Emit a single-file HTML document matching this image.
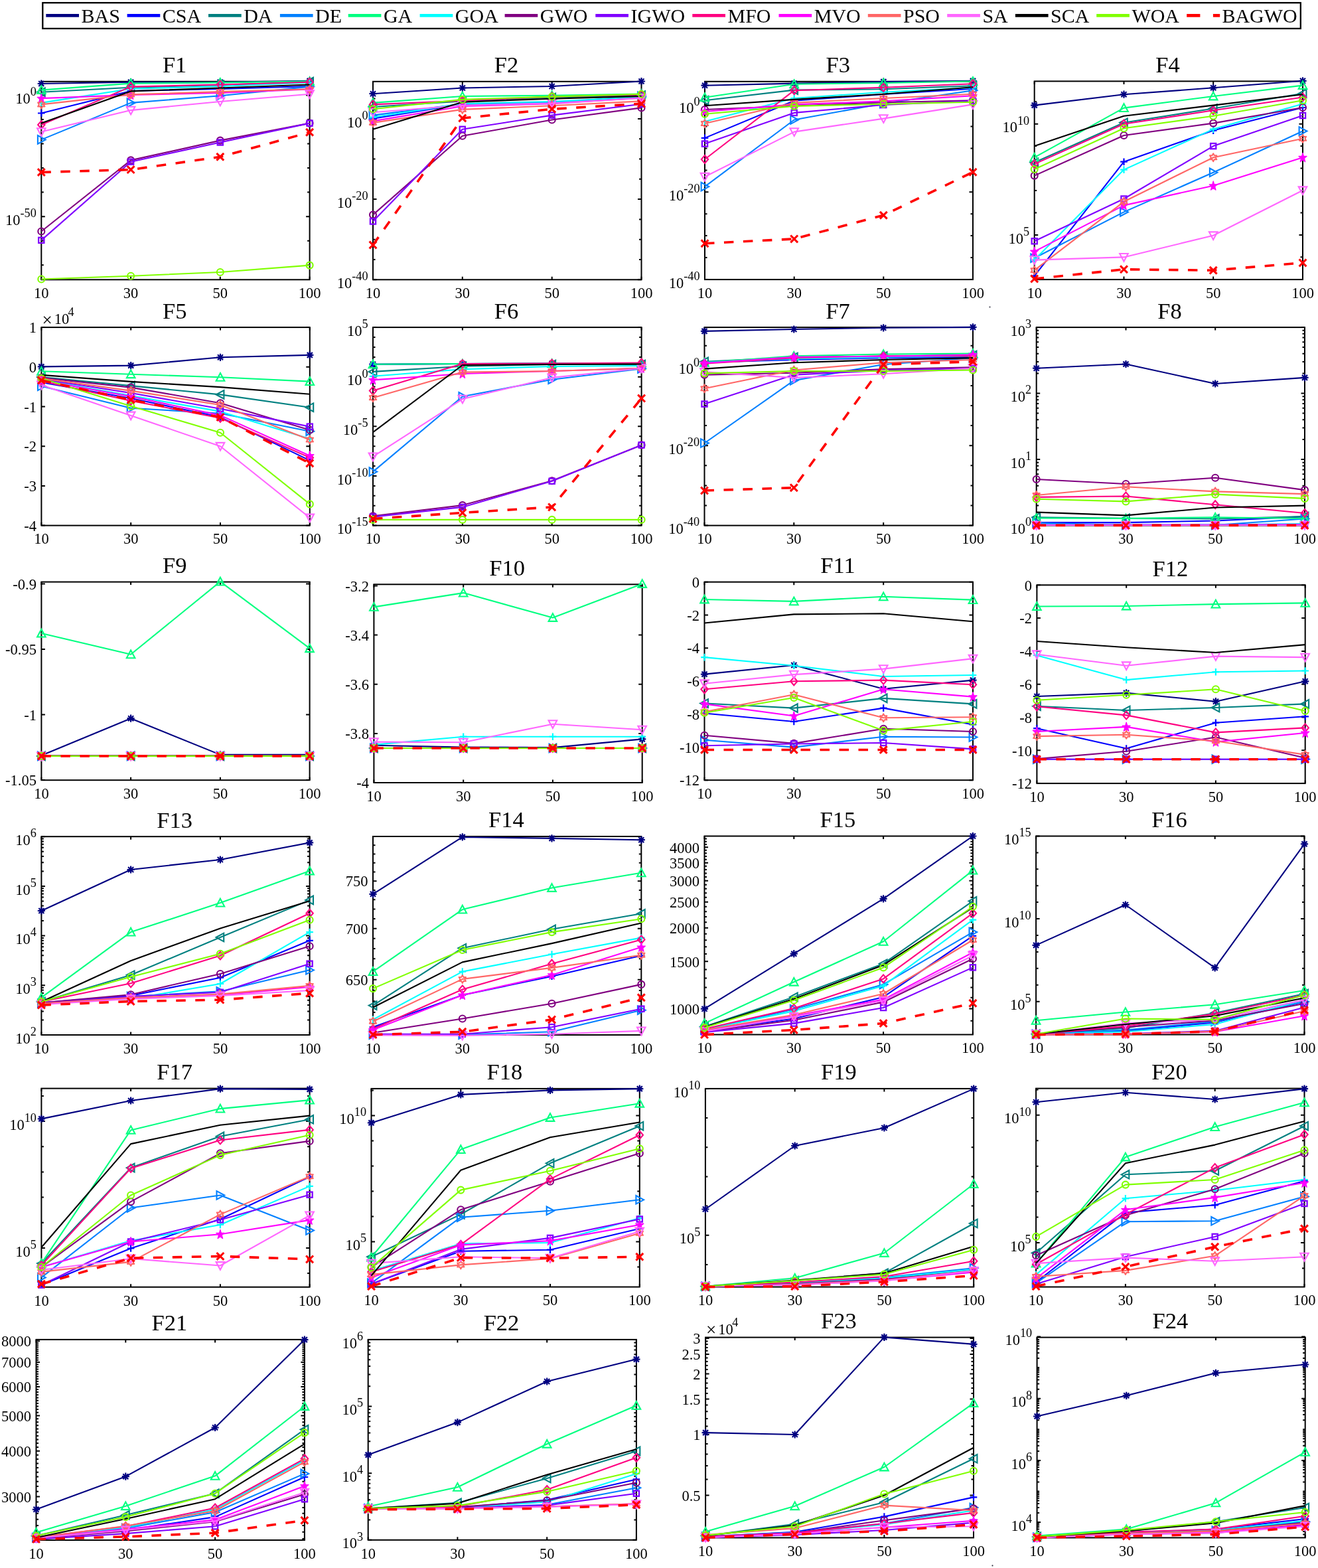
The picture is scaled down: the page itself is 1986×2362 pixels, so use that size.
<!DOCTYPE html>
<html><head><meta charset="utf-8"><style>
html,body{margin:0;padding:0;background:#fff;}
svg{display:block;}
.t{font-family:"Liberation Serif","Times New Roman",serif;font-size:22.5px;fill:#000;}
.ti{font-family:"Liberation Serif","Times New Roman",serif;font-size:34.5px;fill:#000;}
.tl{font-family:"Liberation Serif","Times New Roman",serif;font-size:30px;fill:#000;}
</style></head><body>
<svg width="1986" height="2362" viewBox="0 0 1986 2362">
<rect width="1986" height="2362" fill="#fff"/>
<rect x="64.3" y="4.2" width="1895.5" height="38.8" fill="#fff" stroke="#000" stroke-width="2.3"/>
<path d="M69.3 23.4H119.0" stroke="#000080" stroke-width="4.6"/>
<text x="122.5" y="34.2" class="tl">BAS</text>
<path d="M191.6 23.4H241.3" stroke="#0000FF" stroke-width="4.6"/>
<text x="244.8" y="34.2" class="tl">CSA</text>
<path d="M314.0 23.4H363.7" stroke="#008080" stroke-width="4.6"/>
<text x="367.2" y="34.2" class="tl">DA</text>
<path d="M421.9 23.4H471.6" stroke="#0080FF" stroke-width="4.6"/>
<text x="475.1" y="34.2" class="tl">DE</text>
<path d="M524.7 23.4H574.4" stroke="#00FF80" stroke-width="4.6"/>
<text x="577.9" y="34.2" class="tl">GA</text>
<path d="M632.6 23.4H682.3" stroke="#00FFFF" stroke-width="4.6"/>
<text x="685.8" y="34.2" class="tl">GOA</text>
<path d="M760.6 23.4H810.3" stroke="#800080" stroke-width="4.6"/>
<text x="813.8" y="34.2" class="tl">GWO</text>
<path d="M897.3 23.4H947.0" stroke="#8000FF" stroke-width="4.6"/>
<text x="950.5" y="34.2" class="tl">IGWO</text>
<path d="M1043.3 23.4H1093.0" stroke="#FF0080" stroke-width="4.6"/>
<text x="1096.5" y="34.2" class="tl">MFO</text>
<path d="M1173.5 23.4H1223.2" stroke="#FF00FF" stroke-width="4.6"/>
<text x="1226.7" y="34.2" class="tl">MVO</text>
<path d="M1307.8 23.4H1357.5" stroke="#FF6666" stroke-width="4.6"/>
<text x="1361.0" y="34.2" class="tl">PSO</text>
<path d="M1427.2 23.4H1476.9" stroke="#FF66FF" stroke-width="4.6"/>
<text x="1480.4" y="34.2" class="tl">SA</text>
<path d="M1529.9 23.4H1579.6" stroke="#000000" stroke-width="4.6"/>
<text x="1583.1" y="34.2" class="tl">SCA</text>
<path d="M1652.2 23.4H1701.9" stroke="#80FF00" stroke-width="4.6"/>
<text x="1705.4" y="34.2" class="tl">WOA</text>
<path d="M1788.2 23.4H1808.4M1827.9 23.4H1838.2" stroke="#FF0000" stroke-width="4.6"/>
<text x="1841.4" y="34.2" class="tl">BAGWO</text>
<circle cx="1491.5" cy="462.5" r="1.1" fill="#3a3a4a"/>
<circle cx="1495.5" cy="2358.4" r="1.1" fill="#3a3a4a"/>
<rect x="62.3" y="122.8" width="404.3" height="298.5" fill="none" stroke="#000" stroke-width="2.0"/>
<path d="M62.3 421.3V416.8M62.3 122.8V127.3" stroke="#000" stroke-width="2"/>
<text x="62.3" y="449.0" text-anchor="middle" class="t">10</text>
<path d="M197.1 421.3V416.8M197.1 122.8V127.3" stroke="#000" stroke-width="2"/>
<text x="197.1" y="449.0" text-anchor="middle" class="t">30</text>
<path d="M331.8 421.3V416.8M331.8 122.8V127.3" stroke="#000" stroke-width="2"/>
<text x="331.8" y="449.0" text-anchor="middle" class="t">50</text>
<path d="M466.6 421.3V416.8M466.6 122.8V127.3" stroke="#000" stroke-width="2"/>
<text x="466.6" y="449.0" text-anchor="middle" class="t">100</text>
<path d="M62.3 143.4H67.8M466.6 143.4H461.1" stroke="#000" stroke-width="2"/>
<text x="54.8" y="156.0" text-anchor="end" class="t">10<tspan font-size="18.2" dy="-11.8">0</tspan></text>
<path d="M62.3 326.2H67.8M466.6 326.2H461.1" stroke="#000" stroke-width="2"/>
<text x="54.8" y="338.8" text-anchor="end" class="t">10<tspan font-size="18.2" dy="-11.8">-50</tspan></text>
<path d="M62.3 399.3H65.8M466.6 399.3H463.1" stroke="#000" stroke-width="2"/>
<path d="M62.3 362.8H65.8M466.6 362.8H463.1" stroke="#000" stroke-width="2"/>
<path d="M62.3 289.6H65.8M466.6 289.6H463.1" stroke="#000" stroke-width="2"/>
<path d="M62.3 253.1H65.8M466.6 253.1H463.1" stroke="#000" stroke-width="2"/>
<path d="M62.3 216.5H65.8M466.6 216.5H463.1" stroke="#000" stroke-width="2"/>
<path d="M62.3 180.0H65.8M466.6 180.0H463.1" stroke="#000" stroke-width="2"/>
<polyline points="62.3,126.0 197.1,123.7 331.8,123.7 466.6,121.9" fill="none" stroke="#000080" stroke-width="2.1" stroke-linejoin="round"/>
<path d="M56.7 126.0H67.9M62.3 120.4V131.6M58.3 122.0L66.3 130.0M58.3 130.0L66.3 122.0" stroke="#000080" stroke-width="2.2"/>
<path d="M191.5 123.7H202.7M197.1 118.1V129.3M193.0 119.7L201.1 127.7M193.0 127.7L201.1 119.7" stroke="#000080" stroke-width="2.2"/>
<path d="M326.2 123.7H337.4M331.8 118.1V129.3M327.8 119.7L335.9 127.7M327.8 127.7L335.9 119.7" stroke="#000080" stroke-width="2.2"/>
<path d="M461.0 121.9H472.2M466.6 116.3V127.5M462.6 117.9L470.6 125.9M462.6 125.9L470.6 117.9" stroke="#000080" stroke-width="2.2"/>
<polyline points="62.3,170.5 197.1,137.0 331.8,134.0 466.6,130.0" fill="none" stroke="#0000FF" stroke-width="2.1" stroke-linejoin="round"/>
<path d="M57.0 170.5H67.6M62.3 165.2V175.8" stroke="#0000FF" stroke-width="2.2"/>
<path d="M191.8 137.0H202.4M197.1 131.7V142.3" stroke="#0000FF" stroke-width="2.2"/>
<path d="M326.5 134.0H337.1M331.8 128.7V139.3" stroke="#0000FF" stroke-width="2.2"/>
<path d="M461.3 130.0H471.9M466.6 124.7V135.3" stroke="#0000FF" stroke-width="2.2"/>
<polyline points="62.3,138.7 197.1,131.8 331.8,128.0 466.6,123.0" fill="none" stroke="#008080" stroke-width="2.1" stroke-linejoin="round"/>
<polygon points="56.0,138.7 67.7,132.4 67.7,145.0" fill="none" stroke="#008080" stroke-width="2.1" stroke-miterlimit="3"/>
<polygon points="190.8,131.8 202.4,125.5 202.4,138.1" fill="none" stroke="#008080" stroke-width="2.1" stroke-miterlimit="3"/>
<polygon points="325.5,128.0 337.2,121.7 337.2,134.3" fill="none" stroke="#008080" stroke-width="2.1" stroke-miterlimit="3"/>
<polygon points="460.3,123.0 472.0,116.7 472.0,129.3" fill="none" stroke="#008080" stroke-width="2.1" stroke-miterlimit="3"/>
<polyline points="62.3,210.4 197.1,154.9 331.8,144.3 466.6,130.6" fill="none" stroke="#0080FF" stroke-width="2.1" stroke-linejoin="round"/>
<polygon points="68.6,210.4 56.9,204.1 56.9,216.7" fill="none" stroke="#0080FF" stroke-width="2.1" stroke-miterlimit="3"/>
<polygon points="203.4,154.9 191.7,148.6 191.7,161.2" fill="none" stroke="#0080FF" stroke-width="2.1" stroke-miterlimit="3"/>
<polygon points="338.1,144.3 326.5,138.0 326.5,150.6" fill="none" stroke="#0080FF" stroke-width="2.1" stroke-miterlimit="3"/>
<polygon points="472.9,130.6 461.2,124.3 461.2,136.9" fill="none" stroke="#0080FF" stroke-width="2.1" stroke-miterlimit="3"/>
<polyline points="62.3,135.6 197.1,125.6 331.8,124.4 466.6,122.5" fill="none" stroke="#00FF80" stroke-width="2.1" stroke-linejoin="round"/>
<polygon points="62.3,129.3 68.6,141.0 56.0,141.0" fill="none" stroke="#00FF80" stroke-width="2.1" stroke-miterlimit="3"/>
<polygon points="197.1,119.3 203.4,131.0 190.8,131.0" fill="none" stroke="#00FF80" stroke-width="2.1" stroke-miterlimit="3"/>
<polygon points="331.8,118.1 338.1,129.8 325.5,129.8" fill="none" stroke="#00FF80" stroke-width="2.1" stroke-miterlimit="3"/>
<polygon points="466.6,116.2 472.9,127.9 460.3,127.9" fill="none" stroke="#00FF80" stroke-width="2.1" stroke-miterlimit="3"/>
<polyline points="62.3,154.9 197.1,133.7 331.8,130.0 466.6,124.5" fill="none" stroke="#00FFFF" stroke-width="2.1" stroke-linejoin="round"/>
<path d="M57.0 154.9H67.6M62.3 149.6V160.2" stroke="#00FFFF" stroke-width="2.2"/>
<path d="M191.8 133.7H202.4M197.1 128.4V139.0" stroke="#00FFFF" stroke-width="2.2"/>
<path d="M326.5 130.0H337.1M331.8 124.7V135.3" stroke="#00FFFF" stroke-width="2.2"/>
<path d="M461.3 124.5H471.9M466.6 119.2V129.8" stroke="#00FFFF" stroke-width="2.2"/>
<polyline points="62.3,348.5 197.1,241.4 331.8,211.6 466.6,185.6" fill="none" stroke="#800080" stroke-width="2.1" stroke-linejoin="round"/>
<circle cx="62.3" cy="348.5" r="5.0" fill="none" stroke="#800080" stroke-width="2.1"/>
<circle cx="197.1" cy="241.4" r="5.0" fill="none" stroke="#800080" stroke-width="2.1"/>
<circle cx="331.8" cy="211.6" r="5.0" fill="none" stroke="#800080" stroke-width="2.1"/>
<circle cx="466.6" cy="185.6" r="5.0" fill="none" stroke="#800080" stroke-width="2.1"/>
<polyline points="62.3,361.9 197.1,243.7 331.8,214.5 466.6,185.6" fill="none" stroke="#8000FF" stroke-width="2.1" stroke-linejoin="round"/>
<rect x="58.2" y="357.8" width="8.2" height="8.2" fill="none" stroke="#8000FF" stroke-width="2.3"/>
<rect x="193.0" y="239.6" width="8.2" height="8.2" fill="none" stroke="#8000FF" stroke-width="2.3"/>
<rect x="327.7" y="210.4" width="8.2" height="8.2" fill="none" stroke="#8000FF" stroke-width="2.3"/>
<rect x="462.5" y="181.5" width="8.2" height="8.2" fill="none" stroke="#8000FF" stroke-width="2.3"/>
<polyline points="62.3,188.0 197.1,130.6 331.8,127.5 466.6,123.7" fill="none" stroke="#FF0080" stroke-width="2.1" stroke-linejoin="round"/>
<polygon points="62.3,182.0 67.5,188.0 62.3,194.0 57.1,188.0" fill="none" stroke="#FF0080" stroke-width="2.1"/>
<polygon points="197.1,124.6 202.3,130.6 197.1,136.6 191.9,130.6" fill="none" stroke="#FF0080" stroke-width="2.1"/>
<polygon points="331.8,121.5 337.0,127.5 331.8,133.5 326.6,127.5" fill="none" stroke="#FF0080" stroke-width="2.1"/>
<polygon points="466.6,117.7 471.8,123.7 466.6,129.7 461.4,123.7" fill="none" stroke="#FF0080" stroke-width="2.1"/>
<polyline points="62.3,148.1 197.1,143.0 331.8,140.0 466.6,134.5" fill="none" stroke="#FF00FF" stroke-width="2.1" stroke-linejoin="round"/>
<polygon points="62.3,141.2 63.8,146.2 68.4,146.3 64.8,149.5 66.0,154.6 62.3,151.6 58.6,154.6 59.8,149.5 56.2,146.3 60.8,146.2" fill="#FF00FF" stroke="#FF00FF" stroke-width="1.2" stroke-linejoin="round"/>
<polygon points="197.1,136.1 198.6,141.1 203.1,141.2 199.5,144.4 200.8,149.5 197.1,146.5 193.3,149.5 194.6,144.4 191.0,141.2 195.6,141.1" fill="#FF00FF" stroke="#FF00FF" stroke-width="1.2" stroke-linejoin="round"/>
<polygon points="331.8,133.1 333.3,138.1 337.9,138.2 334.3,141.4 335.6,146.5 331.8,143.5 328.1,146.5 329.4,141.4 325.8,138.2 330.3,138.1" fill="#FF00FF" stroke="#FF00FF" stroke-width="1.2" stroke-linejoin="round"/>
<polygon points="466.6,127.6 468.1,132.6 472.7,132.7 469.1,135.9 470.3,141.0 466.6,138.0 462.9,141.0 464.1,135.9 460.5,132.7 465.1,132.6" fill="#FF00FF" stroke="#FF00FF" stroke-width="1.2" stroke-linejoin="round"/>
<polyline points="62.3,157.4 197.1,142.4 331.8,138.1 466.6,134.3" fill="none" stroke="#FF6666" stroke-width="2.1" stroke-linejoin="round"/>
<polygon points="62.3,151.4 64.0,154.5 67.5,154.4 65.7,157.4 67.5,160.4 64.0,160.3 62.3,163.4 60.6,160.3 57.1,160.4 58.9,157.4 57.1,154.4 60.6,154.5" fill="none" stroke="#FF6666" stroke-width="2.0" stroke-linejoin="round"/>
<polygon points="197.1,136.4 198.8,139.5 202.3,139.4 200.5,142.4 202.3,145.4 198.8,145.3 197.1,148.4 195.4,145.3 191.9,145.4 193.7,142.4 191.9,139.4 195.4,139.5" fill="none" stroke="#FF6666" stroke-width="2.0" stroke-linejoin="round"/>
<polygon points="331.8,132.1 333.5,135.2 337.0,135.1 335.2,138.1 337.0,141.1 333.5,141.0 331.8,144.1 330.1,141.0 326.6,141.1 328.4,138.1 326.6,135.1 330.1,135.2" fill="none" stroke="#FF6666" stroke-width="2.0" stroke-linejoin="round"/>
<polygon points="466.6,128.3 468.3,131.4 471.8,131.3 470.0,134.3 471.8,137.3 468.3,137.2 466.6,140.3 464.9,137.2 461.4,137.3 463.2,134.3 461.4,131.3 464.9,131.4" fill="none" stroke="#FF6666" stroke-width="2.0" stroke-linejoin="round"/>
<polyline points="62.3,198.6 197.1,166.1 331.8,153.0 466.6,141.8" fill="none" stroke="#FF66FF" stroke-width="2.1" stroke-linejoin="round"/>
<polygon points="62.3,204.9 68.6,193.2 56.0,193.2" fill="none" stroke="#FF66FF" stroke-width="2.1" stroke-miterlimit="3"/>
<polygon points="197.1,172.4 203.4,160.7 190.8,160.7" fill="none" stroke="#FF66FF" stroke-width="2.1" stroke-miterlimit="3"/>
<polygon points="331.8,159.3 338.1,147.6 325.5,147.6" fill="none" stroke="#FF66FF" stroke-width="2.1" stroke-miterlimit="3"/>
<polygon points="466.6,148.1 472.9,136.4 460.3,136.4" fill="none" stroke="#FF66FF" stroke-width="2.1" stroke-miterlimit="3"/>
<polyline points="62.3,185.5 197.1,137.4 331.8,132.5 466.6,127.5" fill="none" stroke="#000000" stroke-width="2.1" stroke-linejoin="round"/>




<polyline points="62.3,420.5 197.1,415.7 331.8,410.0 466.6,399.6" fill="none" stroke="#80FF00" stroke-width="2.1" stroke-linejoin="round"/>
<circle cx="62.3" cy="420.5" r="5.0" fill="none" stroke="#80FF00" stroke-width="2.1"/>
<circle cx="197.1" cy="415.7" r="5.0" fill="none" stroke="#80FF00" stroke-width="2.1"/>
<circle cx="331.8" cy="410.0" r="5.0" fill="none" stroke="#80FF00" stroke-width="2.1"/>
<circle cx="466.6" cy="399.6" r="5.0" fill="none" stroke="#80FF00" stroke-width="2.1"/>
<polyline points="62.3,259.5 197.1,255.6 331.8,236.3 466.6,199.3" fill="none" stroke="#FF0000" stroke-width="3.6" stroke-dasharray="14.5,14.5" stroke-linejoin="round"/>
<path d="M56.9 254.1L67.7 264.9M56.9 264.9L67.7 254.1" stroke="#FF0000" stroke-width="3.1"/>
<path d="M191.7 250.2L202.5 261.0M191.7 261.0L202.5 250.2" stroke="#FF0000" stroke-width="3.1"/>
<path d="M326.4 230.9L337.2 241.7M326.4 241.7L337.2 230.9" stroke="#FF0000" stroke-width="3.1"/>
<path d="M461.2 193.9L472.0 204.7M461.2 204.7L472.0 193.9" stroke="#FF0000" stroke-width="3.1"/>
<text x="263.1" y="109.2" text-anchor="middle" class="ti">F1</text>
<rect x="562.0" y="122.8" width="404.5" height="298.5" fill="none" stroke="#000" stroke-width="2.0"/>
<path d="M562.0 421.3V416.8M562.0 122.8V127.3" stroke="#000" stroke-width="2"/>
<text x="562.0" y="449.0" text-anchor="middle" class="t">10</text>
<path d="M696.8 421.3V416.8M696.8 122.8V127.3" stroke="#000" stroke-width="2"/>
<text x="696.8" y="449.0" text-anchor="middle" class="t">30</text>
<path d="M831.7 421.3V416.8M831.7 122.8V127.3" stroke="#000" stroke-width="2"/>
<text x="831.7" y="449.0" text-anchor="middle" class="t">50</text>
<path d="M966.5 421.3V416.8M966.5 122.8V127.3" stroke="#000" stroke-width="2"/>
<text x="966.5" y="449.0" text-anchor="middle" class="t">100</text>
<path d="M562.0 178.9H567.5M966.5 178.9H961.0" stroke="#000" stroke-width="2"/>
<text x="554.5" y="191.5" text-anchor="end" class="t">10<tspan font-size="18.2" dy="-11.8">0</tspan></text>
<path d="M562.0 300.1H567.5M966.5 300.1H961.0" stroke="#000" stroke-width="2"/>
<text x="554.5" y="312.7" text-anchor="end" class="t">10<tspan font-size="18.2" dy="-11.8">-20</tspan></text>
<path d="M562.0 421.3H567.5M966.5 421.3H961.0" stroke="#000" stroke-width="2"/>
<text x="554.5" y="433.9" text-anchor="end" class="t">10<tspan font-size="18.2" dy="-11.8">-40</tspan></text>
<path d="M562.0 391.0H565.5M966.5 391.0H963.0" stroke="#000" stroke-width="2"/>
<path d="M562.0 360.7H565.5M966.5 360.7H963.0" stroke="#000" stroke-width="2"/>
<path d="M562.0 330.4H565.5M966.5 330.4H963.0" stroke="#000" stroke-width="2"/>
<path d="M562.0 269.8H565.5M966.5 269.8H963.0" stroke="#000" stroke-width="2"/>
<path d="M562.0 239.5H565.5M966.5 239.5H963.0" stroke="#000" stroke-width="2"/>
<path d="M562.0 209.2H565.5M966.5 209.2H963.0" stroke="#000" stroke-width="2"/>
<path d="M562.0 148.6H565.5M966.5 148.6H963.0" stroke="#000" stroke-width="2"/>
<polyline points="562.0,141.2 696.8,132.5 831.7,130.0 966.5,122.5" fill="none" stroke="#000080" stroke-width="2.1" stroke-linejoin="round"/>
<path d="M556.4 141.2H567.6M562.0 135.6V146.8M558.0 137.2L566.0 145.2M558.0 145.2L566.0 137.2" stroke="#000080" stroke-width="2.2"/>
<path d="M691.2 132.5H702.4M696.8 126.9V138.1M692.8 128.5L700.9 136.5M692.8 136.5L700.9 128.5" stroke="#000080" stroke-width="2.2"/>
<path d="M826.1 130.0H837.3M831.7 124.4V135.6M827.6 126.0L835.7 134.0M827.6 134.0L835.7 126.0" stroke="#000080" stroke-width="2.2"/>
<path d="M960.9 122.5H972.1M966.5 116.9V128.1M962.5 118.5L970.5 126.5M962.5 126.5L970.5 118.5" stroke="#000080" stroke-width="2.2"/>
<polyline points="562.0,178.6 696.8,156.8 831.7,154.9 966.5,145.5" fill="none" stroke="#0000FF" stroke-width="2.1" stroke-linejoin="round"/>
<path d="M556.7 178.6H567.3M562.0 173.3V183.9" stroke="#0000FF" stroke-width="2.2"/>
<path d="M691.5 156.8H702.1M696.8 151.5V162.1" stroke="#0000FF" stroke-width="2.2"/>
<path d="M826.4 154.9H837.0M831.7 149.6V160.2" stroke="#0000FF" stroke-width="2.2"/>
<path d="M961.2 145.5H971.8M966.5 140.2V150.8" stroke="#0000FF" stroke-width="2.2"/>
<polyline points="562.0,161.0 696.8,152.5 831.7,147.0 966.5,143.5" fill="none" stroke="#008080" stroke-width="2.1" stroke-linejoin="round"/>
<polygon points="555.7,161.0 567.4,154.7 567.4,167.3" fill="none" stroke="#008080" stroke-width="2.1" stroke-miterlimit="3"/>
<polygon points="690.5,152.5 702.2,146.2 702.2,158.8" fill="none" stroke="#008080" stroke-width="2.1" stroke-miterlimit="3"/>
<polygon points="825.4,147.0 837.0,140.7 837.0,153.3" fill="none" stroke="#008080" stroke-width="2.1" stroke-miterlimit="3"/>
<polygon points="960.2,143.5 971.9,137.2 971.9,149.8" fill="none" stroke="#008080" stroke-width="2.1" stroke-miterlimit="3"/>
<polyline points="562.0,173.6 696.8,156.5 831.7,154.9 966.5,144.9" fill="none" stroke="#0080FF" stroke-width="2.1" stroke-linejoin="round"/>
<polygon points="568.3,173.6 556.6,167.3 556.6,179.9" fill="none" stroke="#0080FF" stroke-width="2.1" stroke-miterlimit="3"/>
<polygon points="703.1,156.5 691.5,150.2 691.5,162.8" fill="none" stroke="#0080FF" stroke-width="2.1" stroke-miterlimit="3"/>
<polygon points="838.0,154.9 826.3,148.6 826.3,161.2" fill="none" stroke="#0080FF" stroke-width="2.1" stroke-miterlimit="3"/>
<polygon points="972.8,144.9 961.1,138.6 961.1,151.2" fill="none" stroke="#0080FF" stroke-width="2.1" stroke-miterlimit="3"/>
<polyline points="562.0,154.9 696.8,145.0 831.7,143.7 966.5,141.5" fill="none" stroke="#00FF80" stroke-width="2.1" stroke-linejoin="round"/>
<polygon points="562.0,148.6 568.3,160.3 555.7,160.3" fill="none" stroke="#00FF80" stroke-width="2.1" stroke-miterlimit="3"/>
<polygon points="696.8,138.7 703.1,150.4 690.5,150.4" fill="none" stroke="#00FF80" stroke-width="2.1" stroke-miterlimit="3"/>
<polygon points="831.7,137.4 838.0,149.1 825.4,149.1" fill="none" stroke="#00FF80" stroke-width="2.1" stroke-miterlimit="3"/>
<polygon points="966.5,135.2 972.8,146.9 960.2,146.9" fill="none" stroke="#00FF80" stroke-width="2.1" stroke-miterlimit="3"/>
<polyline points="562.0,176.7 696.8,156.0 831.7,153.0 966.5,146.0" fill="none" stroke="#00FFFF" stroke-width="2.1" stroke-linejoin="round"/>
<path d="M556.7 176.7H567.3M562.0 171.4V182.0" stroke="#00FFFF" stroke-width="2.2"/>
<path d="M691.5 156.0H702.1M696.8 150.7V161.3" stroke="#00FFFF" stroke-width="2.2"/>
<path d="M826.4 153.0H837.0M831.7 147.7V158.3" stroke="#00FFFF" stroke-width="2.2"/>
<path d="M961.2 146.0H971.8M966.5 140.7V151.3" stroke="#00FFFF" stroke-width="2.2"/>
<polyline points="562.0,323.6 696.8,204.8 831.7,180.5 966.5,162.4" fill="none" stroke="#800080" stroke-width="2.1" stroke-linejoin="round"/>
<circle cx="562.0" cy="323.6" r="5.0" fill="none" stroke="#800080" stroke-width="2.1"/>
<circle cx="696.8" cy="204.8" r="5.0" fill="none" stroke="#800080" stroke-width="2.1"/>
<circle cx="831.7" cy="180.5" r="5.0" fill="none" stroke="#800080" stroke-width="2.1"/>
<circle cx="966.5" cy="162.4" r="5.0" fill="none" stroke="#800080" stroke-width="2.1"/>
<polyline points="562.0,333.5 696.8,194.8 831.7,173.6 966.5,156.8" fill="none" stroke="#8000FF" stroke-width="2.1" stroke-linejoin="round"/>
<rect x="557.9" y="329.4" width="8.2" height="8.2" fill="none" stroke="#8000FF" stroke-width="2.3"/>
<rect x="692.7" y="190.7" width="8.2" height="8.2" fill="none" stroke="#8000FF" stroke-width="2.3"/>
<rect x="827.6" y="169.5" width="8.2" height="8.2" fill="none" stroke="#8000FF" stroke-width="2.3"/>
<rect x="962.4" y="152.7" width="8.2" height="8.2" fill="none" stroke="#8000FF" stroke-width="2.3"/>
<polyline points="562.0,157.4 696.8,151.8 831.7,145.6 966.5,142.5" fill="none" stroke="#FF0080" stroke-width="2.1" stroke-linejoin="round"/>
<polygon points="562.0,151.4 567.2,157.4 562.0,163.4 556.8,157.4" fill="none" stroke="#FF0080" stroke-width="2.1"/>
<polygon points="696.8,145.8 702.0,151.8 696.8,157.8 691.6,151.8" fill="none" stroke="#FF0080" stroke-width="2.1"/>
<polygon points="831.7,139.6 836.9,145.6 831.7,151.6 826.5,145.6" fill="none" stroke="#FF0080" stroke-width="2.1"/>
<polygon points="966.5,136.5 971.7,142.5 966.5,148.5 961.3,142.5" fill="none" stroke="#FF0080" stroke-width="2.1"/>
<polyline points="562.0,182.4 696.8,160.0 831.7,156.2 966.5,147.5" fill="none" stroke="#FF00FF" stroke-width="2.1" stroke-linejoin="round"/>
<polygon points="562.0,175.5 563.5,180.5 568.1,180.6 564.5,183.8 565.7,188.9 562.0,185.9 558.3,188.9 559.5,183.8 555.9,180.6 560.5,180.5" fill="#FF00FF" stroke="#FF00FF" stroke-width="1.2" stroke-linejoin="round"/>
<polygon points="696.8,153.1 698.3,158.1 702.9,158.2 699.3,161.4 700.6,166.5 696.8,163.5 693.1,166.5 694.4,161.4 690.8,158.2 695.3,158.1" fill="#FF00FF" stroke="#FF00FF" stroke-width="1.2" stroke-linejoin="round"/>
<polygon points="831.7,149.3 833.2,154.3 837.7,154.4 834.1,157.6 835.4,162.7 831.7,159.7 827.9,162.7 829.2,157.6 825.6,154.4 830.2,154.3" fill="#FF00FF" stroke="#FF00FF" stroke-width="1.2" stroke-linejoin="round"/>
<polygon points="966.5,140.6 968.0,145.6 972.6,145.7 969.0,148.9 970.2,154.0 966.5,151.0 962.8,154.0 964.0,148.9 960.4,145.7 965.0,145.6" fill="#FF00FF" stroke="#FF00FF" stroke-width="1.2" stroke-linejoin="round"/>
<polyline points="562.0,184.9 696.8,164.9 831.7,159.3 966.5,152.4" fill="none" stroke="#FF6666" stroke-width="2.1" stroke-linejoin="round"/>
<polygon points="562.0,178.9 563.7,182.0 567.2,181.9 565.4,184.9 567.2,187.9 563.7,187.8 562.0,190.9 560.3,187.8 556.8,187.9 558.6,184.9 556.8,181.9 560.3,182.0" fill="none" stroke="#FF6666" stroke-width="2.0" stroke-linejoin="round"/>
<polygon points="696.8,158.9 698.5,162.0 702.0,161.9 700.2,164.9 702.0,167.9 698.5,167.8 696.8,170.9 695.1,167.8 691.6,167.9 693.4,164.9 691.6,161.9 695.1,162.0" fill="none" stroke="#FF6666" stroke-width="2.0" stroke-linejoin="round"/>
<polygon points="831.7,153.3 833.4,156.4 836.9,156.3 835.1,159.3 836.9,162.3 833.4,162.2 831.7,165.3 830.0,162.2 826.5,162.3 828.3,159.3 826.5,156.3 830.0,156.4" fill="none" stroke="#FF6666" stroke-width="2.0" stroke-linejoin="round"/>
<polygon points="966.5,146.4 968.2,149.5 971.7,149.4 969.9,152.4 971.7,155.4 968.2,155.3 966.5,158.4 964.8,155.3 961.3,155.4 963.1,152.4 961.3,149.4 964.8,149.5" fill="none" stroke="#FF6666" stroke-width="2.0" stroke-linejoin="round"/>
<polyline points="562.0,169.3 696.8,158.7 831.7,155.5 966.5,148.0" fill="none" stroke="#FF66FF" stroke-width="2.1" stroke-linejoin="round"/>
<polygon points="562.0,175.6 568.3,163.9 555.7,163.9" fill="none" stroke="#FF66FF" stroke-width="2.1" stroke-miterlimit="3"/>
<polygon points="696.8,165.0 703.1,153.3 690.5,153.3" fill="none" stroke="#FF66FF" stroke-width="2.1" stroke-miterlimit="3"/>
<polygon points="831.7,161.8 838.0,150.1 825.4,150.1" fill="none" stroke="#FF66FF" stroke-width="2.1" stroke-miterlimit="3"/>
<polygon points="966.5,154.3 972.8,142.6 960.2,142.6" fill="none" stroke="#FF66FF" stroke-width="2.1" stroke-miterlimit="3"/>
<polyline points="562.0,194.8 696.8,153.7 831.7,148.7 966.5,144.9" fill="none" stroke="#000000" stroke-width="2.1" stroke-linejoin="round"/>




<polyline points="562.0,164.3 696.8,149.9 831.7,145.6 966.5,141.8" fill="none" stroke="#80FF00" stroke-width="2.1" stroke-linejoin="round"/>
<circle cx="562.0" cy="164.3" r="5.0" fill="none" stroke="#80FF00" stroke-width="2.1"/>
<circle cx="696.8" cy="149.9" r="5.0" fill="none" stroke="#80FF00" stroke-width="2.1"/>
<circle cx="831.7" cy="145.6" r="5.0" fill="none" stroke="#80FF00" stroke-width="2.1"/>
<circle cx="966.5" cy="141.8" r="5.0" fill="none" stroke="#80FF00" stroke-width="2.1"/>
<polyline points="562.0,369.0 696.8,178.0 831.7,164.3 966.5,156.2" fill="none" stroke="#FF0000" stroke-width="3.6" stroke-dasharray="14.5,14.5" stroke-linejoin="round"/>
<path d="M556.6 363.6L567.4 374.4M556.6 374.4L567.4 363.6" stroke="#FF0000" stroke-width="3.1"/>
<path d="M691.4 172.6L702.2 183.4M691.4 183.4L702.2 172.6" stroke="#FF0000" stroke-width="3.1"/>
<path d="M826.3 158.9L837.1 169.7M826.3 169.7L837.1 158.9" stroke="#FF0000" stroke-width="3.1"/>
<path d="M961.1 150.8L971.9 161.6M961.1 161.6L971.9 150.8" stroke="#FF0000" stroke-width="3.1"/>
<text x="763.0" y="109.2" text-anchor="middle" class="ti">F2</text>
<rect x="1062.0" y="122.8" width="404.0" height="298.3" fill="none" stroke="#000" stroke-width="2.0"/>
<path d="M1062.0 421.1V416.6M1062.0 122.8V127.3" stroke="#000" stroke-width="2"/>
<text x="1062.0" y="448.8" text-anchor="middle" class="t">10</text>
<path d="M1196.7 421.1V416.6M1196.7 122.8V127.3" stroke="#000" stroke-width="2"/>
<text x="1196.7" y="448.8" text-anchor="middle" class="t">30</text>
<path d="M1331.3 421.1V416.6M1331.3 122.8V127.3" stroke="#000" stroke-width="2"/>
<text x="1331.3" y="448.8" text-anchor="middle" class="t">50</text>
<path d="M1466.0 421.1V416.6M1466.0 122.8V127.3" stroke="#000" stroke-width="2"/>
<text x="1466.0" y="448.8" text-anchor="middle" class="t">100</text>
<path d="M1062.0 157.7H1067.5M1466.0 157.7H1460.5" stroke="#000" stroke-width="2"/>
<text x="1054.5" y="170.3" text-anchor="end" class="t">10<tspan font-size="18.2" dy="-11.8">0</tspan></text>
<path d="M1062.0 289.3H1067.5M1466.0 289.3H1460.5" stroke="#000" stroke-width="2"/>
<text x="1054.5" y="301.9" text-anchor="end" class="t">10<tspan font-size="18.2" dy="-11.8">-20</tspan></text>
<path d="M1062.0 420.9H1067.5M1466.0 420.9H1460.5" stroke="#000" stroke-width="2"/>
<text x="1054.5" y="433.5" text-anchor="end" class="t">10<tspan font-size="18.2" dy="-11.8">-40</tspan></text>
<path d="M1062.0 388.0H1065.5M1466.0 388.0H1462.5" stroke="#000" stroke-width="2"/>
<path d="M1062.0 355.1H1065.5M1466.0 355.1H1462.5" stroke="#000" stroke-width="2"/>
<path d="M1062.0 322.2H1065.5M1466.0 322.2H1462.5" stroke="#000" stroke-width="2"/>
<path d="M1062.0 256.4H1065.5M1466.0 256.4H1462.5" stroke="#000" stroke-width="2"/>
<path d="M1062.0 223.5H1065.5M1466.0 223.5H1462.5" stroke="#000" stroke-width="2"/>
<path d="M1062.0 190.6H1065.5M1466.0 190.6H1462.5" stroke="#000" stroke-width="2"/>
<path d="M1062.0 124.8H1065.5M1466.0 124.8H1462.5" stroke="#000" stroke-width="2"/>
<polyline points="1062.0,128.7 1196.7,125.6 1331.3,123.1 1466.0,121.9" fill="none" stroke="#000080" stroke-width="2.1" stroke-linejoin="round"/>
<path d="M1056.4 128.7H1067.6M1062.0 123.1V134.3M1058.0 124.7L1066.0 132.7M1058.0 132.7L1066.0 124.7" stroke="#000080" stroke-width="2.2"/>
<path d="M1191.1 125.6H1202.3M1196.7 120.0V131.2M1192.6 121.6L1200.7 129.6M1192.6 129.6L1200.7 121.6" stroke="#000080" stroke-width="2.2"/>
<path d="M1325.7 123.1H1336.9M1331.3 117.5V128.7M1327.3 119.1L1335.4 127.1M1327.3 127.1L1335.4 119.1" stroke="#000080" stroke-width="2.2"/>
<path d="M1460.4 121.9H1471.6M1466.0 116.3V127.5M1462.0 117.9L1470.0 125.9M1462.0 125.9L1470.0 117.9" stroke="#000080" stroke-width="2.2"/>
<polyline points="1062.0,207.9 1196.7,151.8 1331.3,142.0 1466.0,133.7" fill="none" stroke="#0000FF" stroke-width="2.1" stroke-linejoin="round"/>
<path d="M1056.7 207.9H1067.3M1062.0 202.6V213.2" stroke="#0000FF" stroke-width="2.2"/>
<path d="M1191.4 151.8H1202.0M1196.7 146.5V157.1" stroke="#0000FF" stroke-width="2.2"/>
<path d="M1326.0 142.0H1336.6M1331.3 136.7V147.3" stroke="#0000FF" stroke-width="2.2"/>
<path d="M1460.7 133.7H1471.3M1466.0 128.4V139.0" stroke="#0000FF" stroke-width="2.2"/>
<polyline points="1062.0,151.2 1196.7,135.6 1331.3,134.3 1466.0,129.3" fill="none" stroke="#008080" stroke-width="2.1" stroke-linejoin="round"/>
<polygon points="1055.7,151.2 1067.4,144.9 1067.4,157.5" fill="none" stroke="#008080" stroke-width="2.1" stroke-miterlimit="3"/>
<polygon points="1190.4,135.6 1202.0,129.3 1202.0,141.9" fill="none" stroke="#008080" stroke-width="2.1" stroke-miterlimit="3"/>
<polygon points="1325.0,134.3 1336.7,128.0 1336.7,140.6" fill="none" stroke="#008080" stroke-width="2.1" stroke-miterlimit="3"/>
<polygon points="1459.7,129.3 1471.4,123.0 1471.4,135.6" fill="none" stroke="#008080" stroke-width="2.1" stroke-miterlimit="3"/>
<polyline points="1062.0,281.1 1196.7,180.5 1331.3,156.0 1466.0,136.2" fill="none" stroke="#0080FF" stroke-width="2.1" stroke-linejoin="round"/>
<polygon points="1068.3,281.1 1056.6,274.8 1056.6,287.4" fill="none" stroke="#0080FF" stroke-width="2.1" stroke-miterlimit="3"/>
<polygon points="1203.0,180.5 1191.3,174.2 1191.3,186.8" fill="none" stroke="#0080FF" stroke-width="2.1" stroke-miterlimit="3"/>
<polygon points="1337.6,156.0 1326.0,149.7 1326.0,162.3" fill="none" stroke="#0080FF" stroke-width="2.1" stroke-miterlimit="3"/>
<polygon points="1472.3,136.2 1460.6,129.9 1460.6,142.5" fill="none" stroke="#0080FF" stroke-width="2.1" stroke-miterlimit="3"/>
<polyline points="1062.0,146.8 1196.7,126.8 1331.3,125.0 1466.0,122.5" fill="none" stroke="#00FF80" stroke-width="2.1" stroke-linejoin="round"/>
<polygon points="1062.0,140.5 1068.3,152.2 1055.7,152.2" fill="none" stroke="#00FF80" stroke-width="2.1" stroke-miterlimit="3"/>
<polygon points="1196.7,120.5 1203.0,132.2 1190.4,132.2" fill="none" stroke="#00FF80" stroke-width="2.1" stroke-miterlimit="3"/>
<polygon points="1331.3,118.7 1337.6,130.4 1325.0,130.4" fill="none" stroke="#00FF80" stroke-width="2.1" stroke-miterlimit="3"/>
<polygon points="1466.0,116.2 1472.3,127.9 1459.7,127.9" fill="none" stroke="#00FF80" stroke-width="2.1" stroke-miterlimit="3"/>
<polyline points="1062.0,183.0 1196.7,148.0 1331.3,138.7 1466.0,132.0" fill="none" stroke="#00FFFF" stroke-width="2.1" stroke-linejoin="round"/>
<path d="M1056.7 183.0H1067.3M1062.0 177.7V188.3" stroke="#00FFFF" stroke-width="2.2"/>
<path d="M1191.4 148.0H1202.0M1196.7 142.7V153.3" stroke="#00FFFF" stroke-width="2.2"/>
<path d="M1326.0 138.7H1336.6M1331.3 133.4V144.0" stroke="#00FFFF" stroke-width="2.2"/>
<path d="M1460.7 132.0H1471.3M1466.0 126.7V137.3" stroke="#00FFFF" stroke-width="2.2"/>
<polyline points="1062.0,165.0 1196.7,159.5 1331.3,154.3 1466.0,151.2" fill="none" stroke="#800080" stroke-width="2.1" stroke-linejoin="round"/>
<circle cx="1062.0" cy="165.0" r="5.0" fill="none" stroke="#800080" stroke-width="2.1"/>
<circle cx="1196.7" cy="159.5" r="5.0" fill="none" stroke="#800080" stroke-width="2.1"/>
<circle cx="1331.3" cy="154.3" r="5.0" fill="none" stroke="#800080" stroke-width="2.1"/>
<circle cx="1466.0" cy="151.2" r="5.0" fill="none" stroke="#800080" stroke-width="2.1"/>
<polyline points="1062.0,216.6 1196.7,169.9 1331.3,158.0 1466.0,152.0" fill="none" stroke="#8000FF" stroke-width="2.1" stroke-linejoin="round"/>
<rect x="1057.9" y="212.5" width="8.2" height="8.2" fill="none" stroke="#8000FF" stroke-width="2.3"/>
<rect x="1192.6" y="165.8" width="8.2" height="8.2" fill="none" stroke="#8000FF" stroke-width="2.3"/>
<rect x="1327.2" y="153.9" width="8.2" height="8.2" fill="none" stroke="#8000FF" stroke-width="2.3"/>
<rect x="1461.9" y="147.9" width="8.2" height="8.2" fill="none" stroke="#8000FF" stroke-width="2.3"/>
<polyline points="1062.0,240.0 1196.7,136.2 1331.3,131.8 1466.0,126.2" fill="none" stroke="#FF0080" stroke-width="2.1" stroke-linejoin="round"/>
<polygon points="1062.0,234.0 1067.2,240.0 1062.0,246.0 1056.8,240.0" fill="none" stroke="#FF0080" stroke-width="2.1"/>
<polygon points="1196.7,130.2 1201.9,136.2 1196.7,142.2 1191.5,136.2" fill="none" stroke="#FF0080" stroke-width="2.1"/>
<polygon points="1331.3,125.8 1336.5,131.8 1331.3,137.8 1326.1,131.8" fill="none" stroke="#FF0080" stroke-width="2.1"/>
<polygon points="1466.0,120.2 1471.2,126.2 1466.0,132.2 1460.8,126.2" fill="none" stroke="#FF0080" stroke-width="2.1"/>
<polyline points="1062.0,168.0 1196.7,157.4 1331.3,152.4 1466.0,144.3" fill="none" stroke="#FF00FF" stroke-width="2.1" stroke-linejoin="round"/>
<polygon points="1062.0,161.1 1063.5,166.1 1068.1,166.2 1064.5,169.4 1065.7,174.5 1062.0,171.5 1058.3,174.5 1059.5,169.4 1055.9,166.2 1060.5,166.1" fill="#FF00FF" stroke="#FF00FF" stroke-width="1.2" stroke-linejoin="round"/>
<polygon points="1196.7,150.5 1198.2,155.5 1202.7,155.6 1199.1,158.8 1200.4,163.9 1196.7,160.9 1192.9,163.9 1194.2,158.8 1190.6,155.6 1195.2,155.5" fill="#FF00FF" stroke="#FF00FF" stroke-width="1.2" stroke-linejoin="round"/>
<polygon points="1331.3,145.5 1332.8,150.5 1337.4,150.6 1333.8,153.8 1335.1,158.9 1331.3,155.9 1327.6,158.9 1328.9,153.8 1325.3,150.6 1329.8,150.5" fill="#FF00FF" stroke="#FF00FF" stroke-width="1.2" stroke-linejoin="round"/>
<polygon points="1466.0,137.4 1467.5,142.4 1472.1,142.5 1468.5,145.7 1469.7,150.8 1466.0,147.8 1462.3,150.8 1463.5,145.7 1459.9,142.5 1464.5,142.4" fill="#FF00FF" stroke="#FF00FF" stroke-width="1.2" stroke-linejoin="round"/>
<polyline points="1062.0,186.1 1196.7,154.9 1331.3,148.0 1466.0,141.8" fill="none" stroke="#FF6666" stroke-width="2.1" stroke-linejoin="round"/>
<polygon points="1062.0,180.1 1063.7,183.2 1067.2,183.1 1065.4,186.1 1067.2,189.1 1063.7,189.0 1062.0,192.1 1060.3,189.0 1056.8,189.1 1058.6,186.1 1056.8,183.1 1060.3,183.2" fill="none" stroke="#FF6666" stroke-width="2.0" stroke-linejoin="round"/>
<polygon points="1196.7,148.9 1198.4,152.0 1201.9,151.9 1200.1,154.9 1201.9,157.9 1198.4,157.8 1196.7,160.9 1195.0,157.8 1191.5,157.9 1193.3,154.9 1191.5,151.9 1195.0,152.0" fill="none" stroke="#FF6666" stroke-width="2.0" stroke-linejoin="round"/>
<polygon points="1331.3,142.0 1333.0,145.1 1336.5,145.0 1334.7,148.0 1336.5,151.0 1333.0,150.9 1331.3,154.0 1329.6,150.9 1326.1,151.0 1327.9,148.0 1326.1,145.0 1329.6,145.1" fill="none" stroke="#FF6666" stroke-width="2.0" stroke-linejoin="round"/>
<polygon points="1466.0,135.8 1467.7,138.9 1471.2,138.8 1469.4,141.8 1471.2,144.8 1467.7,144.7 1466.0,147.8 1464.3,144.7 1460.8,144.8 1462.6,141.8 1460.8,138.8 1464.3,138.9" fill="none" stroke="#FF6666" stroke-width="2.0" stroke-linejoin="round"/>
<polyline points="1062.0,266.3 1196.7,198.6 1331.3,178.6 1466.0,157.4" fill="none" stroke="#FF66FF" stroke-width="2.1" stroke-linejoin="round"/>
<polygon points="1062.0,272.6 1068.3,260.9 1055.7,260.9" fill="none" stroke="#FF66FF" stroke-width="2.1" stroke-miterlimit="3"/>
<polygon points="1196.7,204.9 1203.0,193.2 1190.4,193.2" fill="none" stroke="#FF66FF" stroke-width="2.1" stroke-miterlimit="3"/>
<polygon points="1331.3,184.9 1337.6,173.2 1325.0,173.2" fill="none" stroke="#FF66FF" stroke-width="2.1" stroke-miterlimit="3"/>
<polygon points="1466.0,163.7 1472.3,152.0 1459.7,152.0" fill="none" stroke="#FF66FF" stroke-width="2.1" stroke-miterlimit="3"/>
<polyline points="1062.0,159.3 1196.7,149.9 1331.3,141.8 1466.0,131.2" fill="none" stroke="#000000" stroke-width="2.1" stroke-linejoin="round"/>




<polyline points="1062.0,171.7 1196.7,159.9 1331.3,156.8 1466.0,153.7" fill="none" stroke="#80FF00" stroke-width="2.1" stroke-linejoin="round"/>
<circle cx="1062.0" cy="171.7" r="5.0" fill="none" stroke="#80FF00" stroke-width="2.1"/>
<circle cx="1196.7" cy="159.9" r="5.0" fill="none" stroke="#80FF00" stroke-width="2.1"/>
<circle cx="1331.3" cy="156.8" r="5.0" fill="none" stroke="#80FF00" stroke-width="2.1"/>
<circle cx="1466.0" cy="153.7" r="5.0" fill="none" stroke="#80FF00" stroke-width="2.1"/>
<polyline points="1062.0,366.7 1196.7,359.9 1331.3,324.2 1466.0,259.3" fill="none" stroke="#FF0000" stroke-width="3.6" stroke-dasharray="14.5,14.5" stroke-linejoin="round"/>
<path d="M1056.6 361.3L1067.4 372.1M1056.6 372.1L1067.4 361.3" stroke="#FF0000" stroke-width="3.1"/>
<path d="M1191.3 354.5L1202.1 365.3M1191.3 365.3L1202.1 354.5" stroke="#FF0000" stroke-width="3.1"/>
<path d="M1325.9 318.8L1336.7 329.6M1325.9 329.6L1336.7 318.8" stroke="#FF0000" stroke-width="3.1"/>
<path d="M1460.6 253.9L1471.4 264.7M1460.6 264.7L1471.4 253.9" stroke="#FF0000" stroke-width="3.1"/>
<text x="1262.7" y="109.2" text-anchor="middle" class="ti">F3</text>
<rect x="1558.7" y="122.4" width="404.3" height="298.7" fill="none" stroke="#000" stroke-width="2.0"/>
<path d="M1558.7 421.1V416.6M1558.7 122.4V126.9" stroke="#000" stroke-width="2"/>
<text x="1558.7" y="448.8" text-anchor="middle" class="t">10</text>
<path d="M1693.5 421.1V416.6M1693.5 122.4V126.9" stroke="#000" stroke-width="2"/>
<text x="1693.5" y="448.8" text-anchor="middle" class="t">30</text>
<path d="M1828.2 421.1V416.6M1828.2 122.4V126.9" stroke="#000" stroke-width="2"/>
<text x="1828.2" y="448.8" text-anchor="middle" class="t">50</text>
<path d="M1963.0 421.1V416.6M1963.0 122.4V126.9" stroke="#000" stroke-width="2"/>
<text x="1963.0" y="448.8" text-anchor="middle" class="t">100</text>
<path d="M1558.7 186.7H1564.2M1963.0 186.7H1957.5" stroke="#000" stroke-width="2"/>
<text x="1551.2" y="199.3" text-anchor="end" class="t">10<tspan font-size="18.2" dy="-11.8">10</tspan></text>
<path d="M1558.7 353.9H1564.2M1963.0 353.9H1957.5" stroke="#000" stroke-width="2"/>
<text x="1551.2" y="366.5" text-anchor="end" class="t">10<tspan font-size="18.2" dy="-11.8">5</tspan></text>
<path d="M1558.7 387.3H1562.2M1963.0 387.3H1959.5" stroke="#000" stroke-width="2"/>
<path d="M1558.7 320.5H1562.2M1963.0 320.5H1959.5" stroke="#000" stroke-width="2"/>
<path d="M1558.7 287.0H1562.2M1963.0 287.0H1959.5" stroke="#000" stroke-width="2"/>
<path d="M1558.7 253.6H1562.2M1963.0 253.6H1959.5" stroke="#000" stroke-width="2"/>
<path d="M1558.7 220.1H1562.2M1963.0 220.1H1959.5" stroke="#000" stroke-width="2"/>
<path d="M1558.7 153.3H1562.2M1963.0 153.3H1959.5" stroke="#000" stroke-width="2"/>
<polyline points="1558.7,158.6 1693.5,142.2 1828.2,132.3 1963.0,121.8" fill="none" stroke="#000080" stroke-width="2.1" stroke-linejoin="round"/>
<path d="M1553.1 158.6H1564.3M1558.7 153.0V164.2M1554.7 154.6L1562.7 162.6M1554.7 162.6L1562.7 154.6" stroke="#000080" stroke-width="2.2"/>
<path d="M1687.9 142.2H1699.1M1693.5 136.6V147.8M1689.4 138.2L1697.5 146.2M1689.4 146.2L1697.5 138.2" stroke="#000080" stroke-width="2.2"/>
<path d="M1822.6 132.3H1833.8M1828.2 126.7V137.9M1824.2 128.3L1832.3 136.3M1824.2 136.3L1832.3 128.3" stroke="#000080" stroke-width="2.2"/>
<path d="M1957.4 121.8H1968.6M1963.0 116.2V127.4M1959.0 117.8L1967.0 125.8M1959.0 125.8L1967.0 117.8" stroke="#000080" stroke-width="2.2"/>
<polyline points="1558.7,415.7 1693.5,243.7 1828.2,196.6 1963.0,162.0" fill="none" stroke="#0000FF" stroke-width="2.1" stroke-linejoin="round"/>
<path d="M1553.4 415.7H1564.0M1558.7 410.4V421.0" stroke="#0000FF" stroke-width="2.2"/>
<path d="M1688.2 243.7H1698.8M1693.5 238.4V249.0" stroke="#0000FF" stroke-width="2.2"/>
<path d="M1822.9 196.6H1833.5M1828.2 191.3V201.9" stroke="#0000FF" stroke-width="2.2"/>
<path d="M1957.7 162.0H1968.3M1963.0 156.7V167.3" stroke="#0000FF" stroke-width="2.2"/>
<polyline points="1558.7,244.8 1693.5,184.7 1828.2,163.5 1963.0,140.8" fill="none" stroke="#008080" stroke-width="2.1" stroke-linejoin="round"/>
<polygon points="1552.4,244.8 1564.1,238.5 1564.1,251.1" fill="none" stroke="#008080" stroke-width="2.1" stroke-miterlimit="3"/>
<polygon points="1687.2,184.7 1698.8,178.4 1698.8,191.0" fill="none" stroke="#008080" stroke-width="2.1" stroke-miterlimit="3"/>
<polygon points="1821.9,163.5 1833.6,157.2 1833.6,169.8" fill="none" stroke="#008080" stroke-width="2.1" stroke-miterlimit="3"/>
<polygon points="1956.7,140.8 1968.4,134.5 1968.4,147.1" fill="none" stroke="#008080" stroke-width="2.1" stroke-miterlimit="3"/>
<polyline points="1558.7,388.8 1693.5,319.4 1828.2,259.8 1963.0,197.5" fill="none" stroke="#0080FF" stroke-width="2.1" stroke-linejoin="round"/>
<polygon points="1565.0,388.8 1553.3,382.5 1553.3,395.1" fill="none" stroke="#0080FF" stroke-width="2.1" stroke-miterlimit="3"/>
<polygon points="1699.8,319.4 1688.1,313.1 1688.1,325.7" fill="none" stroke="#0080FF" stroke-width="2.1" stroke-miterlimit="3"/>
<polygon points="1834.5,259.8 1822.9,253.5 1822.9,266.1" fill="none" stroke="#0080FF" stroke-width="2.1" stroke-miterlimit="3"/>
<polygon points="1969.3,197.5 1957.6,191.2 1957.6,203.8" fill="none" stroke="#0080FF" stroke-width="2.1" stroke-miterlimit="3"/>
<polyline points="1558.7,237.2 1693.5,162.6 1828.2,145.0 1963.0,128.6" fill="none" stroke="#00FF80" stroke-width="2.1" stroke-linejoin="round"/>
<polygon points="1558.7,230.9 1565.0,242.6 1552.4,242.6" fill="none" stroke="#00FF80" stroke-width="2.1" stroke-miterlimit="3"/>
<polygon points="1693.5,156.3 1699.8,168.0 1687.2,168.0" fill="none" stroke="#00FF80" stroke-width="2.1" stroke-miterlimit="3"/>
<polygon points="1828.2,138.7 1834.5,150.4 1821.9,150.4" fill="none" stroke="#00FF80" stroke-width="2.1" stroke-miterlimit="3"/>
<polygon points="1963.0,122.3 1969.3,134.0 1956.7,134.0" fill="none" stroke="#00FF80" stroke-width="2.1" stroke-miterlimit="3"/>
<polyline points="1558.7,391.6 1693.5,255.6 1828.2,194.6 1963.0,156.4" fill="none" stroke="#00FFFF" stroke-width="2.1" stroke-linejoin="round"/>
<path d="M1553.4 391.6H1564.0M1558.7 386.3V396.9" stroke="#00FFFF" stroke-width="2.2"/>
<path d="M1688.2 255.6H1698.8M1693.5 250.3V260.9" stroke="#00FFFF" stroke-width="2.2"/>
<path d="M1822.9 194.6H1833.5M1828.2 189.3V199.9" stroke="#00FFFF" stroke-width="2.2"/>
<path d="M1957.7 156.4H1968.3M1963.0 151.1V161.7" stroke="#00FFFF" stroke-width="2.2"/>
<polyline points="1558.7,264.6 1693.5,204.0 1828.2,185.6 1963.0,162.0" fill="none" stroke="#800080" stroke-width="2.1" stroke-linejoin="round"/>
<circle cx="1558.7" cy="264.6" r="5.0" fill="none" stroke="#800080" stroke-width="2.1"/>
<circle cx="1693.5" cy="204.0" r="5.0" fill="none" stroke="#800080" stroke-width="2.1"/>
<circle cx="1828.2" cy="185.6" r="5.0" fill="none" stroke="#800080" stroke-width="2.1"/>
<circle cx="1963.0" cy="162.0" r="5.0" fill="none" stroke="#800080" stroke-width="2.1"/>
<polyline points="1558.7,363.3 1693.5,299.5 1828.2,220.1 1963.0,174.0" fill="none" stroke="#8000FF" stroke-width="2.1" stroke-linejoin="round"/>
<rect x="1554.6" y="359.2" width="8.2" height="8.2" fill="none" stroke="#8000FF" stroke-width="2.3"/>
<rect x="1689.4" y="295.4" width="8.2" height="8.2" fill="none" stroke="#8000FF" stroke-width="2.3"/>
<rect x="1824.1" y="216.0" width="8.2" height="8.2" fill="none" stroke="#8000FF" stroke-width="2.3"/>
<rect x="1958.9" y="169.9" width="8.2" height="8.2" fill="none" stroke="#8000FF" stroke-width="2.3"/>
<polyline points="1558.7,247.1 1693.5,186.7 1828.2,166.3 1963.0,146.5" fill="none" stroke="#FF0080" stroke-width="2.1" stroke-linejoin="round"/>
<polygon points="1558.7,241.1 1563.9,247.1 1558.7,253.1 1553.5,247.1" fill="none" stroke="#FF0080" stroke-width="2.1"/>
<polygon points="1693.5,180.7 1698.7,186.7 1693.5,192.7 1688.3,186.7" fill="none" stroke="#FF0080" stroke-width="2.1"/>
<polygon points="1828.2,160.3 1833.4,166.3 1828.2,172.3 1823.0,166.3" fill="none" stroke="#FF0080" stroke-width="2.1"/>
<polygon points="1963.0,140.5 1968.2,146.5 1963.0,152.5 1957.8,146.5" fill="none" stroke="#FF0080" stroke-width="2.1"/>
<polyline points="1558.7,378.9 1693.5,309.4 1828.2,279.7 1963.0,237.2" fill="none" stroke="#FF00FF" stroke-width="2.1" stroke-linejoin="round"/>
<polygon points="1558.7,372.0 1560.2,377.0 1564.8,377.1 1561.2,380.3 1562.4,385.4 1558.7,382.4 1555.0,385.4 1556.2,380.3 1552.6,377.1 1557.2,377.0" fill="#FF00FF" stroke="#FF00FF" stroke-width="1.2" stroke-linejoin="round"/>
<polygon points="1693.5,302.5 1695.0,307.5 1699.5,307.6 1695.9,310.8 1697.2,315.9 1693.5,312.9 1689.7,315.9 1691.0,310.8 1687.4,307.6 1692.0,307.5" fill="#FF00FF" stroke="#FF00FF" stroke-width="1.2" stroke-linejoin="round"/>
<polygon points="1828.2,272.8 1829.7,277.8 1834.3,277.9 1830.7,281.1 1832.0,286.2 1828.2,283.2 1824.5,286.2 1825.8,281.1 1822.2,277.9 1826.7,277.8" fill="#FF00FF" stroke="#FF00FF" stroke-width="1.2" stroke-linejoin="round"/>
<polygon points="1963.0,230.3 1964.5,235.3 1969.1,235.4 1965.5,238.6 1966.7,243.7 1963.0,240.7 1959.3,243.7 1960.5,238.6 1956.9,235.4 1961.5,235.3" fill="#FF00FF" stroke="#FF00FF" stroke-width="1.2" stroke-linejoin="round"/>
<polyline points="1558.7,407.2 1693.5,303.8 1828.2,237.2 1963.0,208.8" fill="none" stroke="#FF6666" stroke-width="2.1" stroke-linejoin="round"/>
<polygon points="1558.7,401.2 1560.4,404.3 1563.9,404.2 1562.1,407.2 1563.9,410.2 1560.4,410.1 1558.7,413.2 1557.0,410.1 1553.5,410.2 1555.3,407.2 1553.5,404.2 1557.0,404.3" fill="none" stroke="#FF6666" stroke-width="2.0" stroke-linejoin="round"/>
<polygon points="1693.5,297.8 1695.2,300.9 1698.7,300.8 1696.9,303.8 1698.7,306.8 1695.2,306.7 1693.5,309.8 1691.8,306.7 1688.3,306.8 1690.1,303.8 1688.3,300.8 1691.8,300.9" fill="none" stroke="#FF6666" stroke-width="2.0" stroke-linejoin="round"/>
<polygon points="1828.2,231.2 1829.9,234.3 1833.4,234.2 1831.6,237.2 1833.4,240.2 1829.9,240.1 1828.2,243.2 1826.5,240.1 1823.0,240.2 1824.8,237.2 1823.0,234.2 1826.5,234.3" fill="none" stroke="#FF6666" stroke-width="2.0" stroke-linejoin="round"/>
<polygon points="1963.0,202.8 1964.7,205.9 1968.2,205.8 1966.4,208.8 1968.2,211.8 1964.7,211.7 1963.0,214.8 1961.3,211.7 1957.8,211.8 1959.6,208.8 1957.8,205.8 1961.3,205.9" fill="none" stroke="#FF6666" stroke-width="2.0" stroke-linejoin="round"/>
<polyline points="1558.7,391.6 1693.5,387.4 1828.2,354.8 1963.0,286.8" fill="none" stroke="#FF66FF" stroke-width="2.1" stroke-linejoin="round"/>
<polygon points="1558.7,397.9 1565.0,386.2 1552.4,386.2" fill="none" stroke="#FF66FF" stroke-width="2.1" stroke-miterlimit="3"/>
<polygon points="1693.5,393.7 1699.8,382.0 1687.2,382.0" fill="none" stroke="#FF66FF" stroke-width="2.1" stroke-miterlimit="3"/>
<polygon points="1828.2,361.1 1834.5,349.4 1821.9,349.4" fill="none" stroke="#FF66FF" stroke-width="2.1" stroke-miterlimit="3"/>
<polygon points="1963.0,293.1 1969.3,281.4 1956.7,281.4" fill="none" stroke="#FF66FF" stroke-width="2.1" stroke-miterlimit="3"/>
<polyline points="1558.7,220.1 1693.5,174.8 1828.2,158.6 1963.0,142.2" fill="none" stroke="#000000" stroke-width="2.1" stroke-linejoin="round"/>




<polyline points="1558.7,255.0 1693.5,193.2 1828.2,174.8 1963.0,151.3" fill="none" stroke="#80FF00" stroke-width="2.1" stroke-linejoin="round"/>
<circle cx="1558.7" cy="255.0" r="5.0" fill="none" stroke="#80FF00" stroke-width="2.1"/>
<circle cx="1693.5" cy="193.2" r="5.0" fill="none" stroke="#80FF00" stroke-width="2.1"/>
<circle cx="1828.2" cy="174.8" r="5.0" fill="none" stroke="#80FF00" stroke-width="2.1"/>
<circle cx="1963.0" cy="151.3" r="5.0" fill="none" stroke="#80FF00" stroke-width="2.1"/>
<polyline points="1558.7,420.0 1693.5,405.8 1828.2,407.2 1963.0,395.9" fill="none" stroke="#FF0000" stroke-width="3.6" stroke-dasharray="14.5,14.5" stroke-linejoin="round"/>
<path d="M1553.3 414.6L1564.1 425.4M1553.3 425.4L1564.1 414.6" stroke="#FF0000" stroke-width="3.1"/>
<path d="M1688.1 400.4L1698.9 411.2M1688.1 411.2L1698.9 400.4" stroke="#FF0000" stroke-width="3.1"/>
<path d="M1822.8 401.8L1833.6 412.6M1822.8 412.6L1833.6 401.8" stroke="#FF0000" stroke-width="3.1"/>
<path d="M1957.6 390.5L1968.4 401.3M1957.6 401.3L1968.4 390.5" stroke="#FF0000" stroke-width="3.1"/>
<text x="1759.5" y="108.8" text-anchor="middle" class="ti">F4</text>
<rect x="62.4" y="493.1" width="404.4" height="298.5" fill="none" stroke="#000" stroke-width="2.0"/>
<path d="M62.4 791.6V787.1M62.4 493.1V497.6" stroke="#000" stroke-width="2"/>
<text x="62.4" y="819.3" text-anchor="middle" class="t">10</text>
<path d="M197.2 791.6V787.1M197.2 493.1V497.6" stroke="#000" stroke-width="2"/>
<text x="197.2" y="819.3" text-anchor="middle" class="t">30</text>
<path d="M332.0 791.6V787.1M332.0 493.1V497.6" stroke="#000" stroke-width="2"/>
<text x="332.0" y="819.3" text-anchor="middle" class="t">50</text>
<path d="M466.8 791.6V787.1M466.8 493.1V497.6" stroke="#000" stroke-width="2"/>
<text x="466.8" y="819.3" text-anchor="middle" class="t">100</text>
<path d="M62.4 493.1H67.9M466.8 493.1H461.3" stroke="#000" stroke-width="2"/>
<text x="54.9" y="501.3" text-anchor="end" class="t">1</text>
<path d="M62.4 552.8H67.9M466.8 552.8H461.3" stroke="#000" stroke-width="2"/>
<text x="54.9" y="561.0" text-anchor="end" class="t">0</text>
<path d="M62.4 612.5H67.9M466.8 612.5H461.3" stroke="#000" stroke-width="2"/>
<text x="54.9" y="620.7" text-anchor="end" class="t">-1</text>
<path d="M62.4 672.2H67.9M466.8 672.2H461.3" stroke="#000" stroke-width="2"/>
<text x="54.9" y="680.4" text-anchor="end" class="t">-2</text>
<path d="M62.4 731.9H67.9M466.8 731.9H461.3" stroke="#000" stroke-width="2"/>
<text x="54.9" y="740.1" text-anchor="end" class="t">-3</text>
<path d="M62.4 791.6H67.9M466.8 791.6H461.3" stroke="#000" stroke-width="2"/>
<text x="54.9" y="799.8" text-anchor="end" class="t">-4</text>
<polyline points="62.4,552.4 197.2,550.6 332.0,538.3 466.8,534.9" fill="none" stroke="#000080" stroke-width="2.1" stroke-linejoin="round"/>
<path d="M56.8 552.4H68.0M62.4 546.8V558.0M58.4 548.4L66.4 556.4M58.4 556.4L66.4 548.4" stroke="#000080" stroke-width="2.2"/>
<path d="M191.6 550.6H202.8M197.2 545.0V556.2M193.2 546.6L201.2 554.6M193.2 554.6L201.2 546.6" stroke="#000080" stroke-width="2.2"/>
<path d="M326.4 538.3H337.6M332.0 532.7V543.9M328.0 534.3L336.0 542.3M328.0 542.3L336.0 534.3" stroke="#000080" stroke-width="2.2"/>
<path d="M461.2 534.9H472.4M466.8 529.3V540.5M462.8 530.9L470.8 538.9M462.8 538.9L470.8 530.9" stroke="#000080" stroke-width="2.2"/>
<polyline points="62.4,576.0 197.2,600.0 332.0,628.4 466.8,693.6" fill="none" stroke="#0000FF" stroke-width="2.1" stroke-linejoin="round"/>
<path d="M57.1 576.0H67.7M62.4 570.7V581.3" stroke="#0000FF" stroke-width="2.2"/>
<path d="M191.9 600.0H202.5M197.2 594.7V605.3" stroke="#0000FF" stroke-width="2.2"/>
<path d="M326.7 628.4H337.3M332.0 623.1V633.7" stroke="#0000FF" stroke-width="2.2"/>
<path d="M461.5 693.6H472.1M466.8 688.3V698.9" stroke="#0000FF" stroke-width="2.2"/>
<polyline points="62.4,568.0 197.2,581.1 332.0,594.4 466.8,613.7" fill="none" stroke="#008080" stroke-width="2.1" stroke-linejoin="round"/>
<polygon points="56.1,568.0 67.8,561.7 67.8,574.3" fill="none" stroke="#008080" stroke-width="2.1" stroke-miterlimit="3"/>
<polygon points="190.9,581.1 202.6,574.8 202.6,587.4" fill="none" stroke="#008080" stroke-width="2.1" stroke-miterlimit="3"/>
<polygon points="325.7,594.4 337.4,588.1 337.4,600.7" fill="none" stroke="#008080" stroke-width="2.1" stroke-miterlimit="3"/>
<polygon points="460.5,613.7 472.2,607.4 472.2,620.0" fill="none" stroke="#008080" stroke-width="2.1" stroke-miterlimit="3"/>
<polyline points="62.4,581.8 197.2,614.8 332.0,622.7 466.8,649.7" fill="none" stroke="#0080FF" stroke-width="2.1" stroke-linejoin="round"/>
<polygon points="68.7,581.8 57.0,575.5 57.0,588.1" fill="none" stroke="#0080FF" stroke-width="2.1" stroke-miterlimit="3"/>
<polygon points="203.5,614.8 191.8,608.5 191.8,621.1" fill="none" stroke="#0080FF" stroke-width="2.1" stroke-miterlimit="3"/>
<polygon points="338.3,622.7 326.6,616.4 326.6,629.0" fill="none" stroke="#0080FF" stroke-width="2.1" stroke-miterlimit="3"/>
<polygon points="473.1,649.7 461.4,643.4 461.4,656.0" fill="none" stroke="#0080FF" stroke-width="2.1" stroke-miterlimit="3"/>
<polyline points="62.4,559.3 197.2,563.7 332.0,568.3 466.8,574.6" fill="none" stroke="#00FF80" stroke-width="2.1" stroke-linejoin="round"/>
<polygon points="62.4,553.0 68.7,564.7 56.1,564.7" fill="none" stroke="#00FF80" stroke-width="2.1" stroke-miterlimit="3"/>
<polygon points="197.2,557.4 203.5,569.1 190.9,569.1" fill="none" stroke="#00FF80" stroke-width="2.1" stroke-miterlimit="3"/>
<polygon points="332.0,562.0 338.3,573.7 325.7,573.7" fill="none" stroke="#00FF80" stroke-width="2.1" stroke-miterlimit="3"/>
<polygon points="466.8,568.3 473.1,580.0 460.5,580.0" fill="none" stroke="#00FF80" stroke-width="2.1" stroke-miterlimit="3"/>
<polyline points="62.4,572.0 197.2,596.1 332.0,619.9 466.8,661.0" fill="none" stroke="#00FFFF" stroke-width="2.1" stroke-linejoin="round"/>
<path d="M57.1 572.0H67.7M62.4 566.7V577.3" stroke="#00FFFF" stroke-width="2.2"/>
<path d="M191.9 596.1H202.5M197.2 590.8V601.4" stroke="#00FFFF" stroke-width="2.2"/>
<path d="M326.7 619.9H337.3M332.0 614.6V625.2" stroke="#00FFFF" stroke-width="2.2"/>
<path d="M461.5 661.0H472.1M466.8 655.7V666.3" stroke="#00FFFF" stroke-width="2.2"/>
<polyline points="62.4,569.0 197.2,583.6 332.0,607.2 466.8,647.7" fill="none" stroke="#800080" stroke-width="2.1" stroke-linejoin="round"/>
<circle cx="62.4" cy="569.0" r="5.0" fill="none" stroke="#800080" stroke-width="2.1"/>
<circle cx="197.2" cy="583.6" r="5.0" fill="none" stroke="#800080" stroke-width="2.1"/>
<circle cx="332.0" cy="607.2" r="5.0" fill="none" stroke="#800080" stroke-width="2.1"/>
<circle cx="466.8" cy="647.7" r="5.0" fill="none" stroke="#800080" stroke-width="2.1"/>
<polyline points="62.4,571.0 197.2,592.0 332.0,615.7 466.8,642.6" fill="none" stroke="#8000FF" stroke-width="2.1" stroke-linejoin="round"/>
<rect x="58.3" y="566.9" width="8.2" height="8.2" fill="none" stroke="#8000FF" stroke-width="2.3"/>
<rect x="193.1" y="587.9" width="8.2" height="8.2" fill="none" stroke="#8000FF" stroke-width="2.3"/>
<rect x="327.9" y="611.6" width="8.2" height="8.2" fill="none" stroke="#8000FF" stroke-width="2.3"/>
<rect x="462.7" y="638.5" width="8.2" height="8.2" fill="none" stroke="#8000FF" stroke-width="2.3"/>
<polyline points="62.4,574.0 197.2,603.6 332.0,629.8 466.8,689.4" fill="none" stroke="#FF0080" stroke-width="2.1" stroke-linejoin="round"/>
<polygon points="62.4,568.0 67.6,574.0 62.4,580.0 57.2,574.0" fill="none" stroke="#FF0080" stroke-width="2.1"/>
<polygon points="197.2,597.6 202.4,603.6 197.2,609.6 192.0,603.6" fill="none" stroke="#FF0080" stroke-width="2.1"/>
<polygon points="332.0,623.8 337.2,629.8 332.0,635.8 326.8,629.8" fill="none" stroke="#FF0080" stroke-width="2.1"/>
<polygon points="466.8,683.4 472.0,689.4 466.8,695.4 461.6,689.4" fill="none" stroke="#FF0080" stroke-width="2.1"/>
<polyline points="62.4,573.0 197.2,597.3 332.0,625.6 466.8,686.5" fill="none" stroke="#FF00FF" stroke-width="2.1" stroke-linejoin="round"/>
<polygon points="62.4,566.1 63.9,571.1 68.5,571.2 64.9,574.4 66.1,579.5 62.4,576.5 58.7,579.5 59.9,574.4 56.3,571.2 60.9,571.1" fill="#FF00FF" stroke="#FF00FF" stroke-width="1.2" stroke-linejoin="round"/>
<polygon points="197.2,590.4 198.7,595.4 203.3,595.5 199.7,598.7 200.9,603.8 197.2,600.8 193.5,603.8 194.7,598.7 191.1,595.5 195.7,595.4" fill="#FF00FF" stroke="#FF00FF" stroke-width="1.2" stroke-linejoin="round"/>
<polygon points="332.0,618.7 333.5,623.7 338.1,623.8 334.5,627.0 335.7,632.1 332.0,629.1 328.3,632.1 329.5,627.0 325.9,623.8 330.5,623.7" fill="#FF00FF" stroke="#FF00FF" stroke-width="1.2" stroke-linejoin="round"/>
<polygon points="466.8,679.6 468.3,684.6 472.9,684.7 469.3,687.9 470.5,693.0 466.8,690.0 463.1,693.0 464.3,687.9 460.7,684.7 465.3,684.6" fill="#FF00FF" stroke="#FF00FF" stroke-width="1.2" stroke-linejoin="round"/>
<polyline points="62.4,570.0 197.2,588.6 332.0,610.0 466.8,662.4" fill="none" stroke="#FF6666" stroke-width="2.1" stroke-linejoin="round"/>
<polygon points="62.4,564.0 64.1,567.1 67.6,567.0 65.8,570.0 67.6,573.0 64.1,572.9 62.4,576.0 60.7,572.9 57.2,573.0 59.0,570.0 57.2,567.0 60.7,567.1" fill="none" stroke="#FF6666" stroke-width="2.0" stroke-linejoin="round"/>
<polygon points="197.2,582.6 198.9,585.7 202.4,585.6 200.6,588.6 202.4,591.6 198.9,591.5 197.2,594.6 195.5,591.5 192.0,591.6 193.8,588.6 192.0,585.6 195.5,585.7" fill="none" stroke="#FF6666" stroke-width="2.0" stroke-linejoin="round"/>
<polygon points="332.0,604.0 333.7,607.1 337.2,607.0 335.4,610.0 337.2,613.0 333.7,612.9 332.0,616.0 330.3,612.9 326.8,613.0 328.6,610.0 326.8,607.0 330.3,607.1" fill="none" stroke="#FF6666" stroke-width="2.0" stroke-linejoin="round"/>
<polygon points="466.8,656.4 468.5,659.5 472.0,659.4 470.2,662.4 472.0,665.4 468.5,665.3 466.8,668.4 465.1,665.3 461.6,665.4 463.4,662.4 461.6,659.4 465.1,659.5" fill="none" stroke="#FF6666" stroke-width="2.0" stroke-linejoin="round"/>
<polyline points="62.4,579.9 197.2,626.0 332.0,672.3 466.8,780.0" fill="none" stroke="#FF66FF" stroke-width="2.1" stroke-linejoin="round"/>
<polygon points="62.4,586.2 68.7,574.5 56.1,574.5" fill="none" stroke="#FF66FF" stroke-width="2.1" stroke-miterlimit="3"/>
<polygon points="197.2,632.3 203.5,620.6 190.9,620.6" fill="none" stroke="#FF66FF" stroke-width="2.1" stroke-miterlimit="3"/>
<polygon points="332.0,678.6 338.3,666.9 325.7,666.9" fill="none" stroke="#FF66FF" stroke-width="2.1" stroke-miterlimit="3"/>
<polygon points="466.8,786.3 473.1,774.6 460.5,774.6" fill="none" stroke="#FF66FF" stroke-width="2.1" stroke-miterlimit="3"/>
<polyline points="62.4,564.9 197.2,574.9 332.0,583.1 466.8,593.8" fill="none" stroke="#000000" stroke-width="2.1" stroke-linejoin="round"/>




<polyline points="62.4,570.0 197.2,611.7 332.0,651.7 466.8,759.4" fill="none" stroke="#80FF00" stroke-width="2.1" stroke-linejoin="round"/>
<circle cx="62.4" cy="570.0" r="5.0" fill="none" stroke="#80FF00" stroke-width="2.1"/>
<circle cx="197.2" cy="611.7" r="5.0" fill="none" stroke="#80FF00" stroke-width="2.1"/>
<circle cx="332.0" cy="651.7" r="5.0" fill="none" stroke="#80FF00" stroke-width="2.1"/>
<circle cx="466.8" cy="759.4" r="5.0" fill="none" stroke="#80FF00" stroke-width="2.1"/>
<polyline points="62.4,573.0 197.2,602.3 332.0,628.4 466.8,697.9" fill="none" stroke="#FF0000" stroke-width="3.6" stroke-dasharray="14.5,14.5" stroke-linejoin="round"/>
<path d="M57.0 567.6L67.8 578.4M57.0 578.4L67.8 567.6" stroke="#FF0000" stroke-width="3.1"/>
<path d="M191.8 596.9L202.6 607.7M191.8 607.7L202.6 596.9" stroke="#FF0000" stroke-width="3.1"/>
<path d="M326.6 623.0L337.4 633.8M326.6 633.8L337.4 623.0" stroke="#FF0000" stroke-width="3.1"/>
<path d="M461.4 692.5L472.2 703.3M461.4 703.3L472.2 692.5" stroke="#FF0000" stroke-width="3.1"/>
<text x="63.4" y="488.3" class="t"><tspan font-size="27" dy="2.2">×</tspan><tspan dx="3.0" dy="-2.2">10</tspan><tspan font-size="18.2" dy="-12.0" dx="-1.6">4</tspan></text>
<text x="263.3" y="479.5" text-anchor="middle" class="ti">F5</text>
<rect x="562.0" y="493.1" width="404.6" height="298.5" fill="none" stroke="#000" stroke-width="2.0"/>
<path d="M562.0 791.6V787.1M562.0 493.1V497.6" stroke="#000" stroke-width="2"/>
<text x="562.0" y="819.3" text-anchor="middle" class="t">10</text>
<path d="M696.9 791.6V787.1M696.9 493.1V497.6" stroke="#000" stroke-width="2"/>
<text x="696.9" y="819.3" text-anchor="middle" class="t">30</text>
<path d="M831.7 791.6V787.1M831.7 493.1V497.6" stroke="#000" stroke-width="2"/>
<text x="831.7" y="819.3" text-anchor="middle" class="t">50</text>
<path d="M966.6 791.6V787.1M966.6 493.1V497.6" stroke="#000" stroke-width="2"/>
<text x="966.6" y="819.3" text-anchor="middle" class="t">100</text>
<path d="M562.0 493.1H567.5M966.6 493.1H961.1" stroke="#000" stroke-width="2"/>
<text x="554.5" y="505.7" text-anchor="end" class="t">10<tspan font-size="18.2" dy="-11.8">5</tspan></text>
<path d="M562.0 567.7H567.5M966.6 567.7H961.1" stroke="#000" stroke-width="2"/>
<text x="554.5" y="580.3" text-anchor="end" class="t">10<tspan font-size="18.2" dy="-11.8">0</tspan></text>
<path d="M562.0 642.3H567.5M966.6 642.3H961.1" stroke="#000" stroke-width="2"/>
<text x="554.5" y="654.9" text-anchor="end" class="t">10<tspan font-size="18.2" dy="-11.8">-5</tspan></text>
<path d="M562.0 717.0H567.5M966.6 717.0H961.1" stroke="#000" stroke-width="2"/>
<text x="554.5" y="729.6" text-anchor="end" class="t">10<tspan font-size="18.2" dy="-11.8">-10</tspan></text>
<path d="M562.0 791.6H567.5M966.6 791.6H961.1" stroke="#000" stroke-width="2"/>
<text x="554.5" y="804.2" text-anchor="end" class="t">10<tspan font-size="18.2" dy="-11.8">-15</tspan></text>
<path d="M562.0 776.7H565.5M966.6 776.7H963.1" stroke="#000" stroke-width="2"/>
<path d="M562.0 761.7H565.5M966.6 761.7H963.1" stroke="#000" stroke-width="2"/>
<path d="M562.0 746.8H565.5M966.6 746.8H963.1" stroke="#000" stroke-width="2"/>
<path d="M562.0 731.9H565.5M966.6 731.9H963.1" stroke="#000" stroke-width="2"/>
<path d="M562.0 702.0H565.5M966.6 702.0H963.1" stroke="#000" stroke-width="2"/>
<path d="M562.0 687.1H565.5M966.6 687.1H963.1" stroke="#000" stroke-width="2"/>
<path d="M562.0 672.2H565.5M966.6 672.2H963.1" stroke="#000" stroke-width="2"/>
<path d="M562.0 657.2H565.5M966.6 657.2H963.1" stroke="#000" stroke-width="2"/>
<path d="M562.0 627.4H565.5M966.6 627.4H963.1" stroke="#000" stroke-width="2"/>
<path d="M562.0 612.5H565.5M966.6 612.5H963.1" stroke="#000" stroke-width="2"/>
<path d="M562.0 597.6H565.5M966.6 597.6H963.1" stroke="#000" stroke-width="2"/>
<path d="M562.0 582.6H565.5M966.6 582.6H963.1" stroke="#000" stroke-width="2"/>
<path d="M562.0 552.8H565.5M966.6 552.8H963.1" stroke="#000" stroke-width="2"/>
<path d="M562.0 537.9H565.5M966.6 537.9H963.1" stroke="#000" stroke-width="2"/>
<path d="M562.0 522.9H565.5M966.6 522.9H963.1" stroke="#000" stroke-width="2"/>
<path d="M562.0 508.0H565.5M966.6 508.0H963.1" stroke="#000" stroke-width="2"/>
<polyline points="562.0,548.7 696.9,548.0 831.7,547.6 966.6,547.6" fill="none" stroke="#000080" stroke-width="2.1" stroke-linejoin="round"/>
<path d="M556.4 548.7H567.6M562.0 543.1V554.3M558.0 544.7L566.0 552.7M558.0 552.7L566.0 544.7" stroke="#000080" stroke-width="2.2"/>
<path d="M691.3 548.0H702.5M696.9 542.4V553.6M692.8 544.0L700.9 552.0M692.8 552.0L700.9 544.0" stroke="#000080" stroke-width="2.2"/>
<path d="M826.1 547.6H837.3M831.7 542.0V553.2M827.7 543.6L835.8 551.6M827.7 551.6L835.8 543.6" stroke="#000080" stroke-width="2.2"/>
<path d="M961.0 547.6H972.2M966.6 542.0V553.2M962.6 543.6L970.6 551.6M962.6 551.6L970.6 543.6" stroke="#000080" stroke-width="2.2"/>
<polyline points="562.0,548.7 696.9,548.0 831.7,547.6 966.6,547.6" fill="none" stroke="#0000FF" stroke-width="2.1" stroke-linejoin="round"/>
<path d="M556.7 548.7H567.3M562.0 543.4V554.0" stroke="#0000FF" stroke-width="2.2"/>
<path d="M691.6 548.0H702.2M696.9 542.7V553.3" stroke="#0000FF" stroke-width="2.2"/>
<path d="M826.4 547.6H837.0M831.7 542.3V552.9" stroke="#0000FF" stroke-width="2.2"/>
<path d="M961.3 547.6H971.9M966.6 542.3V552.9" stroke="#0000FF" stroke-width="2.2"/>
<polyline points="562.0,559.9 696.9,551.8 831.7,549.0 966.6,549.0" fill="none" stroke="#008080" stroke-width="2.1" stroke-linejoin="round"/>
<polygon points="555.7,559.9 567.4,553.6 567.4,566.2" fill="none" stroke="#008080" stroke-width="2.1" stroke-miterlimit="3"/>
<polygon points="690.6,551.8 702.2,545.5 702.2,558.1" fill="none" stroke="#008080" stroke-width="2.1" stroke-miterlimit="3"/>
<polygon points="825.4,549.0 837.1,542.7 837.1,555.3" fill="none" stroke="#008080" stroke-width="2.1" stroke-miterlimit="3"/>
<polygon points="960.3,549.0 972.0,542.7 972.0,555.3" fill="none" stroke="#008080" stroke-width="2.1" stroke-miterlimit="3"/>
<polyline points="562.0,710.6 696.9,597.3 831.7,571.7 966.6,555.5" fill="none" stroke="#0080FF" stroke-width="2.1" stroke-linejoin="round"/>
<polygon points="568.3,710.6 556.6,704.3 556.6,716.9" fill="none" stroke="#0080FF" stroke-width="2.1" stroke-miterlimit="3"/>
<polygon points="703.2,597.3 691.5,591.0 691.5,603.6" fill="none" stroke="#0080FF" stroke-width="2.1" stroke-miterlimit="3"/>
<polygon points="838.0,571.7 826.4,565.4 826.4,578.0" fill="none" stroke="#0080FF" stroke-width="2.1" stroke-miterlimit="3"/>
<polygon points="972.9,555.5 961.2,549.2 961.2,561.8" fill="none" stroke="#0080FF" stroke-width="2.1" stroke-miterlimit="3"/>
<polyline points="562.0,548.7 696.9,548.0 831.7,547.6 966.6,547.0" fill="none" stroke="#00FF80" stroke-width="2.1" stroke-linejoin="round"/>
<polygon points="562.0,542.4 568.3,554.1 555.7,554.1" fill="none" stroke="#00FF80" stroke-width="2.1" stroke-miterlimit="3"/>
<polygon points="696.9,541.7 703.2,553.4 690.6,553.4" fill="none" stroke="#00FF80" stroke-width="2.1" stroke-miterlimit="3"/>
<polygon points="831.7,541.3 838.0,553.0 825.4,553.0" fill="none" stroke="#00FF80" stroke-width="2.1" stroke-miterlimit="3"/>
<polygon points="966.6,540.7 972.9,552.4 960.3,552.4" fill="none" stroke="#00FF80" stroke-width="2.1" stroke-miterlimit="3"/>
<polyline points="562.0,566.8 696.9,556.2 831.7,552.0 966.6,551.0" fill="none" stroke="#00FFFF" stroke-width="2.1" stroke-linejoin="round"/>
<path d="M556.7 566.8H567.3M562.0 561.5V572.1" stroke="#00FFFF" stroke-width="2.2"/>
<path d="M691.6 556.2H702.2M696.9 550.9V561.5" stroke="#00FFFF" stroke-width="2.2"/>
<path d="M826.4 552.0H837.0M831.7 546.7V557.3" stroke="#00FFFF" stroke-width="2.2"/>
<path d="M961.3 551.0H971.9M966.6 545.7V556.3" stroke="#00FFFF" stroke-width="2.2"/>
<polyline points="562.0,777.2 696.9,761.1 831.7,724.2 966.6,670.4" fill="none" stroke="#800080" stroke-width="2.1" stroke-linejoin="round"/>
<circle cx="562.0" cy="777.2" r="5.0" fill="none" stroke="#800080" stroke-width="2.1"/>
<circle cx="696.9" cy="761.1" r="5.0" fill="none" stroke="#800080" stroke-width="2.1"/>
<circle cx="831.7" cy="724.2" r="5.0" fill="none" stroke="#800080" stroke-width="2.1"/>
<circle cx="966.6" cy="670.4" r="5.0" fill="none" stroke="#800080" stroke-width="2.1"/>
<polyline points="562.0,778.6 696.9,763.9 831.7,724.8 966.6,670.4" fill="none" stroke="#8000FF" stroke-width="2.1" stroke-linejoin="round"/>
<rect x="557.9" y="774.5" width="8.2" height="8.2" fill="none" stroke="#8000FF" stroke-width="2.3"/>
<rect x="692.8" y="759.8" width="8.2" height="8.2" fill="none" stroke="#8000FF" stroke-width="2.3"/>
<rect x="827.6" y="720.7" width="8.2" height="8.2" fill="none" stroke="#8000FF" stroke-width="2.3"/>
<rect x="962.5" y="666.3" width="8.2" height="8.2" fill="none" stroke="#8000FF" stroke-width="2.3"/>
<polyline points="562.0,588.6 696.9,548.1 831.7,547.6 966.6,546.5" fill="none" stroke="#FF0080" stroke-width="2.1" stroke-linejoin="round"/>
<polygon points="562.0,582.6 567.2,588.6 562.0,594.6 556.8,588.6" fill="none" stroke="#FF0080" stroke-width="2.1"/>
<polygon points="696.9,542.1 702.1,548.1 696.9,554.1 691.7,548.1" fill="none" stroke="#FF0080" stroke-width="2.1"/>
<polygon points="831.7,541.6 836.9,547.6 831.7,553.6 826.5,547.6" fill="none" stroke="#FF0080" stroke-width="2.1"/>
<polygon points="966.6,540.5 971.8,546.5 966.6,552.5 961.4,546.5" fill="none" stroke="#FF0080" stroke-width="2.1"/>
<polyline points="562.0,572.4 696.9,563.0 831.7,559.0 966.6,554.7" fill="none" stroke="#FF00FF" stroke-width="2.1" stroke-linejoin="round"/>
<polygon points="562.0,565.5 563.5,570.5 568.1,570.6 564.5,573.8 565.7,578.9 562.0,575.9 558.3,578.9 559.5,573.8 555.9,570.6 560.5,570.5" fill="#FF00FF" stroke="#FF00FF" stroke-width="1.2" stroke-linejoin="round"/>
<polygon points="696.9,556.1 698.4,561.1 702.9,561.2 699.3,564.4 700.6,569.5 696.9,566.5 693.1,569.5 694.4,564.4 690.8,561.2 695.4,561.1" fill="#FF00FF" stroke="#FF00FF" stroke-width="1.2" stroke-linejoin="round"/>
<polygon points="831.7,552.1 833.2,557.1 837.8,557.2 834.2,560.4 835.5,565.5 831.7,562.5 828.0,565.5 829.3,560.4 825.7,557.2 830.2,557.1" fill="#FF00FF" stroke="#FF00FF" stroke-width="1.2" stroke-linejoin="round"/>
<polygon points="966.6,547.8 968.1,552.8 972.7,552.9 969.1,556.1 970.3,561.2 966.6,558.2 962.9,561.2 964.1,556.1 960.5,552.9 965.1,552.8" fill="#FF00FF" stroke="#FF00FF" stroke-width="1.2" stroke-linejoin="round"/>
<polyline points="562.0,599.2 696.9,560.6 831.7,559.0 966.6,554.7" fill="none" stroke="#FF6666" stroke-width="2.1" stroke-linejoin="round"/>
<polygon points="562.0,593.2 563.7,596.3 567.2,596.2 565.4,599.2 567.2,602.2 563.7,602.1 562.0,605.2 560.3,602.1 556.8,602.2 558.6,599.2 556.8,596.2 560.3,596.3" fill="none" stroke="#FF6666" stroke-width="2.0" stroke-linejoin="round"/>
<polygon points="696.9,554.6 698.6,557.7 702.1,557.6 700.3,560.6 702.1,563.6 698.6,563.5 696.9,566.6 695.2,563.5 691.7,563.6 693.5,560.6 691.7,557.6 695.2,557.7" fill="none" stroke="#FF6666" stroke-width="2.0" stroke-linejoin="round"/>
<polygon points="831.7,553.0 833.4,556.1 836.9,556.0 835.1,559.0 836.9,562.0 833.4,561.9 831.7,565.0 830.0,561.9 826.5,562.0 828.3,559.0 826.5,556.0 830.0,556.1" fill="none" stroke="#FF6666" stroke-width="2.0" stroke-linejoin="round"/>
<polygon points="966.6,548.7 968.3,551.8 971.8,551.7 970.0,554.7 971.8,557.7 968.3,557.6 966.6,560.7 964.9,557.6 961.4,557.7 963.2,554.7 961.4,551.7 964.9,551.8" fill="none" stroke="#FF6666" stroke-width="2.0" stroke-linejoin="round"/>
<polyline points="562.0,687.9 696.9,601.1 831.7,568.9 966.6,554.7" fill="none" stroke="#FF66FF" stroke-width="2.1" stroke-linejoin="round"/>
<polygon points="562.0,694.2 568.3,682.5 555.7,682.5" fill="none" stroke="#FF66FF" stroke-width="2.1" stroke-miterlimit="3"/>
<polygon points="696.9,607.4 703.2,595.7 690.6,595.7" fill="none" stroke="#FF66FF" stroke-width="2.1" stroke-miterlimit="3"/>
<polygon points="831.7,575.2 838.0,563.5 825.4,563.5" fill="none" stroke="#FF66FF" stroke-width="2.1" stroke-miterlimit="3"/>
<polygon points="966.6,561.0 972.9,549.3 960.3,549.3" fill="none" stroke="#FF66FF" stroke-width="2.1" stroke-miterlimit="3"/>
<polyline points="562.0,651.1 696.9,550.0 831.7,549.0 966.6,548.5" fill="none" stroke="#000000" stroke-width="2.1" stroke-linejoin="round"/>




<polyline points="562.0,782.9 696.9,782.9 831.7,782.9 966.6,782.9" fill="none" stroke="#80FF00" stroke-width="2.1" stroke-linejoin="round"/>
<circle cx="562.0" cy="782.9" r="5.0" fill="none" stroke="#80FF00" stroke-width="2.1"/>
<circle cx="696.9" cy="782.9" r="5.0" fill="none" stroke="#80FF00" stroke-width="2.1"/>
<circle cx="831.7" cy="782.9" r="5.0" fill="none" stroke="#80FF00" stroke-width="2.1"/>
<circle cx="966.6" cy="782.9" r="5.0" fill="none" stroke="#80FF00" stroke-width="2.1"/>
<polyline points="562.0,781.5 696.9,772.4 831.7,763.9 966.6,600.1" fill="none" stroke="#FF0000" stroke-width="3.6" stroke-dasharray="14.5,14.5" stroke-linejoin="round"/>
<path d="M556.6 776.1L567.4 786.9M556.6 786.9L567.4 776.1" stroke="#FF0000" stroke-width="3.1"/>
<path d="M691.5 767.0L702.3 777.8M691.5 777.8L702.3 767.0" stroke="#FF0000" stroke-width="3.1"/>
<path d="M826.3 758.5L837.1 769.3M826.3 769.3L837.1 758.5" stroke="#FF0000" stroke-width="3.1"/>
<path d="M961.2 594.7L972.0 605.5M961.2 605.5L972.0 594.7" stroke="#FF0000" stroke-width="3.1"/>
<text x="763.0" y="479.5" text-anchor="middle" class="ti">F6</text>
<rect x="1061.5" y="493.1" width="404.5" height="298.5" fill="none" stroke="#000" stroke-width="2.0"/>
<path d="M1061.5 791.6V787.1M1061.5 493.1V497.6" stroke="#000" stroke-width="2"/>
<text x="1061.5" y="819.3" text-anchor="middle" class="t">10</text>
<path d="M1196.3 791.6V787.1M1196.3 493.1V497.6" stroke="#000" stroke-width="2"/>
<text x="1196.3" y="819.3" text-anchor="middle" class="t">30</text>
<path d="M1331.2 791.6V787.1M1331.2 493.1V497.6" stroke="#000" stroke-width="2"/>
<text x="1331.2" y="819.3" text-anchor="middle" class="t">50</text>
<path d="M1466.0 791.6V787.1M1466.0 493.1V497.6" stroke="#000" stroke-width="2"/>
<text x="1466.0" y="819.3" text-anchor="middle" class="t">100</text>
<path d="M1061.5 550.8H1067.0M1466.0 550.8H1460.5" stroke="#000" stroke-width="2"/>
<text x="1054.0" y="563.4" text-anchor="end" class="t">10<tspan font-size="18.2" dy="-11.8">0</tspan></text>
<path d="M1061.5 671.2H1067.0M1466.0 671.2H1460.5" stroke="#000" stroke-width="2"/>
<text x="1054.0" y="683.8" text-anchor="end" class="t">10<tspan font-size="18.2" dy="-11.8">-20</tspan></text>
<path d="M1061.5 791.6H1067.0M1466.0 791.6H1460.5" stroke="#000" stroke-width="2"/>
<text x="1054.0" y="804.2" text-anchor="end" class="t">10<tspan font-size="18.2" dy="-11.8">-40</tspan></text>
<path d="M1061.5 761.5H1065.0M1466.0 761.5H1462.5" stroke="#000" stroke-width="2"/>
<path d="M1061.5 731.4H1065.0M1466.0 731.4H1462.5" stroke="#000" stroke-width="2"/>
<path d="M1061.5 701.3H1065.0M1466.0 701.3H1462.5" stroke="#000" stroke-width="2"/>
<path d="M1061.5 641.1H1065.0M1466.0 641.1H1462.5" stroke="#000" stroke-width="2"/>
<path d="M1061.5 611.0H1065.0M1466.0 611.0H1462.5" stroke="#000" stroke-width="2"/>
<path d="M1061.5 580.9H1065.0M1466.0 580.9H1462.5" stroke="#000" stroke-width="2"/>
<path d="M1061.5 520.7H1065.0M1466.0 520.7H1462.5" stroke="#000" stroke-width="2"/>
<polyline points="1061.5,498.9 1196.3,496.0 1331.2,493.8 1466.0,492.9" fill="none" stroke="#000080" stroke-width="2.1" stroke-linejoin="round"/>
<path d="M1055.9 498.9H1067.1M1061.5 493.3V504.5M1057.5 494.9L1065.5 502.9M1057.5 502.9L1065.5 494.9" stroke="#000080" stroke-width="2.2"/>
<path d="M1190.7 496.0H1201.9M1196.3 490.4V501.6M1192.3 492.0L1200.4 500.0M1192.3 500.0L1200.4 492.0" stroke="#000080" stroke-width="2.2"/>
<path d="M1325.6 493.8H1336.8M1331.2 488.2V499.4M1327.1 489.8L1335.2 497.8M1327.1 497.8L1335.2 489.8" stroke="#000080" stroke-width="2.2"/>
<path d="M1460.4 492.9H1471.6M1466.0 487.3V498.5M1462.0 488.9L1470.0 496.9M1462.0 496.9L1470.0 488.9" stroke="#000080" stroke-width="2.2"/>
<polyline points="1061.5,546.0 1196.3,542.0 1331.2,539.1 1466.0,538.0" fill="none" stroke="#0000FF" stroke-width="2.1" stroke-linejoin="round"/>
<path d="M1056.2 546.0H1066.8M1061.5 540.7V551.3" stroke="#0000FF" stroke-width="2.2"/>
<path d="M1191.0 542.0H1201.6M1196.3 536.7V547.3" stroke="#0000FF" stroke-width="2.2"/>
<path d="M1325.9 539.1H1336.5M1331.2 533.8V544.4" stroke="#0000FF" stroke-width="2.2"/>
<path d="M1460.7 538.0H1471.3M1466.0 532.7V543.3" stroke="#0000FF" stroke-width="2.2"/>
<polyline points="1061.5,544.8 1196.3,538.0 1331.2,536.5 1466.0,535.0" fill="none" stroke="#008080" stroke-width="2.1" stroke-linejoin="round"/>
<polygon points="1055.2,544.8 1066.9,538.5 1066.9,551.1" fill="none" stroke="#008080" stroke-width="2.1" stroke-miterlimit="3"/>
<polygon points="1190.0,538.0 1201.7,531.7 1201.7,544.3" fill="none" stroke="#008080" stroke-width="2.1" stroke-miterlimit="3"/>
<polygon points="1324.9,536.5 1336.5,530.2 1336.5,542.8" fill="none" stroke="#008080" stroke-width="2.1" stroke-miterlimit="3"/>
<polygon points="1459.7,535.0 1471.4,528.7 1471.4,541.3" fill="none" stroke="#008080" stroke-width="2.1" stroke-miterlimit="3"/>
<polyline points="1061.5,667.5 1196.3,573.1 1331.2,549.0 1466.0,539.1" fill="none" stroke="#0080FF" stroke-width="2.1" stroke-linejoin="round"/>
<polygon points="1067.8,667.5 1056.1,661.2 1056.1,673.8" fill="none" stroke="#0080FF" stroke-width="2.1" stroke-miterlimit="3"/>
<polygon points="1202.6,573.1 1191.0,566.8 1191.0,579.4" fill="none" stroke="#0080FF" stroke-width="2.1" stroke-miterlimit="3"/>
<polygon points="1337.5,549.0 1325.8,542.7 1325.8,555.3" fill="none" stroke="#0080FF" stroke-width="2.1" stroke-miterlimit="3"/>
<polygon points="1472.3,539.1 1460.6,532.8 1460.6,545.4" fill="none" stroke="#0080FF" stroke-width="2.1" stroke-miterlimit="3"/>
<polyline points="1061.5,546.2 1196.3,536.3 1331.2,533.5 1466.0,532.6" fill="none" stroke="#00FF80" stroke-width="2.1" stroke-linejoin="round"/>
<polygon points="1061.5,539.9 1067.8,551.6 1055.2,551.6" fill="none" stroke="#00FF80" stroke-width="2.1" stroke-miterlimit="3"/>
<polygon points="1196.3,530.0 1202.6,541.7 1190.0,541.7" fill="none" stroke="#00FF80" stroke-width="2.1" stroke-miterlimit="3"/>
<polygon points="1331.2,527.2 1337.5,538.9 1324.9,538.9" fill="none" stroke="#00FF80" stroke-width="2.1" stroke-miterlimit="3"/>
<polygon points="1466.0,526.3 1472.3,538.0 1459.7,538.0" fill="none" stroke="#00FF80" stroke-width="2.1" stroke-miterlimit="3"/>
<polyline points="1061.5,546.0 1196.3,540.5 1331.2,538.0 1466.0,536.3" fill="none" stroke="#00FFFF" stroke-width="2.1" stroke-linejoin="round"/>
<path d="M1056.2 546.0H1066.8M1061.5 540.7V551.3" stroke="#00FFFF" stroke-width="2.2"/>
<path d="M1191.0 540.5H1201.6M1196.3 535.2V545.8" stroke="#00FFFF" stroke-width="2.2"/>
<path d="M1325.9 538.0H1336.5M1331.2 532.7V543.3" stroke="#00FFFF" stroke-width="2.2"/>
<path d="M1460.7 536.3H1471.3M1466.0 531.0V541.6" stroke="#00FFFF" stroke-width="2.2"/>
<polyline points="1061.5,564.6 1196.3,561.8 1331.2,556.1 1466.0,553.3" fill="none" stroke="#800080" stroke-width="2.1" stroke-linejoin="round"/>
<circle cx="1061.5" cy="564.6" r="5.0" fill="none" stroke="#800080" stroke-width="2.1"/>
<circle cx="1196.3" cy="561.8" r="5.0" fill="none" stroke="#800080" stroke-width="2.1"/>
<circle cx="1331.2" cy="556.1" r="5.0" fill="none" stroke="#800080" stroke-width="2.1"/>
<circle cx="1466.0" cy="553.3" r="5.0" fill="none" stroke="#800080" stroke-width="2.1"/>
<polyline points="1061.5,608.6 1196.3,564.6 1331.2,558.0 1466.0,555.0" fill="none" stroke="#8000FF" stroke-width="2.1" stroke-linejoin="round"/>
<rect x="1057.4" y="604.5" width="8.2" height="8.2" fill="none" stroke="#8000FF" stroke-width="2.3"/>
<rect x="1192.2" y="560.5" width="8.2" height="8.2" fill="none" stroke="#8000FF" stroke-width="2.3"/>
<rect x="1327.1" y="553.9" width="8.2" height="8.2" fill="none" stroke="#8000FF" stroke-width="2.3"/>
<rect x="1461.9" y="550.9" width="8.2" height="8.2" fill="none" stroke="#8000FF" stroke-width="2.3"/>
<polyline points="1061.5,547.6 1196.3,539.1 1331.2,536.3 1466.0,536.3" fill="none" stroke="#FF0080" stroke-width="2.1" stroke-linejoin="round"/>
<polygon points="1061.5,541.6 1066.7,547.6 1061.5,553.6 1056.3,547.6" fill="none" stroke="#FF0080" stroke-width="2.1"/>
<polygon points="1196.3,533.1 1201.5,539.1 1196.3,545.1 1191.1,539.1" fill="none" stroke="#FF0080" stroke-width="2.1"/>
<polygon points="1331.2,530.3 1336.4,536.3 1331.2,542.3 1326.0,536.3" fill="none" stroke="#FF0080" stroke-width="2.1"/>
<polygon points="1466.0,530.3 1471.2,536.3 1466.0,542.3 1460.8,536.3" fill="none" stroke="#FF0080" stroke-width="2.1"/>
<polyline points="1061.5,547.0 1196.3,537.7 1331.2,537.0 1466.0,534.3" fill="none" stroke="#FF00FF" stroke-width="2.1" stroke-linejoin="round"/>
<polygon points="1061.5,540.1 1063.0,545.1 1067.6,545.2 1064.0,548.4 1065.2,553.5 1061.5,550.5 1057.8,553.5 1059.0,548.4 1055.4,545.2 1060.0,545.1" fill="#FF00FF" stroke="#FF00FF" stroke-width="1.2" stroke-linejoin="round"/>
<polygon points="1196.3,530.8 1197.8,535.8 1202.4,535.9 1198.8,539.1 1200.1,544.2 1196.3,541.2 1192.6,544.2 1193.9,539.1 1190.3,535.9 1194.8,535.8" fill="#FF00FF" stroke="#FF00FF" stroke-width="1.2" stroke-linejoin="round"/>
<polygon points="1331.2,530.1 1332.7,535.1 1337.2,535.2 1333.6,538.4 1334.9,543.5 1331.2,540.5 1327.4,543.5 1328.7,538.4 1325.1,535.2 1329.7,535.1" fill="#FF00FF" stroke="#FF00FF" stroke-width="1.2" stroke-linejoin="round"/>
<polygon points="1466.0,527.4 1467.5,532.4 1472.1,532.5 1468.5,535.7 1469.7,540.8 1466.0,537.8 1462.3,540.8 1463.5,535.7 1459.9,532.5 1464.5,532.4" fill="#FF00FF" stroke="#FF00FF" stroke-width="1.2" stroke-linejoin="round"/>
<polyline points="1061.5,585.3 1196.3,557.5 1331.2,546.2 1466.0,542.0" fill="none" stroke="#FF6666" stroke-width="2.1" stroke-linejoin="round"/>
<polygon points="1061.5,579.3 1063.2,582.4 1066.7,582.3 1064.9,585.3 1066.7,588.3 1063.2,588.2 1061.5,591.3 1059.8,588.2 1056.3,588.3 1058.1,585.3 1056.3,582.3 1059.8,582.4" fill="none" stroke="#FF6666" stroke-width="2.0" stroke-linejoin="round"/>
<polygon points="1196.3,551.5 1198.0,554.6 1201.5,554.5 1199.7,557.5 1201.5,560.5 1198.0,560.4 1196.3,563.5 1194.6,560.4 1191.1,560.5 1192.9,557.5 1191.1,554.5 1194.6,554.6" fill="none" stroke="#FF6666" stroke-width="2.0" stroke-linejoin="round"/>
<polygon points="1331.2,540.2 1332.9,543.3 1336.4,543.2 1334.6,546.2 1336.4,549.2 1332.9,549.1 1331.2,552.2 1329.5,549.1 1326.0,549.2 1327.8,546.2 1326.0,543.2 1329.5,543.3" fill="none" stroke="#FF6666" stroke-width="2.0" stroke-linejoin="round"/>
<polygon points="1466.0,536.0 1467.7,539.1 1471.2,539.0 1469.4,542.0 1471.2,545.0 1467.7,544.9 1466.0,548.0 1464.3,544.9 1460.8,545.0 1462.6,542.0 1460.8,539.0 1464.3,539.1" fill="none" stroke="#FF6666" stroke-width="2.0" stroke-linejoin="round"/>
<polyline points="1061.5,560.4 1196.3,568.9 1331.2,563.2 1466.0,554.7" fill="none" stroke="#FF66FF" stroke-width="2.1" stroke-linejoin="round"/>
<polygon points="1061.5,566.7 1067.8,555.0 1055.2,555.0" fill="none" stroke="#FF66FF" stroke-width="2.1" stroke-miterlimit="3"/>
<polygon points="1196.3,575.2 1202.6,563.5 1190.0,563.5" fill="none" stroke="#FF66FF" stroke-width="2.1" stroke-miterlimit="3"/>
<polygon points="1331.2,569.5 1337.5,557.8 1324.9,557.8" fill="none" stroke="#FF66FF" stroke-width="2.1" stroke-miterlimit="3"/>
<polygon points="1466.0,561.0 1472.3,549.3 1459.7,549.3" fill="none" stroke="#FF66FF" stroke-width="2.1" stroke-miterlimit="3"/>
<polyline points="1061.5,555.6 1196.3,546.2 1331.2,542.0 1466.0,539.1" fill="none" stroke="#000000" stroke-width="2.1" stroke-linejoin="round"/>




<polyline points="1061.5,562.4 1196.3,559.0 1331.2,559.0 1466.0,557.5" fill="none" stroke="#80FF00" stroke-width="2.1" stroke-linejoin="round"/>
<circle cx="1061.5" cy="562.4" r="5.0" fill="none" stroke="#80FF00" stroke-width="2.1"/>
<circle cx="1196.3" cy="559.0" r="5.0" fill="none" stroke="#80FF00" stroke-width="2.1"/>
<circle cx="1331.2" cy="559.0" r="5.0" fill="none" stroke="#80FF00" stroke-width="2.1"/>
<circle cx="1466.0" cy="557.5" r="5.0" fill="none" stroke="#80FF00" stroke-width="2.1"/>
<polyline points="1061.5,739.0 1196.3,734.7 1331.2,549.0 1466.0,544.8" fill="none" stroke="#FF0000" stroke-width="3.6" stroke-dasharray="14.5,14.5" stroke-linejoin="round"/>
<path d="M1056.1 733.6L1066.9 744.4M1056.1 744.4L1066.9 733.6" stroke="#FF0000" stroke-width="3.1"/>
<path d="M1190.9 729.3L1201.7 740.1M1190.9 740.1L1201.7 729.3" stroke="#FF0000" stroke-width="3.1"/>
<path d="M1325.8 543.6L1336.6 554.4M1325.8 554.4L1336.6 543.6" stroke="#FF0000" stroke-width="3.1"/>
<path d="M1460.6 539.4L1471.4 550.2M1460.6 550.2L1471.4 539.4" stroke="#FF0000" stroke-width="3.1"/>
<text x="1262.5" y="479.5" text-anchor="middle" class="ti">F7</text>
<rect x="1561.7" y="493.1" width="404.3" height="298.5" fill="none" stroke="#000" stroke-width="2.0"/>
<path d="M1561.7 791.6V787.1M1561.7 493.1V497.6" stroke="#000" stroke-width="2"/>
<text x="1561.7" y="819.3" text-anchor="middle" class="t">10</text>
<path d="M1696.5 791.6V787.1M1696.5 493.1V497.6" stroke="#000" stroke-width="2"/>
<text x="1696.5" y="819.3" text-anchor="middle" class="t">30</text>
<path d="M1831.2 791.6V787.1M1831.2 493.1V497.6" stroke="#000" stroke-width="2"/>
<text x="1831.2" y="819.3" text-anchor="middle" class="t">50</text>
<path d="M1966.0 791.6V787.1M1966.0 493.1V497.6" stroke="#000" stroke-width="2"/>
<text x="1966.0" y="819.3" text-anchor="middle" class="t">100</text>
<path d="M1561.7 493.1H1567.2M1966.0 493.1H1960.5" stroke="#000" stroke-width="2"/>
<text x="1554.2" y="505.7" text-anchor="end" class="t">10<tspan font-size="18.2" dy="-11.8">3</tspan></text>
<path d="M1561.7 592.6H1567.2M1966.0 592.6H1960.5" stroke="#000" stroke-width="2"/>
<text x="1554.2" y="605.2" text-anchor="end" class="t">10<tspan font-size="18.2" dy="-11.8">2</tspan></text>
<path d="M1561.7 692.1H1567.2M1966.0 692.1H1960.5" stroke="#000" stroke-width="2"/>
<text x="1554.2" y="704.7" text-anchor="end" class="t">10<tspan font-size="18.2" dy="-11.8">1</tspan></text>
<path d="M1561.7 791.6H1567.2M1966.0 791.6H1960.5" stroke="#000" stroke-width="2"/>
<text x="1554.2" y="804.2" text-anchor="end" class="t">10<tspan font-size="18.2" dy="-11.8">0</tspan></text>
<path d="M1561.7 761.6H1565.2M1966.0 761.6H1962.5" stroke="#000" stroke-width="2"/>
<path d="M1561.7 744.1H1565.2M1966.0 744.1H1962.5" stroke="#000" stroke-width="2"/>
<path d="M1561.7 731.7H1565.2M1966.0 731.7H1962.5" stroke="#000" stroke-width="2"/>
<path d="M1561.7 722.1H1565.2M1966.0 722.1H1962.5" stroke="#000" stroke-width="2"/>
<path d="M1561.7 714.2H1565.2M1966.0 714.2H1962.5" stroke="#000" stroke-width="2"/>
<path d="M1561.7 707.5H1565.2M1966.0 707.5H1962.5" stroke="#000" stroke-width="2"/>
<path d="M1561.7 701.7H1565.2M1966.0 701.7H1962.5" stroke="#000" stroke-width="2"/>
<path d="M1561.7 696.7H1565.2M1966.0 696.7H1962.5" stroke="#000" stroke-width="2"/>
<path d="M1561.7 662.1H1565.2M1966.0 662.1H1962.5" stroke="#000" stroke-width="2"/>
<path d="M1561.7 644.6H1565.2M1966.0 644.6H1962.5" stroke="#000" stroke-width="2"/>
<path d="M1561.7 632.2H1565.2M1966.0 632.2H1962.5" stroke="#000" stroke-width="2"/>
<path d="M1561.7 622.6H1565.2M1966.0 622.6H1962.5" stroke="#000" stroke-width="2"/>
<path d="M1561.7 614.7H1565.2M1966.0 614.7H1962.5" stroke="#000" stroke-width="2"/>
<path d="M1561.7 608.0H1565.2M1966.0 608.0H1962.5" stroke="#000" stroke-width="2"/>
<path d="M1561.7 602.2H1565.2M1966.0 602.2H1962.5" stroke="#000" stroke-width="2"/>
<path d="M1561.7 597.2H1565.2M1966.0 597.2H1962.5" stroke="#000" stroke-width="2"/>
<path d="M1561.7 562.6H1565.2M1966.0 562.6H1962.5" stroke="#000" stroke-width="2"/>
<path d="M1561.7 545.1H1565.2M1966.0 545.1H1962.5" stroke="#000" stroke-width="2"/>
<path d="M1561.7 532.7H1565.2M1966.0 532.7H1962.5" stroke="#000" stroke-width="2"/>
<path d="M1561.7 523.1H1565.2M1966.0 523.1H1962.5" stroke="#000" stroke-width="2"/>
<path d="M1561.7 515.2H1565.2M1966.0 515.2H1962.5" stroke="#000" stroke-width="2"/>
<path d="M1561.7 508.5H1565.2M1966.0 508.5H1962.5" stroke="#000" stroke-width="2"/>
<path d="M1561.7 502.7H1565.2M1966.0 502.7H1962.5" stroke="#000" stroke-width="2"/>
<path d="M1561.7 497.7H1565.2M1966.0 497.7H1962.5" stroke="#000" stroke-width="2"/>
<polyline points="1561.7,554.7 1696.5,548.5 1831.2,578.0 1966.0,568.9" fill="none" stroke="#000080" stroke-width="2.1" stroke-linejoin="round"/>
<path d="M1556.1 554.7H1567.3M1561.7 549.1V560.3M1557.7 550.7L1565.7 558.7M1557.7 558.7L1565.7 550.7" stroke="#000080" stroke-width="2.2"/>
<path d="M1690.9 548.5H1702.1M1696.5 542.9V554.1M1692.4 544.5L1700.5 552.5M1692.4 552.5L1700.5 544.5" stroke="#000080" stroke-width="2.2"/>
<path d="M1825.6 578.0H1836.8M1831.2 572.4V583.6M1827.2 574.0L1835.3 582.0M1827.2 582.0L1835.3 574.0" stroke="#000080" stroke-width="2.2"/>
<path d="M1960.4 568.9H1971.6M1966.0 563.3V574.5M1962.0 564.9L1970.0 572.9M1962.0 572.9L1970.0 564.9" stroke="#000080" stroke-width="2.2"/>
<polyline points="1561.7,787.1 1696.5,787.1 1831.2,784.5 1966.0,778.1" fill="none" stroke="#0000FF" stroke-width="2.1" stroke-linejoin="round"/>
<path d="M1556.4 787.1H1567.0M1561.7 781.8V792.4" stroke="#0000FF" stroke-width="2.2"/>
<path d="M1691.2 787.1H1701.8M1696.5 781.8V792.4" stroke="#0000FF" stroke-width="2.2"/>
<path d="M1825.9 784.5H1836.5M1831.2 779.2V789.8" stroke="#0000FF" stroke-width="2.2"/>
<path d="M1960.7 778.1H1971.3M1966.0 772.8V783.4" stroke="#0000FF" stroke-width="2.2"/>
<polyline points="1561.7,779.2 1696.5,780.9 1831.2,781.5 1966.0,778.1" fill="none" stroke="#008080" stroke-width="2.1" stroke-linejoin="round"/>
<polygon points="1555.4,779.2 1567.1,772.9 1567.1,785.5" fill="none" stroke="#008080" stroke-width="2.1" stroke-miterlimit="3"/>
<polygon points="1690.2,780.9 1701.8,774.6 1701.8,787.2" fill="none" stroke="#008080" stroke-width="2.1" stroke-miterlimit="3"/>
<polygon points="1824.9,781.5 1836.6,775.2 1836.6,787.8" fill="none" stroke="#008080" stroke-width="2.1" stroke-miterlimit="3"/>
<polygon points="1959.7,778.1 1971.4,771.8 1971.4,784.4" fill="none" stroke="#008080" stroke-width="2.1" stroke-miterlimit="3"/>
<polyline points="1561.7,787.5 1696.5,791.0 1831.2,791.0 1966.0,781.5" fill="none" stroke="#0080FF" stroke-width="2.1" stroke-linejoin="round"/>
<polygon points="1568.0,787.5 1556.3,781.2 1556.3,793.8" fill="none" stroke="#0080FF" stroke-width="2.1" stroke-miterlimit="3"/>
<polygon points="1702.8,791.0 1691.1,784.7 1691.1,797.3" fill="none" stroke="#0080FF" stroke-width="2.1" stroke-miterlimit="3"/>
<polygon points="1837.5,791.0 1825.9,784.7 1825.9,797.3" fill="none" stroke="#0080FF" stroke-width="2.1" stroke-miterlimit="3"/>
<polygon points="1972.3,781.5 1960.6,775.2 1960.6,787.8" fill="none" stroke="#0080FF" stroke-width="2.1" stroke-miterlimit="3"/>
<polyline points="1561.7,780.5 1696.5,781.0 1831.2,779.2 1966.0,781.0" fill="none" stroke="#00FF80" stroke-width="2.1" stroke-linejoin="round"/>
<polygon points="1561.7,774.2 1568.0,785.9 1555.4,785.9" fill="none" stroke="#00FF80" stroke-width="2.1" stroke-miterlimit="3"/>
<polygon points="1696.5,774.7 1702.8,786.4 1690.2,786.4" fill="none" stroke="#00FF80" stroke-width="2.1" stroke-miterlimit="3"/>
<polygon points="1831.2,772.9 1837.5,784.6 1824.9,784.6" fill="none" stroke="#00FF80" stroke-width="2.1" stroke-miterlimit="3"/>
<polygon points="1966.0,774.7 1972.3,786.4 1959.7,786.4" fill="none" stroke="#00FF80" stroke-width="2.1" stroke-miterlimit="3"/>
<polyline points="1561.7,790.0 1696.5,790.5 1831.2,790.5 1966.0,789.0" fill="none" stroke="#00FFFF" stroke-width="2.1" stroke-linejoin="round"/>
<path d="M1556.4 790.0H1567.0M1561.7 784.7V795.3" stroke="#00FFFF" stroke-width="2.2"/>
<path d="M1691.2 790.5H1701.8M1696.5 785.2V795.8" stroke="#00FFFF" stroke-width="2.2"/>
<path d="M1825.9 790.5H1836.5M1831.2 785.2V795.8" stroke="#00FFFF" stroke-width="2.2"/>
<path d="M1960.7 789.0H1971.3M1966.0 783.7V794.3" stroke="#00FFFF" stroke-width="2.2"/>
<polyline points="1561.7,722.0 1696.5,729.0 1831.2,719.7 1966.0,738.1" fill="none" stroke="#800080" stroke-width="2.1" stroke-linejoin="round"/>
<circle cx="1561.7" cy="722.0" r="5.0" fill="none" stroke="#800080" stroke-width="2.1"/>
<circle cx="1696.5" cy="729.0" r="5.0" fill="none" stroke="#800080" stroke-width="2.1"/>
<circle cx="1831.2" cy="719.7" r="5.0" fill="none" stroke="#800080" stroke-width="2.1"/>
<circle cx="1966.0" cy="738.1" r="5.0" fill="none" stroke="#800080" stroke-width="2.1"/>
<polyline points="1561.7,790.5 1696.5,790.5 1831.2,790.5 1966.0,790.0" fill="none" stroke="#8000FF" stroke-width="2.1" stroke-linejoin="round"/>
<rect x="1557.6" y="786.4" width="8.2" height="8.2" fill="none" stroke="#8000FF" stroke-width="2.3"/>
<rect x="1692.4" y="786.4" width="8.2" height="8.2" fill="none" stroke="#8000FF" stroke-width="2.3"/>
<rect x="1827.1" y="786.4" width="8.2" height="8.2" fill="none" stroke="#8000FF" stroke-width="2.3"/>
<rect x="1961.9" y="785.9" width="8.2" height="8.2" fill="none" stroke="#8000FF" stroke-width="2.3"/>
<polyline points="1561.7,748.9 1696.5,747.5 1831.2,760.2 1966.0,773.0" fill="none" stroke="#FF0080" stroke-width="2.1" stroke-linejoin="round"/>
<polygon points="1561.7,742.9 1566.9,748.9 1561.7,754.9 1556.5,748.9" fill="none" stroke="#FF0080" stroke-width="2.1"/>
<polygon points="1696.5,741.5 1701.7,747.5 1696.5,753.5 1691.3,747.5" fill="none" stroke="#FF0080" stroke-width="2.1"/>
<polygon points="1831.2,754.2 1836.4,760.2 1831.2,766.2 1826.0,760.2" fill="none" stroke="#FF0080" stroke-width="2.1"/>
<polygon points="1966.0,767.0 1971.2,773.0 1966.0,779.0 1960.8,773.0" fill="none" stroke="#FF0080" stroke-width="2.1"/>
<polyline points="1561.7,791.0 1696.5,791.0 1831.2,791.0 1966.0,790.5" fill="none" stroke="#FF00FF" stroke-width="2.1" stroke-linejoin="round"/>
<polygon points="1561.7,784.1 1563.2,789.1 1567.8,789.2 1564.2,792.4 1565.4,797.5 1561.7,794.5 1558.0,797.5 1559.2,792.4 1555.6,789.2 1560.2,789.1" fill="#FF00FF" stroke="#FF00FF" stroke-width="1.2" stroke-linejoin="round"/>
<polygon points="1696.5,784.1 1698.0,789.1 1702.5,789.2 1698.9,792.4 1700.2,797.5 1696.5,794.5 1692.7,797.5 1694.0,792.4 1690.4,789.2 1695.0,789.1" fill="#FF00FF" stroke="#FF00FF" stroke-width="1.2" stroke-linejoin="round"/>
<polygon points="1831.2,784.1 1832.7,789.1 1837.3,789.2 1833.7,792.4 1835.0,797.5 1831.2,794.5 1827.5,797.5 1828.8,792.4 1825.2,789.2 1829.7,789.1" fill="#FF00FF" stroke="#FF00FF" stroke-width="1.2" stroke-linejoin="round"/>
<polygon points="1966.0,783.6 1967.5,788.6 1972.1,788.7 1968.5,791.9 1969.7,797.0 1966.0,794.0 1962.3,797.0 1963.5,791.9 1959.9,788.7 1964.5,788.6" fill="#FF00FF" stroke="#FF00FF" stroke-width="1.2" stroke-linejoin="round"/>
<polyline points="1561.7,746.0 1696.5,733.3 1831.2,740.4 1966.0,744.1" fill="none" stroke="#FF6666" stroke-width="2.1" stroke-linejoin="round"/>
<polygon points="1561.7,740.0 1563.4,743.1 1566.9,743.0 1565.1,746.0 1566.9,749.0 1563.4,748.9 1561.7,752.0 1560.0,748.9 1556.5,749.0 1558.3,746.0 1556.5,743.0 1560.0,743.1" fill="none" stroke="#FF6666" stroke-width="2.0" stroke-linejoin="round"/>
<polygon points="1696.5,727.3 1698.2,730.4 1701.7,730.3 1699.9,733.3 1701.7,736.3 1698.2,736.2 1696.5,739.3 1694.8,736.2 1691.3,736.3 1693.1,733.3 1691.3,730.3 1694.8,730.4" fill="none" stroke="#FF6666" stroke-width="2.0" stroke-linejoin="round"/>
<polygon points="1831.2,734.4 1832.9,737.5 1836.4,737.4 1834.6,740.4 1836.4,743.4 1832.9,743.3 1831.2,746.4 1829.5,743.3 1826.0,743.4 1827.8,740.4 1826.0,737.4 1829.5,737.5" fill="none" stroke="#FF6666" stroke-width="2.0" stroke-linejoin="round"/>
<polygon points="1966.0,738.1 1967.7,741.2 1971.2,741.1 1969.4,744.1 1971.2,747.1 1967.7,747.0 1966.0,750.1 1964.3,747.0 1960.8,747.1 1962.6,744.1 1960.8,741.1 1964.3,741.2" fill="none" stroke="#FF6666" stroke-width="2.0" stroke-linejoin="round"/>
<polyline points="1561.7,791.2 1696.5,791.2 1831.2,791.2 1966.0,791.2" fill="none" stroke="#FF66FF" stroke-width="2.1" stroke-linejoin="round"/>
<polygon points="1561.7,797.5 1568.0,785.8 1555.4,785.8" fill="none" stroke="#FF66FF" stroke-width="2.1" stroke-miterlimit="3"/>
<polygon points="1696.5,797.5 1702.8,785.8 1690.2,785.8" fill="none" stroke="#FF66FF" stroke-width="2.1" stroke-miterlimit="3"/>
<polygon points="1831.2,797.5 1837.5,785.8 1824.9,785.8" fill="none" stroke="#FF66FF" stroke-width="2.1" stroke-miterlimit="3"/>
<polygon points="1966.0,797.5 1972.3,785.8 1959.7,785.8" fill="none" stroke="#FF66FF" stroke-width="2.1" stroke-miterlimit="3"/>
<polyline points="1561.7,771.6 1696.5,776.4 1831.2,764.5 1966.0,761.6" fill="none" stroke="#000000" stroke-width="2.1" stroke-linejoin="round"/>




<polyline points="1561.7,751.7 1696.5,755.4 1831.2,744.6 1966.0,750.9" fill="none" stroke="#80FF00" stroke-width="2.1" stroke-linejoin="round"/>
<circle cx="1561.7" cy="751.7" r="5.0" fill="none" stroke="#80FF00" stroke-width="2.1"/>
<circle cx="1696.5" cy="755.4" r="5.0" fill="none" stroke="#80FF00" stroke-width="2.1"/>
<circle cx="1831.2" cy="744.6" r="5.0" fill="none" stroke="#80FF00" stroke-width="2.1"/>
<circle cx="1966.0" cy="750.9" r="5.0" fill="none" stroke="#80FF00" stroke-width="2.1"/>
<polyline points="1561.7,791.4 1696.5,791.4 1831.2,791.4 1966.0,791.4" fill="none" stroke="#FF0000" stroke-width="3.6" stroke-dasharray="14.5,14.5" stroke-linejoin="round"/>
<path d="M1556.3 786.0L1567.1 796.8M1556.3 796.8L1567.1 786.0" stroke="#FF0000" stroke-width="3.1"/>
<path d="M1691.1 786.0L1701.9 796.8M1691.1 796.8L1701.9 786.0" stroke="#FF0000" stroke-width="3.1"/>
<path d="M1825.8 786.0L1836.6 796.8M1825.8 796.8L1836.6 786.0" stroke="#FF0000" stroke-width="3.1"/>
<path d="M1960.6 786.0L1971.4 796.8M1960.6 796.8L1971.4 786.0" stroke="#FF0000" stroke-width="3.1"/>
<text x="1762.5" y="479.5" text-anchor="middle" class="ti">F8</text>
<rect x="62.4" y="876.6" width="404.2" height="298.6" fill="none" stroke="#000" stroke-width="2.0"/>
<path d="M62.4 1175.2V1170.7M62.4 876.6V881.1" stroke="#000" stroke-width="2"/>
<text x="62.4" y="1202.9" text-anchor="middle" class="t">10</text>
<path d="M197.1 1175.2V1170.7M197.1 876.6V881.1" stroke="#000" stroke-width="2"/>
<text x="197.1" y="1202.9" text-anchor="middle" class="t">30</text>
<path d="M331.9 1175.2V1170.7M331.9 876.6V881.1" stroke="#000" stroke-width="2"/>
<text x="331.9" y="1202.9" text-anchor="middle" class="t">50</text>
<path d="M466.6 1175.2V1170.7M466.6 876.6V881.1" stroke="#000" stroke-width="2"/>
<text x="466.6" y="1202.9" text-anchor="middle" class="t">100</text>
<path d="M62.4 879.5H67.9M466.6 879.5H461.1" stroke="#000" stroke-width="2"/>
<text x="54.9" y="887.7" text-anchor="end" class="t">-0.9</text>
<path d="M62.4 978.0H67.9M466.6 978.0H461.1" stroke="#000" stroke-width="2"/>
<text x="54.9" y="986.2" text-anchor="end" class="t">-0.95</text>
<path d="M62.4 1076.5H67.9M466.6 1076.5H461.1" stroke="#000" stroke-width="2"/>
<text x="54.9" y="1084.7" text-anchor="end" class="t">-1</text>
<path d="M62.4 1175.0H67.9M466.6 1175.0H461.1" stroke="#000" stroke-width="2"/>
<text x="54.9" y="1183.2" text-anchor="end" class="t">-1.05</text>
<polyline points="62.4,1138.0 197.1,1082.2 331.9,1136.9 466.6,1136.9" fill="none" stroke="#000080" stroke-width="2.1" stroke-linejoin="round"/>
<path d="M56.8 1138.0H68.0M62.4 1132.4V1143.6M58.4 1134.0L66.4 1142.0M58.4 1142.0L66.4 1134.0" stroke="#000080" stroke-width="2.2"/>
<path d="M191.5 1082.2H202.7M197.1 1076.6V1087.8M193.1 1078.2L201.2 1086.2M193.1 1086.2L201.2 1078.2" stroke="#000080" stroke-width="2.2"/>
<path d="M326.3 1136.9H337.5M331.9 1131.3V1142.5M327.8 1132.9L335.9 1140.9M327.8 1140.9L335.9 1132.9" stroke="#000080" stroke-width="2.2"/>
<path d="M461.0 1136.9H472.2M466.6 1131.3V1142.5M462.6 1132.9L470.6 1140.9M462.6 1140.9L470.6 1132.9" stroke="#000080" stroke-width="2.2"/>
<polyline points="62.4,1138.9 197.1,1138.9 331.9,1138.9 466.6,1138.9" fill="none" stroke="#0000FF" stroke-width="2.1" stroke-linejoin="round"/>
<path d="M57.1 1138.9H67.7M62.4 1133.6V1144.2" stroke="#0000FF" stroke-width="2.2"/>
<path d="M191.8 1138.9H202.4M197.1 1133.6V1144.2" stroke="#0000FF" stroke-width="2.2"/>
<path d="M326.6 1138.9H337.2M331.9 1133.6V1144.2" stroke="#0000FF" stroke-width="2.2"/>
<path d="M461.3 1138.9H471.9M466.6 1133.6V1144.2" stroke="#0000FF" stroke-width="2.2"/>
<polyline points="62.4,1138.9 197.1,1138.9 331.9,1138.9 466.6,1138.9" fill="none" stroke="#008080" stroke-width="2.1" stroke-linejoin="round"/>
<polygon points="56.1,1138.9 67.8,1132.6 67.8,1145.2" fill="none" stroke="#008080" stroke-width="2.1" stroke-miterlimit="3"/>
<polygon points="190.8,1138.9 202.5,1132.6 202.5,1145.2" fill="none" stroke="#008080" stroke-width="2.1" stroke-miterlimit="3"/>
<polygon points="325.6,1138.9 337.2,1132.6 337.2,1145.2" fill="none" stroke="#008080" stroke-width="2.1" stroke-miterlimit="3"/>
<polygon points="460.3,1138.9 472.0,1132.6 472.0,1145.2" fill="none" stroke="#008080" stroke-width="2.1" stroke-miterlimit="3"/>
<polyline points="62.4,1138.9 197.1,1138.9 331.9,1138.9 466.6,1138.9" fill="none" stroke="#0080FF" stroke-width="2.1" stroke-linejoin="round"/>
<polygon points="68.7,1138.9 57.0,1132.6 57.0,1145.2" fill="none" stroke="#0080FF" stroke-width="2.1" stroke-miterlimit="3"/>
<polygon points="203.4,1138.9 191.8,1132.6 191.8,1145.2" fill="none" stroke="#0080FF" stroke-width="2.1" stroke-miterlimit="3"/>
<polygon points="338.2,1138.9 326.5,1132.6 326.5,1145.2" fill="none" stroke="#0080FF" stroke-width="2.1" stroke-miterlimit="3"/>
<polygon points="472.9,1138.9 461.2,1132.6 461.2,1145.2" fill="none" stroke="#0080FF" stroke-width="2.1" stroke-miterlimit="3"/>
<polyline points="62.4,954.1 197.1,985.8 331.9,876.1 466.6,976.7" fill="none" stroke="#00FF80" stroke-width="2.1" stroke-linejoin="round"/>
<polygon points="62.4,947.8 68.7,959.5 56.1,959.5" fill="none" stroke="#00FF80" stroke-width="2.1" stroke-miterlimit="3"/>
<polygon points="197.1,979.5 203.4,991.2 190.8,991.2" fill="none" stroke="#00FF80" stroke-width="2.1" stroke-miterlimit="3"/>
<polygon points="331.9,869.8 338.2,881.5 325.6,881.5" fill="none" stroke="#00FF80" stroke-width="2.1" stroke-miterlimit="3"/>
<polygon points="466.6,970.4 472.9,982.1 460.3,982.1" fill="none" stroke="#00FF80" stroke-width="2.1" stroke-miterlimit="3"/>
<polyline points="62.4,1138.9 197.1,1138.9 331.9,1138.9 466.6,1138.9" fill="none" stroke="#00FFFF" stroke-width="2.1" stroke-linejoin="round"/>
<path d="M57.1 1138.9H67.7M62.4 1133.6V1144.2" stroke="#00FFFF" stroke-width="2.2"/>
<path d="M191.8 1138.9H202.4M197.1 1133.6V1144.2" stroke="#00FFFF" stroke-width="2.2"/>
<path d="M326.6 1138.9H337.2M331.9 1133.6V1144.2" stroke="#00FFFF" stroke-width="2.2"/>
<path d="M461.3 1138.9H471.9M466.6 1133.6V1144.2" stroke="#00FFFF" stroke-width="2.2"/>
<polyline points="62.4,1138.9 197.1,1138.9 331.9,1138.9 466.6,1138.9" fill="none" stroke="#800080" stroke-width="2.1" stroke-linejoin="round"/>
<circle cx="62.4" cy="1138.9" r="5.0" fill="none" stroke="#800080" stroke-width="2.1"/>
<circle cx="197.1" cy="1138.9" r="5.0" fill="none" stroke="#800080" stroke-width="2.1"/>
<circle cx="331.9" cy="1138.9" r="5.0" fill="none" stroke="#800080" stroke-width="2.1"/>
<circle cx="466.6" cy="1138.9" r="5.0" fill="none" stroke="#800080" stroke-width="2.1"/>
<polyline points="62.4,1138.9 197.1,1138.9 331.9,1138.9 466.6,1138.9" fill="none" stroke="#8000FF" stroke-width="2.1" stroke-linejoin="round"/>
<rect x="58.3" y="1134.8" width="8.2" height="8.2" fill="none" stroke="#8000FF" stroke-width="2.3"/>
<rect x="193.0" y="1134.8" width="8.2" height="8.2" fill="none" stroke="#8000FF" stroke-width="2.3"/>
<rect x="327.8" y="1134.8" width="8.2" height="8.2" fill="none" stroke="#8000FF" stroke-width="2.3"/>
<rect x="462.5" y="1134.8" width="8.2" height="8.2" fill="none" stroke="#8000FF" stroke-width="2.3"/>
<polyline points="62.4,1138.9 197.1,1138.9 331.9,1138.9 466.6,1138.9" fill="none" stroke="#FF0080" stroke-width="2.1" stroke-linejoin="round"/>
<polygon points="62.4,1132.9 67.6,1138.9 62.4,1144.9 57.2,1138.9" fill="none" stroke="#FF0080" stroke-width="2.1"/>
<polygon points="197.1,1132.9 202.3,1138.9 197.1,1144.9 191.9,1138.9" fill="none" stroke="#FF0080" stroke-width="2.1"/>
<polygon points="331.9,1132.9 337.1,1138.9 331.9,1144.9 326.7,1138.9" fill="none" stroke="#FF0080" stroke-width="2.1"/>
<polygon points="466.6,1132.9 471.8,1138.9 466.6,1144.9 461.4,1138.9" fill="none" stroke="#FF0080" stroke-width="2.1"/>
<polyline points="62.4,1138.9 197.1,1138.9 331.9,1138.9 466.6,1138.9" fill="none" stroke="#FF00FF" stroke-width="2.1" stroke-linejoin="round"/>
<polygon points="62.4,1132.0 63.9,1137.0 68.5,1137.1 64.9,1140.3 66.1,1145.4 62.4,1142.4 58.7,1145.4 59.9,1140.3 56.3,1137.1 60.9,1137.0" fill="#FF00FF" stroke="#FF00FF" stroke-width="1.2" stroke-linejoin="round"/>
<polygon points="197.1,1132.0 198.6,1137.0 203.2,1137.1 199.6,1140.3 200.9,1145.4 197.1,1142.4 193.4,1145.4 194.7,1140.3 191.1,1137.1 195.6,1137.0" fill="#FF00FF" stroke="#FF00FF" stroke-width="1.2" stroke-linejoin="round"/>
<polygon points="331.9,1132.0 333.4,1137.0 337.9,1137.1 334.3,1140.3 335.6,1145.4 331.9,1142.4 328.1,1145.4 329.4,1140.3 325.8,1137.1 330.4,1137.0" fill="#FF00FF" stroke="#FF00FF" stroke-width="1.2" stroke-linejoin="round"/>
<polygon points="466.6,1132.0 468.1,1137.0 472.7,1137.1 469.1,1140.3 470.3,1145.4 466.6,1142.4 462.9,1145.4 464.1,1140.3 460.5,1137.1 465.1,1137.0" fill="#FF00FF" stroke="#FF00FF" stroke-width="1.2" stroke-linejoin="round"/>
<polyline points="62.4,1138.9 197.1,1138.9 331.9,1138.9 466.6,1138.9" fill="none" stroke="#FF6666" stroke-width="2.1" stroke-linejoin="round"/>
<polygon points="62.4,1132.9 64.1,1136.0 67.6,1135.9 65.8,1138.9 67.6,1141.9 64.1,1141.8 62.4,1144.9 60.7,1141.8 57.2,1141.9 59.0,1138.9 57.2,1135.9 60.7,1136.0" fill="none" stroke="#FF6666" stroke-width="2.0" stroke-linejoin="round"/>
<polygon points="197.1,1132.9 198.8,1136.0 202.3,1135.9 200.5,1138.9 202.3,1141.9 198.8,1141.8 197.1,1144.9 195.4,1141.8 191.9,1141.9 193.7,1138.9 191.9,1135.9 195.4,1136.0" fill="none" stroke="#FF6666" stroke-width="2.0" stroke-linejoin="round"/>
<polygon points="331.9,1132.9 333.6,1136.0 337.1,1135.9 335.3,1138.9 337.1,1141.9 333.6,1141.8 331.9,1144.9 330.2,1141.8 326.7,1141.9 328.5,1138.9 326.7,1135.9 330.2,1136.0" fill="none" stroke="#FF6666" stroke-width="2.0" stroke-linejoin="round"/>
<polygon points="466.6,1132.9 468.3,1136.0 471.8,1135.9 470.0,1138.9 471.8,1141.9 468.3,1141.8 466.6,1144.9 464.9,1141.8 461.4,1141.9 463.2,1138.9 461.4,1135.9 464.9,1136.0" fill="none" stroke="#FF6666" stroke-width="2.0" stroke-linejoin="round"/>
<polyline points="62.4,1138.9 197.1,1138.9 331.9,1138.9 466.6,1138.9" fill="none" stroke="#FF66FF" stroke-width="2.1" stroke-linejoin="round"/>
<polygon points="62.4,1145.2 68.7,1133.5 56.1,1133.5" fill="none" stroke="#FF66FF" stroke-width="2.1" stroke-miterlimit="3"/>
<polygon points="197.1,1145.2 203.4,1133.5 190.8,1133.5" fill="none" stroke="#FF66FF" stroke-width="2.1" stroke-miterlimit="3"/>
<polygon points="331.9,1145.2 338.2,1133.5 325.6,1133.5" fill="none" stroke="#FF66FF" stroke-width="2.1" stroke-miterlimit="3"/>
<polygon points="466.6,1145.2 472.9,1133.5 460.3,1133.5" fill="none" stroke="#FF66FF" stroke-width="2.1" stroke-miterlimit="3"/>
<polyline points="62.4,1138.9 197.1,1138.9 331.9,1138.9 466.6,1138.9" fill="none" stroke="#000000" stroke-width="2.1" stroke-linejoin="round"/>




<polyline points="62.4,1138.9 197.1,1138.9 331.9,1138.9 466.6,1138.9" fill="none" stroke="#80FF00" stroke-width="2.1" stroke-linejoin="round"/>
<circle cx="62.4" cy="1138.9" r="5.0" fill="none" stroke="#80FF00" stroke-width="2.1"/>
<circle cx="197.1" cy="1138.9" r="5.0" fill="none" stroke="#80FF00" stroke-width="2.1"/>
<circle cx="331.9" cy="1138.9" r="5.0" fill="none" stroke="#80FF00" stroke-width="2.1"/>
<circle cx="466.6" cy="1138.9" r="5.0" fill="none" stroke="#80FF00" stroke-width="2.1"/>
<polyline points="62.4,1138.9 197.1,1138.9 331.9,1138.9 466.6,1138.9" fill="none" stroke="#FF0000" stroke-width="3.6" stroke-dasharray="14.5,14.5" stroke-linejoin="round"/>
<path d="M57.0 1133.5L67.8 1144.3M57.0 1144.3L67.8 1133.5" stroke="#FF0000" stroke-width="3.1"/>
<path d="M191.7 1133.5L202.5 1144.3M191.7 1144.3L202.5 1133.5" stroke="#FF0000" stroke-width="3.1"/>
<path d="M326.5 1133.5L337.3 1144.3M326.5 1144.3L337.3 1133.5" stroke="#FF0000" stroke-width="3.1"/>
<path d="M461.2 1133.5L472.0 1144.3M461.2 1144.3L472.0 1133.5" stroke="#FF0000" stroke-width="3.1"/>
<text x="263.2" y="863.0" text-anchor="middle" class="ti">F9</text>
<rect x="563.4" y="880.3" width="404.3" height="298.7" fill="none" stroke="#000" stroke-width="2.0"/>
<path d="M563.4 1179.0V1174.5M563.4 880.3V884.8" stroke="#000" stroke-width="2"/>
<text x="563.4" y="1206.7" text-anchor="middle" class="t">10</text>
<path d="M698.2 1179.0V1174.5M698.2 880.3V884.8" stroke="#000" stroke-width="2"/>
<text x="698.2" y="1206.7" text-anchor="middle" class="t">30</text>
<path d="M832.9 1179.0V1174.5M832.9 880.3V884.8" stroke="#000" stroke-width="2"/>
<text x="832.9" y="1206.7" text-anchor="middle" class="t">50</text>
<path d="M967.7 1179.0V1174.5M967.7 880.3V884.8" stroke="#000" stroke-width="2"/>
<text x="967.7" y="1206.7" text-anchor="middle" class="t">100</text>
<path d="M563.4 882.4H568.9M967.7 882.4H962.2" stroke="#000" stroke-width="2"/>
<text x="555.9" y="890.6" text-anchor="end" class="t">-3.2</text>
<path d="M563.4 956.6H568.9M967.7 956.6H962.2" stroke="#000" stroke-width="2"/>
<text x="555.9" y="964.8" text-anchor="end" class="t">-3.4</text>
<path d="M563.4 1030.7H568.9M967.7 1030.7H962.2" stroke="#000" stroke-width="2"/>
<text x="555.9" y="1038.9" text-anchor="end" class="t">-3.6</text>
<path d="M563.4 1104.9H568.9M967.7 1104.9H962.2" stroke="#000" stroke-width="2"/>
<text x="555.9" y="1113.1" text-anchor="end" class="t">-3.8</text>
<path d="M563.4 1179.1H568.9M967.7 1179.1H962.2" stroke="#000" stroke-width="2"/>
<text x="555.9" y="1187.3" text-anchor="end" class="t">-4</text>
<polyline points="563.4,1122.7 698.2,1125.6 832.9,1126.1 967.7,1113.4" fill="none" stroke="#000080" stroke-width="2.1" stroke-linejoin="round"/>
<path d="M557.8 1122.7H569.0M563.4 1117.1V1128.3M559.4 1118.7L567.4 1126.7M559.4 1126.7L567.4 1118.7" stroke="#000080" stroke-width="2.2"/>
<path d="M692.6 1125.6H703.8M698.2 1120.0V1131.2M694.1 1121.6L702.2 1129.6M694.1 1129.6L702.2 1121.6" stroke="#000080" stroke-width="2.2"/>
<path d="M827.3 1126.1H838.5M832.9 1120.5V1131.7M828.9 1122.1L837.0 1130.1M828.9 1130.1L837.0 1122.1" stroke="#000080" stroke-width="2.2"/>
<path d="M962.1 1113.4H973.3M967.7 1107.8V1119.0M963.7 1109.4L971.7 1117.4M963.7 1117.4L971.7 1109.4" stroke="#000080" stroke-width="2.2"/>
<polyline points="563.4,1127.0 698.2,1127.0 832.9,1127.0 967.7,1127.0" fill="none" stroke="#0000FF" stroke-width="2.1" stroke-linejoin="round"/>
<path d="M558.1 1127.0H568.7M563.4 1121.7V1132.3" stroke="#0000FF" stroke-width="2.2"/>
<path d="M692.9 1127.0H703.5M698.2 1121.7V1132.3" stroke="#0000FF" stroke-width="2.2"/>
<path d="M827.6 1127.0H838.2M832.9 1121.7V1132.3" stroke="#0000FF" stroke-width="2.2"/>
<path d="M962.4 1127.0H973.0M967.7 1121.7V1132.3" stroke="#0000FF" stroke-width="2.2"/>
<polyline points="563.4,1127.0 698.2,1127.0 832.9,1127.0 967.7,1127.0" fill="none" stroke="#008080" stroke-width="2.1" stroke-linejoin="round"/>
<polygon points="557.1,1127.0 568.8,1120.7 568.8,1133.3" fill="none" stroke="#008080" stroke-width="2.1" stroke-miterlimit="3"/>
<polygon points="691.9,1127.0 703.5,1120.7 703.5,1133.3" fill="none" stroke="#008080" stroke-width="2.1" stroke-miterlimit="3"/>
<polygon points="826.6,1127.0 838.3,1120.7 838.3,1133.3" fill="none" stroke="#008080" stroke-width="2.1" stroke-miterlimit="3"/>
<polygon points="961.4,1127.0 973.1,1120.7 973.1,1133.3" fill="none" stroke="#008080" stroke-width="2.1" stroke-miterlimit="3"/>
<polyline points="563.4,1127.0 698.2,1127.0 832.9,1127.0 967.7,1127.0" fill="none" stroke="#0080FF" stroke-width="2.1" stroke-linejoin="round"/>
<polygon points="569.7,1127.0 558.0,1120.7 558.0,1133.3" fill="none" stroke="#0080FF" stroke-width="2.1" stroke-miterlimit="3"/>
<polygon points="704.5,1127.0 692.8,1120.7 692.8,1133.3" fill="none" stroke="#0080FF" stroke-width="2.1" stroke-miterlimit="3"/>
<polygon points="839.2,1127.0 827.6,1120.7 827.6,1133.3" fill="none" stroke="#0080FF" stroke-width="2.1" stroke-miterlimit="3"/>
<polygon points="974.0,1127.0 962.3,1120.7 962.3,1133.3" fill="none" stroke="#0080FF" stroke-width="2.1" stroke-miterlimit="3"/>
<polyline points="563.4,914.4 698.2,893.1 832.9,930.5 967.7,879.5" fill="none" stroke="#00FF80" stroke-width="2.1" stroke-linejoin="round"/>
<polygon points="563.4,908.1 569.7,919.8 557.1,919.8" fill="none" stroke="#00FF80" stroke-width="2.1" stroke-miterlimit="3"/>
<polygon points="698.2,886.8 704.5,898.5 691.9,898.5" fill="none" stroke="#00FF80" stroke-width="2.1" stroke-miterlimit="3"/>
<polygon points="832.9,924.2 839.2,935.9 826.6,935.9" fill="none" stroke="#00FF80" stroke-width="2.1" stroke-miterlimit="3"/>
<polygon points="967.7,873.2 974.0,884.9 961.4,884.9" fill="none" stroke="#00FF80" stroke-width="2.1" stroke-miterlimit="3"/>
<polyline points="563.4,1121.9 698.2,1109.7 832.9,1109.7 967.7,1109.7" fill="none" stroke="#00FFFF" stroke-width="2.1" stroke-linejoin="round"/>
<path d="M558.1 1121.9H568.7M563.4 1116.6V1127.2" stroke="#00FFFF" stroke-width="2.2"/>
<path d="M692.9 1109.7H703.5M698.2 1104.4V1115.0" stroke="#00FFFF" stroke-width="2.2"/>
<path d="M827.6 1109.7H838.2M832.9 1104.4V1115.0" stroke="#00FFFF" stroke-width="2.2"/>
<path d="M962.4 1109.7H973.0M967.7 1104.4V1115.0" stroke="#00FFFF" stroke-width="2.2"/>
<polyline points="563.4,1127.0 698.2,1127.0 832.9,1127.0 967.7,1127.0" fill="none" stroke="#800080" stroke-width="2.1" stroke-linejoin="round"/>
<circle cx="563.4" cy="1127.0" r="5.0" fill="none" stroke="#800080" stroke-width="2.1"/>
<circle cx="698.2" cy="1127.0" r="5.0" fill="none" stroke="#800080" stroke-width="2.1"/>
<circle cx="832.9" cy="1127.0" r="5.0" fill="none" stroke="#800080" stroke-width="2.1"/>
<circle cx="967.7" cy="1127.0" r="5.0" fill="none" stroke="#800080" stroke-width="2.1"/>
<polyline points="563.4,1127.0 698.2,1127.0 832.9,1127.0 967.7,1127.0" fill="none" stroke="#8000FF" stroke-width="2.1" stroke-linejoin="round"/>
<rect x="559.3" y="1122.9" width="8.2" height="8.2" fill="none" stroke="#8000FF" stroke-width="2.3"/>
<rect x="694.1" y="1122.9" width="8.2" height="8.2" fill="none" stroke="#8000FF" stroke-width="2.3"/>
<rect x="828.8" y="1122.9" width="8.2" height="8.2" fill="none" stroke="#8000FF" stroke-width="2.3"/>
<rect x="963.6" y="1122.9" width="8.2" height="8.2" fill="none" stroke="#8000FF" stroke-width="2.3"/>
<polyline points="563.4,1127.0 698.2,1127.0 832.9,1127.0 967.7,1127.0" fill="none" stroke="#FF0080" stroke-width="2.1" stroke-linejoin="round"/>
<polygon points="563.4,1121.0 568.6,1127.0 563.4,1133.0 558.2,1127.0" fill="none" stroke="#FF0080" stroke-width="2.1"/>
<polygon points="698.2,1121.0 703.4,1127.0 698.2,1133.0 693.0,1127.0" fill="none" stroke="#FF0080" stroke-width="2.1"/>
<polygon points="832.9,1121.0 838.1,1127.0 832.9,1133.0 827.7,1127.0" fill="none" stroke="#FF0080" stroke-width="2.1"/>
<polygon points="967.7,1121.0 972.9,1127.0 967.7,1133.0 962.5,1127.0" fill="none" stroke="#FF0080" stroke-width="2.1"/>
<polyline points="563.4,1127.0 698.2,1127.0 832.9,1127.0 967.7,1127.0" fill="none" stroke="#FF00FF" stroke-width="2.1" stroke-linejoin="round"/>
<polygon points="563.4,1120.1 564.9,1125.1 569.5,1125.2 565.9,1128.4 567.1,1133.5 563.4,1130.5 559.7,1133.5 560.9,1128.4 557.3,1125.2 561.9,1125.1" fill="#FF00FF" stroke="#FF00FF" stroke-width="1.2" stroke-linejoin="round"/>
<polygon points="698.2,1120.1 699.7,1125.1 704.2,1125.2 700.6,1128.4 701.9,1133.5 698.2,1130.5 694.4,1133.5 695.7,1128.4 692.1,1125.2 696.7,1125.1" fill="#FF00FF" stroke="#FF00FF" stroke-width="1.2" stroke-linejoin="round"/>
<polygon points="832.9,1120.1 834.4,1125.1 839.0,1125.2 835.4,1128.4 836.7,1133.5 832.9,1130.5 829.2,1133.5 830.5,1128.4 826.9,1125.2 831.4,1125.1" fill="#FF00FF" stroke="#FF00FF" stroke-width="1.2" stroke-linejoin="round"/>
<polygon points="967.7,1120.1 969.2,1125.1 973.8,1125.2 970.2,1128.4 971.4,1133.5 967.7,1130.5 964.0,1133.5 965.2,1128.4 961.6,1125.2 966.2,1125.1" fill="#FF00FF" stroke="#FF00FF" stroke-width="1.2" stroke-linejoin="round"/>
<polyline points="563.4,1127.0 698.2,1127.0 832.9,1127.0 967.7,1127.0" fill="none" stroke="#FF6666" stroke-width="2.1" stroke-linejoin="round"/>
<polygon points="563.4,1121.0 565.1,1124.1 568.6,1124.0 566.8,1127.0 568.6,1130.0 565.1,1129.9 563.4,1133.0 561.7,1129.9 558.2,1130.0 560.0,1127.0 558.2,1124.0 561.7,1124.1" fill="none" stroke="#FF6666" stroke-width="2.0" stroke-linejoin="round"/>
<polygon points="698.2,1121.0 699.9,1124.1 703.4,1124.0 701.6,1127.0 703.4,1130.0 699.9,1129.9 698.2,1133.0 696.5,1129.9 693.0,1130.0 694.8,1127.0 693.0,1124.0 696.5,1124.1" fill="none" stroke="#FF6666" stroke-width="2.0" stroke-linejoin="round"/>
<polygon points="832.9,1121.0 834.6,1124.1 838.1,1124.0 836.3,1127.0 838.1,1130.0 834.6,1129.9 832.9,1133.0 831.2,1129.9 827.7,1130.0 829.5,1127.0 827.7,1124.0 831.2,1124.1" fill="none" stroke="#FF6666" stroke-width="2.0" stroke-linejoin="round"/>
<polygon points="967.7,1121.0 969.4,1124.1 972.9,1124.0 971.1,1127.0 972.9,1130.0 969.4,1129.9 967.7,1133.0 966.0,1129.9 962.5,1130.0 964.3,1127.0 962.5,1124.0 966.0,1124.1" fill="none" stroke="#FF6666" stroke-width="2.0" stroke-linejoin="round"/>
<polyline points="563.4,1117.6 698.2,1118.2 832.9,1090.7 967.7,1099.2" fill="none" stroke="#FF66FF" stroke-width="2.1" stroke-linejoin="round"/>
<polygon points="563.4,1123.9 569.7,1112.2 557.1,1112.2" fill="none" stroke="#FF66FF" stroke-width="2.1" stroke-miterlimit="3"/>
<polygon points="698.2,1124.5 704.5,1112.8 691.9,1112.8" fill="none" stroke="#FF66FF" stroke-width="2.1" stroke-miterlimit="3"/>
<polygon points="832.9,1097.0 839.2,1085.3 826.6,1085.3" fill="none" stroke="#FF66FF" stroke-width="2.1" stroke-miterlimit="3"/>
<polygon points="967.7,1105.5 974.0,1093.8 961.4,1093.8" fill="none" stroke="#FF66FF" stroke-width="2.1" stroke-miterlimit="3"/>
<polyline points="563.4,1127.0 698.2,1127.0 832.9,1127.0 967.7,1127.0" fill="none" stroke="#000000" stroke-width="2.1" stroke-linejoin="round"/>




<polyline points="563.4,1127.0 698.2,1127.0 832.9,1127.0 967.7,1127.0" fill="none" stroke="#80FF00" stroke-width="2.1" stroke-linejoin="round"/>
<circle cx="563.4" cy="1127.0" r="5.0" fill="none" stroke="#80FF00" stroke-width="2.1"/>
<circle cx="698.2" cy="1127.0" r="5.0" fill="none" stroke="#80FF00" stroke-width="2.1"/>
<circle cx="832.9" cy="1127.0" r="5.0" fill="none" stroke="#80FF00" stroke-width="2.1"/>
<circle cx="967.7" cy="1127.0" r="5.0" fill="none" stroke="#80FF00" stroke-width="2.1"/>
<polyline points="563.4,1127.0 698.2,1127.0 832.9,1127.0 967.7,1127.0" fill="none" stroke="#FF0000" stroke-width="3.6" stroke-dasharray="14.5,14.5" stroke-linejoin="round"/>
<path d="M558.0 1121.6L568.8 1132.4M558.0 1132.4L568.8 1121.6" stroke="#FF0000" stroke-width="3.1"/>
<path d="M692.8 1121.6L703.6 1132.4M692.8 1132.4L703.6 1121.6" stroke="#FF0000" stroke-width="3.1"/>
<path d="M827.5 1121.6L838.3 1132.4M827.5 1132.4L838.3 1121.6" stroke="#FF0000" stroke-width="3.1"/>
<path d="M962.3 1121.6L973.1 1132.4M962.3 1132.4L973.1 1121.6" stroke="#FF0000" stroke-width="3.1"/>
<text x="764.2" y="866.7" text-anchor="middle" class="ti">F10</text>
<rect x="1061.5" y="876.7" width="404.5" height="298.5" fill="none" stroke="#000" stroke-width="2.0"/>
<path d="M1061.5 1175.2V1170.7M1061.5 876.7V881.2" stroke="#000" stroke-width="2"/>
<text x="1061.5" y="1202.9" text-anchor="middle" class="t">10</text>
<path d="M1196.3 1175.2V1170.7M1196.3 876.7V881.2" stroke="#000" stroke-width="2"/>
<text x="1196.3" y="1202.9" text-anchor="middle" class="t">30</text>
<path d="M1331.2 1175.2V1170.7M1331.2 876.7V881.2" stroke="#000" stroke-width="2"/>
<text x="1331.2" y="1202.9" text-anchor="middle" class="t">50</text>
<path d="M1466.0 1175.2V1170.7M1466.0 876.7V881.2" stroke="#000" stroke-width="2"/>
<text x="1466.0" y="1202.9" text-anchor="middle" class="t">100</text>
<path d="M1061.5 876.7H1067.0M1466.0 876.7H1460.5" stroke="#000" stroke-width="2"/>
<text x="1054.0" y="884.9" text-anchor="end" class="t">0</text>
<path d="M1061.5 926.5H1067.0M1466.0 926.5H1460.5" stroke="#000" stroke-width="2"/>
<text x="1054.0" y="934.7" text-anchor="end" class="t">-2</text>
<path d="M1061.5 976.2H1067.0M1466.0 976.2H1460.5" stroke="#000" stroke-width="2"/>
<text x="1054.0" y="984.4" text-anchor="end" class="t">-4</text>
<path d="M1061.5 1026.0H1067.0M1466.0 1026.0H1460.5" stroke="#000" stroke-width="2"/>
<text x="1054.0" y="1034.2" text-anchor="end" class="t">-6</text>
<path d="M1061.5 1075.7H1067.0M1466.0 1075.7H1460.5" stroke="#000" stroke-width="2"/>
<text x="1054.0" y="1083.9" text-anchor="end" class="t">-8</text>
<path d="M1061.5 1125.5H1067.0M1466.0 1125.5H1460.5" stroke="#000" stroke-width="2"/>
<text x="1054.0" y="1133.7" text-anchor="end" class="t">-10</text>
<path d="M1061.5 1175.2H1067.0M1466.0 1175.2H1460.5" stroke="#000" stroke-width="2"/>
<text x="1054.0" y="1183.4" text-anchor="end" class="t">-12</text>
<polyline points="1061.5,1015.6 1196.3,1002.0 1331.2,1037.7 1466.0,1024.6" fill="none" stroke="#000080" stroke-width="2.1" stroke-linejoin="round"/>
<path d="M1055.9 1015.6H1067.1M1061.5 1010.0V1021.2M1057.5 1011.6L1065.5 1019.6M1057.5 1019.6L1065.5 1011.6" stroke="#000080" stroke-width="2.2"/>
<path d="M1190.7 1002.0H1201.9M1196.3 996.4V1007.6M1192.3 998.0L1200.4 1006.0M1192.3 1006.0L1200.4 998.0" stroke="#000080" stroke-width="2.2"/>
<path d="M1325.6 1037.7H1336.8M1331.2 1032.1V1043.3M1327.1 1033.7L1335.2 1041.7M1327.1 1041.7L1335.2 1033.7" stroke="#000080" stroke-width="2.2"/>
<path d="M1460.4 1024.6H1471.6M1466.0 1019.0V1030.2M1462.0 1020.6L1470.0 1028.6M1462.0 1028.6L1470.0 1020.6" stroke="#000080" stroke-width="2.2"/>
<polyline points="1061.5,1074.5 1196.3,1087.0 1331.2,1066.6 1466.0,1091.5" fill="none" stroke="#0000FF" stroke-width="2.1" stroke-linejoin="round"/>
<path d="M1056.2 1074.5H1066.8M1061.5 1069.2V1079.8" stroke="#0000FF" stroke-width="2.2"/>
<path d="M1191.0 1087.0H1201.6M1196.3 1081.7V1092.3" stroke="#0000FF" stroke-width="2.2"/>
<path d="M1325.9 1066.6H1336.5M1331.2 1061.3V1071.9" stroke="#0000FF" stroke-width="2.2"/>
<path d="M1460.7 1091.5H1471.3M1466.0 1086.2V1096.8" stroke="#0000FF" stroke-width="2.2"/>
<polyline points="1061.5,1059.5 1196.3,1066.6 1331.2,1051.9 1466.0,1060.4" fill="none" stroke="#008080" stroke-width="2.1" stroke-linejoin="round"/>
<polygon points="1055.2,1059.5 1066.9,1053.2 1066.9,1065.8" fill="none" stroke="#008080" stroke-width="2.1" stroke-miterlimit="3"/>
<polygon points="1190.0,1066.6 1201.7,1060.3 1201.7,1072.9" fill="none" stroke="#008080" stroke-width="2.1" stroke-miterlimit="3"/>
<polygon points="1324.9,1051.9 1336.5,1045.6 1336.5,1058.2" fill="none" stroke="#008080" stroke-width="2.1" stroke-miterlimit="3"/>
<polygon points="1459.7,1060.4 1471.4,1054.1 1471.4,1066.7" fill="none" stroke="#008080" stroke-width="2.1" stroke-miterlimit="3"/>
<polyline points="1061.5,1114.8 1196.3,1125.6 1331.2,1109.7 1466.0,1110.5" fill="none" stroke="#0080FF" stroke-width="2.1" stroke-linejoin="round"/>
<polygon points="1067.8,1114.8 1056.1,1108.5 1056.1,1121.1" fill="none" stroke="#0080FF" stroke-width="2.1" stroke-miterlimit="3"/>
<polygon points="1202.6,1125.6 1191.0,1119.3 1191.0,1131.9" fill="none" stroke="#0080FF" stroke-width="2.1" stroke-miterlimit="3"/>
<polygon points="1337.5,1109.7 1325.8,1103.4 1325.8,1116.0" fill="none" stroke="#0080FF" stroke-width="2.1" stroke-miterlimit="3"/>
<polygon points="1472.3,1110.5 1460.6,1104.2 1460.6,1116.8" fill="none" stroke="#0080FF" stroke-width="2.1" stroke-miterlimit="3"/>
<polyline points="1061.5,903.0 1196.3,905.9 1331.2,898.8 1466.0,903.6" fill="none" stroke="#00FF80" stroke-width="2.1" stroke-linejoin="round"/>
<polygon points="1061.5,896.7 1067.8,908.4 1055.2,908.4" fill="none" stroke="#00FF80" stroke-width="2.1" stroke-miterlimit="3"/>
<polygon points="1196.3,899.6 1202.6,911.3 1190.0,911.3" fill="none" stroke="#00FF80" stroke-width="2.1" stroke-miterlimit="3"/>
<polygon points="1331.2,892.5 1337.5,904.2 1324.9,904.2" fill="none" stroke="#00FF80" stroke-width="2.1" stroke-miterlimit="3"/>
<polygon points="1466.0,897.3 1472.3,909.0 1459.7,909.0" fill="none" stroke="#00FF80" stroke-width="2.1" stroke-miterlimit="3"/>
<polyline points="1061.5,990.1 1196.3,1002.8 1331.2,1019.0 1466.0,1017.0" fill="none" stroke="#00FFFF" stroke-width="2.1" stroke-linejoin="round"/>
<path d="M1056.2 990.1H1066.8M1061.5 984.8V995.4" stroke="#00FFFF" stroke-width="2.2"/>
<path d="M1191.0 1002.8H1201.6M1196.3 997.5V1008.1" stroke="#00FFFF" stroke-width="2.2"/>
<path d="M1325.9 1019.0H1336.5M1331.2 1013.7V1024.3" stroke="#00FFFF" stroke-width="2.2"/>
<path d="M1460.7 1017.0H1471.3M1466.0 1011.7V1022.3" stroke="#00FFFF" stroke-width="2.2"/>
<polyline points="1061.5,1107.7 1196.3,1119.9 1331.2,1097.8 1466.0,1102.0" fill="none" stroke="#800080" stroke-width="2.1" stroke-linejoin="round"/>
<circle cx="1061.5" cy="1107.7" r="5.0" fill="none" stroke="#800080" stroke-width="2.1"/>
<circle cx="1196.3" cy="1119.9" r="5.0" fill="none" stroke="#800080" stroke-width="2.1"/>
<circle cx="1331.2" cy="1097.8" r="5.0" fill="none" stroke="#800080" stroke-width="2.1"/>
<circle cx="1466.0" cy="1102.0" r="5.0" fill="none" stroke="#800080" stroke-width="2.1"/>
<polyline points="1061.5,1123.3 1196.3,1120.5 1331.2,1119.0 1466.0,1128.4" fill="none" stroke="#8000FF" stroke-width="2.1" stroke-linejoin="round"/>
<rect x="1057.4" y="1119.2" width="8.2" height="8.2" fill="none" stroke="#8000FF" stroke-width="2.3"/>
<rect x="1192.2" y="1116.4" width="8.2" height="8.2" fill="none" stroke="#8000FF" stroke-width="2.3"/>
<rect x="1327.1" y="1114.9" width="8.2" height="8.2" fill="none" stroke="#8000FF" stroke-width="2.3"/>
<rect x="1461.9" y="1124.3" width="8.2" height="8.2" fill="none" stroke="#8000FF" stroke-width="2.3"/>
<polyline points="1061.5,1038.3 1196.3,1026.3 1331.2,1024.6 1466.0,1031.2" fill="none" stroke="#FF0080" stroke-width="2.1" stroke-linejoin="round"/>
<polygon points="1061.5,1032.3 1066.7,1038.3 1061.5,1044.3 1056.3,1038.3" fill="none" stroke="#FF0080" stroke-width="2.1"/>
<polygon points="1196.3,1020.3 1201.5,1026.3 1196.3,1032.3 1191.1,1026.3" fill="none" stroke="#FF0080" stroke-width="2.1"/>
<polygon points="1331.2,1018.6 1336.4,1024.6 1331.2,1030.6 1326.0,1024.6" fill="none" stroke="#FF0080" stroke-width="2.1"/>
<polygon points="1466.0,1025.2 1471.2,1031.2 1466.0,1037.2 1460.8,1031.2" fill="none" stroke="#FF0080" stroke-width="2.1"/>
<polyline points="1061.5,1060.4 1196.3,1078.5 1331.2,1038.3 1466.0,1049.6" fill="none" stroke="#FF00FF" stroke-width="2.1" stroke-linejoin="round"/>
<polygon points="1061.5,1053.5 1063.0,1058.5 1067.6,1058.6 1064.0,1061.8 1065.2,1066.9 1061.5,1063.9 1057.8,1066.9 1059.0,1061.8 1055.4,1058.6 1060.0,1058.5" fill="#FF00FF" stroke="#FF00FF" stroke-width="1.2" stroke-linejoin="round"/>
<polygon points="1196.3,1071.6 1197.8,1076.6 1202.4,1076.7 1198.8,1079.9 1200.1,1085.0 1196.3,1082.0 1192.6,1085.0 1193.9,1079.9 1190.3,1076.7 1194.8,1076.6" fill="#FF00FF" stroke="#FF00FF" stroke-width="1.2" stroke-linejoin="round"/>
<polygon points="1331.2,1031.4 1332.7,1036.4 1337.2,1036.5 1333.6,1039.7 1334.9,1044.8 1331.2,1041.8 1327.4,1044.8 1328.7,1039.7 1325.1,1036.5 1329.7,1036.4" fill="#FF00FF" stroke="#FF00FF" stroke-width="1.2" stroke-linejoin="round"/>
<polygon points="1466.0,1042.7 1467.5,1047.7 1472.1,1047.8 1468.5,1051.0 1469.7,1056.1 1466.0,1053.1 1462.3,1056.1 1463.5,1051.0 1459.9,1047.8 1464.5,1047.7" fill="#FF00FF" stroke="#FF00FF" stroke-width="1.2" stroke-linejoin="round"/>
<polyline points="1061.5,1072.3 1196.3,1046.2 1331.2,1081.3 1466.0,1080.2" fill="none" stroke="#FF6666" stroke-width="2.1" stroke-linejoin="round"/>
<polygon points="1061.5,1066.3 1063.2,1069.4 1066.7,1069.3 1064.9,1072.3 1066.7,1075.3 1063.2,1075.2 1061.5,1078.3 1059.8,1075.2 1056.3,1075.3 1058.1,1072.3 1056.3,1069.3 1059.8,1069.4" fill="none" stroke="#FF6666" stroke-width="2.0" stroke-linejoin="round"/>
<polygon points="1196.3,1040.2 1198.0,1043.3 1201.5,1043.2 1199.7,1046.2 1201.5,1049.2 1198.0,1049.1 1196.3,1052.2 1194.6,1049.1 1191.1,1049.2 1192.9,1046.2 1191.1,1043.2 1194.6,1043.3" fill="none" stroke="#FF6666" stroke-width="2.0" stroke-linejoin="round"/>
<polygon points="1331.2,1075.3 1332.9,1078.4 1336.4,1078.3 1334.6,1081.3 1336.4,1084.3 1332.9,1084.2 1331.2,1087.3 1329.5,1084.2 1326.0,1084.3 1327.8,1081.3 1326.0,1078.3 1329.5,1078.4" fill="none" stroke="#FF6666" stroke-width="2.0" stroke-linejoin="round"/>
<polygon points="1466.0,1074.2 1467.7,1077.3 1471.2,1077.2 1469.4,1080.2 1471.2,1083.2 1467.7,1083.1 1466.0,1086.2 1464.3,1083.1 1460.8,1083.2 1462.6,1080.2 1460.8,1077.2 1464.3,1077.3" fill="none" stroke="#FF6666" stroke-width="2.0" stroke-linejoin="round"/>
<polyline points="1061.5,1029.8 1196.3,1016.1 1331.2,1007.6 1466.0,992.1" fill="none" stroke="#FF66FF" stroke-width="2.1" stroke-linejoin="round"/>
<polygon points="1061.5,1036.1 1067.8,1024.4 1055.2,1024.4" fill="none" stroke="#FF66FF" stroke-width="2.1" stroke-miterlimit="3"/>
<polygon points="1196.3,1022.4 1202.6,1010.7 1190.0,1010.7" fill="none" stroke="#FF66FF" stroke-width="2.1" stroke-miterlimit="3"/>
<polygon points="1331.2,1013.9 1337.5,1002.2 1324.9,1002.2" fill="none" stroke="#FF66FF" stroke-width="2.1" stroke-miterlimit="3"/>
<polygon points="1466.0,998.4 1472.3,986.7 1459.7,986.7" fill="none" stroke="#FF66FF" stroke-width="2.1" stroke-miterlimit="3"/>
<polyline points="1061.5,938.5 1196.3,925.4 1331.2,924.3 1466.0,936.2" fill="none" stroke="#000000" stroke-width="2.1" stroke-linejoin="round"/>




<polyline points="1061.5,1073.7 1196.3,1051.0 1331.2,1100.6 1466.0,1087.0" fill="none" stroke="#80FF00" stroke-width="2.1" stroke-linejoin="round"/>
<circle cx="1061.5" cy="1073.7" r="5.0" fill="none" stroke="#80FF00" stroke-width="2.1"/>
<circle cx="1196.3" cy="1051.0" r="5.0" fill="none" stroke="#80FF00" stroke-width="2.1"/>
<circle cx="1331.2" cy="1100.6" r="5.0" fill="none" stroke="#80FF00" stroke-width="2.1"/>
<circle cx="1466.0" cy="1087.0" r="5.0" fill="none" stroke="#80FF00" stroke-width="2.1"/>
<polyline points="1061.5,1129.5 1196.3,1129.5 1331.2,1129.5 1466.0,1129.5" fill="none" stroke="#FF0000" stroke-width="3.6" stroke-dasharray="14.5,14.5" stroke-linejoin="round"/>
<path d="M1056.1 1124.1L1066.9 1134.9M1056.1 1134.9L1066.9 1124.1" stroke="#FF0000" stroke-width="3.1"/>
<path d="M1190.9 1124.1L1201.7 1134.9M1190.9 1134.9L1201.7 1124.1" stroke="#FF0000" stroke-width="3.1"/>
<path d="M1325.8 1124.1L1336.6 1134.9M1325.8 1134.9L1336.6 1124.1" stroke="#FF0000" stroke-width="3.1"/>
<path d="M1460.6 1124.1L1471.4 1134.9M1460.6 1134.9L1471.4 1124.1" stroke="#FF0000" stroke-width="3.1"/>
<text x="1262.5" y="863.1" text-anchor="middle" class="ti">F11</text>
<rect x="1562.4" y="881.3" width="404.3" height="298.8" fill="none" stroke="#000" stroke-width="2.0"/>
<path d="M1562.4 1180.1V1175.6M1562.4 881.3V885.8" stroke="#000" stroke-width="2"/>
<text x="1562.4" y="1207.8" text-anchor="middle" class="t">10</text>
<path d="M1697.2 1180.1V1175.6M1697.2 881.3V885.8" stroke="#000" stroke-width="2"/>
<text x="1697.2" y="1207.8" text-anchor="middle" class="t">30</text>
<path d="M1831.9 1180.1V1175.6M1831.9 881.3V885.8" stroke="#000" stroke-width="2"/>
<text x="1831.9" y="1207.8" text-anchor="middle" class="t">50</text>
<path d="M1966.7 1180.1V1175.6M1966.7 881.3V885.8" stroke="#000" stroke-width="2"/>
<text x="1966.7" y="1207.8" text-anchor="middle" class="t">100</text>
<path d="M1562.4 881.3H1567.9M1966.7 881.3H1961.2" stroke="#000" stroke-width="2"/>
<text x="1554.9" y="889.5" text-anchor="end" class="t">0</text>
<path d="M1562.4 931.1H1567.9M1966.7 931.1H1961.2" stroke="#000" stroke-width="2"/>
<text x="1554.9" y="939.3" text-anchor="end" class="t">-2</text>
<path d="M1562.4 980.9H1567.9M1966.7 980.9H1961.2" stroke="#000" stroke-width="2"/>
<text x="1554.9" y="989.1" text-anchor="end" class="t">-4</text>
<path d="M1562.4 1030.7H1567.9M1966.7 1030.7H1961.2" stroke="#000" stroke-width="2"/>
<text x="1554.9" y="1038.9" text-anchor="end" class="t">-6</text>
<path d="M1562.4 1080.5H1567.9M1966.7 1080.5H1961.2" stroke="#000" stroke-width="2"/>
<text x="1554.9" y="1088.7" text-anchor="end" class="t">-8</text>
<path d="M1562.4 1130.3H1567.9M1966.7 1130.3H1961.2" stroke="#000" stroke-width="2"/>
<text x="1554.9" y="1138.5" text-anchor="end" class="t">-10</text>
<path d="M1562.4 1180.1H1567.9M1966.7 1180.1H1961.2" stroke="#000" stroke-width="2"/>
<text x="1554.9" y="1188.3" text-anchor="end" class="t">-12</text>
<polyline points="1562.4,1049.0 1697.2,1043.9 1831.9,1056.7 1966.7,1026.3" fill="none" stroke="#000080" stroke-width="2.1" stroke-linejoin="round"/>
<path d="M1556.8 1049.0H1568.0M1562.4 1043.4V1054.6M1558.4 1045.0L1566.4 1053.0M1558.4 1053.0L1566.4 1045.0" stroke="#000080" stroke-width="2.2"/>
<path d="M1691.6 1043.9H1702.8M1697.2 1038.3V1049.5M1693.1 1039.9L1701.2 1047.9M1693.1 1047.9L1701.2 1039.9" stroke="#000080" stroke-width="2.2"/>
<path d="M1826.3 1056.7H1837.5M1831.9 1051.1V1062.3M1827.9 1052.7L1836.0 1060.7M1827.9 1060.7L1836.0 1052.7" stroke="#000080" stroke-width="2.2"/>
<path d="M1961.1 1026.3H1972.3M1966.7 1020.7V1031.9M1962.7 1022.3L1970.7 1030.3M1962.7 1030.3L1970.7 1022.3" stroke="#000080" stroke-width="2.2"/>
<polyline points="1562.4,1097.2 1697.2,1127.5 1831.9,1088.7 1966.7,1079.3" fill="none" stroke="#0000FF" stroke-width="2.1" stroke-linejoin="round"/>
<path d="M1557.1 1097.2H1567.7M1562.4 1091.9V1102.5" stroke="#0000FF" stroke-width="2.2"/>
<path d="M1691.9 1127.5H1702.5M1697.2 1122.2V1132.8" stroke="#0000FF" stroke-width="2.2"/>
<path d="M1826.6 1088.7H1837.2M1831.9 1083.4V1094.0" stroke="#0000FF" stroke-width="2.2"/>
<path d="M1961.4 1079.3H1972.0M1966.7 1074.0V1084.6" stroke="#0000FF" stroke-width="2.2"/>
<polyline points="1562.4,1063.8 1697.2,1070.0 1831.9,1066.0 1966.7,1060.4" fill="none" stroke="#008080" stroke-width="2.1" stroke-linejoin="round"/>
<polygon points="1556.1,1063.8 1567.8,1057.5 1567.8,1070.1" fill="none" stroke="#008080" stroke-width="2.1" stroke-miterlimit="3"/>
<polygon points="1690.9,1070.0 1702.5,1063.7 1702.5,1076.3" fill="none" stroke="#008080" stroke-width="2.1" stroke-miterlimit="3"/>
<polygon points="1825.6,1066.0 1837.3,1059.7 1837.3,1072.3" fill="none" stroke="#008080" stroke-width="2.1" stroke-miterlimit="3"/>
<polygon points="1960.4,1060.4 1972.1,1054.1 1972.1,1066.7" fill="none" stroke="#008080" stroke-width="2.1" stroke-miterlimit="3"/>
<polyline points="1562.4,1143.7 1697.2,1143.7 1831.9,1143.7 1966.7,1143.7" fill="none" stroke="#0080FF" stroke-width="2.1" stroke-linejoin="round"/>
<polygon points="1568.7,1143.7 1557.0,1137.4 1557.0,1150.0" fill="none" stroke="#0080FF" stroke-width="2.1" stroke-miterlimit="3"/>
<polygon points="1703.5,1143.7 1691.8,1137.4 1691.8,1150.0" fill="none" stroke="#0080FF" stroke-width="2.1" stroke-miterlimit="3"/>
<polygon points="1838.2,1143.7 1826.6,1137.4 1826.6,1150.0" fill="none" stroke="#0080FF" stroke-width="2.1" stroke-miterlimit="3"/>
<polygon points="1973.0,1143.7 1961.3,1137.4 1961.3,1150.0" fill="none" stroke="#0080FF" stroke-width="2.1" stroke-miterlimit="3"/>
<polyline points="1562.4,913.5 1697.2,913.0 1831.9,910.1 1966.7,908.4" fill="none" stroke="#00FF80" stroke-width="2.1" stroke-linejoin="round"/>
<polygon points="1562.4,907.2 1568.7,918.9 1556.1,918.9" fill="none" stroke="#00FF80" stroke-width="2.1" stroke-miterlimit="3"/>
<polygon points="1697.2,906.7 1703.5,918.4 1690.9,918.4" fill="none" stroke="#00FF80" stroke-width="2.1" stroke-miterlimit="3"/>
<polygon points="1831.9,903.8 1838.2,915.5 1825.6,915.5" fill="none" stroke="#00FF80" stroke-width="2.1" stroke-miterlimit="3"/>
<polygon points="1966.7,902.1 1973.0,913.8 1960.4,913.8" fill="none" stroke="#00FF80" stroke-width="2.1" stroke-miterlimit="3"/>
<polyline points="1562.4,987.2 1697.2,1024.1 1831.9,1012.2 1966.7,1010.5" fill="none" stroke="#00FFFF" stroke-width="2.1" stroke-linejoin="round"/>
<path d="M1557.1 987.2H1567.7M1562.4 981.9V992.5" stroke="#00FFFF" stroke-width="2.2"/>
<path d="M1691.9 1024.1H1702.5M1697.2 1018.8V1029.4" stroke="#00FFFF" stroke-width="2.2"/>
<path d="M1826.6 1012.2H1837.2M1831.9 1006.9V1017.5" stroke="#00FFFF" stroke-width="2.2"/>
<path d="M1961.4 1010.5H1972.0M1966.7 1005.2V1015.8" stroke="#00FFFF" stroke-width="2.2"/>
<polyline points="1562.4,1143.1 1697.2,1131.8 1831.9,1110.5 1966.7,1141.7" fill="none" stroke="#800080" stroke-width="2.1" stroke-linejoin="round"/>
<circle cx="1562.4" cy="1143.1" r="5.0" fill="none" stroke="#800080" stroke-width="2.1"/>
<circle cx="1697.2" cy="1131.8" r="5.0" fill="none" stroke="#800080" stroke-width="2.1"/>
<circle cx="1831.9" cy="1110.5" r="5.0" fill="none" stroke="#800080" stroke-width="2.1"/>
<circle cx="1966.7" cy="1141.7" r="5.0" fill="none" stroke="#800080" stroke-width="2.1"/>
<polyline points="1562.4,1143.7 1697.2,1143.7 1831.9,1143.7 1966.7,1143.7" fill="none" stroke="#8000FF" stroke-width="2.1" stroke-linejoin="round"/>
<rect x="1558.3" y="1139.6" width="8.2" height="8.2" fill="none" stroke="#8000FF" stroke-width="2.3"/>
<rect x="1693.1" y="1139.6" width="8.2" height="8.2" fill="none" stroke="#8000FF" stroke-width="2.3"/>
<rect x="1827.8" y="1139.6" width="8.2" height="8.2" fill="none" stroke="#8000FF" stroke-width="2.3"/>
<rect x="1962.6" y="1139.6" width="8.2" height="8.2" fill="none" stroke="#8000FF" stroke-width="2.3"/>
<polyline points="1562.4,1064.3 1697.2,1077.4 1831.9,1103.4 1966.7,1096.4" fill="none" stroke="#FF0080" stroke-width="2.1" stroke-linejoin="round"/>
<polygon points="1562.4,1058.3 1567.6,1064.3 1562.4,1070.3 1557.2,1064.3" fill="none" stroke="#FF0080" stroke-width="2.1"/>
<polygon points="1697.2,1071.4 1702.4,1077.4 1697.2,1083.4 1692.0,1077.4" fill="none" stroke="#FF0080" stroke-width="2.1"/>
<polygon points="1831.9,1097.4 1837.1,1103.4 1831.9,1109.4 1826.7,1103.4" fill="none" stroke="#FF0080" stroke-width="2.1"/>
<polygon points="1966.7,1090.4 1971.9,1096.4 1966.7,1102.4 1961.5,1096.4" fill="none" stroke="#FF0080" stroke-width="2.1"/>
<polyline points="1562.4,1102.0 1697.2,1094.9 1831.9,1117.6 1966.7,1104.0" fill="none" stroke="#FF00FF" stroke-width="2.1" stroke-linejoin="round"/>
<polygon points="1562.4,1095.1 1563.9,1100.1 1568.5,1100.2 1564.9,1103.4 1566.1,1108.5 1562.4,1105.5 1558.7,1108.5 1559.9,1103.4 1556.3,1100.2 1560.9,1100.1" fill="#FF00FF" stroke="#FF00FF" stroke-width="1.2" stroke-linejoin="round"/>
<polygon points="1697.2,1088.0 1698.7,1093.0 1703.2,1093.1 1699.6,1096.3 1700.9,1101.4 1697.2,1098.4 1693.4,1101.4 1694.7,1096.3 1691.1,1093.1 1695.7,1093.0" fill="#FF00FF" stroke="#FF00FF" stroke-width="1.2" stroke-linejoin="round"/>
<polygon points="1831.9,1110.7 1833.4,1115.7 1838.0,1115.8 1834.4,1119.0 1835.7,1124.1 1831.9,1121.1 1828.2,1124.1 1829.5,1119.0 1825.9,1115.8 1830.4,1115.7" fill="#FF00FF" stroke="#FF00FF" stroke-width="1.2" stroke-linejoin="round"/>
<polygon points="1966.7,1097.1 1968.2,1102.1 1972.8,1102.2 1969.2,1105.4 1970.4,1110.5 1966.7,1107.5 1963.0,1110.5 1964.2,1105.4 1960.6,1102.2 1965.2,1102.1" fill="#FF00FF" stroke="#FF00FF" stroke-width="1.2" stroke-linejoin="round"/>
<polyline points="1562.4,1109.1 1697.2,1106.8 1831.9,1116.2 1966.7,1136.9" fill="none" stroke="#FF6666" stroke-width="2.1" stroke-linejoin="round"/>
<polygon points="1562.4,1103.1 1564.1,1106.2 1567.6,1106.1 1565.8,1109.1 1567.6,1112.1 1564.1,1112.0 1562.4,1115.1 1560.7,1112.0 1557.2,1112.1 1559.0,1109.1 1557.2,1106.1 1560.7,1106.2" fill="none" stroke="#FF6666" stroke-width="2.0" stroke-linejoin="round"/>
<polygon points="1697.2,1100.8 1698.9,1103.9 1702.4,1103.8 1700.6,1106.8 1702.4,1109.8 1698.9,1109.7 1697.2,1112.8 1695.5,1109.7 1692.0,1109.8 1693.8,1106.8 1692.0,1103.8 1695.5,1103.9" fill="none" stroke="#FF6666" stroke-width="2.0" stroke-linejoin="round"/>
<polygon points="1831.9,1110.2 1833.6,1113.3 1837.1,1113.2 1835.3,1116.2 1837.1,1119.2 1833.6,1119.1 1831.9,1122.2 1830.2,1119.1 1826.7,1119.2 1828.5,1116.2 1826.7,1113.2 1830.2,1113.3" fill="none" stroke="#FF6666" stroke-width="2.0" stroke-linejoin="round"/>
<polygon points="1966.7,1130.9 1968.4,1134.0 1971.9,1133.9 1970.1,1136.9 1971.9,1139.9 1968.4,1139.8 1966.7,1142.9 1965.0,1139.8 1961.5,1139.9 1963.3,1136.9 1961.5,1133.9 1965.0,1134.0" fill="none" stroke="#FF6666" stroke-width="2.0" stroke-linejoin="round"/>
<polyline points="1562.4,985.8 1697.2,1002.8 1831.9,988.6 1966.7,990.1" fill="none" stroke="#FF66FF" stroke-width="2.1" stroke-linejoin="round"/>
<polygon points="1562.4,992.1 1568.7,980.4 1556.1,980.4" fill="none" stroke="#FF66FF" stroke-width="2.1" stroke-miterlimit="3"/>
<polygon points="1697.2,1009.1 1703.5,997.4 1690.9,997.4" fill="none" stroke="#FF66FF" stroke-width="2.1" stroke-miterlimit="3"/>
<polygon points="1831.9,994.9 1838.2,983.2 1825.6,983.2" fill="none" stroke="#FF66FF" stroke-width="2.1" stroke-miterlimit="3"/>
<polygon points="1966.7,996.4 1973.0,984.7 1960.4,984.7" fill="none" stroke="#FF66FF" stroke-width="2.1" stroke-miterlimit="3"/>
<polyline points="1562.4,966.0 1697.2,975.3 1831.9,983.0 1966.7,971.1" fill="none" stroke="#000000" stroke-width="2.1" stroke-linejoin="round"/>




<polyline points="1562.4,1054.7 1697.2,1046.8 1831.9,1038.3 1966.7,1070.9" fill="none" stroke="#80FF00" stroke-width="2.1" stroke-linejoin="round"/>
<circle cx="1562.4" cy="1054.7" r="5.0" fill="none" stroke="#80FF00" stroke-width="2.1"/>
<circle cx="1697.2" cy="1046.8" r="5.0" fill="none" stroke="#80FF00" stroke-width="2.1"/>
<circle cx="1831.9" cy="1038.3" r="5.0" fill="none" stroke="#80FF00" stroke-width="2.1"/>
<circle cx="1966.7" cy="1070.9" r="5.0" fill="none" stroke="#80FF00" stroke-width="2.1"/>
<polyline points="1562.4,1143.7 1697.2,1143.7 1831.9,1143.7 1966.7,1143.7" fill="none" stroke="#FF0000" stroke-width="3.6" stroke-dasharray="14.5,14.5" stroke-linejoin="round"/>
<path d="M1557.0 1138.3L1567.8 1149.1M1557.0 1149.1L1567.8 1138.3" stroke="#FF0000" stroke-width="3.1"/>
<path d="M1691.8 1138.3L1702.6 1149.1M1691.8 1149.1L1702.6 1138.3" stroke="#FF0000" stroke-width="3.1"/>
<path d="M1826.5 1138.3L1837.3 1149.1M1826.5 1149.1L1837.3 1138.3" stroke="#FF0000" stroke-width="3.1"/>
<path d="M1961.3 1138.3L1972.1 1149.1M1961.3 1149.1L1972.1 1138.3" stroke="#FF0000" stroke-width="3.1"/>
<text x="1763.3" y="867.7" text-anchor="middle" class="ti">F12</text>
<rect x="62.4" y="1260.2" width="404.2" height="298.8" fill="none" stroke="#000" stroke-width="2.0"/>
<path d="M62.4 1559.0V1554.5M62.4 1260.2V1264.7" stroke="#000" stroke-width="2"/>
<text x="62.4" y="1586.7" text-anchor="middle" class="t">10</text>
<path d="M197.1 1559.0V1554.5M197.1 1260.2V1264.7" stroke="#000" stroke-width="2"/>
<text x="197.1" y="1586.7" text-anchor="middle" class="t">30</text>
<path d="M331.9 1559.0V1554.5M331.9 1260.2V1264.7" stroke="#000" stroke-width="2"/>
<text x="331.9" y="1586.7" text-anchor="middle" class="t">50</text>
<path d="M466.6 1559.0V1554.5M466.6 1260.2V1264.7" stroke="#000" stroke-width="2"/>
<text x="466.6" y="1586.7" text-anchor="middle" class="t">100</text>
<path d="M62.4 1260.2H67.9M466.6 1260.2H461.1" stroke="#000" stroke-width="2"/>
<text x="54.9" y="1272.8" text-anchor="end" class="t">10<tspan font-size="18.2" dy="-11.8">6</tspan></text>
<path d="M62.4 1334.9H67.9M466.6 1334.9H461.1" stroke="#000" stroke-width="2"/>
<text x="54.9" y="1347.5" text-anchor="end" class="t">10<tspan font-size="18.2" dy="-11.8">5</tspan></text>
<path d="M62.4 1409.6H67.9M466.6 1409.6H461.1" stroke="#000" stroke-width="2"/>
<text x="54.9" y="1422.2" text-anchor="end" class="t">10<tspan font-size="18.2" dy="-11.8">4</tspan></text>
<path d="M62.4 1484.3H67.9M466.6 1484.3H461.1" stroke="#000" stroke-width="2"/>
<text x="54.9" y="1496.9" text-anchor="end" class="t">10<tspan font-size="18.2" dy="-11.8">3</tspan></text>
<path d="M62.4 1559.0H67.9M466.6 1559.0H461.1" stroke="#000" stroke-width="2"/>
<text x="54.9" y="1571.6" text-anchor="end" class="t">10<tspan font-size="18.2" dy="-11.8">2</tspan></text>
<path d="M62.4 1536.5H65.9M466.6 1536.5H463.1" stroke="#000" stroke-width="2"/>
<path d="M62.4 1523.4H65.9M466.6 1523.4H463.1" stroke="#000" stroke-width="2"/>
<path d="M62.4 1514.0H65.9M466.6 1514.0H463.1" stroke="#000" stroke-width="2"/>
<path d="M62.4 1506.8H65.9M466.6 1506.8H463.1" stroke="#000" stroke-width="2"/>
<path d="M62.4 1500.9H65.9M466.6 1500.9H463.1" stroke="#000" stroke-width="2"/>
<path d="M62.4 1495.9H65.9M466.6 1495.9H463.1" stroke="#000" stroke-width="2"/>
<path d="M62.4 1491.5H65.9M466.6 1491.5H463.1" stroke="#000" stroke-width="2"/>
<path d="M62.4 1487.7H65.9M466.6 1487.7H463.1" stroke="#000" stroke-width="2"/>
<path d="M62.4 1461.8H65.9M466.6 1461.8H463.1" stroke="#000" stroke-width="2"/>
<path d="M62.4 1448.7H65.9M466.6 1448.7H463.1" stroke="#000" stroke-width="2"/>
<path d="M62.4 1439.3H65.9M466.6 1439.3H463.1" stroke="#000" stroke-width="2"/>
<path d="M62.4 1432.1H65.9M466.6 1432.1H463.1" stroke="#000" stroke-width="2"/>
<path d="M62.4 1426.2H65.9M466.6 1426.2H463.1" stroke="#000" stroke-width="2"/>
<path d="M62.4 1421.2H65.9M466.6 1421.2H463.1" stroke="#000" stroke-width="2"/>
<path d="M62.4 1416.8H65.9M466.6 1416.8H463.1" stroke="#000" stroke-width="2"/>
<path d="M62.4 1413.0H65.9M466.6 1413.0H463.1" stroke="#000" stroke-width="2"/>
<path d="M62.4 1387.1H65.9M466.6 1387.1H463.1" stroke="#000" stroke-width="2"/>
<path d="M62.4 1374.0H65.9M466.6 1374.0H463.1" stroke="#000" stroke-width="2"/>
<path d="M62.4 1364.6H65.9M466.6 1364.6H463.1" stroke="#000" stroke-width="2"/>
<path d="M62.4 1357.4H65.9M466.6 1357.4H463.1" stroke="#000" stroke-width="2"/>
<path d="M62.4 1351.5H65.9M466.6 1351.5H463.1" stroke="#000" stroke-width="2"/>
<path d="M62.4 1346.5H65.9M466.6 1346.5H463.1" stroke="#000" stroke-width="2"/>
<path d="M62.4 1342.1H65.9M466.6 1342.1H463.1" stroke="#000" stroke-width="2"/>
<path d="M62.4 1338.3H65.9M466.6 1338.3H463.1" stroke="#000" stroke-width="2"/>
<path d="M62.4 1312.4H65.9M466.6 1312.4H463.1" stroke="#000" stroke-width="2"/>
<path d="M62.4 1299.3H65.9M466.6 1299.3H463.1" stroke="#000" stroke-width="2"/>
<path d="M62.4 1289.9H65.9M466.6 1289.9H463.1" stroke="#000" stroke-width="2"/>
<path d="M62.4 1282.7H65.9M466.6 1282.7H463.1" stroke="#000" stroke-width="2"/>
<path d="M62.4 1276.8H65.9M466.6 1276.8H463.1" stroke="#000" stroke-width="2"/>
<path d="M62.4 1271.8H65.9M466.6 1271.8H463.1" stroke="#000" stroke-width="2"/>
<path d="M62.4 1267.4H65.9M466.6 1267.4H463.1" stroke="#000" stroke-width="2"/>
<path d="M62.4 1263.6H65.9M466.6 1263.6H463.1" stroke="#000" stroke-width="2"/>
<polyline points="62.4,1372.0 197.1,1310.0 331.9,1295.0 466.6,1269.4" fill="none" stroke="#000080" stroke-width="2.1" stroke-linejoin="round"/>
<path d="M56.8 1372.0H68.0M62.4 1366.4V1377.6M58.4 1368.0L66.4 1376.0M58.4 1376.0L66.4 1368.0" stroke="#000080" stroke-width="2.2"/>
<path d="M191.5 1310.0H202.7M197.1 1304.4V1315.6M193.1 1306.0L201.2 1314.0M193.1 1314.0L201.2 1306.0" stroke="#000080" stroke-width="2.2"/>
<path d="M326.3 1295.0H337.5M331.9 1289.4V1300.6M327.8 1291.0L335.9 1299.0M327.8 1299.0L335.9 1291.0" stroke="#000080" stroke-width="2.2"/>
<path d="M461.0 1269.4H472.2M466.6 1263.8V1275.0M462.6 1265.4L470.6 1273.4M462.6 1273.4L470.6 1265.4" stroke="#000080" stroke-width="2.2"/>
<polyline points="62.4,1510.5 197.1,1499.9 331.9,1472.7 466.6,1416.8" fill="none" stroke="#0000FF" stroke-width="2.1" stroke-linejoin="round"/>
<path d="M57.1 1510.5H67.7M62.4 1505.2V1515.8" stroke="#0000FF" stroke-width="2.2"/>
<path d="M191.8 1499.9H202.4M197.1 1494.6V1505.2" stroke="#0000FF" stroke-width="2.2"/>
<path d="M326.6 1472.7H337.2M331.9 1467.4V1478.0" stroke="#0000FF" stroke-width="2.2"/>
<path d="M461.3 1416.8H471.9M466.6 1411.5V1422.1" stroke="#0000FF" stroke-width="2.2"/>
<polyline points="62.4,1509.0 197.1,1468.7 331.9,1412.0 466.6,1355.9" fill="none" stroke="#008080" stroke-width="2.1" stroke-linejoin="round"/>
<polygon points="56.1,1509.0 67.8,1502.7 67.8,1515.3" fill="none" stroke="#008080" stroke-width="2.1" stroke-miterlimit="3"/>
<polygon points="190.8,1468.7 202.5,1462.4 202.5,1475.0" fill="none" stroke="#008080" stroke-width="2.1" stroke-miterlimit="3"/>
<polygon points="325.6,1412.0 337.2,1405.7 337.2,1418.3" fill="none" stroke="#008080" stroke-width="2.1" stroke-miterlimit="3"/>
<polygon points="460.3,1355.9 472.0,1349.6 472.0,1362.2" fill="none" stroke="#008080" stroke-width="2.1" stroke-miterlimit="3"/>
<polyline points="62.4,1511.8 197.1,1501.0 331.9,1493.4 466.6,1461.3" fill="none" stroke="#0080FF" stroke-width="2.1" stroke-linejoin="round"/>
<polygon points="68.7,1511.8 57.0,1505.5 57.0,1518.1" fill="none" stroke="#0080FF" stroke-width="2.1" stroke-miterlimit="3"/>
<polygon points="203.4,1501.0 191.8,1494.7 191.8,1507.3" fill="none" stroke="#0080FF" stroke-width="2.1" stroke-miterlimit="3"/>
<polygon points="338.2,1493.4 326.5,1487.1 326.5,1499.7" fill="none" stroke="#0080FF" stroke-width="2.1" stroke-miterlimit="3"/>
<polygon points="472.9,1461.3 461.2,1455.0 461.2,1467.6" fill="none" stroke="#0080FF" stroke-width="2.1" stroke-miterlimit="3"/>
<polyline points="62.4,1502.7 197.1,1404.1 331.9,1360.1 466.6,1312.0" fill="none" stroke="#00FF80" stroke-width="2.1" stroke-linejoin="round"/>
<polygon points="62.4,1496.4 68.7,1508.1 56.1,1508.1" fill="none" stroke="#00FF80" stroke-width="2.1" stroke-miterlimit="3"/>
<polygon points="197.1,1397.8 203.4,1409.5 190.8,1409.5" fill="none" stroke="#00FF80" stroke-width="2.1" stroke-miterlimit="3"/>
<polygon points="331.9,1353.8 338.2,1365.5 325.6,1365.5" fill="none" stroke="#00FF80" stroke-width="2.1" stroke-miterlimit="3"/>
<polygon points="466.6,1305.7 472.9,1317.4 460.3,1317.4" fill="none" stroke="#00FF80" stroke-width="2.1" stroke-miterlimit="3"/>
<polyline points="62.4,1510.5 197.1,1504.7 331.9,1482.0 466.6,1404.1" fill="none" stroke="#00FFFF" stroke-width="2.1" stroke-linejoin="round"/>
<path d="M57.1 1510.5H67.7M62.4 1505.2V1515.8" stroke="#00FFFF" stroke-width="2.2"/>
<path d="M191.8 1504.7H202.4M197.1 1499.4V1510.0" stroke="#00FFFF" stroke-width="2.2"/>
<path d="M326.6 1482.0H337.2M331.9 1476.7V1487.3" stroke="#00FFFF" stroke-width="2.2"/>
<path d="M461.3 1404.1H471.9M466.6 1398.8V1409.4" stroke="#00FFFF" stroke-width="2.2"/>
<polyline points="62.4,1510.5 197.1,1498.2 331.9,1467.0 466.6,1425.3" fill="none" stroke="#800080" stroke-width="2.1" stroke-linejoin="round"/>
<circle cx="62.4" cy="1510.5" r="5.0" fill="none" stroke="#800080" stroke-width="2.1"/>
<circle cx="197.1" cy="1498.2" r="5.0" fill="none" stroke="#800080" stroke-width="2.1"/>
<circle cx="331.9" cy="1467.0" r="5.0" fill="none" stroke="#800080" stroke-width="2.1"/>
<circle cx="466.6" cy="1425.3" r="5.0" fill="none" stroke="#800080" stroke-width="2.1"/>
<polyline points="62.4,1511.8 197.1,1501.0 331.9,1494.8 466.6,1451.7" fill="none" stroke="#8000FF" stroke-width="2.1" stroke-linejoin="round"/>
<rect x="58.3" y="1507.7" width="8.2" height="8.2" fill="none" stroke="#8000FF" stroke-width="2.3"/>
<rect x="193.0" y="1496.9" width="8.2" height="8.2" fill="none" stroke="#8000FF" stroke-width="2.3"/>
<rect x="327.8" y="1490.7" width="8.2" height="8.2" fill="none" stroke="#8000FF" stroke-width="2.3"/>
<rect x="462.5" y="1447.6" width="8.2" height="8.2" fill="none" stroke="#8000FF" stroke-width="2.3"/>
<polyline points="62.4,1509.0 197.1,1481.2 331.9,1439.5 466.6,1375.7" fill="none" stroke="#FF0080" stroke-width="2.1" stroke-linejoin="round"/>
<polygon points="62.4,1503.0 67.6,1509.0 62.4,1515.0 57.2,1509.0" fill="none" stroke="#FF0080" stroke-width="2.1"/>
<polygon points="197.1,1475.2 202.3,1481.2 197.1,1487.2 191.9,1481.2" fill="none" stroke="#FF0080" stroke-width="2.1"/>
<polygon points="331.9,1433.5 337.1,1439.5 331.9,1445.5 326.7,1439.5" fill="none" stroke="#FF0080" stroke-width="2.1"/>
<polygon points="466.6,1369.7 471.8,1375.7 466.6,1381.7 461.4,1375.7" fill="none" stroke="#FF0080" stroke-width="2.1"/>
<polyline points="62.4,1511.8 197.1,1503.4 331.9,1499.0 466.6,1486.8" fill="none" stroke="#FF00FF" stroke-width="2.1" stroke-linejoin="round"/>
<polygon points="62.4,1504.9 63.9,1509.9 68.5,1510.0 64.9,1513.2 66.1,1518.3 62.4,1515.3 58.7,1518.3 59.9,1513.2 56.3,1510.0 60.9,1509.9" fill="#FF00FF" stroke="#FF00FF" stroke-width="1.2" stroke-linejoin="round"/>
<polygon points="197.1,1496.5 198.6,1501.5 203.2,1501.6 199.6,1504.8 200.9,1509.9 197.1,1506.9 193.4,1509.9 194.7,1504.8 191.1,1501.6 195.6,1501.5" fill="#FF00FF" stroke="#FF00FF" stroke-width="1.2" stroke-linejoin="round"/>
<polygon points="331.9,1492.1 333.4,1497.1 337.9,1497.2 334.3,1500.4 335.6,1505.5 331.9,1502.5 328.1,1505.5 329.4,1500.4 325.8,1497.2 330.4,1497.1" fill="#FF00FF" stroke="#FF00FF" stroke-width="1.2" stroke-linejoin="round"/>
<polygon points="466.6,1479.9 468.1,1484.9 472.7,1485.0 469.1,1488.2 470.3,1493.3 466.6,1490.3 462.9,1493.3 464.1,1488.2 460.5,1485.0 465.1,1484.9" fill="#FF00FF" stroke="#FF00FF" stroke-width="1.2" stroke-linejoin="round"/>
<polyline points="62.4,1511.8 197.1,1502.7 331.9,1497.6 466.6,1484.9" fill="none" stroke="#FF6666" stroke-width="2.1" stroke-linejoin="round"/>
<polygon points="62.4,1505.8 64.1,1508.9 67.6,1508.8 65.8,1511.8 67.6,1514.8 64.1,1514.7 62.4,1517.8 60.7,1514.7 57.2,1514.8 59.0,1511.8 57.2,1508.8 60.7,1508.9" fill="none" stroke="#FF6666" stroke-width="2.0" stroke-linejoin="round"/>
<polygon points="197.1,1496.7 198.8,1499.8 202.3,1499.7 200.5,1502.7 202.3,1505.7 198.8,1505.6 197.1,1508.7 195.4,1505.6 191.9,1505.7 193.7,1502.7 191.9,1499.7 195.4,1499.8" fill="none" stroke="#FF6666" stroke-width="2.0" stroke-linejoin="round"/>
<polygon points="331.9,1491.6 333.6,1494.7 337.1,1494.6 335.3,1497.6 337.1,1500.6 333.6,1500.5 331.9,1503.6 330.2,1500.5 326.7,1500.6 328.5,1497.6 326.7,1494.6 330.2,1494.7" fill="none" stroke="#FF6666" stroke-width="2.0" stroke-linejoin="round"/>
<polygon points="466.6,1478.9 468.3,1482.0 471.8,1481.9 470.0,1484.9 471.8,1487.9 468.3,1487.8 466.6,1490.9 464.9,1487.8 461.4,1487.9 463.2,1484.9 461.4,1481.9 464.9,1482.0" fill="none" stroke="#FF6666" stroke-width="2.0" stroke-linejoin="round"/>
<polyline points="62.4,1513.2 197.1,1504.7 331.9,1499.9 466.6,1492.0" fill="none" stroke="#FF66FF" stroke-width="2.1" stroke-linejoin="round"/>
<polygon points="62.4,1519.5 68.7,1507.8 56.1,1507.8" fill="none" stroke="#FF66FF" stroke-width="2.1" stroke-miterlimit="3"/>
<polygon points="197.1,1511.0 203.4,1499.3 190.8,1499.3" fill="none" stroke="#FF66FF" stroke-width="2.1" stroke-miterlimit="3"/>
<polygon points="331.9,1506.2 338.2,1494.5 325.6,1494.5" fill="none" stroke="#FF66FF" stroke-width="2.1" stroke-miterlimit="3"/>
<polygon points="466.6,1498.3 472.9,1486.6 460.3,1486.6" fill="none" stroke="#FF66FF" stroke-width="2.1" stroke-miterlimit="3"/>
<polyline points="62.4,1509.0 197.1,1447.2 331.9,1398.4 466.6,1357.3" fill="none" stroke="#000000" stroke-width="2.1" stroke-linejoin="round"/>




<polyline points="62.4,1509.0 197.1,1471.5 331.9,1436.7 466.6,1385.7" fill="none" stroke="#80FF00" stroke-width="2.1" stroke-linejoin="round"/>
<circle cx="62.4" cy="1509.0" r="5.0" fill="none" stroke="#80FF00" stroke-width="2.1"/>
<circle cx="197.1" cy="1471.5" r="5.0" fill="none" stroke="#80FF00" stroke-width="2.1"/>
<circle cx="331.9" cy="1436.7" r="5.0" fill="none" stroke="#80FF00" stroke-width="2.1"/>
<circle cx="466.6" cy="1385.7" r="5.0" fill="none" stroke="#80FF00" stroke-width="2.1"/>
<polyline points="62.4,1514.0 197.1,1508.4 331.9,1506.1 466.6,1496.2" fill="none" stroke="#FF0000" stroke-width="3.6" stroke-dasharray="14.5,14.5" stroke-linejoin="round"/>
<path d="M57.0 1508.6L67.8 1519.4M57.0 1519.4L67.8 1508.6" stroke="#FF0000" stroke-width="3.1"/>
<path d="M191.7 1503.0L202.5 1513.8M191.7 1513.8L202.5 1503.0" stroke="#FF0000" stroke-width="3.1"/>
<path d="M326.5 1500.7L337.3 1511.5M326.5 1511.5L337.3 1500.7" stroke="#FF0000" stroke-width="3.1"/>
<path d="M461.2 1490.8L472.0 1501.6M461.2 1501.6L472.0 1490.8" stroke="#FF0000" stroke-width="3.1"/>
<text x="263.2" y="1246.6" text-anchor="middle" class="ti">F13</text>
<rect x="562.0" y="1260.0" width="404.3" height="299.0" fill="none" stroke="#000" stroke-width="2.0"/>
<path d="M562.0 1559.0V1554.5M562.0 1260.0V1264.5" stroke="#000" stroke-width="2"/>
<text x="562.0" y="1586.7" text-anchor="middle" class="t">10</text>
<path d="M696.8 1559.0V1554.5M696.8 1260.0V1264.5" stroke="#000" stroke-width="2"/>
<text x="696.8" y="1586.7" text-anchor="middle" class="t">30</text>
<path d="M831.5 1559.0V1554.5M831.5 1260.0V1264.5" stroke="#000" stroke-width="2"/>
<text x="831.5" y="1586.7" text-anchor="middle" class="t">50</text>
<path d="M966.3 1559.0V1554.5M966.3 1260.0V1264.5" stroke="#000" stroke-width="2"/>
<text x="966.3" y="1586.7" text-anchor="middle" class="t">100</text>
<path d="M562.0 1475.8H567.5M966.3 1475.8H960.8" stroke="#000" stroke-width="2"/>
<text x="554.5" y="1484.0" text-anchor="end" class="t">650</text>
<path d="M562.0 1398.8H567.5M966.3 1398.8H960.8" stroke="#000" stroke-width="2"/>
<text x="554.5" y="1407.0" text-anchor="end" class="t">700</text>
<path d="M562.0 1327.2H567.5M966.3 1327.2H960.8" stroke="#000" stroke-width="2"/>
<text x="554.5" y="1335.4" text-anchor="end" class="t">750</text>
<path d="M562.0 1541.8H565.5M966.3 1541.8H962.8" stroke="#000" stroke-width="2"/>
<path d="M562.0 1524.9H565.5M966.3 1524.9H962.8" stroke="#000" stroke-width="2"/>
<path d="M562.0 1508.3H565.5M966.3 1508.3H962.8" stroke="#000" stroke-width="2"/>
<path d="M562.0 1491.9H565.5M966.3 1491.9H962.8" stroke="#000" stroke-width="2"/>
<path d="M562.0 1460.0H565.5M966.3 1460.0H962.8" stroke="#000" stroke-width="2"/>
<path d="M562.0 1444.3H565.5M966.3 1444.3H962.8" stroke="#000" stroke-width="2"/>
<path d="M562.0 1429.0H565.5M966.3 1429.0H962.8" stroke="#000" stroke-width="2"/>
<path d="M562.0 1413.8H565.5M966.3 1413.8H962.8" stroke="#000" stroke-width="2"/>
<path d="M562.0 1384.1H565.5M966.3 1384.1H962.8" stroke="#000" stroke-width="2"/>
<path d="M562.0 1369.6H565.5M966.3 1369.6H962.8" stroke="#000" stroke-width="2"/>
<path d="M562.0 1355.2H565.5M966.3 1355.2H962.8" stroke="#000" stroke-width="2"/>
<path d="M562.0 1341.1H565.5M966.3 1341.1H962.8" stroke="#000" stroke-width="2"/>
<path d="M562.0 1313.4H565.5M966.3 1313.4H962.8" stroke="#000" stroke-width="2"/>
<path d="M562.0 1299.8H565.5M966.3 1299.8H962.8" stroke="#000" stroke-width="2"/>
<path d="M562.0 1286.4H565.5M966.3 1286.4H962.8" stroke="#000" stroke-width="2"/>
<path d="M562.0 1273.2H565.5M966.3 1273.2H962.8" stroke="#000" stroke-width="2"/>
<polyline points="562.0,1346.8 696.8,1260.9 831.5,1262.9 966.3,1265.2" fill="none" stroke="#000080" stroke-width="2.1" stroke-linejoin="round"/>
<path d="M556.4 1346.8H567.6M562.0 1341.2V1352.4M558.0 1342.8L566.0 1350.8M558.0 1350.8L566.0 1342.8" stroke="#000080" stroke-width="2.2"/>
<path d="M691.2 1260.9H702.4M696.8 1255.3V1266.5M692.7 1256.9L700.8 1264.9M692.7 1264.9L700.8 1256.9" stroke="#000080" stroke-width="2.2"/>
<path d="M825.9 1262.9H837.1M831.5 1257.3V1268.5M827.5 1258.9L835.6 1266.9M827.5 1266.9L835.6 1258.9" stroke="#000080" stroke-width="2.2"/>
<path d="M960.7 1265.2H971.9M966.3 1259.6V1270.8M962.3 1261.2L970.3 1269.2M962.3 1269.2L970.3 1261.2" stroke="#000080" stroke-width="2.2"/>
<polyline points="562.0,1547.2 696.8,1499.0 831.5,1470.7 966.3,1439.5" fill="none" stroke="#0000FF" stroke-width="2.1" stroke-linejoin="round"/>
<path d="M556.7 1547.2H567.3M562.0 1541.9V1552.5" stroke="#0000FF" stroke-width="2.2"/>
<path d="M691.5 1499.0H702.1M696.8 1493.7V1504.3" stroke="#0000FF" stroke-width="2.2"/>
<path d="M826.2 1470.7H836.8M831.5 1465.4V1476.0" stroke="#0000FF" stroke-width="2.2"/>
<path d="M961.0 1439.5H971.6M966.3 1434.2V1444.8" stroke="#0000FF" stroke-width="2.2"/>
<polyline points="562.0,1514.6 696.8,1428.2 831.5,1399.8 966.3,1376.3" fill="none" stroke="#008080" stroke-width="2.1" stroke-linejoin="round"/>
<polygon points="555.7,1514.6 567.4,1508.3 567.4,1520.9" fill="none" stroke="#008080" stroke-width="2.1" stroke-miterlimit="3"/>
<polygon points="690.5,1428.2 702.1,1421.9 702.1,1434.5" fill="none" stroke="#008080" stroke-width="2.1" stroke-miterlimit="3"/>
<polygon points="825.2,1399.8 836.9,1393.5 836.9,1406.1" fill="none" stroke="#008080" stroke-width="2.1" stroke-miterlimit="3"/>
<polygon points="960.0,1376.3 971.7,1370.0 971.7,1382.6" fill="none" stroke="#008080" stroke-width="2.1" stroke-miterlimit="3"/>
<polyline points="562.0,1558.6 696.8,1558.6 831.5,1554.3 966.3,1521.7" fill="none" stroke="#0080FF" stroke-width="2.1" stroke-linejoin="round"/>
<polygon points="568.3,1558.6 556.6,1552.3 556.6,1564.9" fill="none" stroke="#0080FF" stroke-width="2.1" stroke-miterlimit="3"/>
<polygon points="703.1,1558.6 691.4,1552.3 691.4,1564.9" fill="none" stroke="#0080FF" stroke-width="2.1" stroke-miterlimit="3"/>
<polygon points="837.8,1554.3 826.2,1548.0 826.2,1560.6" fill="none" stroke="#0080FF" stroke-width="2.1" stroke-miterlimit="3"/>
<polygon points="972.6,1521.7 960.9,1515.4 960.9,1528.0" fill="none" stroke="#0080FF" stroke-width="2.1" stroke-miterlimit="3"/>
<polyline points="562.0,1463.6 696.8,1370.1 831.5,1337.5 966.3,1314.8" fill="none" stroke="#00FF80" stroke-width="2.1" stroke-linejoin="round"/>
<polygon points="562.0,1457.3 568.3,1469.0 555.7,1469.0" fill="none" stroke="#00FF80" stroke-width="2.1" stroke-miterlimit="3"/>
<polygon points="696.8,1363.8 703.1,1375.5 690.5,1375.5" fill="none" stroke="#00FF80" stroke-width="2.1" stroke-miterlimit="3"/>
<polygon points="831.5,1331.2 837.8,1342.9 825.2,1342.9" fill="none" stroke="#00FF80" stroke-width="2.1" stroke-miterlimit="3"/>
<polygon points="966.3,1308.5 972.6,1320.2 960.0,1320.2" fill="none" stroke="#00FF80" stroke-width="2.1" stroke-miterlimit="3"/>
<polyline points="562.0,1535.9 696.8,1463.6 831.5,1437.5 966.3,1412.6" fill="none" stroke="#00FFFF" stroke-width="2.1" stroke-linejoin="round"/>
<path d="M556.7 1535.9H567.3M562.0 1530.6V1541.2" stroke="#00FFFF" stroke-width="2.2"/>
<path d="M691.5 1463.6H702.1M696.8 1458.3V1468.9" stroke="#00FFFF" stroke-width="2.2"/>
<path d="M826.2 1437.5H836.8M831.5 1432.2V1442.8" stroke="#00FFFF" stroke-width="2.2"/>
<path d="M961.0 1412.6H971.6M966.3 1407.3V1417.9" stroke="#00FFFF" stroke-width="2.2"/>
<polyline points="562.0,1555.7 696.8,1534.5 831.5,1511.8 966.3,1482.9" fill="none" stroke="#800080" stroke-width="2.1" stroke-linejoin="round"/>
<circle cx="562.0" cy="1555.7" r="5.0" fill="none" stroke="#800080" stroke-width="2.1"/>
<circle cx="696.8" cy="1534.5" r="5.0" fill="none" stroke="#800080" stroke-width="2.1"/>
<circle cx="831.5" cy="1511.8" r="5.0" fill="none" stroke="#800080" stroke-width="2.1"/>
<circle cx="966.3" cy="1482.9" r="5.0" fill="none" stroke="#800080" stroke-width="2.1"/>
<polyline points="562.0,1557.7 696.8,1557.7 831.5,1547.2 966.3,1519.7" fill="none" stroke="#8000FF" stroke-width="2.1" stroke-linejoin="round"/>
<rect x="557.9" y="1553.6" width="8.2" height="8.2" fill="none" stroke="#8000FF" stroke-width="2.3"/>
<rect x="692.7" y="1553.6" width="8.2" height="8.2" fill="none" stroke="#8000FF" stroke-width="2.3"/>
<rect x="827.4" y="1543.1" width="8.2" height="8.2" fill="none" stroke="#8000FF" stroke-width="2.3"/>
<rect x="962.2" y="1515.6" width="8.2" height="8.2" fill="none" stroke="#8000FF" stroke-width="2.3"/>
<polyline points="562.0,1550.0 696.8,1490.5 831.5,1451.7 966.3,1415.4" fill="none" stroke="#FF0080" stroke-width="2.1" stroke-linejoin="round"/>
<polygon points="562.0,1544.0 567.2,1550.0 562.0,1556.0 556.8,1550.0" fill="none" stroke="#FF0080" stroke-width="2.1"/>
<polygon points="696.8,1484.5 702.0,1490.5 696.8,1496.5 691.6,1490.5" fill="none" stroke="#FF0080" stroke-width="2.1"/>
<polygon points="831.5,1445.7 836.7,1451.7 831.5,1457.7 826.3,1451.7" fill="none" stroke="#FF0080" stroke-width="2.1"/>
<polygon points="966.3,1409.4 971.5,1415.4 966.3,1421.4 961.1,1415.4" fill="none" stroke="#FF0080" stroke-width="2.1"/>
<polyline points="562.0,1551.5 696.8,1499.0 831.5,1468.7 966.3,1426.8" fill="none" stroke="#FF00FF" stroke-width="2.1" stroke-linejoin="round"/>
<polygon points="562.0,1544.6 563.5,1549.6 568.1,1549.7 564.5,1552.9 565.7,1558.0 562.0,1555.0 558.3,1558.0 559.5,1552.9 555.9,1549.7 560.5,1549.6" fill="#FF00FF" stroke="#FF00FF" stroke-width="1.2" stroke-linejoin="round"/>
<polygon points="696.8,1492.1 698.3,1497.1 702.8,1497.2 699.2,1500.4 700.5,1505.5 696.8,1502.5 693.0,1505.5 694.3,1500.4 690.7,1497.2 695.3,1497.1" fill="#FF00FF" stroke="#FF00FF" stroke-width="1.2" stroke-linejoin="round"/>
<polygon points="831.5,1461.8 833.0,1466.8 837.6,1466.9 834.0,1470.1 835.3,1475.2 831.5,1472.2 827.8,1475.2 829.1,1470.1 825.5,1466.9 830.0,1466.8" fill="#FF00FF" stroke="#FF00FF" stroke-width="1.2" stroke-linejoin="round"/>
<polygon points="966.3,1419.9 967.8,1424.9 972.4,1425.0 968.8,1428.2 970.0,1433.3 966.3,1430.3 962.6,1433.3 963.8,1428.2 960.2,1425.0 964.8,1424.9" fill="#FF00FF" stroke="#FF00FF" stroke-width="1.2" stroke-linejoin="round"/>
<polyline points="562.0,1538.7 696.8,1474.9 831.5,1457.9 966.3,1438.7" fill="none" stroke="#FF6666" stroke-width="2.1" stroke-linejoin="round"/>
<polygon points="562.0,1532.7 563.7,1535.8 567.2,1535.7 565.4,1538.7 567.2,1541.7 563.7,1541.6 562.0,1544.7 560.3,1541.6 556.8,1541.7 558.6,1538.7 556.8,1535.7 560.3,1535.8" fill="none" stroke="#FF6666" stroke-width="2.0" stroke-linejoin="round"/>
<polygon points="696.8,1468.9 698.5,1472.0 702.0,1471.9 700.2,1474.9 702.0,1477.9 698.5,1477.8 696.8,1480.9 695.1,1477.8 691.6,1477.9 693.4,1474.9 691.6,1471.9 695.1,1472.0" fill="none" stroke="#FF6666" stroke-width="2.0" stroke-linejoin="round"/>
<polygon points="831.5,1451.9 833.2,1455.0 836.7,1454.9 834.9,1457.9 836.7,1460.9 833.2,1460.8 831.5,1463.9 829.8,1460.8 826.3,1460.9 828.1,1457.9 826.3,1454.9 829.8,1455.0" fill="none" stroke="#FF6666" stroke-width="2.0" stroke-linejoin="round"/>
<polygon points="966.3,1432.7 968.0,1435.8 971.5,1435.7 969.7,1438.7 971.5,1441.7 968.0,1441.6 966.3,1444.7 964.6,1441.6 961.1,1441.7 962.9,1438.7 961.1,1435.7 964.6,1435.8" fill="none" stroke="#FF6666" stroke-width="2.0" stroke-linejoin="round"/>
<polyline points="562.0,1559.4 696.8,1559.9 831.5,1557.7 966.3,1552.9" fill="none" stroke="#FF66FF" stroke-width="2.1" stroke-linejoin="round"/>
<polygon points="562.0,1565.7 568.3,1554.0 555.7,1554.0" fill="none" stroke="#FF66FF" stroke-width="2.1" stroke-miterlimit="3"/>
<polygon points="696.8,1566.2 703.1,1554.5 690.5,1554.5" fill="none" stroke="#FF66FF" stroke-width="2.1" stroke-miterlimit="3"/>
<polygon points="831.5,1564.0 837.8,1552.3 825.2,1552.3" fill="none" stroke="#FF66FF" stroke-width="2.1" stroke-miterlimit="3"/>
<polygon points="966.3,1559.2 972.6,1547.5 960.0,1547.5" fill="none" stroke="#FF66FF" stroke-width="2.1" stroke-miterlimit="3"/>
<polyline points="562.0,1517.5 696.8,1449.4 831.5,1421.1 966.3,1390.5" fill="none" stroke="#000000" stroke-width="2.1" stroke-linejoin="round"/>




<polyline points="562.0,1489.1 696.8,1431.0 831.5,1404.1 966.3,1384.2" fill="none" stroke="#80FF00" stroke-width="2.1" stroke-linejoin="round"/>
<circle cx="562.0" cy="1489.1" r="5.0" fill="none" stroke="#80FF00" stroke-width="2.1"/>
<circle cx="696.8" cy="1431.0" r="5.0" fill="none" stroke="#80FF00" stroke-width="2.1"/>
<circle cx="831.5" cy="1404.1" r="5.0" fill="none" stroke="#80FF00" stroke-width="2.1"/>
<circle cx="966.3" cy="1384.2" r="5.0" fill="none" stroke="#80FF00" stroke-width="2.1"/>
<polyline points="562.0,1558.6 696.8,1554.3 831.5,1535.9 966.3,1502.7" fill="none" stroke="#FF0000" stroke-width="3.6" stroke-dasharray="14.5,14.5" stroke-linejoin="round"/>
<path d="M556.6 1553.2L567.4 1564.0M556.6 1564.0L567.4 1553.2" stroke="#FF0000" stroke-width="3.1"/>
<path d="M691.4 1548.9L702.2 1559.7M691.4 1559.7L702.2 1548.9" stroke="#FF0000" stroke-width="3.1"/>
<path d="M826.1 1530.5L836.9 1541.3M826.1 1541.3L836.9 1530.5" stroke="#FF0000" stroke-width="3.1"/>
<path d="M960.9 1497.3L971.7 1508.1M960.9 1508.1L971.7 1497.3" stroke="#FF0000" stroke-width="3.1"/>
<text x="762.9" y="1246.4" text-anchor="middle" class="ti">F14</text>
<rect x="1061.5" y="1259.5" width="404.4" height="299.0" fill="none" stroke="#000" stroke-width="2.0"/>
<path d="M1061.5 1558.5V1554.0M1061.5 1259.5V1264.0" stroke="#000" stroke-width="2"/>
<text x="1061.5" y="1586.2" text-anchor="middle" class="t">10</text>
<path d="M1196.3 1558.5V1554.0M1196.3 1259.5V1264.0" stroke="#000" stroke-width="2"/>
<text x="1196.3" y="1586.2" text-anchor="middle" class="t">30</text>
<path d="M1331.1 1558.5V1554.0M1331.1 1259.5V1264.0" stroke="#000" stroke-width="2"/>
<text x="1331.1" y="1586.2" text-anchor="middle" class="t">50</text>
<path d="M1465.9 1558.5V1554.0M1465.9 1259.5V1264.0" stroke="#000" stroke-width="2"/>
<text x="1465.9" y="1586.2" text-anchor="middle" class="t">100</text>
<path d="M1061.5 1519.4H1067.0M1465.9 1519.4H1460.4" stroke="#000" stroke-width="2"/>
<text x="1054.0" y="1527.6" text-anchor="end" class="t">1000</text>
<path d="M1061.5 1448.3H1067.0M1465.9 1448.3H1460.4" stroke="#000" stroke-width="2"/>
<text x="1054.0" y="1456.5" text-anchor="end" class="t">1500</text>
<path d="M1061.5 1397.8H1067.0M1465.9 1397.8H1460.4" stroke="#000" stroke-width="2"/>
<text x="1054.0" y="1406.0" text-anchor="end" class="t">2000</text>
<path d="M1061.5 1358.7H1067.0M1465.9 1358.7H1460.4" stroke="#000" stroke-width="2"/>
<text x="1054.0" y="1366.9" text-anchor="end" class="t">2500</text>
<path d="M1061.5 1326.7H1067.0M1465.9 1326.7H1460.4" stroke="#000" stroke-width="2"/>
<text x="1054.0" y="1334.9" text-anchor="end" class="t">3000</text>
<path d="M1061.5 1299.7H1067.0M1465.9 1299.7H1460.4" stroke="#000" stroke-width="2"/>
<text x="1054.0" y="1307.9" text-anchor="end" class="t">3500</text>
<path d="M1061.5 1276.3H1067.0M1465.9 1276.3H1460.4" stroke="#000" stroke-width="2"/>
<text x="1054.0" y="1284.5" text-anchor="end" class="t">4000</text>
<path d="M1061.5 1537.8H1065.0M1465.9 1537.8H1462.4" stroke="#000" stroke-width="2"/>
<path d="M1061.5 1502.7H1065.0M1465.9 1502.7H1462.4" stroke="#000" stroke-width="2"/>
<path d="M1061.5 1487.4H1065.0M1465.9 1487.4H1462.4" stroke="#000" stroke-width="2"/>
<path d="M1061.5 1473.4H1065.0M1465.9 1473.4H1462.4" stroke="#000" stroke-width="2"/>
<path d="M1061.5 1460.4H1065.0M1465.9 1460.4H1462.4" stroke="#000" stroke-width="2"/>
<path d="M1061.5 1436.9H1065.0M1465.9 1436.9H1462.4" stroke="#000" stroke-width="2"/>
<path d="M1061.5 1426.3H1065.0M1465.9 1426.3H1462.4" stroke="#000" stroke-width="2"/>
<path d="M1061.5 1416.3H1065.0M1465.9 1416.3H1462.4" stroke="#000" stroke-width="2"/>
<path d="M1061.5 1406.8H1065.0M1465.9 1406.8H1462.4" stroke="#000" stroke-width="2"/>
<path d="M1061.5 1389.3H1065.0M1465.9 1389.3H1462.4" stroke="#000" stroke-width="2"/>
<path d="M1061.5 1381.1H1065.0M1465.9 1381.1H1462.4" stroke="#000" stroke-width="2"/>
<path d="M1061.5 1373.3H1065.0M1465.9 1373.3H1462.4" stroke="#000" stroke-width="2"/>
<path d="M1061.5 1365.8H1065.0M1465.9 1365.8H1462.4" stroke="#000" stroke-width="2"/>
<path d="M1061.5 1351.8H1065.0M1465.9 1351.8H1462.4" stroke="#000" stroke-width="2"/>
<path d="M1061.5 1345.2H1065.0M1465.9 1345.2H1462.4" stroke="#000" stroke-width="2"/>
<path d="M1061.5 1338.8H1065.0M1465.9 1338.8H1462.4" stroke="#000" stroke-width="2"/>
<path d="M1061.5 1332.7H1065.0M1465.9 1332.7H1462.4" stroke="#000" stroke-width="2"/>
<path d="M1061.5 1321.0H1065.0M1465.9 1321.0H1462.4" stroke="#000" stroke-width="2"/>
<path d="M1061.5 1315.4H1065.0M1465.9 1315.4H1462.4" stroke="#000" stroke-width="2"/>
<path d="M1061.5 1310.0H1065.0M1465.9 1310.0H1462.4" stroke="#000" stroke-width="2"/>
<path d="M1061.5 1304.8H1065.0M1465.9 1304.8H1462.4" stroke="#000" stroke-width="2"/>
<path d="M1061.5 1294.7H1065.0M1465.9 1294.7H1462.4" stroke="#000" stroke-width="2"/>
<path d="M1061.5 1289.9H1065.0M1465.9 1289.9H1462.4" stroke="#000" stroke-width="2"/>
<path d="M1061.5 1285.3H1065.0M1465.9 1285.3H1462.4" stroke="#000" stroke-width="2"/>
<path d="M1061.5 1280.7H1065.0M1465.9 1280.7H1462.4" stroke="#000" stroke-width="2"/>
<path d="M1061.5 1271.9H1065.0M1465.9 1271.9H1462.4" stroke="#000" stroke-width="2"/>
<path d="M1061.5 1267.7H1065.0M1465.9 1267.7H1462.4" stroke="#000" stroke-width="2"/>
<path d="M1061.5 1263.6H1065.0M1465.9 1263.6H1462.4" stroke="#000" stroke-width="2"/>
<polyline points="1061.5,1519.7 1196.3,1436.7 1331.1,1353.9 1465.9,1259.5" fill="none" stroke="#000080" stroke-width="2.1" stroke-linejoin="round"/>
<path d="M1055.9 1519.7H1067.1M1061.5 1514.1V1525.3M1057.5 1515.7L1065.5 1523.7M1057.5 1523.7L1065.5 1515.7" stroke="#000080" stroke-width="2.2"/>
<path d="M1190.7 1436.7H1201.9M1196.3 1431.1V1442.3M1192.3 1432.7L1200.3 1440.7M1192.3 1440.7L1200.3 1432.7" stroke="#000080" stroke-width="2.2"/>
<path d="M1325.5 1353.9H1336.7M1331.1 1348.3V1359.5M1327.1 1349.9L1335.1 1357.9M1327.1 1357.9L1335.1 1349.9" stroke="#000080" stroke-width="2.2"/>
<path d="M1460.3 1259.5H1471.5M1465.9 1253.9V1265.1M1461.9 1255.5L1469.9 1263.5M1461.9 1263.5L1469.9 1255.5" stroke="#000080" stroke-width="2.2"/>
<polyline points="1061.5,1552.9 1196.3,1534.5 1331.1,1501.9 1465.9,1409.8" fill="none" stroke="#0000FF" stroke-width="2.1" stroke-linejoin="round"/>
<path d="M1056.2 1552.9H1066.8M1061.5 1547.6V1558.2" stroke="#0000FF" stroke-width="2.2"/>
<path d="M1191.0 1534.5H1201.6M1196.3 1529.2V1539.8" stroke="#0000FF" stroke-width="2.2"/>
<path d="M1325.8 1501.9H1336.4M1331.1 1496.6V1507.2" stroke="#0000FF" stroke-width="2.2"/>
<path d="M1460.6 1409.8H1471.2M1465.9 1404.5V1415.1" stroke="#0000FF" stroke-width="2.2"/>
<polyline points="1061.5,1546.4 1196.3,1501.9 1331.1,1451.7 1465.9,1357.3" fill="none" stroke="#008080" stroke-width="2.1" stroke-linejoin="round"/>
<polygon points="1055.2,1546.4 1066.9,1540.1 1066.9,1552.7" fill="none" stroke="#008080" stroke-width="2.1" stroke-miterlimit="3"/>
<polygon points="1190.0,1501.9 1201.7,1495.6 1201.7,1508.2" fill="none" stroke="#008080" stroke-width="2.1" stroke-miterlimit="3"/>
<polygon points="1324.8,1451.7 1336.5,1445.4 1336.5,1458.0" fill="none" stroke="#008080" stroke-width="2.1" stroke-miterlimit="3"/>
<polygon points="1459.6,1357.3 1471.3,1351.0 1471.3,1363.6" fill="none" stroke="#008080" stroke-width="2.1" stroke-miterlimit="3"/>
<polyline points="1061.5,1551.5 1196.3,1520.3 1331.1,1482.9 1465.9,1404.1" fill="none" stroke="#0080FF" stroke-width="2.1" stroke-linejoin="round"/>
<polygon points="1067.8,1551.5 1056.1,1545.2 1056.1,1557.8" fill="none" stroke="#0080FF" stroke-width="2.1" stroke-miterlimit="3"/>
<polygon points="1202.6,1520.3 1190.9,1514.0 1190.9,1526.6" fill="none" stroke="#0080FF" stroke-width="2.1" stroke-miterlimit="3"/>
<polygon points="1337.4,1482.9 1325.7,1476.6 1325.7,1489.2" fill="none" stroke="#0080FF" stroke-width="2.1" stroke-miterlimit="3"/>
<polygon points="1472.2,1404.1 1460.5,1397.8 1460.5,1410.4" fill="none" stroke="#0080FF" stroke-width="2.1" stroke-miterlimit="3"/>
<polyline points="1061.5,1541.6 1196.3,1479.2 1331.1,1418.3 1465.9,1311.1" fill="none" stroke="#00FF80" stroke-width="2.1" stroke-linejoin="round"/>
<polygon points="1061.5,1535.3 1067.8,1547.0 1055.2,1547.0" fill="none" stroke="#00FF80" stroke-width="2.1" stroke-miterlimit="3"/>
<polygon points="1196.3,1472.9 1202.6,1484.6 1190.0,1484.6" fill="none" stroke="#00FF80" stroke-width="2.1" stroke-miterlimit="3"/>
<polygon points="1331.1,1412.0 1337.4,1423.7 1324.8,1423.7" fill="none" stroke="#00FF80" stroke-width="2.1" stroke-miterlimit="3"/>
<polygon points="1465.9,1304.8 1472.2,1316.5 1459.6,1316.5" fill="none" stroke="#00FF80" stroke-width="2.1" stroke-miterlimit="3"/>
<polyline points="1061.5,1550.9 1196.3,1523.1 1331.1,1484.9 1465.9,1385.7" fill="none" stroke="#00FFFF" stroke-width="2.1" stroke-linejoin="round"/>
<path d="M1056.2 1550.9H1066.8M1061.5 1545.6V1556.2" stroke="#00FFFF" stroke-width="2.2"/>
<path d="M1191.0 1523.1H1201.6M1196.3 1517.8V1528.4" stroke="#00FFFF" stroke-width="2.2"/>
<path d="M1325.8 1484.9H1336.4M1331.1 1479.6V1490.2" stroke="#00FFFF" stroke-width="2.2"/>
<path d="M1460.6 1385.7H1471.2M1465.9 1380.4V1391.0" stroke="#00FFFF" stroke-width="2.2"/>
<polyline points="1061.5,1554.3 1196.3,1536.7 1331.1,1509.5 1465.9,1444.3" fill="none" stroke="#800080" stroke-width="2.1" stroke-linejoin="round"/>
<circle cx="1061.5" cy="1554.3" r="5.0" fill="none" stroke="#800080" stroke-width="2.1"/>
<circle cx="1196.3" cy="1536.7" r="5.0" fill="none" stroke="#800080" stroke-width="2.1"/>
<circle cx="1331.1" cy="1509.5" r="5.0" fill="none" stroke="#800080" stroke-width="2.1"/>
<circle cx="1465.9" cy="1444.3" r="5.0" fill="none" stroke="#800080" stroke-width="2.1"/>
<polyline points="1061.5,1554.9 1196.3,1541.6 1331.1,1518.0 1465.9,1457.4" fill="none" stroke="#8000FF" stroke-width="2.1" stroke-linejoin="round"/>
<rect x="1057.4" y="1550.8" width="8.2" height="8.2" fill="none" stroke="#8000FF" stroke-width="2.3"/>
<rect x="1192.2" y="1537.5" width="8.2" height="8.2" fill="none" stroke="#8000FF" stroke-width="2.3"/>
<rect x="1327.0" y="1513.9" width="8.2" height="8.2" fill="none" stroke="#8000FF" stroke-width="2.3"/>
<rect x="1461.8" y="1453.3" width="8.2" height="8.2" fill="none" stroke="#8000FF" stroke-width="2.3"/>
<polyline points="1061.5,1550.0 1196.3,1518.9 1331.1,1474.4 1465.9,1375.7" fill="none" stroke="#FF0080" stroke-width="2.1" stroke-linejoin="round"/>
<polygon points="1061.5,1544.0 1066.7,1550.0 1061.5,1556.0 1056.3,1550.0" fill="none" stroke="#FF0080" stroke-width="2.1"/>
<polygon points="1196.3,1512.9 1201.5,1518.9 1196.3,1524.9 1191.1,1518.9" fill="none" stroke="#FF0080" stroke-width="2.1"/>
<polygon points="1331.1,1468.4 1336.3,1474.4 1331.1,1480.4 1325.9,1474.4" fill="none" stroke="#FF0080" stroke-width="2.1"/>
<polygon points="1465.9,1369.7 1471.1,1375.7 1465.9,1381.7 1460.7,1375.7" fill="none" stroke="#FF0080" stroke-width="2.1"/>
<polyline points="1061.5,1552.9 1196.3,1530.2 1331.1,1505.6 1465.9,1434.7" fill="none" stroke="#FF00FF" stroke-width="2.1" stroke-linejoin="round"/>
<polygon points="1061.5,1546.0 1063.0,1551.0 1067.6,1551.1 1064.0,1554.3 1065.2,1559.4 1061.5,1556.4 1057.8,1559.4 1059.0,1554.3 1055.4,1551.1 1060.0,1551.0" fill="#FF00FF" stroke="#FF00FF" stroke-width="1.2" stroke-linejoin="round"/>
<polygon points="1196.3,1523.3 1197.8,1528.3 1202.4,1528.4 1198.8,1531.6 1200.0,1536.7 1196.3,1533.7 1192.6,1536.7 1193.8,1531.6 1190.2,1528.4 1194.8,1528.3" fill="#FF00FF" stroke="#FF00FF" stroke-width="1.2" stroke-linejoin="round"/>
<polygon points="1331.1,1498.7 1332.6,1503.7 1337.2,1503.8 1333.6,1507.0 1334.8,1512.1 1331.1,1509.1 1327.4,1512.1 1328.6,1507.0 1325.0,1503.8 1329.6,1503.7" fill="#FF00FF" stroke="#FF00FF" stroke-width="1.2" stroke-linejoin="round"/>
<polygon points="1465.9,1427.8 1467.4,1432.8 1472.0,1432.9 1468.4,1436.1 1469.6,1441.2 1465.9,1438.2 1462.2,1441.2 1463.4,1436.1 1459.8,1432.9 1464.4,1432.8" fill="#FF00FF" stroke="#FF00FF" stroke-width="1.2" stroke-linejoin="round"/>
<polyline points="1061.5,1551.5 1196.3,1528.8 1331.1,1497.0 1465.9,1416.0" fill="none" stroke="#FF6666" stroke-width="2.1" stroke-linejoin="round"/>
<polygon points="1061.5,1545.5 1063.2,1548.6 1066.7,1548.5 1064.9,1551.5 1066.7,1554.5 1063.2,1554.4 1061.5,1557.5 1059.8,1554.4 1056.3,1554.5 1058.1,1551.5 1056.3,1548.5 1059.8,1548.6" fill="none" stroke="#FF6666" stroke-width="2.0" stroke-linejoin="round"/>
<polygon points="1196.3,1522.8 1198.0,1525.9 1201.5,1525.8 1199.7,1528.8 1201.5,1531.8 1198.0,1531.7 1196.3,1534.8 1194.6,1531.7 1191.1,1531.8 1192.9,1528.8 1191.1,1525.8 1194.6,1525.9" fill="none" stroke="#FF6666" stroke-width="2.0" stroke-linejoin="round"/>
<polygon points="1331.1,1491.0 1332.8,1494.1 1336.3,1494.0 1334.5,1497.0 1336.3,1500.0 1332.8,1499.9 1331.1,1503.0 1329.4,1499.9 1325.9,1500.0 1327.7,1497.0 1325.9,1494.0 1329.4,1494.1" fill="none" stroke="#FF6666" stroke-width="2.0" stroke-linejoin="round"/>
<polygon points="1465.9,1410.0 1467.6,1413.1 1471.1,1413.0 1469.3,1416.0 1471.1,1419.0 1467.6,1418.9 1465.9,1422.0 1464.2,1418.9 1460.7,1419.0 1462.5,1416.0 1460.7,1413.0 1464.2,1413.1" fill="none" stroke="#FF6666" stroke-width="2.0" stroke-linejoin="round"/>
<polyline points="1061.5,1553.7 1196.3,1531.6 1331.1,1507.5 1465.9,1439.5" fill="none" stroke="#FF66FF" stroke-width="2.1" stroke-linejoin="round"/>
<polygon points="1061.5,1560.0 1067.8,1548.3 1055.2,1548.3" fill="none" stroke="#FF66FF" stroke-width="2.1" stroke-miterlimit="3"/>
<polygon points="1196.3,1537.9 1202.6,1526.2 1190.0,1526.2" fill="none" stroke="#FF66FF" stroke-width="2.1" stroke-miterlimit="3"/>
<polygon points="1331.1,1513.8 1337.4,1502.1 1324.8,1502.1" fill="none" stroke="#FF66FF" stroke-width="2.1" stroke-miterlimit="3"/>
<polygon points="1465.9,1445.8 1472.2,1434.1 1459.6,1434.1" fill="none" stroke="#FF66FF" stroke-width="2.1" stroke-miterlimit="3"/>
<polyline points="1061.5,1547.2 1196.3,1504.7 1331.1,1453.7 1465.9,1367.2" fill="none" stroke="#000000" stroke-width="2.1" stroke-linejoin="round"/>




<polyline points="1061.5,1548.1 1196.3,1506.7 1331.1,1457.4 1465.9,1365.8" fill="none" stroke="#80FF00" stroke-width="2.1" stroke-linejoin="round"/>
<circle cx="1061.5" cy="1548.1" r="5.0" fill="none" stroke="#80FF00" stroke-width="2.1"/>
<circle cx="1196.3" cy="1506.7" r="5.0" fill="none" stroke="#80FF00" stroke-width="2.1"/>
<circle cx="1331.1" cy="1457.4" r="5.0" fill="none" stroke="#80FF00" stroke-width="2.1"/>
<circle cx="1465.9" cy="1365.8" r="5.0" fill="none" stroke="#80FF00" stroke-width="2.1"/>
<polyline points="1061.5,1558.6 1196.3,1551.5 1331.1,1541.6 1465.9,1511.2" fill="none" stroke="#FF0000" stroke-width="3.6" stroke-dasharray="14.5,14.5" stroke-linejoin="round"/>
<path d="M1056.1 1553.2L1066.9 1564.0M1056.1 1564.0L1066.9 1553.2" stroke="#FF0000" stroke-width="3.1"/>
<path d="M1190.9 1546.1L1201.7 1556.9M1190.9 1556.9L1201.7 1546.1" stroke="#FF0000" stroke-width="3.1"/>
<path d="M1325.7 1536.2L1336.5 1547.0M1325.7 1547.0L1336.5 1536.2" stroke="#FF0000" stroke-width="3.1"/>
<path d="M1460.5 1505.8L1471.3 1516.6M1460.5 1516.6L1471.3 1505.8" stroke="#FF0000" stroke-width="3.1"/>
<text x="1262.4" y="1245.9" text-anchor="middle" class="ti">F15</text>
<rect x="1561.1" y="1259.5" width="404.4" height="299.0" fill="none" stroke="#000" stroke-width="2.0"/>
<path d="M1561.1 1558.5V1554.0M1561.1 1259.5V1264.0" stroke="#000" stroke-width="2"/>
<text x="1561.1" y="1586.2" text-anchor="middle" class="t">10</text>
<path d="M1695.9 1558.5V1554.0M1695.9 1259.5V1264.0" stroke="#000" stroke-width="2"/>
<text x="1695.9" y="1586.2" text-anchor="middle" class="t">30</text>
<path d="M1830.7 1558.5V1554.0M1830.7 1259.5V1264.0" stroke="#000" stroke-width="2"/>
<text x="1830.7" y="1586.2" text-anchor="middle" class="t">50</text>
<path d="M1965.5 1558.5V1554.0M1965.5 1259.5V1264.0" stroke="#000" stroke-width="2"/>
<text x="1965.5" y="1586.2" text-anchor="middle" class="t">100</text>
<path d="M1561.1 1259.5H1566.6M1965.5 1259.5H1960.0" stroke="#000" stroke-width="2"/>
<text x="1553.6" y="1272.1" text-anchor="end" class="t">10<tspan font-size="18.2" dy="-11.8">15</tspan></text>
<path d="M1561.1 1384.1H1566.6M1965.5 1384.1H1960.0" stroke="#000" stroke-width="2"/>
<text x="1553.6" y="1396.7" text-anchor="end" class="t">10<tspan font-size="18.2" dy="-11.8">10</tspan></text>
<path d="M1561.1 1508.7H1566.6M1965.5 1508.7H1960.0" stroke="#000" stroke-width="2"/>
<text x="1553.6" y="1521.3" text-anchor="end" class="t">10<tspan font-size="18.2" dy="-11.8">5</tspan></text>
<path d="M1561.1 1533.6H1564.6M1965.5 1533.6H1962.0" stroke="#000" stroke-width="2"/>
<path d="M1561.1 1483.7H1564.6M1965.5 1483.7H1962.0" stroke="#000" stroke-width="2"/>
<path d="M1561.1 1458.8H1564.6M1965.5 1458.8H1962.0" stroke="#000" stroke-width="2"/>
<path d="M1561.1 1433.9H1564.6M1965.5 1433.9H1962.0" stroke="#000" stroke-width="2"/>
<path d="M1561.1 1409.0H1564.6M1965.5 1409.0H1962.0" stroke="#000" stroke-width="2"/>
<path d="M1561.1 1359.1H1564.6M1965.5 1359.1H1962.0" stroke="#000" stroke-width="2"/>
<path d="M1561.1 1334.2H1564.6M1965.5 1334.2H1962.0" stroke="#000" stroke-width="2"/>
<path d="M1561.1 1309.3H1564.6M1965.5 1309.3H1962.0" stroke="#000" stroke-width="2"/>
<path d="M1561.1 1284.4H1564.6M1965.5 1284.4H1962.0" stroke="#000" stroke-width="2"/>
<polyline points="1561.1,1423.9 1695.9,1363.0 1830.7,1457.9 1965.5,1271.4" fill="none" stroke="#000080" stroke-width="2.1" stroke-linejoin="round"/>
<path d="M1555.5 1423.9H1566.7M1561.1 1418.3V1429.5M1557.1 1419.9L1565.1 1427.9M1557.1 1427.9L1565.1 1419.9" stroke="#000080" stroke-width="2.2"/>
<path d="M1690.3 1363.0H1701.5M1695.9 1357.4V1368.6M1691.9 1359.0L1699.9 1367.0M1691.9 1367.0L1699.9 1359.0" stroke="#000080" stroke-width="2.2"/>
<path d="M1825.1 1457.9H1836.3M1830.7 1452.3V1463.5M1826.7 1453.9L1834.7 1461.9M1826.7 1461.9L1834.7 1453.9" stroke="#000080" stroke-width="2.2"/>
<path d="M1959.9 1271.4H1971.1M1965.5 1265.8V1277.0M1961.5 1267.4L1969.5 1275.4M1961.5 1275.4L1969.5 1267.4" stroke="#000080" stroke-width="2.2"/>
<polyline points="1561.1,1557.7 1695.9,1552.9 1830.7,1540.1 1965.5,1508.9" fill="none" stroke="#0000FF" stroke-width="2.1" stroke-linejoin="round"/>
<path d="M1555.8 1557.7H1566.4M1561.1 1552.4V1563.0" stroke="#0000FF" stroke-width="2.2"/>
<path d="M1690.6 1552.9H1701.2M1695.9 1547.6V1558.2" stroke="#0000FF" stroke-width="2.2"/>
<path d="M1825.4 1540.1H1836.0M1830.7 1534.8V1545.4" stroke="#0000FF" stroke-width="2.2"/>
<path d="M1960.2 1508.9H1970.8M1965.5 1503.6V1514.2" stroke="#0000FF" stroke-width="2.2"/>
<polyline points="1561.1,1557.7 1695.9,1548.6 1830.7,1526.0 1965.5,1497.0" fill="none" stroke="#008080" stroke-width="2.1" stroke-linejoin="round"/>
<polygon points="1554.8,1557.7 1566.5,1551.4 1566.5,1564.0" fill="none" stroke="#008080" stroke-width="2.1" stroke-miterlimit="3"/>
<polygon points="1689.6,1548.6 1701.3,1542.3 1701.3,1554.9" fill="none" stroke="#008080" stroke-width="2.1" stroke-miterlimit="3"/>
<polygon points="1824.4,1526.0 1836.1,1519.7 1836.1,1532.3" fill="none" stroke="#008080" stroke-width="2.1" stroke-miterlimit="3"/>
<polygon points="1959.2,1497.0 1970.9,1490.7 1970.9,1503.3" fill="none" stroke="#008080" stroke-width="2.1" stroke-miterlimit="3"/>
<polyline points="1561.1,1557.7 1695.9,1551.5 1830.7,1538.7 1965.5,1508.9" fill="none" stroke="#0080FF" stroke-width="2.1" stroke-linejoin="round"/>
<polygon points="1567.4,1557.7 1555.7,1551.4 1555.7,1564.0" fill="none" stroke="#0080FF" stroke-width="2.1" stroke-miterlimit="3"/>
<polygon points="1702.2,1551.5 1690.5,1545.2 1690.5,1557.8" fill="none" stroke="#0080FF" stroke-width="2.1" stroke-miterlimit="3"/>
<polygon points="1837.0,1538.7 1825.3,1532.4 1825.3,1545.0" fill="none" stroke="#0080FF" stroke-width="2.1" stroke-miterlimit="3"/>
<polygon points="1971.8,1508.9 1960.1,1502.6 1960.1,1515.2" fill="none" stroke="#0080FF" stroke-width="2.1" stroke-miterlimit="3"/>
<polyline points="1561.1,1537.3 1695.9,1524.5 1830.7,1513.2 1965.5,1492.0" fill="none" stroke="#00FF80" stroke-width="2.1" stroke-linejoin="round"/>
<polygon points="1561.1,1531.0 1567.4,1542.7 1554.8,1542.7" fill="none" stroke="#00FF80" stroke-width="2.1" stroke-miterlimit="3"/>
<polygon points="1695.9,1518.2 1702.2,1529.9 1689.6,1529.9" fill="none" stroke="#00FF80" stroke-width="2.1" stroke-miterlimit="3"/>
<polygon points="1830.7,1506.9 1837.0,1518.6 1824.4,1518.6" fill="none" stroke="#00FF80" stroke-width="2.1" stroke-miterlimit="3"/>
<polygon points="1965.5,1485.7 1971.8,1497.4 1959.2,1497.4" fill="none" stroke="#00FF80" stroke-width="2.1" stroke-miterlimit="3"/>
<polyline points="1561.1,1557.7 1695.9,1554.3 1830.7,1543.0 1965.5,1506.1" fill="none" stroke="#00FFFF" stroke-width="2.1" stroke-linejoin="round"/>
<path d="M1555.8 1557.7H1566.4M1561.1 1552.4V1563.0" stroke="#00FFFF" stroke-width="2.2"/>
<path d="M1690.6 1554.3H1701.2M1695.9 1549.0V1559.6" stroke="#00FFFF" stroke-width="2.2"/>
<path d="M1825.4 1543.0H1836.0M1830.7 1537.7V1548.3" stroke="#00FFFF" stroke-width="2.2"/>
<path d="M1960.2 1506.1H1970.8M1965.5 1500.8V1511.4" stroke="#00FFFF" stroke-width="2.2"/>
<polyline points="1561.1,1557.7 1695.9,1547.2 1830.7,1537.3 1965.5,1511.8" fill="none" stroke="#800080" stroke-width="2.1" stroke-linejoin="round"/>
<circle cx="1561.1" cy="1557.7" r="5.0" fill="none" stroke="#800080" stroke-width="2.1"/>
<circle cx="1695.9" cy="1547.2" r="5.0" fill="none" stroke="#800080" stroke-width="2.1"/>
<circle cx="1830.7" cy="1537.3" r="5.0" fill="none" stroke="#800080" stroke-width="2.1"/>
<circle cx="1965.5" cy="1511.8" r="5.0" fill="none" stroke="#800080" stroke-width="2.1"/>
<polyline points="1561.1,1557.7 1695.9,1557.2 1830.7,1552.9 1965.5,1517.5" fill="none" stroke="#8000FF" stroke-width="2.1" stroke-linejoin="round"/>
<rect x="1557.0" y="1553.6" width="8.2" height="8.2" fill="none" stroke="#8000FF" stroke-width="2.3"/>
<rect x="1691.8" y="1553.1" width="8.2" height="8.2" fill="none" stroke="#8000FF" stroke-width="2.3"/>
<rect x="1826.6" y="1548.8" width="8.2" height="8.2" fill="none" stroke="#8000FF" stroke-width="2.3"/>
<rect x="1961.4" y="1513.4" width="8.2" height="8.2" fill="none" stroke="#8000FF" stroke-width="2.3"/>
<polyline points="1561.1,1557.7 1695.9,1545.8 1830.7,1527.4 1965.5,1499.0" fill="none" stroke="#FF0080" stroke-width="2.1" stroke-linejoin="round"/>
<polygon points="1561.1,1551.7 1566.3,1557.7 1561.1,1563.7 1555.9,1557.7" fill="none" stroke="#FF0080" stroke-width="2.1"/>
<polygon points="1695.9,1539.8 1701.1,1545.8 1695.9,1551.8 1690.7,1545.8" fill="none" stroke="#FF0080" stroke-width="2.1"/>
<polygon points="1830.7,1521.4 1835.9,1527.4 1830.7,1533.4 1825.5,1527.4" fill="none" stroke="#FF0080" stroke-width="2.1"/>
<polygon points="1965.5,1493.0 1970.7,1499.0 1965.5,1505.0 1960.3,1499.0" fill="none" stroke="#FF0080" stroke-width="2.1"/>
<polyline points="1561.1,1558.6 1695.9,1557.7 1830.7,1554.3 1965.5,1530.2" fill="none" stroke="#FF00FF" stroke-width="2.1" stroke-linejoin="round"/>
<polygon points="1561.1,1551.7 1562.6,1556.7 1567.2,1556.8 1563.6,1560.0 1564.8,1565.1 1561.1,1562.1 1557.4,1565.1 1558.6,1560.0 1555.0,1556.8 1559.6,1556.7" fill="#FF00FF" stroke="#FF00FF" stroke-width="1.2" stroke-linejoin="round"/>
<polygon points="1695.9,1550.8 1697.4,1555.8 1702.0,1555.9 1698.4,1559.1 1699.6,1564.2 1695.9,1561.2 1692.2,1564.2 1693.4,1559.1 1689.8,1555.9 1694.4,1555.8" fill="#FF00FF" stroke="#FF00FF" stroke-width="1.2" stroke-linejoin="round"/>
<polygon points="1830.7,1547.4 1832.2,1552.4 1836.8,1552.5 1833.2,1555.7 1834.4,1560.8 1830.7,1557.8 1827.0,1560.8 1828.2,1555.7 1824.6,1552.5 1829.2,1552.4" fill="#FF00FF" stroke="#FF00FF" stroke-width="1.2" stroke-linejoin="round"/>
<polygon points="1965.5,1523.3 1967.0,1528.3 1971.6,1528.4 1968.0,1531.6 1969.2,1536.7 1965.5,1533.7 1961.8,1536.7 1963.0,1531.6 1959.4,1528.4 1964.0,1528.3" fill="#FF00FF" stroke="#FF00FF" stroke-width="1.2" stroke-linejoin="round"/>
<polyline points="1561.1,1558.6 1695.9,1557.7 1830.7,1553.7 1965.5,1523.1" fill="none" stroke="#FF6666" stroke-width="2.1" stroke-linejoin="round"/>
<polygon points="1561.1,1552.6 1562.8,1555.7 1566.3,1555.6 1564.5,1558.6 1566.3,1561.6 1562.8,1561.5 1561.1,1564.6 1559.4,1561.5 1555.9,1561.6 1557.7,1558.6 1555.9,1555.6 1559.4,1555.7" fill="none" stroke="#FF6666" stroke-width="2.0" stroke-linejoin="round"/>
<polygon points="1695.9,1551.7 1697.6,1554.8 1701.1,1554.7 1699.3,1557.7 1701.1,1560.7 1697.6,1560.6 1695.9,1563.7 1694.2,1560.6 1690.7,1560.7 1692.5,1557.7 1690.7,1554.7 1694.2,1554.8" fill="none" stroke="#FF6666" stroke-width="2.0" stroke-linejoin="round"/>
<polygon points="1830.7,1547.7 1832.4,1550.8 1835.9,1550.7 1834.1,1553.7 1835.9,1556.7 1832.4,1556.6 1830.7,1559.7 1829.0,1556.6 1825.5,1556.7 1827.3,1553.7 1825.5,1550.7 1829.0,1550.8" fill="none" stroke="#FF6666" stroke-width="2.0" stroke-linejoin="round"/>
<polygon points="1965.5,1517.1 1967.2,1520.2 1970.7,1520.1 1968.9,1523.1 1970.7,1526.1 1967.2,1526.0 1965.5,1529.1 1963.8,1526.0 1960.3,1526.1 1962.1,1523.1 1960.3,1520.1 1963.8,1520.2" fill="none" stroke="#FF6666" stroke-width="2.0" stroke-linejoin="round"/>
<polyline points="1561.1,1557.7 1695.9,1541.6 1830.7,1535.9 1965.5,1506.1" fill="none" stroke="#FF66FF" stroke-width="2.1" stroke-linejoin="round"/>
<polygon points="1561.1,1564.0 1567.4,1552.3 1554.8,1552.3" fill="none" stroke="#FF66FF" stroke-width="2.1" stroke-miterlimit="3"/>
<polygon points="1695.9,1547.9 1702.2,1536.2 1689.6,1536.2" fill="none" stroke="#FF66FF" stroke-width="2.1" stroke-miterlimit="3"/>
<polygon points="1830.7,1542.2 1837.0,1530.5 1824.4,1530.5" fill="none" stroke="#FF66FF" stroke-width="2.1" stroke-miterlimit="3"/>
<polygon points="1965.5,1512.4 1971.8,1500.7 1959.2,1500.7" fill="none" stroke="#FF66FF" stroke-width="2.1" stroke-miterlimit="3"/>
<polyline points="1561.1,1557.7 1695.9,1543.0 1830.7,1530.2 1965.5,1503.3" fill="none" stroke="#000000" stroke-width="2.1" stroke-linejoin="round"/>




<polyline points="1561.1,1557.7 1695.9,1534.5 1830.7,1535.9 1965.5,1499.0" fill="none" stroke="#80FF00" stroke-width="2.1" stroke-linejoin="round"/>
<circle cx="1561.1" cy="1557.7" r="5.0" fill="none" stroke="#80FF00" stroke-width="2.1"/>
<circle cx="1695.9" cy="1534.5" r="5.0" fill="none" stroke="#80FF00" stroke-width="2.1"/>
<circle cx="1830.7" cy="1535.9" r="5.0" fill="none" stroke="#80FF00" stroke-width="2.1"/>
<circle cx="1965.5" cy="1499.0" r="5.0" fill="none" stroke="#80FF00" stroke-width="2.1"/>
<polyline points="1561.1,1558.6 1695.9,1557.7 1830.7,1553.7 1965.5,1521.7" fill="none" stroke="#FF0000" stroke-width="3.6" stroke-dasharray="14.5,14.5" stroke-linejoin="round"/>
<path d="M1555.7 1553.2L1566.5 1564.0M1555.7 1564.0L1566.5 1553.2" stroke="#FF0000" stroke-width="3.1"/>
<path d="M1690.5 1552.3L1701.3 1563.1M1690.5 1563.1L1701.3 1552.3" stroke="#FF0000" stroke-width="3.1"/>
<path d="M1825.3 1548.3L1836.1 1559.1M1825.3 1559.1L1836.1 1548.3" stroke="#FF0000" stroke-width="3.1"/>
<path d="M1960.1 1516.3L1970.9 1527.1M1960.1 1527.1L1970.9 1516.3" stroke="#FF0000" stroke-width="3.1"/>
<text x="1762.0" y="1245.9" text-anchor="middle" class="ti">F16</text>
<rect x="62.4" y="1639.6" width="404.2" height="299.2" fill="none" stroke="#000" stroke-width="2.0"/>
<path d="M62.4 1938.8V1934.3M62.4 1639.6V1644.1" stroke="#000" stroke-width="2"/>
<text x="62.4" y="1966.5" text-anchor="middle" class="t">10</text>
<path d="M197.1 1938.8V1934.3M197.1 1639.6V1644.1" stroke="#000" stroke-width="2"/>
<text x="197.1" y="1966.5" text-anchor="middle" class="t">30</text>
<path d="M331.9 1938.8V1934.3M331.9 1639.6V1644.1" stroke="#000" stroke-width="2"/>
<text x="331.9" y="1966.5" text-anchor="middle" class="t">50</text>
<path d="M466.6 1938.8V1934.3M466.6 1639.6V1644.1" stroke="#000" stroke-width="2"/>
<text x="466.6" y="1966.5" text-anchor="middle" class="t">100</text>
<path d="M62.4 1689.1H67.9M466.6 1689.1H461.1" stroke="#000" stroke-width="2"/>
<text x="54.9" y="1701.7" text-anchor="end" class="t">10<tspan font-size="18.2" dy="-11.8">10</tspan></text>
<path d="M62.4 1879.9H67.9M466.6 1879.9H461.1" stroke="#000" stroke-width="2"/>
<text x="54.9" y="1892.5" text-anchor="end" class="t">10<tspan font-size="18.2" dy="-11.8">5</tspan></text>
<path d="M62.4 1918.1H65.9M466.6 1918.1H463.1" stroke="#000" stroke-width="2"/>
<path d="M62.4 1841.7H65.9M466.6 1841.7H463.1" stroke="#000" stroke-width="2"/>
<path d="M62.4 1803.6H65.9M466.6 1803.6H463.1" stroke="#000" stroke-width="2"/>
<path d="M62.4 1765.4H65.9M466.6 1765.4H463.1" stroke="#000" stroke-width="2"/>
<path d="M62.4 1727.3H65.9M466.6 1727.3H463.1" stroke="#000" stroke-width="2"/>
<path d="M62.4 1650.9H65.9M466.6 1650.9H463.1" stroke="#000" stroke-width="2"/>
<polyline points="62.4,1685.4 197.1,1658.0 331.9,1640.1 466.6,1640.9" fill="none" stroke="#000080" stroke-width="2.1" stroke-linejoin="round"/>
<path d="M56.8 1685.4H68.0M62.4 1679.8V1691.0M58.4 1681.4L66.4 1689.4M58.4 1689.4L66.4 1681.4" stroke="#000080" stroke-width="2.2"/>
<path d="M191.5 1658.0H202.7M197.1 1652.4V1663.6M193.1 1654.0L201.2 1662.0M193.1 1662.0L201.2 1654.0" stroke="#000080" stroke-width="2.2"/>
<path d="M326.3 1640.1H337.5M331.9 1634.5V1645.7M327.8 1636.1L335.9 1644.1M327.8 1644.1L335.9 1636.1" stroke="#000080" stroke-width="2.2"/>
<path d="M461.0 1640.9H472.2M466.6 1635.3V1646.5M462.6 1636.9L470.6 1644.9M462.6 1644.9L470.6 1636.9" stroke="#000080" stroke-width="2.2"/>
<polyline points="62.4,1935.7 197.1,1880.5 331.9,1836.5 466.6,1772.7" fill="none" stroke="#0000FF" stroke-width="2.1" stroke-linejoin="round"/>
<path d="M57.1 1935.7H67.7M62.4 1930.4V1941.0" stroke="#0000FF" stroke-width="2.2"/>
<path d="M191.8 1880.5H202.4M197.1 1875.2V1885.8" stroke="#0000FF" stroke-width="2.2"/>
<path d="M326.6 1836.5H337.2M331.9 1831.2V1841.8" stroke="#0000FF" stroke-width="2.2"/>
<path d="M461.3 1772.7H471.9M466.6 1767.4V1778.0" stroke="#0000FF" stroke-width="2.2"/>
<polyline points="62.4,1903.1 197.1,1759.1 331.9,1711.8 466.6,1686.3" fill="none" stroke="#008080" stroke-width="2.1" stroke-linejoin="round"/>
<polygon points="56.1,1903.1 67.8,1896.8 67.8,1909.4" fill="none" stroke="#008080" stroke-width="2.1" stroke-miterlimit="3"/>
<polygon points="190.8,1759.1 202.5,1752.8 202.5,1765.4" fill="none" stroke="#008080" stroke-width="2.1" stroke-miterlimit="3"/>
<polygon points="325.6,1711.8 337.2,1705.5 337.2,1718.1" fill="none" stroke="#008080" stroke-width="2.1" stroke-miterlimit="3"/>
<polygon points="460.3,1686.3 472.0,1680.0 472.0,1692.6" fill="none" stroke="#008080" stroke-width="2.1" stroke-miterlimit="3"/>
<polyline points="62.4,1924.4 197.1,1819.5 331.9,1800.5 466.6,1853.5" fill="none" stroke="#0080FF" stroke-width="2.1" stroke-linejoin="round"/>
<polygon points="68.7,1924.4 57.0,1918.1 57.0,1930.7" fill="none" stroke="#0080FF" stroke-width="2.1" stroke-miterlimit="3"/>
<polygon points="203.4,1819.5 191.8,1813.2 191.8,1825.8" fill="none" stroke="#0080FF" stroke-width="2.1" stroke-miterlimit="3"/>
<polygon points="338.2,1800.5 326.5,1794.2 326.5,1806.8" fill="none" stroke="#0080FF" stroke-width="2.1" stroke-miterlimit="3"/>
<polygon points="472.9,1853.5 461.2,1847.2 461.2,1859.8" fill="none" stroke="#0080FF" stroke-width="2.1" stroke-miterlimit="3"/>
<polyline points="62.4,1903.1 197.1,1702.4 331.9,1670.1 466.6,1657.1" fill="none" stroke="#00FF80" stroke-width="2.1" stroke-linejoin="round"/>
<polygon points="62.4,1896.8 68.7,1908.5 56.1,1908.5" fill="none" stroke="#00FF80" stroke-width="2.1" stroke-miterlimit="3"/>
<polygon points="197.1,1696.1 203.4,1707.8 190.8,1707.8" fill="none" stroke="#00FF80" stroke-width="2.1" stroke-miterlimit="3"/>
<polygon points="331.9,1663.8 338.2,1675.5 325.6,1675.5" fill="none" stroke="#00FF80" stroke-width="2.1" stroke-miterlimit="3"/>
<polygon points="466.6,1650.8 472.9,1662.5 460.3,1662.5" fill="none" stroke="#00FF80" stroke-width="2.1" stroke-miterlimit="3"/>
<polyline points="62.4,1908.8 197.1,1869.1 331.9,1845.0 466.6,1786.9" fill="none" stroke="#00FFFF" stroke-width="2.1" stroke-linejoin="round"/>
<path d="M57.1 1908.8H67.7M62.4 1903.5V1914.1" stroke="#00FFFF" stroke-width="2.2"/>
<path d="M191.8 1869.1H202.4M197.1 1863.8V1874.4" stroke="#00FFFF" stroke-width="2.2"/>
<path d="M326.6 1845.0H337.2M331.9 1839.7V1850.3" stroke="#00FFFF" stroke-width="2.2"/>
<path d="M461.3 1786.9H471.9M466.6 1781.6V1792.2" stroke="#00FFFF" stroke-width="2.2"/>
<polyline points="62.4,1908.8 197.1,1810.2 331.9,1737.3 466.6,1718.9" fill="none" stroke="#800080" stroke-width="2.1" stroke-linejoin="round"/>
<circle cx="62.4" cy="1908.8" r="5.0" fill="none" stroke="#800080" stroke-width="2.1"/>
<circle cx="197.1" cy="1810.2" r="5.0" fill="none" stroke="#800080" stroke-width="2.1"/>
<circle cx="331.9" cy="1737.3" r="5.0" fill="none" stroke="#800080" stroke-width="2.1"/>
<circle cx="466.6" cy="1718.9" r="5.0" fill="none" stroke="#800080" stroke-width="2.1"/>
<polyline points="62.4,1935.7 197.1,1870.5 331.9,1837.4 466.6,1799.7" fill="none" stroke="#8000FF" stroke-width="2.1" stroke-linejoin="round"/>
<rect x="58.3" y="1931.6" width="8.2" height="8.2" fill="none" stroke="#8000FF" stroke-width="2.3"/>
<rect x="193.0" y="1866.4" width="8.2" height="8.2" fill="none" stroke="#8000FF" stroke-width="2.3"/>
<rect x="327.8" y="1833.3" width="8.2" height="8.2" fill="none" stroke="#8000FF" stroke-width="2.3"/>
<rect x="462.5" y="1795.6" width="8.2" height="8.2" fill="none" stroke="#8000FF" stroke-width="2.3"/>
<polyline points="62.4,1906.0 197.1,1760.0 331.9,1717.5 466.6,1701.9" fill="none" stroke="#FF0080" stroke-width="2.1" stroke-linejoin="round"/>
<polygon points="62.4,1900.0 67.6,1906.0 62.4,1912.0 57.2,1906.0" fill="none" stroke="#FF0080" stroke-width="2.1"/>
<polygon points="197.1,1754.0 202.3,1760.0 197.1,1766.0 191.9,1760.0" fill="none" stroke="#FF0080" stroke-width="2.1"/>
<polygon points="331.9,1711.5 337.1,1717.5 331.9,1723.5 326.7,1717.5" fill="none" stroke="#FF0080" stroke-width="2.1"/>
<polygon points="466.6,1695.9 471.8,1701.9 466.6,1707.9 461.4,1701.9" fill="none" stroke="#FF0080" stroke-width="2.1"/>
<polyline points="62.4,1908.8 197.1,1870.5 331.9,1859.2 466.6,1837.9" fill="none" stroke="#FF00FF" stroke-width="2.1" stroke-linejoin="round"/>
<polygon points="62.4,1901.9 63.9,1906.9 68.5,1907.0 64.9,1910.2 66.1,1915.3 62.4,1912.3 58.7,1915.3 59.9,1910.2 56.3,1907.0 60.9,1906.9" fill="#FF00FF" stroke="#FF00FF" stroke-width="1.2" stroke-linejoin="round"/>
<polygon points="197.1,1863.6 198.6,1868.6 203.2,1868.7 199.6,1871.9 200.9,1877.0 197.1,1874.0 193.4,1877.0 194.7,1871.9 191.1,1868.7 195.6,1868.6" fill="#FF00FF" stroke="#FF00FF" stroke-width="1.2" stroke-linejoin="round"/>
<polygon points="331.9,1852.3 333.4,1857.3 337.9,1857.4 334.3,1860.6 335.6,1865.7 331.9,1862.7 328.1,1865.7 329.4,1860.6 325.8,1857.4 330.4,1857.3" fill="#FF00FF" stroke="#FF00FF" stroke-width="1.2" stroke-linejoin="round"/>
<polygon points="466.6,1831.0 468.1,1836.0 472.7,1836.1 469.1,1839.3 470.3,1844.4 466.6,1841.4 462.9,1844.4 464.1,1839.3 460.5,1836.1 465.1,1836.0" fill="#FF00FF" stroke="#FF00FF" stroke-width="1.2" stroke-linejoin="round"/>
<polyline points="62.4,1915.9 197.1,1900.9 331.9,1829.4 466.6,1772.2" fill="none" stroke="#FF6666" stroke-width="2.1" stroke-linejoin="round"/>
<polygon points="62.4,1909.9 64.1,1913.0 67.6,1912.9 65.8,1915.9 67.6,1918.9 64.1,1918.8 62.4,1921.9 60.7,1918.8 57.2,1918.9 59.0,1915.9 57.2,1912.9 60.7,1913.0" fill="none" stroke="#FF6666" stroke-width="2.0" stroke-linejoin="round"/>
<polygon points="197.1,1894.9 198.8,1898.0 202.3,1897.9 200.5,1900.9 202.3,1903.9 198.8,1903.8 197.1,1906.9 195.4,1903.8 191.9,1903.9 193.7,1900.9 191.9,1897.9 195.4,1898.0" fill="none" stroke="#FF6666" stroke-width="2.0" stroke-linejoin="round"/>
<polygon points="331.9,1823.4 333.6,1826.5 337.1,1826.4 335.3,1829.4 337.1,1832.4 333.6,1832.3 331.9,1835.4 330.2,1832.3 326.7,1832.4 328.5,1829.4 326.7,1826.4 330.2,1826.5" fill="none" stroke="#FF6666" stroke-width="2.0" stroke-linejoin="round"/>
<polygon points="466.6,1766.2 468.3,1769.3 471.8,1769.2 470.0,1772.2 471.8,1775.2 468.3,1775.1 466.6,1778.2 464.9,1775.1 461.4,1775.2 463.2,1772.2 461.4,1769.2 464.9,1769.3" fill="none" stroke="#FF6666" stroke-width="2.0" stroke-linejoin="round"/>
<polyline points="62.4,1913.0 197.1,1896.0 331.9,1906.5 466.6,1830.9" fill="none" stroke="#FF66FF" stroke-width="2.1" stroke-linejoin="round"/>
<polygon points="62.4,1919.3 68.7,1907.6 56.1,1907.6" fill="none" stroke="#FF66FF" stroke-width="2.1" stroke-miterlimit="3"/>
<polygon points="197.1,1902.3 203.4,1890.6 190.8,1890.6" fill="none" stroke="#FF66FF" stroke-width="2.1" stroke-miterlimit="3"/>
<polygon points="331.9,1912.8 338.2,1901.1 325.6,1901.1" fill="none" stroke="#FF66FF" stroke-width="2.1" stroke-miterlimit="3"/>
<polygon points="466.6,1837.2 472.9,1825.5 460.3,1825.5" fill="none" stroke="#FF66FF" stroke-width="2.1" stroke-miterlimit="3"/>
<polyline points="62.4,1879.0 197.1,1723.1 331.9,1694.8 466.6,1680.6" fill="none" stroke="#000000" stroke-width="2.1" stroke-linejoin="round"/>




<polyline points="62.4,1908.8 197.1,1800.5 331.9,1740.1 466.6,1709.8" fill="none" stroke="#80FF00" stroke-width="2.1" stroke-linejoin="round"/>
<circle cx="62.4" cy="1908.8" r="5.0" fill="none" stroke="#80FF00" stroke-width="2.1"/>
<circle cx="197.1" cy="1800.5" r="5.0" fill="none" stroke="#80FF00" stroke-width="2.1"/>
<circle cx="331.9" cy="1740.1" r="5.0" fill="none" stroke="#80FF00" stroke-width="2.1"/>
<circle cx="466.6" cy="1709.8" r="5.0" fill="none" stroke="#80FF00" stroke-width="2.1"/>
<polyline points="62.4,1934.3 197.1,1895.2 331.9,1892.4 466.6,1896.9" fill="none" stroke="#FF0000" stroke-width="3.6" stroke-dasharray="14.5,14.5" stroke-linejoin="round"/>
<path d="M57.0 1928.9L67.8 1939.7M57.0 1939.7L67.8 1928.9" stroke="#FF0000" stroke-width="3.1"/>
<path d="M191.7 1889.8L202.5 1900.6M191.7 1900.6L202.5 1889.8" stroke="#FF0000" stroke-width="3.1"/>
<path d="M326.5 1887.0L337.3 1897.8M326.5 1897.8L337.3 1887.0" stroke="#FF0000" stroke-width="3.1"/>
<path d="M461.2 1891.5L472.0 1902.3M461.2 1902.3L472.0 1891.5" stroke="#FF0000" stroke-width="3.1"/>
<text x="263.2" y="1626.0" text-anchor="middle" class="ti">F17</text>
<rect x="559.5" y="1639.9" width="404.3" height="298.7" fill="none" stroke="#000" stroke-width="2.0"/>
<path d="M559.5 1938.6V1934.1M559.5 1639.9V1644.4" stroke="#000" stroke-width="2"/>
<text x="559.5" y="1966.3" text-anchor="middle" class="t">10</text>
<path d="M694.3 1938.6V1934.1M694.3 1639.9V1644.4" stroke="#000" stroke-width="2"/>
<text x="694.3" y="1966.3" text-anchor="middle" class="t">30</text>
<path d="M829.0 1938.6V1934.1M829.0 1639.9V1644.4" stroke="#000" stroke-width="2"/>
<text x="829.0" y="1966.3" text-anchor="middle" class="t">50</text>
<path d="M963.8 1938.6V1934.1M963.8 1639.9V1644.4" stroke="#000" stroke-width="2"/>
<text x="963.8" y="1966.3" text-anchor="middle" class="t">100</text>
<path d="M559.5 1680.6H565.0M963.8 1680.6H958.3" stroke="#000" stroke-width="2"/>
<text x="552.0" y="1693.2" text-anchor="end" class="t">10<tspan font-size="18.2" dy="-11.8">10</tspan></text>
<path d="M559.5 1870.5H565.0M963.8 1870.5H958.3" stroke="#000" stroke-width="2"/>
<text x="552.0" y="1883.1" text-anchor="end" class="t">10<tspan font-size="18.2" dy="-11.8">5</tspan></text>
<path d="M559.5 1908.5H563.0M963.8 1908.5H960.3" stroke="#000" stroke-width="2"/>
<path d="M559.5 1832.5H563.0M963.8 1832.5H960.3" stroke="#000" stroke-width="2"/>
<path d="M559.5 1794.5H563.0M963.8 1794.5H960.3" stroke="#000" stroke-width="2"/>
<path d="M559.5 1756.6H563.0M963.8 1756.6H960.3" stroke="#000" stroke-width="2"/>
<path d="M559.5 1718.6H563.0M963.8 1718.6H960.3" stroke="#000" stroke-width="2"/>
<path d="M559.5 1642.6H563.0M963.8 1642.6H960.3" stroke="#000" stroke-width="2"/>
<polyline points="559.5,1691.4 694.3,1648.9 829.0,1642.4 963.8,1640.1" fill="none" stroke="#000080" stroke-width="2.1" stroke-linejoin="round"/>
<path d="M553.9 1691.4H565.1M559.5 1685.8V1697.0M555.5 1687.4L563.5 1695.4M555.5 1695.4L563.5 1687.4" stroke="#000080" stroke-width="2.2"/>
<path d="M688.7 1648.9H699.9M694.3 1643.3V1654.5M690.2 1644.9L698.3 1652.9M690.2 1652.9L698.3 1644.9" stroke="#000080" stroke-width="2.2"/>
<path d="M823.4 1642.4H834.6M829.0 1636.8V1648.0M825.0 1638.4L833.1 1646.4M825.0 1646.4L833.1 1638.4" stroke="#000080" stroke-width="2.2"/>
<path d="M958.2 1640.1H969.4M963.8 1634.5V1645.7M959.8 1636.1L967.8 1644.1M959.8 1644.1L967.8 1636.1" stroke="#000080" stroke-width="2.2"/>
<polyline points="559.5,1934.3 694.3,1884.7 829.0,1882.7 963.8,1850.7" fill="none" stroke="#0000FF" stroke-width="2.1" stroke-linejoin="round"/>
<path d="M554.2 1934.3H564.8M559.5 1929.0V1939.6" stroke="#0000FF" stroke-width="2.2"/>
<path d="M689.0 1884.7H699.6M694.3 1879.4V1890.0" stroke="#0000FF" stroke-width="2.2"/>
<path d="M823.7 1882.7H834.3M829.0 1877.4V1888.0" stroke="#0000FF" stroke-width="2.2"/>
<path d="M958.5 1850.7H969.1M963.8 1845.4V1856.0" stroke="#0000FF" stroke-width="2.2"/>
<polyline points="559.5,1893.2 694.3,1829.4 829.0,1752.3 963.8,1696.2" fill="none" stroke="#008080" stroke-width="2.1" stroke-linejoin="round"/>
<polygon points="553.2,1893.2 564.9,1886.9 564.9,1899.5" fill="none" stroke="#008080" stroke-width="2.1" stroke-miterlimit="3"/>
<polygon points="688.0,1829.4 699.6,1823.1 699.6,1835.7" fill="none" stroke="#008080" stroke-width="2.1" stroke-miterlimit="3"/>
<polygon points="822.7,1752.3 834.4,1746.0 834.4,1758.6" fill="none" stroke="#008080" stroke-width="2.1" stroke-miterlimit="3"/>
<polygon points="957.5,1696.2 969.2,1689.9 969.2,1702.5" fill="none" stroke="#008080" stroke-width="2.1" stroke-miterlimit="3"/>
<polyline points="559.5,1932.9 694.3,1833.7 829.0,1823.8 963.8,1807.3" fill="none" stroke="#0080FF" stroke-width="2.1" stroke-linejoin="round"/>
<polygon points="565.8,1932.9 554.1,1926.6 554.1,1939.2" fill="none" stroke="#0080FF" stroke-width="2.1" stroke-miterlimit="3"/>
<polygon points="700.6,1833.7 688.9,1827.4 688.9,1840.0" fill="none" stroke="#0080FF" stroke-width="2.1" stroke-miterlimit="3"/>
<polygon points="835.3,1823.8 823.7,1817.5 823.7,1830.1" fill="none" stroke="#0080FF" stroke-width="2.1" stroke-miterlimit="3"/>
<polygon points="970.1,1807.3 958.4,1801.0 958.4,1813.6" fill="none" stroke="#0080FF" stroke-width="2.1" stroke-miterlimit="3"/>
<polyline points="559.5,1894.0 694.3,1731.6 829.0,1683.5 963.8,1662.2" fill="none" stroke="#00FF80" stroke-width="2.1" stroke-linejoin="round"/>
<polygon points="559.5,1887.7 565.8,1899.4 553.2,1899.4" fill="none" stroke="#00FF80" stroke-width="2.1" stroke-miterlimit="3"/>
<polygon points="694.3,1725.3 700.6,1737.0 688.0,1737.0" fill="none" stroke="#00FF80" stroke-width="2.1" stroke-miterlimit="3"/>
<polygon points="829.0,1677.2 835.3,1688.9 822.7,1688.9" fill="none" stroke="#00FF80" stroke-width="2.1" stroke-miterlimit="3"/>
<polygon points="963.8,1655.9 970.1,1667.6 957.5,1667.6" fill="none" stroke="#00FF80" stroke-width="2.1" stroke-miterlimit="3"/>
<polyline points="559.5,1914.5 694.3,1873.4 829.0,1872.0 963.8,1835.1" fill="none" stroke="#00FFFF" stroke-width="2.1" stroke-linejoin="round"/>
<path d="M554.2 1914.5H564.8M559.5 1909.2V1919.8" stroke="#00FFFF" stroke-width="2.2"/>
<path d="M689.0 1873.4H699.6M694.3 1868.1V1878.7" stroke="#00FFFF" stroke-width="2.2"/>
<path d="M823.7 1872.0H834.3M829.0 1866.7V1877.3" stroke="#00FFFF" stroke-width="2.2"/>
<path d="M958.5 1835.1H969.1M963.8 1829.8V1840.4" stroke="#00FFFF" stroke-width="2.2"/>
<polyline points="559.5,1908.8 694.3,1822.3 829.0,1779.8 963.8,1737.3" fill="none" stroke="#800080" stroke-width="2.1" stroke-linejoin="round"/>
<circle cx="559.5" cy="1908.8" r="5.0" fill="none" stroke="#800080" stroke-width="2.1"/>
<circle cx="694.3" cy="1822.3" r="5.0" fill="none" stroke="#800080" stroke-width="2.1"/>
<circle cx="829.0" cy="1779.8" r="5.0" fill="none" stroke="#800080" stroke-width="2.1"/>
<circle cx="963.8" cy="1737.3" r="5.0" fill="none" stroke="#800080" stroke-width="2.1"/>
<polyline points="559.5,1934.3 694.3,1881.9 829.0,1864.9 963.8,1836.5" fill="none" stroke="#8000FF" stroke-width="2.1" stroke-linejoin="round"/>
<rect x="555.4" y="1930.2" width="8.2" height="8.2" fill="none" stroke="#8000FF" stroke-width="2.3"/>
<rect x="690.2" y="1877.8" width="8.2" height="8.2" fill="none" stroke="#8000FF" stroke-width="2.3"/>
<rect x="824.9" y="1860.8" width="8.2" height="8.2" fill="none" stroke="#8000FF" stroke-width="2.3"/>
<rect x="959.7" y="1832.4" width="8.2" height="8.2" fill="none" stroke="#8000FF" stroke-width="2.3"/>
<polyline points="559.5,1915.9 694.3,1874.8 829.0,1776.1 963.8,1709.8" fill="none" stroke="#FF0080" stroke-width="2.1" stroke-linejoin="round"/>
<polygon points="559.5,1909.9 564.7,1915.9 559.5,1921.9 554.3,1915.9" fill="none" stroke="#FF0080" stroke-width="2.1"/>
<polygon points="694.3,1868.8 699.5,1874.8 694.3,1880.8 689.1,1874.8" fill="none" stroke="#FF0080" stroke-width="2.1"/>
<polygon points="829.0,1770.1 834.2,1776.1 829.0,1782.1 823.8,1776.1" fill="none" stroke="#FF0080" stroke-width="2.1"/>
<polygon points="963.8,1703.8 969.0,1709.8 963.8,1715.8 958.6,1709.8" fill="none" stroke="#FF0080" stroke-width="2.1"/>
<polyline points="559.5,1924.4 694.3,1875.4 829.0,1869.1 963.8,1845.0" fill="none" stroke="#FF00FF" stroke-width="2.1" stroke-linejoin="round"/>
<polygon points="559.5,1917.5 561.0,1922.5 565.6,1922.6 562.0,1925.8 563.2,1930.9 559.5,1927.9 555.8,1930.9 557.0,1925.8 553.4,1922.6 558.0,1922.5" fill="#FF00FF" stroke="#FF00FF" stroke-width="1.2" stroke-linejoin="round"/>
<polygon points="694.3,1868.5 695.8,1873.5 700.3,1873.6 696.7,1876.8 698.0,1881.9 694.3,1878.9 690.5,1881.9 691.8,1876.8 688.2,1873.6 692.8,1873.5" fill="#FF00FF" stroke="#FF00FF" stroke-width="1.2" stroke-linejoin="round"/>
<polygon points="829.0,1862.2 830.5,1867.2 835.1,1867.3 831.5,1870.5 832.8,1875.6 829.0,1872.6 825.3,1875.6 826.6,1870.5 823.0,1867.3 827.5,1867.2" fill="#FF00FF" stroke="#FF00FF" stroke-width="1.2" stroke-linejoin="round"/>
<polygon points="963.8,1838.1 965.3,1843.1 969.9,1843.2 966.3,1846.4 967.5,1851.5 963.8,1848.5 960.1,1851.5 961.3,1846.4 957.7,1843.2 962.3,1843.1" fill="#FF00FF" stroke="#FF00FF" stroke-width="1.2" stroke-linejoin="round"/>
<polyline points="559.5,1920.1 694.3,1905.4 829.0,1896.0 963.8,1857.8" fill="none" stroke="#FF6666" stroke-width="2.1" stroke-linejoin="round"/>
<polygon points="559.5,1914.1 561.2,1917.2 564.7,1917.1 562.9,1920.1 564.7,1923.1 561.2,1923.0 559.5,1926.1 557.8,1923.0 554.3,1923.1 556.1,1920.1 554.3,1917.1 557.8,1917.2" fill="none" stroke="#FF6666" stroke-width="2.0" stroke-linejoin="round"/>
<polygon points="694.3,1899.4 696.0,1902.5 699.5,1902.4 697.7,1905.4 699.5,1908.4 696.0,1908.3 694.3,1911.4 692.6,1908.3 689.1,1908.4 690.9,1905.4 689.1,1902.4 692.6,1902.5" fill="none" stroke="#FF6666" stroke-width="2.0" stroke-linejoin="round"/>
<polygon points="829.0,1890.0 830.7,1893.1 834.2,1893.0 832.4,1896.0 834.2,1899.0 830.7,1898.9 829.0,1902.0 827.3,1898.9 823.8,1899.0 825.6,1896.0 823.8,1893.0 827.3,1893.1" fill="none" stroke="#FF6666" stroke-width="2.0" stroke-linejoin="round"/>
<polygon points="963.8,1851.8 965.5,1854.9 969.0,1854.8 967.2,1857.8 969.0,1860.8 965.5,1860.7 963.8,1863.8 962.1,1860.7 958.6,1860.8 960.4,1857.8 958.6,1854.8 962.1,1854.9" fill="none" stroke="#FF6666" stroke-width="2.0" stroke-linejoin="round"/>
<polyline points="559.5,1903.1 694.3,1893.2 829.0,1895.2 963.8,1855.0" fill="none" stroke="#FF66FF" stroke-width="2.1" stroke-linejoin="round"/>
<polygon points="559.5,1909.4 565.8,1897.7 553.2,1897.7" fill="none" stroke="#FF66FF" stroke-width="2.1" stroke-miterlimit="3"/>
<polygon points="694.3,1899.5 700.6,1887.8 688.0,1887.8" fill="none" stroke="#FF66FF" stroke-width="2.1" stroke-miterlimit="3"/>
<polygon points="829.0,1901.5 835.3,1889.8 822.7,1889.8" fill="none" stroke="#FF66FF" stroke-width="2.1" stroke-miterlimit="3"/>
<polygon points="963.8,1861.3 970.1,1849.6 957.5,1849.6" fill="none" stroke="#FF66FF" stroke-width="2.1" stroke-miterlimit="3"/>
<polyline points="559.5,1921.6 694.3,1762.8 829.0,1713.2 963.8,1690.5" fill="none" stroke="#000000" stroke-width="2.1" stroke-linejoin="round"/>




<polyline points="559.5,1909.4 694.3,1792.6 829.0,1763.7 963.8,1730.2" fill="none" stroke="#80FF00" stroke-width="2.1" stroke-linejoin="round"/>
<circle cx="559.5" cy="1909.4" r="5.0" fill="none" stroke="#80FF00" stroke-width="2.1"/>
<circle cx="694.3" cy="1792.6" r="5.0" fill="none" stroke="#80FF00" stroke-width="2.1"/>
<circle cx="829.0" cy="1763.7" r="5.0" fill="none" stroke="#80FF00" stroke-width="2.1"/>
<circle cx="963.8" cy="1730.2" r="5.0" fill="none" stroke="#80FF00" stroke-width="2.1"/>
<polyline points="559.5,1937.7 694.3,1894.6 829.0,1895.2 963.8,1893.2" fill="none" stroke="#FF0000" stroke-width="3.6" stroke-dasharray="14.5,14.5" stroke-linejoin="round"/>
<path d="M554.1 1932.3L564.9 1943.1M554.1 1943.1L564.9 1932.3" stroke="#FF0000" stroke-width="3.1"/>
<path d="M688.9 1889.2L699.7 1900.0M688.9 1900.0L699.7 1889.2" stroke="#FF0000" stroke-width="3.1"/>
<path d="M823.6 1889.8L834.4 1900.6M823.6 1900.6L834.4 1889.8" stroke="#FF0000" stroke-width="3.1"/>
<path d="M958.4 1887.8L969.2 1898.6M958.4 1898.6L969.2 1887.8" stroke="#FF0000" stroke-width="3.1"/>
<text x="760.4" y="1626.3" text-anchor="middle" class="ti">F18</text>
<rect x="1062.9" y="1639.9" width="404.3" height="298.7" fill="none" stroke="#000" stroke-width="2.0"/>
<path d="M1062.9 1938.6V1934.1M1062.9 1639.9V1644.4" stroke="#000" stroke-width="2"/>
<text x="1062.9" y="1966.3" text-anchor="middle" class="t">10</text>
<path d="M1197.7 1938.6V1934.1M1197.7 1639.9V1644.4" stroke="#000" stroke-width="2"/>
<text x="1197.7" y="1966.3" text-anchor="middle" class="t">30</text>
<path d="M1332.4 1938.6V1934.1M1332.4 1639.9V1644.4" stroke="#000" stroke-width="2"/>
<text x="1332.4" y="1966.3" text-anchor="middle" class="t">50</text>
<path d="M1467.2 1938.6V1934.1M1467.2 1639.9V1644.4" stroke="#000" stroke-width="2"/>
<text x="1467.2" y="1966.3" text-anchor="middle" class="t">100</text>
<path d="M1062.9 1639.9H1068.4M1467.2 1639.9H1461.7" stroke="#000" stroke-width="2"/>
<text x="1055.4" y="1652.5" text-anchor="end" class="t">10<tspan font-size="18.2" dy="-11.8">10</tspan></text>
<path d="M1062.9 1860.8H1068.4M1467.2 1860.8H1461.7" stroke="#000" stroke-width="2"/>
<text x="1055.4" y="1873.4" text-anchor="end" class="t">10<tspan font-size="18.2" dy="-11.8">5</tspan></text>
<path d="M1062.9 1905.0H1066.4M1467.2 1905.0H1463.7" stroke="#000" stroke-width="2"/>
<path d="M1062.9 1816.6H1066.4M1467.2 1816.6H1463.7" stroke="#000" stroke-width="2"/>
<path d="M1062.9 1772.4H1066.4M1467.2 1772.4H1463.7" stroke="#000" stroke-width="2"/>
<path d="M1062.9 1728.3H1066.4M1467.2 1728.3H1463.7" stroke="#000" stroke-width="2"/>
<path d="M1062.9 1684.1H1066.4M1467.2 1684.1H1463.7" stroke="#000" stroke-width="2"/>
<polyline points="1062.9,1821.5 1197.7,1726.0 1332.4,1699.0 1467.2,1640.1" fill="none" stroke="#000080" stroke-width="2.1" stroke-linejoin="round"/>
<path d="M1057.3 1821.5H1068.5M1062.9 1815.9V1827.1M1058.9 1817.5L1066.9 1825.5M1058.9 1825.5L1066.9 1817.5" stroke="#000080" stroke-width="2.2"/>
<path d="M1192.1 1726.0H1203.3M1197.7 1720.4V1731.6M1193.6 1722.0L1201.7 1730.0M1193.6 1730.0L1201.7 1722.0" stroke="#000080" stroke-width="2.2"/>
<path d="M1326.8 1699.0H1338.0M1332.4 1693.4V1704.6M1328.4 1695.0L1336.5 1703.0M1328.4 1703.0L1336.5 1695.0" stroke="#000080" stroke-width="2.2"/>
<path d="M1461.6 1640.1H1472.8M1467.2 1634.5V1645.7M1463.2 1636.1L1471.2 1644.1M1463.2 1644.1L1471.2 1636.1" stroke="#000080" stroke-width="2.2"/>
<polyline points="1062.9,1937.7 1197.7,1933.5 1332.4,1926.0 1467.2,1913.0" fill="none" stroke="#0000FF" stroke-width="2.1" stroke-linejoin="round"/>
<path d="M1057.6 1937.7H1068.2M1062.9 1932.4V1943.0" stroke="#0000FF" stroke-width="2.2"/>
<path d="M1192.4 1933.5H1203.0M1197.7 1928.2V1938.8" stroke="#0000FF" stroke-width="2.2"/>
<path d="M1327.1 1926.0H1337.7M1332.4 1920.7V1931.3" stroke="#0000FF" stroke-width="2.2"/>
<path d="M1461.9 1913.0H1472.5M1467.2 1907.7V1918.3" stroke="#0000FF" stroke-width="2.2"/>
<polyline points="1062.9,1937.7 1197.7,1929.2 1332.4,1917.9 1467.2,1843.0" fill="none" stroke="#008080" stroke-width="2.1" stroke-linejoin="round"/>
<polygon points="1056.6,1937.7 1068.3,1931.4 1068.3,1944.0" fill="none" stroke="#008080" stroke-width="2.1" stroke-miterlimit="3"/>
<polygon points="1191.4,1929.2 1203.0,1922.9 1203.0,1935.5" fill="none" stroke="#008080" stroke-width="2.1" stroke-miterlimit="3"/>
<polygon points="1326.1,1917.9 1337.8,1911.6 1337.8,1924.2" fill="none" stroke="#008080" stroke-width="2.1" stroke-miterlimit="3"/>
<polygon points="1460.9,1843.0 1472.6,1836.7 1472.6,1849.3" fill="none" stroke="#008080" stroke-width="2.1" stroke-miterlimit="3"/>
<polyline points="1062.9,1937.7 1197.7,1932.0 1332.4,1924.4 1467.2,1910.2" fill="none" stroke="#0080FF" stroke-width="2.1" stroke-linejoin="round"/>
<polygon points="1069.2,1937.7 1057.5,1931.4 1057.5,1944.0" fill="none" stroke="#0080FF" stroke-width="2.1" stroke-miterlimit="3"/>
<polygon points="1204.0,1932.0 1192.3,1925.7 1192.3,1938.3" fill="none" stroke="#0080FF" stroke-width="2.1" stroke-miterlimit="3"/>
<polygon points="1338.7,1924.4 1327.1,1918.1 1327.1,1930.7" fill="none" stroke="#0080FF" stroke-width="2.1" stroke-miterlimit="3"/>
<polygon points="1473.5,1910.2 1461.8,1903.9 1461.8,1916.5" fill="none" stroke="#0080FF" stroke-width="2.1" stroke-miterlimit="3"/>
<polyline points="1062.9,1937.7 1197.7,1925.2 1332.4,1887.5 1467.2,1783.5" fill="none" stroke="#00FF80" stroke-width="2.1" stroke-linejoin="round"/>
<polygon points="1062.9,1931.4 1069.2,1943.1 1056.6,1943.1" fill="none" stroke="#00FF80" stroke-width="2.1" stroke-miterlimit="3"/>
<polygon points="1197.7,1918.9 1204.0,1930.6 1191.4,1930.6" fill="none" stroke="#00FF80" stroke-width="2.1" stroke-miterlimit="3"/>
<polygon points="1332.4,1881.2 1338.7,1892.9 1326.1,1892.9" fill="none" stroke="#00FF80" stroke-width="2.1" stroke-miterlimit="3"/>
<polygon points="1467.2,1777.2 1473.5,1788.9 1460.9,1788.9" fill="none" stroke="#00FF80" stroke-width="2.1" stroke-miterlimit="3"/>
<polyline points="1062.9,1937.7 1197.7,1932.9 1332.4,1925.2 1467.2,1912.2" fill="none" stroke="#00FFFF" stroke-width="2.1" stroke-linejoin="round"/>
<path d="M1057.6 1937.7H1068.2M1062.9 1932.4V1943.0" stroke="#00FFFF" stroke-width="2.2"/>
<path d="M1192.4 1932.9H1203.0M1197.7 1927.6V1938.2" stroke="#00FFFF" stroke-width="2.2"/>
<path d="M1327.1 1925.2H1337.7M1332.4 1919.9V1930.5" stroke="#00FFFF" stroke-width="2.2"/>
<path d="M1461.9 1912.2H1472.5M1467.2 1906.9V1917.5" stroke="#00FFFF" stroke-width="2.2"/>
<polyline points="1062.9,1937.7 1197.7,1934.0 1332.4,1927.0 1467.2,1915.0" fill="none" stroke="#800080" stroke-width="2.1" stroke-linejoin="round"/>
<circle cx="1062.9" cy="1937.7" r="5.0" fill="none" stroke="#800080" stroke-width="2.1"/>
<circle cx="1197.7" cy="1934.0" r="5.0" fill="none" stroke="#800080" stroke-width="2.1"/>
<circle cx="1332.4" cy="1927.0" r="5.0" fill="none" stroke="#800080" stroke-width="2.1"/>
<circle cx="1467.2" cy="1915.0" r="5.0" fill="none" stroke="#800080" stroke-width="2.1"/>
<polyline points="1062.9,1937.7 1197.7,1935.0 1332.4,1928.0 1467.2,1916.0" fill="none" stroke="#8000FF" stroke-width="2.1" stroke-linejoin="round"/>
<rect x="1058.8" y="1933.6" width="8.2" height="8.2" fill="none" stroke="#8000FF" stroke-width="2.3"/>
<rect x="1193.6" y="1930.9" width="8.2" height="8.2" fill="none" stroke="#8000FF" stroke-width="2.3"/>
<rect x="1328.3" y="1923.9" width="8.2" height="8.2" fill="none" stroke="#8000FF" stroke-width="2.3"/>
<rect x="1463.1" y="1911.9" width="8.2" height="8.2" fill="none" stroke="#8000FF" stroke-width="2.3"/>
<polyline points="1062.9,1937.7 1197.7,1931.5 1332.4,1923.0 1467.2,1899.7" fill="none" stroke="#FF0080" stroke-width="2.1" stroke-linejoin="round"/>
<polygon points="1062.9,1931.7 1068.1,1937.7 1062.9,1943.7 1057.7,1937.7" fill="none" stroke="#FF0080" stroke-width="2.1"/>
<polygon points="1197.7,1925.5 1202.9,1931.5 1197.7,1937.5 1192.5,1931.5" fill="none" stroke="#FF0080" stroke-width="2.1"/>
<polygon points="1332.4,1917.0 1337.6,1923.0 1332.4,1929.0 1327.2,1923.0" fill="none" stroke="#FF0080" stroke-width="2.1"/>
<polygon points="1467.2,1893.7 1472.4,1899.7 1467.2,1905.7 1462.0,1899.7" fill="none" stroke="#FF0080" stroke-width="2.1"/>
<polyline points="1062.9,1937.7 1197.7,1935.5 1332.4,1929.0 1467.2,1916.5" fill="none" stroke="#FF00FF" stroke-width="2.1" stroke-linejoin="round"/>
<polygon points="1062.9,1930.8 1064.4,1935.8 1069.0,1935.9 1065.4,1939.1 1066.6,1944.2 1062.9,1941.2 1059.2,1944.2 1060.4,1939.1 1056.8,1935.9 1061.4,1935.8" fill="#FF00FF" stroke="#FF00FF" stroke-width="1.2" stroke-linejoin="round"/>
<polygon points="1197.7,1928.6 1199.2,1933.6 1203.7,1933.7 1200.1,1936.9 1201.4,1942.0 1197.7,1939.0 1193.9,1942.0 1195.2,1936.9 1191.6,1933.7 1196.2,1933.6" fill="#FF00FF" stroke="#FF00FF" stroke-width="1.2" stroke-linejoin="round"/>
<polygon points="1332.4,1922.1 1333.9,1927.1 1338.5,1927.2 1334.9,1930.4 1336.2,1935.5 1332.4,1932.5 1328.7,1935.5 1330.0,1930.4 1326.4,1927.2 1330.9,1927.1" fill="#FF00FF" stroke="#FF00FF" stroke-width="1.2" stroke-linejoin="round"/>
<polygon points="1467.2,1909.6 1468.7,1914.6 1473.3,1914.7 1469.7,1917.9 1470.9,1923.0 1467.2,1920.0 1463.5,1923.0 1464.7,1917.9 1461.1,1914.7 1465.7,1914.6" fill="#FF00FF" stroke="#FF00FF" stroke-width="1.2" stroke-linejoin="round"/>
<polyline points="1062.9,1937.7 1197.7,1935.0 1332.4,1928.5 1467.2,1914.0" fill="none" stroke="#FF6666" stroke-width="2.1" stroke-linejoin="round"/>
<polygon points="1062.9,1931.7 1064.6,1934.8 1068.1,1934.7 1066.3,1937.7 1068.1,1940.7 1064.6,1940.6 1062.9,1943.7 1061.2,1940.6 1057.7,1940.7 1059.5,1937.7 1057.7,1934.7 1061.2,1934.8" fill="none" stroke="#FF6666" stroke-width="2.0" stroke-linejoin="round"/>
<polygon points="1197.7,1929.0 1199.4,1932.1 1202.9,1932.0 1201.1,1935.0 1202.9,1938.0 1199.4,1937.9 1197.7,1941.0 1196.0,1937.9 1192.5,1938.0 1194.3,1935.0 1192.5,1932.0 1196.0,1932.1" fill="none" stroke="#FF6666" stroke-width="2.0" stroke-linejoin="round"/>
<polygon points="1332.4,1922.5 1334.1,1925.6 1337.6,1925.5 1335.8,1928.5 1337.6,1931.5 1334.1,1931.4 1332.4,1934.5 1330.7,1931.4 1327.2,1931.5 1329.0,1928.5 1327.2,1925.5 1330.7,1925.6" fill="none" stroke="#FF6666" stroke-width="2.0" stroke-linejoin="round"/>
<polygon points="1467.2,1908.0 1468.9,1911.1 1472.4,1911.0 1470.6,1914.0 1472.4,1917.0 1468.9,1916.9 1467.2,1920.0 1465.5,1916.9 1462.0,1917.0 1463.8,1914.0 1462.0,1911.0 1465.5,1911.1" fill="none" stroke="#FF6666" stroke-width="2.0" stroke-linejoin="round"/>
<polyline points="1062.9,1937.7 1197.7,1935.5 1332.4,1929.5 1467.2,1914.5" fill="none" stroke="#FF66FF" stroke-width="2.1" stroke-linejoin="round"/>
<polygon points="1062.9,1944.0 1069.2,1932.3 1056.6,1932.3" fill="none" stroke="#FF66FF" stroke-width="2.1" stroke-miterlimit="3"/>
<polygon points="1197.7,1941.8 1204.0,1930.1 1191.4,1930.1" fill="none" stroke="#FF66FF" stroke-width="2.1" stroke-miterlimit="3"/>
<polygon points="1332.4,1935.8 1338.7,1924.1 1326.1,1924.1" fill="none" stroke="#FF66FF" stroke-width="2.1" stroke-miterlimit="3"/>
<polygon points="1467.2,1920.8 1473.5,1909.1 1460.9,1909.1" fill="none" stroke="#FF66FF" stroke-width="2.1" stroke-miterlimit="3"/>
<polyline points="1062.9,1937.7 1197.7,1928.6 1332.4,1917.9 1467.2,1877.6" fill="none" stroke="#000000" stroke-width="2.1" stroke-linejoin="round"/>




<polyline points="1062.9,1937.7 1197.7,1929.2 1332.4,1919.6 1467.2,1882.7" fill="none" stroke="#80FF00" stroke-width="2.1" stroke-linejoin="round"/>
<circle cx="1062.9" cy="1937.7" r="5.0" fill="none" stroke="#80FF00" stroke-width="2.1"/>
<circle cx="1197.7" cy="1929.2" r="5.0" fill="none" stroke="#80FF00" stroke-width="2.1"/>
<circle cx="1332.4" cy="1919.6" r="5.0" fill="none" stroke="#80FF00" stroke-width="2.1"/>
<circle cx="1467.2" cy="1882.7" r="5.0" fill="none" stroke="#80FF00" stroke-width="2.1"/>
<polyline points="1062.9,1938.6 1197.7,1937.7 1332.4,1930.9 1467.2,1921.6" fill="none" stroke="#FF0000" stroke-width="3.6" stroke-dasharray="14.5,14.5" stroke-linejoin="round"/>
<path d="M1057.5 1933.2L1068.3 1944.0M1057.5 1944.0L1068.3 1933.2" stroke="#FF0000" stroke-width="3.1"/>
<path d="M1192.3 1932.3L1203.1 1943.1M1192.3 1943.1L1203.1 1932.3" stroke="#FF0000" stroke-width="3.1"/>
<path d="M1327.0 1925.5L1337.8 1936.3M1327.0 1936.3L1337.8 1925.5" stroke="#FF0000" stroke-width="3.1"/>
<path d="M1461.8 1916.2L1472.6 1927.0M1461.8 1927.0L1472.6 1916.2" stroke="#FF0000" stroke-width="3.1"/>
<text x="1263.8" y="1626.3" text-anchor="middle" class="ti">F19</text>
<rect x="1561.1" y="1639.6" width="404.4" height="299.0" fill="none" stroke="#000" stroke-width="2.0"/>
<path d="M1561.1 1938.6V1934.1M1561.1 1639.6V1644.1" stroke="#000" stroke-width="2"/>
<text x="1561.1" y="1966.3" text-anchor="middle" class="t">10</text>
<path d="M1695.9 1938.6V1934.1M1695.9 1639.6V1644.1" stroke="#000" stroke-width="2"/>
<text x="1695.9" y="1966.3" text-anchor="middle" class="t">30</text>
<path d="M1830.7 1938.6V1934.1M1830.7 1639.6V1644.1" stroke="#000" stroke-width="2"/>
<text x="1830.7" y="1966.3" text-anchor="middle" class="t">50</text>
<path d="M1965.5 1938.6V1934.1M1965.5 1639.6V1644.1" stroke="#000" stroke-width="2"/>
<text x="1965.5" y="1966.3" text-anchor="middle" class="t">100</text>
<path d="M1561.1 1679.8H1566.6M1965.5 1679.8H1960.0" stroke="#000" stroke-width="2"/>
<text x="1553.6" y="1692.4" text-anchor="end" class="t">10<tspan font-size="18.2" dy="-11.8">10</tspan></text>
<path d="M1561.1 1872.0H1566.6M1965.5 1872.0H1960.0" stroke="#000" stroke-width="2"/>
<text x="1553.6" y="1884.6" text-anchor="end" class="t">10<tspan font-size="18.2" dy="-11.8">5</tspan></text>
<path d="M1561.1 1910.4H1564.6M1965.5 1910.4H1962.0" stroke="#000" stroke-width="2"/>
<path d="M1561.1 1833.6H1564.6M1965.5 1833.6H1962.0" stroke="#000" stroke-width="2"/>
<path d="M1561.1 1795.1H1564.6M1965.5 1795.1H1962.0" stroke="#000" stroke-width="2"/>
<path d="M1561.1 1756.7H1564.6M1965.5 1756.7H1962.0" stroke="#000" stroke-width="2"/>
<path d="M1561.1 1718.2H1564.6M1965.5 1718.2H1962.0" stroke="#000" stroke-width="2"/>
<path d="M1561.1 1641.4H1564.6M1965.5 1641.4H1962.0" stroke="#000" stroke-width="2"/>
<polyline points="1561.1,1660.2 1695.9,1645.8 1830.7,1656.0 1965.5,1640.1" fill="none" stroke="#000080" stroke-width="2.1" stroke-linejoin="round"/>
<path d="M1555.5 1660.2H1566.7M1561.1 1654.6V1665.8M1557.1 1656.2L1565.1 1664.2M1557.1 1664.2L1565.1 1656.2" stroke="#000080" stroke-width="2.2"/>
<path d="M1690.3 1645.8H1701.5M1695.9 1640.2V1651.4M1691.9 1641.8L1699.9 1649.8M1691.9 1649.8L1699.9 1641.8" stroke="#000080" stroke-width="2.2"/>
<path d="M1825.1 1656.0H1836.3M1830.7 1650.4V1661.6M1826.7 1652.0L1834.7 1660.0M1826.7 1660.0L1834.7 1652.0" stroke="#000080" stroke-width="2.2"/>
<path d="M1959.9 1640.1H1971.1M1965.5 1634.5V1645.7M1961.5 1636.1L1969.5 1644.1M1961.5 1644.1L1969.5 1636.1" stroke="#000080" stroke-width="2.2"/>
<polyline points="1561.1,1931.5 1695.9,1826.6 1830.7,1815.3 1965.5,1779.0" fill="none" stroke="#0000FF" stroke-width="2.1" stroke-linejoin="round"/>
<path d="M1555.8 1931.5H1566.4M1561.1 1926.2V1936.8" stroke="#0000FF" stroke-width="2.2"/>
<path d="M1690.6 1826.6H1701.2M1695.9 1821.3V1831.9" stroke="#0000FF" stroke-width="2.2"/>
<path d="M1825.4 1815.3H1836.0M1830.7 1810.0V1820.6" stroke="#0000FF" stroke-width="2.2"/>
<path d="M1960.2 1779.0H1970.8M1965.5 1773.7V1784.3" stroke="#0000FF" stroke-width="2.2"/>
<polyline points="1561.1,1887.5 1695.9,1769.3 1830.7,1763.7 1965.5,1696.2" fill="none" stroke="#008080" stroke-width="2.1" stroke-linejoin="round"/>
<polygon points="1554.8,1887.5 1566.5,1881.2 1566.5,1893.8" fill="none" stroke="#008080" stroke-width="2.1" stroke-miterlimit="3"/>
<polygon points="1689.6,1769.3 1701.3,1763.0 1701.3,1775.6" fill="none" stroke="#008080" stroke-width="2.1" stroke-miterlimit="3"/>
<polygon points="1824.4,1763.7 1836.1,1757.4 1836.1,1770.0" fill="none" stroke="#008080" stroke-width="2.1" stroke-miterlimit="3"/>
<polygon points="1959.2,1696.2 1970.9,1689.9 1970.9,1702.5" fill="none" stroke="#008080" stroke-width="2.1" stroke-miterlimit="3"/>
<polyline points="1561.1,1932.9 1695.9,1840.2 1830.7,1839.3 1965.5,1802.5" fill="none" stroke="#0080FF" stroke-width="2.1" stroke-linejoin="round"/>
<polygon points="1567.4,1932.9 1555.7,1926.6 1555.7,1939.2" fill="none" stroke="#0080FF" stroke-width="2.1" stroke-miterlimit="3"/>
<polygon points="1702.2,1840.2 1690.5,1833.9 1690.5,1846.5" fill="none" stroke="#0080FF" stroke-width="2.1" stroke-miterlimit="3"/>
<polygon points="1837.0,1839.3 1825.3,1833.0 1825.3,1845.6" fill="none" stroke="#0080FF" stroke-width="2.1" stroke-miterlimit="3"/>
<polygon points="1971.8,1802.5 1960.1,1796.2 1960.1,1808.8" fill="none" stroke="#0080FF" stroke-width="2.1" stroke-miterlimit="3"/>
<polyline points="1561.1,1903.1 1695.9,1743.0 1830.7,1697.6 1965.5,1660.8" fill="none" stroke="#00FF80" stroke-width="2.1" stroke-linejoin="round"/>
<polygon points="1561.1,1896.8 1567.4,1908.5 1554.8,1908.5" fill="none" stroke="#00FF80" stroke-width="2.1" stroke-miterlimit="3"/>
<polygon points="1695.9,1736.7 1702.2,1748.4 1689.6,1748.4" fill="none" stroke="#00FF80" stroke-width="2.1" stroke-miterlimit="3"/>
<polygon points="1830.7,1691.3 1837.0,1703.0 1824.4,1703.0" fill="none" stroke="#00FF80" stroke-width="2.1" stroke-miterlimit="3"/>
<polygon points="1965.5,1654.5 1971.8,1666.2 1959.2,1666.2" fill="none" stroke="#00FF80" stroke-width="2.1" stroke-miterlimit="3"/>
<polyline points="1561.1,1920.1 1695.9,1805.3 1830.7,1793.2 1965.5,1777.0" fill="none" stroke="#00FFFF" stroke-width="2.1" stroke-linejoin="round"/>
<path d="M1555.8 1920.1H1566.4M1561.1 1914.8V1925.4" stroke="#00FFFF" stroke-width="2.2"/>
<path d="M1690.6 1805.3H1701.2M1695.9 1800.0V1810.6" stroke="#00FFFF" stroke-width="2.2"/>
<path d="M1825.4 1793.2H1836.0M1830.7 1787.9V1798.5" stroke="#00FFFF" stroke-width="2.2"/>
<path d="M1960.2 1777.0H1970.8M1965.5 1771.7V1782.3" stroke="#00FFFF" stroke-width="2.2"/>
<polyline points="1561.1,1891.2 1695.9,1830.8 1830.7,1791.2 1965.5,1737.3" fill="none" stroke="#800080" stroke-width="2.1" stroke-linejoin="round"/>
<circle cx="1561.1" cy="1891.2" r="5.0" fill="none" stroke="#800080" stroke-width="2.1"/>
<circle cx="1695.9" cy="1830.8" r="5.0" fill="none" stroke="#800080" stroke-width="2.1"/>
<circle cx="1830.7" cy="1791.2" r="5.0" fill="none" stroke="#800080" stroke-width="2.1"/>
<circle cx="1965.5" cy="1737.3" r="5.0" fill="none" stroke="#800080" stroke-width="2.1"/>
<polyline points="1561.1,1934.3 1695.9,1893.2 1830.7,1862.9 1965.5,1813.0" fill="none" stroke="#8000FF" stroke-width="2.1" stroke-linejoin="round"/>
<rect x="1557.0" y="1930.2" width="8.2" height="8.2" fill="none" stroke="#8000FF" stroke-width="2.3"/>
<rect x="1691.8" y="1889.1" width="8.2" height="8.2" fill="none" stroke="#8000FF" stroke-width="2.3"/>
<rect x="1826.6" y="1858.8" width="8.2" height="8.2" fill="none" stroke="#8000FF" stroke-width="2.3"/>
<rect x="1961.4" y="1808.9" width="8.2" height="8.2" fill="none" stroke="#8000FF" stroke-width="2.3"/>
<polyline points="1561.1,1904.5 1695.9,1829.4 1830.7,1759.1 1965.5,1709.0" fill="none" stroke="#FF0080" stroke-width="2.1" stroke-linejoin="round"/>
<polygon points="1561.1,1898.5 1566.3,1904.5 1561.1,1910.5 1555.9,1904.5" fill="none" stroke="#FF0080" stroke-width="2.1"/>
<polygon points="1695.9,1823.4 1701.1,1829.4 1695.9,1835.4 1690.7,1829.4" fill="none" stroke="#FF0080" stroke-width="2.1"/>
<polygon points="1830.7,1753.1 1835.9,1759.1 1830.7,1765.1 1825.5,1759.1" fill="none" stroke="#FF0080" stroke-width="2.1"/>
<polygon points="1965.5,1703.0 1970.7,1709.0 1965.5,1715.0 1960.3,1709.0" fill="none" stroke="#FF0080" stroke-width="2.1"/>
<polyline points="1561.1,1925.8 1695.9,1822.3 1830.7,1803.9 1965.5,1781.8" fill="none" stroke="#FF00FF" stroke-width="2.1" stroke-linejoin="round"/>
<polygon points="1561.1,1918.9 1562.6,1923.9 1567.2,1924.0 1563.6,1927.2 1564.8,1932.3 1561.1,1929.3 1557.4,1932.3 1558.6,1927.2 1555.0,1924.0 1559.6,1923.9" fill="#FF00FF" stroke="#FF00FF" stroke-width="1.2" stroke-linejoin="round"/>
<polygon points="1695.9,1815.4 1697.4,1820.4 1702.0,1820.5 1698.4,1823.7 1699.6,1828.8 1695.9,1825.8 1692.2,1828.8 1693.4,1823.7 1689.8,1820.5 1694.4,1820.4" fill="#FF00FF" stroke="#FF00FF" stroke-width="1.2" stroke-linejoin="round"/>
<polygon points="1830.7,1797.0 1832.2,1802.0 1836.8,1802.1 1833.2,1805.3 1834.4,1810.4 1830.7,1807.4 1827.0,1810.4 1828.2,1805.3 1824.6,1802.1 1829.2,1802.0" fill="#FF00FF" stroke="#FF00FF" stroke-width="1.2" stroke-linejoin="round"/>
<polygon points="1965.5,1774.9 1967.0,1779.9 1971.6,1780.0 1968.0,1783.2 1969.2,1788.3 1965.5,1785.3 1961.8,1788.3 1963.0,1783.2 1959.4,1780.0 1964.0,1779.9" fill="#FF00FF" stroke="#FF00FF" stroke-width="1.2" stroke-linejoin="round"/>
<polyline points="1561.1,1923.0 1695.9,1913.9 1830.7,1891.8 1965.5,1801.1" fill="none" stroke="#FF6666" stroke-width="2.1" stroke-linejoin="round"/>
<polygon points="1561.1,1917.0 1562.8,1920.1 1566.3,1920.0 1564.5,1923.0 1566.3,1926.0 1562.8,1925.9 1561.1,1929.0 1559.4,1925.9 1555.9,1926.0 1557.7,1923.0 1555.9,1920.0 1559.4,1920.1" fill="none" stroke="#FF6666" stroke-width="2.0" stroke-linejoin="round"/>
<polygon points="1695.9,1907.9 1697.6,1911.0 1701.1,1910.9 1699.3,1913.9 1701.1,1916.9 1697.6,1916.8 1695.9,1919.9 1694.2,1916.8 1690.7,1916.9 1692.5,1913.9 1690.7,1910.9 1694.2,1911.0" fill="none" stroke="#FF6666" stroke-width="2.0" stroke-linejoin="round"/>
<polygon points="1830.7,1885.8 1832.4,1888.9 1835.9,1888.8 1834.1,1891.8 1835.9,1894.8 1832.4,1894.7 1830.7,1897.8 1829.0,1894.7 1825.5,1894.8 1827.3,1891.8 1825.5,1888.8 1829.0,1888.9" fill="none" stroke="#FF6666" stroke-width="2.0" stroke-linejoin="round"/>
<polygon points="1965.5,1795.1 1967.2,1798.2 1970.7,1798.1 1968.9,1801.1 1970.7,1804.1 1967.2,1804.0 1965.5,1807.1 1963.8,1804.0 1960.3,1804.1 1962.1,1801.1 1960.3,1798.1 1963.8,1798.2" fill="none" stroke="#FF6666" stroke-width="2.0" stroke-linejoin="round"/>
<polyline points="1561.1,1903.1 1695.9,1894.6 1830.7,1899.7 1965.5,1893.2" fill="none" stroke="#FF66FF" stroke-width="2.1" stroke-linejoin="round"/>
<polygon points="1561.1,1909.4 1567.4,1897.7 1554.8,1897.7" fill="none" stroke="#FF66FF" stroke-width="2.1" stroke-miterlimit="3"/>
<polygon points="1695.9,1900.9 1702.2,1889.2 1689.6,1889.2" fill="none" stroke="#FF66FF" stroke-width="2.1" stroke-miterlimit="3"/>
<polygon points="1830.7,1906.0 1837.0,1894.3 1824.4,1894.3" fill="none" stroke="#FF66FF" stroke-width="2.1" stroke-miterlimit="3"/>
<polygon points="1965.5,1899.5 1971.8,1887.8 1959.2,1887.8" fill="none" stroke="#FF66FF" stroke-width="2.1" stroke-miterlimit="3"/>
<polyline points="1561.1,1903.1 1695.9,1752.3 1830.7,1724.6 1965.5,1689.1" fill="none" stroke="#000000" stroke-width="2.1" stroke-linejoin="round"/>




<polyline points="1561.1,1862.9 1695.9,1784.6 1830.7,1777.0 1965.5,1732.5" fill="none" stroke="#80FF00" stroke-width="2.1" stroke-linejoin="round"/>
<circle cx="1561.1" cy="1862.9" r="5.0" fill="none" stroke="#80FF00" stroke-width="2.1"/>
<circle cx="1695.9" cy="1784.6" r="5.0" fill="none" stroke="#80FF00" stroke-width="2.1"/>
<circle cx="1830.7" cy="1777.0" r="5.0" fill="none" stroke="#80FF00" stroke-width="2.1"/>
<circle cx="1965.5" cy="1732.5" r="5.0" fill="none" stroke="#80FF00" stroke-width="2.1"/>
<polyline points="1561.1,1937.7 1695.9,1908.2 1830.7,1878.2 1965.5,1850.7" fill="none" stroke="#FF0000" stroke-width="3.6" stroke-dasharray="14.5,14.5" stroke-linejoin="round"/>
<path d="M1555.7 1932.3L1566.5 1943.1M1555.7 1943.1L1566.5 1932.3" stroke="#FF0000" stroke-width="3.1"/>
<path d="M1690.5 1902.8L1701.3 1913.6M1690.5 1913.6L1701.3 1902.8" stroke="#FF0000" stroke-width="3.1"/>
<path d="M1825.3 1872.8L1836.1 1883.6M1825.3 1883.6L1836.1 1872.8" stroke="#FF0000" stroke-width="3.1"/>
<path d="M1960.1 1845.3L1970.9 1856.1M1960.1 1856.1L1970.9 1845.3" stroke="#FF0000" stroke-width="3.1"/>
<text x="1762.0" y="1626.0" text-anchor="middle" class="ti">F20</text>
<rect x="54.5" y="2017.9" width="404.4" height="302.1" fill="none" stroke="#000" stroke-width="2.0"/>
<path d="M54.5 2320.0V2315.5M54.5 2017.9V2022.4" stroke="#000" stroke-width="2"/>
<text x="54.5" y="2347.7" text-anchor="middle" class="t">10</text>
<path d="M189.3 2320.0V2315.5M189.3 2017.9V2022.4" stroke="#000" stroke-width="2"/>
<text x="189.3" y="2347.7" text-anchor="middle" class="t">30</text>
<path d="M324.1 2320.0V2315.5M324.1 2017.9V2022.4" stroke="#000" stroke-width="2"/>
<text x="324.1" y="2347.7" text-anchor="middle" class="t">50</text>
<path d="M458.9 2320.0V2315.5M458.9 2017.9V2022.4" stroke="#000" stroke-width="2"/>
<text x="458.9" y="2347.7" text-anchor="middle" class="t">100</text>
<path d="M54.5 2254.5H60.0M458.9 2254.5H453.4" stroke="#000" stroke-width="2"/>
<text x="47.0" y="2262.7" text-anchor="end" class="t">3000</text>
<path d="M54.5 2185.8H60.0M458.9 2185.8H453.4" stroke="#000" stroke-width="2"/>
<text x="47.0" y="2194.0" text-anchor="end" class="t">4000</text>
<path d="M54.5 2132.5H60.0M458.9 2132.5H453.4" stroke="#000" stroke-width="2"/>
<text x="47.0" y="2140.7" text-anchor="end" class="t">5000</text>
<path d="M54.5 2088.9H60.0M458.9 2088.9H453.4" stroke="#000" stroke-width="2"/>
<text x="47.0" y="2097.1" text-anchor="end" class="t">6000</text>
<path d="M54.5 2052.1H60.0M458.9 2052.1H453.4" stroke="#000" stroke-width="2"/>
<text x="47.0" y="2060.3" text-anchor="end" class="t">7000</text>
<path d="M54.5 2020.2H60.0M458.9 2020.2H453.4" stroke="#000" stroke-width="2"/>
<text x="47.0" y="2028.4" text-anchor="end" class="t">8000</text>
<path d="M54.5 2318.0H58.0M458.9 2318.0H455.4" stroke="#000" stroke-width="2"/>
<path d="M54.5 2307.8H58.0M458.9 2307.8H455.4" stroke="#000" stroke-width="2"/>
<path d="M54.5 2298.0H58.0M458.9 2298.0H455.4" stroke="#000" stroke-width="2"/>
<path d="M54.5 2288.7H58.0M458.9 2288.7H455.4" stroke="#000" stroke-width="2"/>
<path d="M54.5 2279.7H58.0M458.9 2279.7H455.4" stroke="#000" stroke-width="2"/>
<path d="M54.5 2271.0H58.0M458.9 2271.0H455.4" stroke="#000" stroke-width="2"/>
<path d="M54.5 2262.6H58.0M458.9 2262.6H455.4" stroke="#000" stroke-width="2"/>
<path d="M54.5 2246.7H58.0M458.9 2246.7H455.4" stroke="#000" stroke-width="2"/>
<path d="M54.5 2239.1H58.0M458.9 2239.1H455.4" stroke="#000" stroke-width="2"/>
<path d="M54.5 2231.7H58.0M458.9 2231.7H455.4" stroke="#000" stroke-width="2"/>
<path d="M54.5 2224.6H58.0M458.9 2224.6H455.4" stroke="#000" stroke-width="2"/>
<path d="M54.5 2217.7H58.0M458.9 2217.7H455.4" stroke="#000" stroke-width="2"/>
<path d="M54.5 2211.0H58.0M458.9 2211.0H455.4" stroke="#000" stroke-width="2"/>
<path d="M54.5 2204.4H58.0M458.9 2204.4H455.4" stroke="#000" stroke-width="2"/>
<path d="M54.5 2198.0H58.0M458.9 2198.0H455.4" stroke="#000" stroke-width="2"/>
<path d="M54.5 2191.8H58.0M458.9 2191.8H455.4" stroke="#000" stroke-width="2"/>
<path d="M54.5 2179.9H58.0M458.9 2179.9H455.4" stroke="#000" stroke-width="2"/>
<path d="M54.5 2174.1H58.0M458.9 2174.1H455.4" stroke="#000" stroke-width="2"/>
<path d="M54.5 2168.5H58.0M458.9 2168.5H455.4" stroke="#000" stroke-width="2"/>
<path d="M54.5 2163.0H58.0M458.9 2163.0H455.4" stroke="#000" stroke-width="2"/>
<path d="M54.5 2157.6H58.0M458.9 2157.6H455.4" stroke="#000" stroke-width="2"/>
<path d="M54.5 2152.4H58.0M458.9 2152.4H455.4" stroke="#000" stroke-width="2"/>
<path d="M54.5 2147.3H58.0M458.9 2147.3H455.4" stroke="#000" stroke-width="2"/>
<path d="M54.5 2142.2H58.0M458.9 2142.2H455.4" stroke="#000" stroke-width="2"/>
<path d="M54.5 2137.3H58.0M458.9 2137.3H455.4" stroke="#000" stroke-width="2"/>
<path d="M54.5 2127.8H58.0M458.9 2127.8H455.4" stroke="#000" stroke-width="2"/>
<path d="M54.5 2123.1H58.0M458.9 2123.1H455.4" stroke="#000" stroke-width="2"/>
<path d="M54.5 2118.6H58.0M458.9 2118.6H455.4" stroke="#000" stroke-width="2"/>
<path d="M54.5 2114.1H58.0M458.9 2114.1H455.4" stroke="#000" stroke-width="2"/>
<path d="M54.5 2109.7H58.0M458.9 2109.7H455.4" stroke="#000" stroke-width="2"/>
<path d="M54.5 2105.4H58.0M458.9 2105.4H455.4" stroke="#000" stroke-width="2"/>
<path d="M54.5 2101.2H58.0M458.9 2101.2H455.4" stroke="#000" stroke-width="2"/>
<path d="M54.5 2097.0H58.0M458.9 2097.0H455.4" stroke="#000" stroke-width="2"/>
<path d="M54.5 2092.9H58.0M458.9 2092.9H455.4" stroke="#000" stroke-width="2"/>
<path d="M54.5 2085.0H58.0M458.9 2085.0H455.4" stroke="#000" stroke-width="2"/>
<path d="M54.5 2081.1H58.0M458.9 2081.1H455.4" stroke="#000" stroke-width="2"/>
<path d="M54.5 2077.3H58.0M458.9 2077.3H455.4" stroke="#000" stroke-width="2"/>
<path d="M54.5 2073.5H58.0M458.9 2073.5H455.4" stroke="#000" stroke-width="2"/>
<path d="M54.5 2069.8H58.0M458.9 2069.8H455.4" stroke="#000" stroke-width="2"/>
<path d="M54.5 2066.2H58.0M458.9 2066.2H455.4" stroke="#000" stroke-width="2"/>
<path d="M54.5 2062.6H58.0M458.9 2062.6H455.4" stroke="#000" stroke-width="2"/>
<path d="M54.5 2059.0H58.0M458.9 2059.0H455.4" stroke="#000" stroke-width="2"/>
<path d="M54.5 2055.5H58.0M458.9 2055.5H455.4" stroke="#000" stroke-width="2"/>
<path d="M54.5 2048.7H58.0M458.9 2048.7H455.4" stroke="#000" stroke-width="2"/>
<path d="M54.5 2045.4H58.0M458.9 2045.4H455.4" stroke="#000" stroke-width="2"/>
<path d="M54.5 2042.1H58.0M458.9 2042.1H455.4" stroke="#000" stroke-width="2"/>
<path d="M54.5 2038.8H58.0M458.9 2038.8H455.4" stroke="#000" stroke-width="2"/>
<path d="M54.5 2035.6H58.0M458.9 2035.6H455.4" stroke="#000" stroke-width="2"/>
<path d="M54.5 2032.5H58.0M458.9 2032.5H455.4" stroke="#000" stroke-width="2"/>
<path d="M54.5 2029.3H58.0M458.9 2029.3H455.4" stroke="#000" stroke-width="2"/>
<path d="M54.5 2026.3H58.0M458.9 2026.3H455.4" stroke="#000" stroke-width="2"/>
<path d="M54.5 2023.2H58.0M458.9 2023.2H455.4" stroke="#000" stroke-width="2"/>
<polyline points="54.5,2273.8 189.3,2224.2 324.1,2150.5 458.9,2018.1" fill="none" stroke="#000080" stroke-width="2.1" stroke-linejoin="round"/>
<path d="M48.9 2273.8H60.1M54.5 2268.2V2279.4M50.5 2269.8L58.5 2277.8M50.5 2277.8L58.5 2269.8" stroke="#000080" stroke-width="2.2"/>
<path d="M183.7 2224.2H194.9M189.3 2218.6V2229.8M185.3 2220.2L193.3 2228.2M185.3 2228.2L193.3 2220.2" stroke="#000080" stroke-width="2.2"/>
<path d="M318.5 2150.5H329.7M324.1 2144.9V2156.1M320.1 2146.5L328.1 2154.5M320.1 2154.5L328.1 2146.5" stroke="#000080" stroke-width="2.2"/>
<path d="M453.3 2018.1H464.5M458.9 2012.5V2023.7M454.9 2014.1L462.9 2022.1M454.9 2022.1L462.9 2014.1" stroke="#000080" stroke-width="2.2"/>
<polyline points="54.5,2317.7 189.3,2305.0 324.1,2285.1 458.9,2225.0" fill="none" stroke="#0000FF" stroke-width="2.1" stroke-linejoin="round"/>
<path d="M49.2 2317.7H59.8M54.5 2312.4V2323.0" stroke="#0000FF" stroke-width="2.2"/>
<path d="M184.0 2305.0H194.6M189.3 2299.7V2310.3" stroke="#0000FF" stroke-width="2.2"/>
<path d="M318.8 2285.1H329.4M324.1 2279.8V2290.4" stroke="#0000FF" stroke-width="2.2"/>
<path d="M453.6 2225.0H464.2M458.9 2219.7V2230.3" stroke="#0000FF" stroke-width="2.2"/>
<polyline points="54.5,2313.5 189.3,2282.3 324.1,2249.7 458.9,2153.3" fill="none" stroke="#008080" stroke-width="2.1" stroke-linejoin="round"/>
<polygon points="48.2,2313.5 59.9,2307.2 59.9,2319.8" fill="none" stroke="#008080" stroke-width="2.1" stroke-miterlimit="3"/>
<polygon points="183.0,2282.3 194.7,2276.0 194.7,2288.6" fill="none" stroke="#008080" stroke-width="2.1" stroke-miterlimit="3"/>
<polygon points="317.8,2249.7 329.5,2243.4 329.5,2256.0" fill="none" stroke="#008080" stroke-width="2.1" stroke-miterlimit="3"/>
<polygon points="452.6,2153.3 464.3,2147.0 464.3,2159.6" fill="none" stroke="#008080" stroke-width="2.1" stroke-miterlimit="3"/>
<polyline points="54.5,2316.3 189.3,2302.1 324.1,2278.0 458.9,2219.9" fill="none" stroke="#0080FF" stroke-width="2.1" stroke-linejoin="round"/>
<polygon points="60.8,2316.3 49.1,2310.0 49.1,2322.6" fill="none" stroke="#0080FF" stroke-width="2.1" stroke-miterlimit="3"/>
<polygon points="195.6,2302.1 183.9,2295.8 183.9,2308.4" fill="none" stroke="#0080FF" stroke-width="2.1" stroke-miterlimit="3"/>
<polygon points="330.4,2278.0 318.7,2271.7 318.7,2284.3" fill="none" stroke="#0080FF" stroke-width="2.1" stroke-miterlimit="3"/>
<polygon points="465.2,2219.9 453.5,2213.6 453.5,2226.2" fill="none" stroke="#0080FF" stroke-width="2.1" stroke-miterlimit="3"/>
<polyline points="54.5,2308.4 189.3,2268.7 324.1,2223.3 458.9,2118.5" fill="none" stroke="#00FF80" stroke-width="2.1" stroke-linejoin="round"/>
<polygon points="54.5,2302.1 60.8,2313.8 48.2,2313.8" fill="none" stroke="#00FF80" stroke-width="2.1" stroke-miterlimit="3"/>
<polygon points="189.3,2262.4 195.6,2274.1 183.0,2274.1" fill="none" stroke="#00FF80" stroke-width="2.1" stroke-miterlimit="3"/>
<polygon points="324.1,2217.0 330.4,2228.7 317.8,2228.7" fill="none" stroke="#00FF80" stroke-width="2.1" stroke-miterlimit="3"/>
<polygon points="458.9,2112.2 465.2,2123.9 452.6,2123.9" fill="none" stroke="#00FF80" stroke-width="2.1" stroke-miterlimit="3"/>
<polyline points="54.5,2316.3 189.3,2300.7 324.1,2273.8 458.9,2199.5" fill="none" stroke="#00FFFF" stroke-width="2.1" stroke-linejoin="round"/>
<path d="M49.2 2316.3H59.8M54.5 2311.0V2321.6" stroke="#00FFFF" stroke-width="2.2"/>
<path d="M184.0 2300.7H194.6M189.3 2295.4V2306.0" stroke="#00FFFF" stroke-width="2.2"/>
<path d="M318.8 2273.8H329.4M324.1 2268.5V2279.1" stroke="#00FFFF" stroke-width="2.2"/>
<path d="M453.6 2199.5H464.2M458.9 2194.2V2204.8" stroke="#00FFFF" stroke-width="2.2"/>
<polyline points="54.5,2317.7 189.3,2306.4 324.1,2292.2 458.9,2251.0" fill="none" stroke="#800080" stroke-width="2.1" stroke-linejoin="round"/>
<circle cx="54.5" cy="2317.7" r="5.0" fill="none" stroke="#800080" stroke-width="2.1"/>
<circle cx="189.3" cy="2306.4" r="5.0" fill="none" stroke="#800080" stroke-width="2.1"/>
<circle cx="324.1" cy="2292.2" r="5.0" fill="none" stroke="#800080" stroke-width="2.1"/>
<circle cx="458.9" cy="2251.0" r="5.0" fill="none" stroke="#800080" stroke-width="2.1"/>
<polyline points="54.5,2318.6 189.3,2310.1 324.1,2299.3 458.9,2258.2" fill="none" stroke="#8000FF" stroke-width="2.1" stroke-linejoin="round"/>
<rect x="50.4" y="2314.5" width="8.2" height="8.2" fill="none" stroke="#8000FF" stroke-width="2.3"/>
<rect x="185.2" y="2306.0" width="8.2" height="8.2" fill="none" stroke="#8000FF" stroke-width="2.3"/>
<rect x="320.0" y="2295.2" width="8.2" height="8.2" fill="none" stroke="#8000FF" stroke-width="2.3"/>
<rect x="454.8" y="2254.1" width="8.2" height="8.2" fill="none" stroke="#8000FF" stroke-width="2.3"/>
<polyline points="54.5,2315.8 189.3,2299.3 324.1,2271.5 458.9,2197.3" fill="none" stroke="#FF0080" stroke-width="2.1" stroke-linejoin="round"/>
<polygon points="54.5,2309.8 59.7,2315.8 54.5,2321.8 49.3,2315.8" fill="none" stroke="#FF0080" stroke-width="2.1"/>
<polygon points="189.3,2293.3 194.5,2299.3 189.3,2305.3 184.1,2299.3" fill="none" stroke="#FF0080" stroke-width="2.1"/>
<polygon points="324.1,2265.5 329.3,2271.5 324.1,2277.5 318.9,2271.5" fill="none" stroke="#FF0080" stroke-width="2.1"/>
<polygon points="458.9,2191.3 464.1,2197.3 458.9,2203.3 453.7,2197.3" fill="none" stroke="#FF0080" stroke-width="2.1"/>
<polyline points="54.5,2316.3 189.3,2303.6 324.1,2289.4 458.9,2238.4" fill="none" stroke="#FF00FF" stroke-width="2.1" stroke-linejoin="round"/>
<polygon points="54.5,2309.4 56.0,2314.4 60.6,2314.5 57.0,2317.7 58.2,2322.8 54.5,2319.8 50.8,2322.8 52.0,2317.7 48.4,2314.5 53.0,2314.4" fill="#FF00FF" stroke="#FF00FF" stroke-width="1.2" stroke-linejoin="round"/>
<polygon points="189.3,2296.7 190.8,2301.7 195.4,2301.8 191.8,2305.0 193.0,2310.1 189.3,2307.1 185.6,2310.1 186.8,2305.0 183.2,2301.8 187.8,2301.7" fill="#FF00FF" stroke="#FF00FF" stroke-width="1.2" stroke-linejoin="round"/>
<polygon points="324.1,2282.5 325.6,2287.5 330.2,2287.6 326.6,2290.8 327.8,2295.9 324.1,2292.9 320.4,2295.9 321.6,2290.8 318.0,2287.6 322.6,2287.5" fill="#FF00FF" stroke="#FF00FF" stroke-width="1.2" stroke-linejoin="round"/>
<polygon points="458.9,2231.5 460.4,2236.5 465.0,2236.6 461.4,2239.8 462.6,2244.9 458.9,2241.9 455.2,2244.9 456.4,2239.8 452.8,2236.6 457.4,2236.5" fill="#FF00FF" stroke="#FF00FF" stroke-width="1.2" stroke-linejoin="round"/>
<polyline points="54.5,2316.3 189.3,2298.7 324.1,2276.0 458.9,2202.4" fill="none" stroke="#FF6666" stroke-width="2.1" stroke-linejoin="round"/>
<polygon points="54.5,2310.3 56.2,2313.4 59.7,2313.3 57.9,2316.3 59.7,2319.3 56.2,2319.2 54.5,2322.3 52.8,2319.2 49.3,2319.3 51.1,2316.3 49.3,2313.3 52.8,2313.4" fill="none" stroke="#FF6666" stroke-width="2.0" stroke-linejoin="round"/>
<polygon points="189.3,2292.7 191.0,2295.8 194.5,2295.7 192.7,2298.7 194.5,2301.7 191.0,2301.6 189.3,2304.7 187.6,2301.6 184.1,2301.7 185.9,2298.7 184.1,2295.7 187.6,2295.8" fill="none" stroke="#FF6666" stroke-width="2.0" stroke-linejoin="round"/>
<polygon points="324.1,2270.0 325.8,2273.1 329.3,2273.0 327.5,2276.0 329.3,2279.0 325.8,2278.9 324.1,2282.0 322.4,2278.9 318.9,2279.0 320.7,2276.0 318.9,2273.0 322.4,2273.1" fill="none" stroke="#FF6666" stroke-width="2.0" stroke-linejoin="round"/>
<polygon points="458.9,2196.4 460.6,2199.5 464.1,2199.4 462.3,2202.4 464.1,2205.4 460.6,2205.3 458.9,2208.4 457.2,2205.3 453.7,2205.4 455.5,2202.4 453.7,2199.4 457.2,2199.5" fill="none" stroke="#FF6666" stroke-width="2.0" stroke-linejoin="round"/>
<polyline points="54.5,2316.9 189.3,2305.0 324.1,2291.4 458.9,2248.3" fill="none" stroke="#FF66FF" stroke-width="2.1" stroke-linejoin="round"/>
<polygon points="54.5,2323.2 60.8,2311.5 48.2,2311.5" fill="none" stroke="#FF66FF" stroke-width="2.1" stroke-miterlimit="3"/>
<polygon points="189.3,2311.3 195.6,2299.6 183.0,2299.6" fill="none" stroke="#FF66FF" stroke-width="2.1" stroke-miterlimit="3"/>
<polygon points="324.1,2297.7 330.4,2286.0 317.8,2286.0" fill="none" stroke="#FF66FF" stroke-width="2.1" stroke-miterlimit="3"/>
<polygon points="458.9,2254.6 465.2,2242.9 452.6,2242.9" fill="none" stroke="#FF66FF" stroke-width="2.1" stroke-miterlimit="3"/>
<polyline points="54.5,2316.3 189.3,2288.0 324.1,2258.2 458.9,2175.2" fill="none" stroke="#000000" stroke-width="2.1" stroke-linejoin="round"/>




<polyline points="54.5,2313.5 189.3,2285.1 324.1,2249.7 458.9,2158.1" fill="none" stroke="#80FF00" stroke-width="2.1" stroke-linejoin="round"/>
<circle cx="54.5" cy="2313.5" r="5.0" fill="none" stroke="#80FF00" stroke-width="2.1"/>
<circle cx="189.3" cy="2285.1" r="5.0" fill="none" stroke="#80FF00" stroke-width="2.1"/>
<circle cx="324.1" cy="2249.7" r="5.0" fill="none" stroke="#80FF00" stroke-width="2.1"/>
<circle cx="458.9" cy="2158.1" r="5.0" fill="none" stroke="#80FF00" stroke-width="2.1"/>
<polyline points="54.5,2318.6 189.3,2314.9 324.1,2309.2 458.9,2290.2" fill="none" stroke="#FF0000" stroke-width="3.6" stroke-dasharray="14.5,14.5" stroke-linejoin="round"/>
<path d="M49.1 2313.2L59.9 2324.0M49.1 2324.0L59.9 2313.2" stroke="#FF0000" stroke-width="3.1"/>
<path d="M183.9 2309.5L194.7 2320.3M183.9 2320.3L194.7 2309.5" stroke="#FF0000" stroke-width="3.1"/>
<path d="M318.7 2303.8L329.5 2314.6M318.7 2314.6L329.5 2303.8" stroke="#FF0000" stroke-width="3.1"/>
<path d="M453.5 2284.8L464.3 2295.6M453.5 2295.6L464.3 2284.8" stroke="#FF0000" stroke-width="3.1"/>
<text x="255.4" y="2004.3" text-anchor="middle" class="ti">F21</text>
<rect x="554.7" y="2017.9" width="404.2" height="301.9" fill="none" stroke="#000" stroke-width="2.0"/>
<path d="M554.7 2319.8V2315.3M554.7 2017.9V2022.4" stroke="#000" stroke-width="2"/>
<text x="554.7" y="2347.5" text-anchor="middle" class="t">10</text>
<path d="M689.4 2319.8V2315.3M689.4 2017.9V2022.4" stroke="#000" stroke-width="2"/>
<text x="689.4" y="2347.5" text-anchor="middle" class="t">30</text>
<path d="M824.2 2319.8V2315.3M824.2 2017.9V2022.4" stroke="#000" stroke-width="2"/>
<text x="824.2" y="2347.5" text-anchor="middle" class="t">50</text>
<path d="M958.9 2319.8V2315.3M958.9 2017.9V2022.4" stroke="#000" stroke-width="2"/>
<text x="958.9" y="2347.5" text-anchor="middle" class="t">100</text>
<path d="M554.7 2017.9H560.2M958.9 2017.9H953.4" stroke="#000" stroke-width="2"/>
<text x="547.2" y="2030.5" text-anchor="end" class="t">10<tspan font-size="18.2" dy="-11.8">6</tspan></text>
<path d="M554.7 2118.5H560.2M958.9 2118.5H953.4" stroke="#000" stroke-width="2"/>
<text x="547.2" y="2131.1" text-anchor="end" class="t">10<tspan font-size="18.2" dy="-11.8">5</tspan></text>
<path d="M554.7 2219.2H560.2M958.9 2219.2H953.4" stroke="#000" stroke-width="2"/>
<text x="547.2" y="2231.8" text-anchor="end" class="t">10<tspan font-size="18.2" dy="-11.8">4</tspan></text>
<path d="M554.7 2319.8H560.2M958.9 2319.8H953.4" stroke="#000" stroke-width="2"/>
<text x="547.2" y="2332.4" text-anchor="end" class="t">10<tspan font-size="18.2" dy="-11.8">3</tspan></text>
<path d="M554.7 2289.5H558.2M958.9 2289.5H955.4" stroke="#000" stroke-width="2"/>
<path d="M554.7 2271.8H558.2M958.9 2271.8H955.4" stroke="#000" stroke-width="2"/>
<path d="M554.7 2259.2H558.2M958.9 2259.2H955.4" stroke="#000" stroke-width="2"/>
<path d="M554.7 2249.5H558.2M958.9 2249.5H955.4" stroke="#000" stroke-width="2"/>
<path d="M554.7 2241.5H558.2M958.9 2241.5H955.4" stroke="#000" stroke-width="2"/>
<path d="M554.7 2234.8H558.2M958.9 2234.8H955.4" stroke="#000" stroke-width="2"/>
<path d="M554.7 2228.9H558.2M958.9 2228.9H955.4" stroke="#000" stroke-width="2"/>
<path d="M554.7 2223.8H558.2M958.9 2223.8H955.4" stroke="#000" stroke-width="2"/>
<path d="M554.7 2188.9H558.2M958.9 2188.9H955.4" stroke="#000" stroke-width="2"/>
<path d="M554.7 2171.2H558.2M958.9 2171.2H955.4" stroke="#000" stroke-width="2"/>
<path d="M554.7 2158.6H558.2M958.9 2158.6H955.4" stroke="#000" stroke-width="2"/>
<path d="M554.7 2148.8H558.2M958.9 2148.8H955.4" stroke="#000" stroke-width="2"/>
<path d="M554.7 2140.9H558.2M958.9 2140.9H955.4" stroke="#000" stroke-width="2"/>
<path d="M554.7 2134.1H558.2M958.9 2134.1H955.4" stroke="#000" stroke-width="2"/>
<path d="M554.7 2128.3H558.2M958.9 2128.3H955.4" stroke="#000" stroke-width="2"/>
<path d="M554.7 2123.1H558.2M958.9 2123.1H955.4" stroke="#000" stroke-width="2"/>
<path d="M554.7 2088.2H558.2M958.9 2088.2H955.4" stroke="#000" stroke-width="2"/>
<path d="M554.7 2070.5H558.2M958.9 2070.5H955.4" stroke="#000" stroke-width="2"/>
<path d="M554.7 2058.0H558.2M958.9 2058.0H955.4" stroke="#000" stroke-width="2"/>
<path d="M554.7 2048.2H558.2M958.9 2048.2H955.4" stroke="#000" stroke-width="2"/>
<path d="M554.7 2040.2H558.2M958.9 2040.2H955.4" stroke="#000" stroke-width="2"/>
<path d="M554.7 2033.5H558.2M958.9 2033.5H955.4" stroke="#000" stroke-width="2"/>
<path d="M554.7 2027.7H558.2M958.9 2027.7H955.4" stroke="#000" stroke-width="2"/>
<path d="M554.7 2022.5H558.2M958.9 2022.5H955.4" stroke="#000" stroke-width="2"/>
<polyline points="554.7,2191.6 689.4,2142.6 824.2,2081.0 958.9,2047.6" fill="none" stroke="#000080" stroke-width="2.1" stroke-linejoin="round"/>
<path d="M549.1 2191.6H560.3M554.7 2186.0V2197.2M550.7 2187.6L558.7 2195.6M550.7 2195.6L558.7 2187.6" stroke="#000080" stroke-width="2.2"/>
<path d="M683.8 2142.6H695.0M689.4 2137.0V2148.2M685.4 2138.6L693.5 2146.6M685.4 2146.6L693.5 2138.6" stroke="#000080" stroke-width="2.2"/>
<path d="M818.6 2081.0H829.8M824.2 2075.4V2086.6M820.1 2077.0L828.2 2085.0M820.1 2085.0L828.2 2077.0" stroke="#000080" stroke-width="2.2"/>
<path d="M953.3 2047.6H964.5M958.9 2042.0V2053.2M954.9 2043.6L962.9 2051.6M954.9 2051.6L962.9 2043.6" stroke="#000080" stroke-width="2.2"/>
<polyline points="554.7,2272.4 689.4,2271.0 824.2,2259.6 958.9,2228.4" fill="none" stroke="#0000FF" stroke-width="2.1" stroke-linejoin="round"/>
<path d="M549.4 2272.4H560.0M554.7 2267.1V2277.7" stroke="#0000FF" stroke-width="2.2"/>
<path d="M684.1 2271.0H694.7M689.4 2265.7V2276.3" stroke="#0000FF" stroke-width="2.2"/>
<path d="M818.9 2259.6H829.5M824.2 2254.3V2264.9" stroke="#0000FF" stroke-width="2.2"/>
<path d="M953.6 2228.4H964.2M958.9 2223.1V2233.7" stroke="#0000FF" stroke-width="2.2"/>
<polyline points="554.7,2272.4 689.4,2263.9 824.2,2227.0 958.9,2185.9" fill="none" stroke="#008080" stroke-width="2.1" stroke-linejoin="round"/>
<polygon points="548.4,2272.4 560.1,2266.1 560.1,2278.7" fill="none" stroke="#008080" stroke-width="2.1" stroke-miterlimit="3"/>
<polygon points="683.1,2263.9 694.8,2257.6 694.8,2270.2" fill="none" stroke="#008080" stroke-width="2.1" stroke-miterlimit="3"/>
<polygon points="817.9,2227.0 829.5,2220.7 829.5,2233.3" fill="none" stroke="#008080" stroke-width="2.1" stroke-miterlimit="3"/>
<polygon points="952.6,2185.9 964.3,2179.6 964.3,2192.2" fill="none" stroke="#008080" stroke-width="2.1" stroke-miterlimit="3"/>
<polyline points="554.7,2272.4 689.4,2271.5 824.2,2266.7 958.9,2241.2" fill="none" stroke="#0080FF" stroke-width="2.1" stroke-linejoin="round"/>
<polygon points="561.0,2272.4 549.3,2266.1 549.3,2278.7" fill="none" stroke="#0080FF" stroke-width="2.1" stroke-miterlimit="3"/>
<polygon points="695.7,2271.5 684.1,2265.2 684.1,2277.8" fill="none" stroke="#0080FF" stroke-width="2.1" stroke-miterlimit="3"/>
<polygon points="830.5,2266.7 818.8,2260.4 818.8,2273.0" fill="none" stroke="#0080FF" stroke-width="2.1" stroke-miterlimit="3"/>
<polygon points="965.2,2241.2 953.5,2234.9 953.5,2247.5" fill="none" stroke="#0080FF" stroke-width="2.1" stroke-miterlimit="3"/>
<polyline points="554.7,2269.5 689.4,2240.3 824.2,2175.2 958.9,2117.3" fill="none" stroke="#00FF80" stroke-width="2.1" stroke-linejoin="round"/>
<polygon points="554.7,2263.2 561.0,2274.9 548.4,2274.9" fill="none" stroke="#00FF80" stroke-width="2.1" stroke-miterlimit="3"/>
<polygon points="689.4,2234.0 695.7,2245.7 683.1,2245.7" fill="none" stroke="#00FF80" stroke-width="2.1" stroke-miterlimit="3"/>
<polygon points="824.2,2168.9 830.5,2180.6 817.9,2180.6" fill="none" stroke="#00FF80" stroke-width="2.1" stroke-miterlimit="3"/>
<polygon points="958.9,2111.0 965.2,2122.7 952.6,2122.7" fill="none" stroke="#00FF80" stroke-width="2.1" stroke-miterlimit="3"/>
<polyline points="554.7,2272.4 689.4,2271.0 824.2,2262.5 958.9,2219.9" fill="none" stroke="#00FFFF" stroke-width="2.1" stroke-linejoin="round"/>
<path d="M549.4 2272.4H560.0M554.7 2267.1V2277.7" stroke="#00FFFF" stroke-width="2.2"/>
<path d="M684.1 2271.0H694.7M689.4 2265.7V2276.3" stroke="#00FFFF" stroke-width="2.2"/>
<path d="M818.9 2262.5H829.5M824.2 2257.2V2267.8" stroke="#00FFFF" stroke-width="2.2"/>
<path d="M953.6 2219.9H964.2M958.9 2214.6V2225.2" stroke="#00FFFF" stroke-width="2.2"/>
<polyline points="554.7,2272.4 689.4,2270.4 824.2,2260.2 958.9,2233.5" fill="none" stroke="#800080" stroke-width="2.1" stroke-linejoin="round"/>
<circle cx="554.7" cy="2272.4" r="5.0" fill="none" stroke="#800080" stroke-width="2.1"/>
<circle cx="689.4" cy="2270.4" r="5.0" fill="none" stroke="#800080" stroke-width="2.1"/>
<circle cx="824.2" cy="2260.2" r="5.0" fill="none" stroke="#800080" stroke-width="2.1"/>
<circle cx="958.9" cy="2233.5" r="5.0" fill="none" stroke="#800080" stroke-width="2.1"/>
<polyline points="554.7,2272.4 689.4,2271.5 824.2,2267.6 958.9,2249.7" fill="none" stroke="#8000FF" stroke-width="2.1" stroke-linejoin="round"/>
<rect x="550.6" y="2268.3" width="8.2" height="8.2" fill="none" stroke="#8000FF" stroke-width="2.3"/>
<rect x="685.3" y="2267.4" width="8.2" height="8.2" fill="none" stroke="#8000FF" stroke-width="2.3"/>
<rect x="820.1" y="2263.5" width="8.2" height="8.2" fill="none" stroke="#8000FF" stroke-width="2.3"/>
<rect x="954.8" y="2245.6" width="8.2" height="8.2" fill="none" stroke="#8000FF" stroke-width="2.3"/>
<polyline points="554.7,2272.4 689.4,2269.5 824.2,2244.0 958.9,2195.8" fill="none" stroke="#FF0080" stroke-width="2.1" stroke-linejoin="round"/>
<polygon points="554.7,2266.4 559.9,2272.4 554.7,2278.4 549.5,2272.4" fill="none" stroke="#FF0080" stroke-width="2.1"/>
<polygon points="689.4,2263.5 694.6,2269.5 689.4,2275.5 684.2,2269.5" fill="none" stroke="#FF0080" stroke-width="2.1"/>
<polygon points="824.2,2238.0 829.4,2244.0 824.2,2250.0 819.0,2244.0" fill="none" stroke="#FF0080" stroke-width="2.1"/>
<polygon points="958.9,2189.8 964.1,2195.8 958.9,2201.8 953.7,2195.8" fill="none" stroke="#FF0080" stroke-width="2.1"/>
<polyline points="554.7,2272.4 689.4,2272.4 824.2,2269.5 958.9,2265.3" fill="none" stroke="#FF00FF" stroke-width="2.1" stroke-linejoin="round"/>
<polygon points="554.7,2265.5 556.2,2270.5 560.8,2270.6 557.2,2273.8 558.4,2278.9 554.7,2275.9 551.0,2278.9 552.2,2273.8 548.6,2270.6 553.2,2270.5" fill="#FF00FF" stroke="#FF00FF" stroke-width="1.2" stroke-linejoin="round"/>
<polygon points="689.4,2265.5 690.9,2270.5 695.5,2270.6 691.9,2273.8 693.2,2278.9 689.4,2275.9 685.7,2278.9 687.0,2273.8 683.4,2270.6 687.9,2270.5" fill="#FF00FF" stroke="#FF00FF" stroke-width="1.2" stroke-linejoin="round"/>
<polygon points="824.2,2262.6 825.7,2267.6 830.2,2267.7 826.6,2270.9 827.9,2276.0 824.2,2273.0 820.4,2276.0 821.7,2270.9 818.1,2267.7 822.7,2267.6" fill="#FF00FF" stroke="#FF00FF" stroke-width="1.2" stroke-linejoin="round"/>
<polygon points="958.9,2258.4 960.4,2263.4 965.0,2263.5 961.4,2266.7 962.6,2271.8 958.9,2268.8 955.2,2271.8 956.4,2266.7 952.8,2263.5 957.4,2263.4" fill="#FF00FF" stroke="#FF00FF" stroke-width="1.2" stroke-linejoin="round"/>
<polyline points="554.7,2272.4 689.4,2272.4 824.2,2269.5 958.9,2265.3" fill="none" stroke="#FF6666" stroke-width="2.1" stroke-linejoin="round"/>
<polygon points="554.7,2266.4 556.4,2269.5 559.9,2269.4 558.1,2272.4 559.9,2275.4 556.4,2275.3 554.7,2278.4 553.0,2275.3 549.5,2275.4 551.3,2272.4 549.5,2269.4 553.0,2269.5" fill="none" stroke="#FF6666" stroke-width="2.0" stroke-linejoin="round"/>
<polygon points="689.4,2266.4 691.1,2269.5 694.6,2269.4 692.8,2272.4 694.6,2275.4 691.1,2275.3 689.4,2278.4 687.7,2275.3 684.2,2275.4 686.0,2272.4 684.2,2269.4 687.7,2269.5" fill="none" stroke="#FF6666" stroke-width="2.0" stroke-linejoin="round"/>
<polygon points="824.2,2263.5 825.9,2266.6 829.4,2266.5 827.6,2269.5 829.4,2272.5 825.9,2272.4 824.2,2275.5 822.5,2272.4 819.0,2272.5 820.8,2269.5 819.0,2266.5 822.5,2266.6" fill="none" stroke="#FF6666" stroke-width="2.0" stroke-linejoin="round"/>
<polygon points="958.9,2259.3 960.6,2262.4 964.1,2262.3 962.3,2265.3 964.1,2268.3 960.6,2268.2 958.9,2271.3 957.2,2268.2 953.7,2268.3 955.5,2265.3 953.7,2262.3 957.2,2262.4" fill="none" stroke="#FF6666" stroke-width="2.0" stroke-linejoin="round"/>
<polyline points="554.7,2272.4 689.4,2272.4 824.2,2270.0 958.9,2266.0" fill="none" stroke="#FF66FF" stroke-width="2.1" stroke-linejoin="round"/>
<polygon points="554.7,2278.7 561.0,2267.0 548.4,2267.0" fill="none" stroke="#FF66FF" stroke-width="2.1" stroke-miterlimit="3"/>
<polygon points="689.4,2278.7 695.7,2267.0 683.1,2267.0" fill="none" stroke="#FF66FF" stroke-width="2.1" stroke-miterlimit="3"/>
<polygon points="824.2,2276.3 830.5,2264.6 817.9,2264.6" fill="none" stroke="#FF66FF" stroke-width="2.1" stroke-miterlimit="3"/>
<polygon points="958.9,2272.3 965.2,2260.6 952.6,2260.6" fill="none" stroke="#FF66FF" stroke-width="2.1" stroke-miterlimit="3"/>
<polyline points="554.7,2272.4 689.4,2264.7 824.2,2221.4 958.9,2183.1" fill="none" stroke="#000000" stroke-width="2.1" stroke-linejoin="round"/>




<polyline points="554.7,2272.4 689.4,2268.1 824.2,2246.9 958.9,2215.7" fill="none" stroke="#80FF00" stroke-width="2.1" stroke-linejoin="round"/>
<circle cx="554.7" cy="2272.4" r="5.0" fill="none" stroke="#80FF00" stroke-width="2.1"/>
<circle cx="689.4" cy="2268.1" r="5.0" fill="none" stroke="#80FF00" stroke-width="2.1"/>
<circle cx="824.2" cy="2246.9" r="5.0" fill="none" stroke="#80FF00" stroke-width="2.1"/>
<circle cx="958.9" cy="2215.7" r="5.0" fill="none" stroke="#80FF00" stroke-width="2.1"/>
<polyline points="554.7,2273.8 689.4,2273.2 824.2,2272.4 958.9,2266.7" fill="none" stroke="#FF0000" stroke-width="3.6" stroke-dasharray="14.5,14.5" stroke-linejoin="round"/>
<path d="M549.3 2268.4L560.1 2279.2M549.3 2279.2L560.1 2268.4" stroke="#FF0000" stroke-width="3.1"/>
<path d="M684.0 2267.8L694.8 2278.6M684.0 2278.6L694.8 2267.8" stroke="#FF0000" stroke-width="3.1"/>
<path d="M818.8 2267.0L829.6 2277.8M818.8 2277.8L829.6 2267.0" stroke="#FF0000" stroke-width="3.1"/>
<path d="M953.5 2261.3L964.3 2272.1M953.5 2272.1L964.3 2261.3" stroke="#FF0000" stroke-width="3.1"/>
<text x="755.5" y="2004.3" text-anchor="middle" class="ti">F22</text>
<rect x="1063.1" y="2014.6" width="403.9" height="301.8" fill="none" stroke="#000" stroke-width="2.0"/>
<path d="M1063.1 2316.4V2311.9M1063.1 2014.6V2019.1" stroke="#000" stroke-width="2"/>
<text x="1063.1" y="2344.1" text-anchor="middle" class="t">10</text>
<path d="M1197.7 2316.4V2311.9M1197.7 2014.6V2019.1" stroke="#000" stroke-width="2"/>
<text x="1197.7" y="2344.1" text-anchor="middle" class="t">30</text>
<path d="M1332.4 2316.4V2311.9M1332.4 2014.6V2019.1" stroke="#000" stroke-width="2"/>
<text x="1332.4" y="2344.1" text-anchor="middle" class="t">50</text>
<path d="M1467.0 2316.4V2311.9M1467.0 2014.6V2019.1" stroke="#000" stroke-width="2"/>
<text x="1467.0" y="2344.1" text-anchor="middle" class="t">100</text>
<path d="M1063.1 2252.5H1068.6M1467.0 2252.5H1461.5" stroke="#000" stroke-width="2"/>
<text x="1055.6" y="2260.7" text-anchor="end" class="t">0.5</text>
<path d="M1063.1 2161.0H1068.6M1467.0 2161.0H1461.5" stroke="#000" stroke-width="2"/>
<text x="1055.6" y="2169.2" text-anchor="end" class="t">1</text>
<path d="M1063.1 2107.5H1068.6M1467.0 2107.5H1461.5" stroke="#000" stroke-width="2"/>
<text x="1055.6" y="2115.7" text-anchor="end" class="t">1.5</text>
<path d="M1063.1 2069.5H1068.6M1467.0 2069.5H1461.5" stroke="#000" stroke-width="2"/>
<text x="1055.6" y="2077.7" text-anchor="end" class="t">2</text>
<path d="M1063.1 2040.0H1068.6M1467.0 2040.0H1461.5" stroke="#000" stroke-width="2"/>
<text x="1055.6" y="2048.2" text-anchor="end" class="t">2.5</text>
<path d="M1063.1 2015.9H1068.6M1467.0 2015.9H1461.5" stroke="#000" stroke-width="2"/>
<text x="1055.6" y="2024.1" text-anchor="end" class="t">3</text>
<path d="M1063.1 2282.0H1066.6M1467.0 2282.0H1463.5" stroke="#000" stroke-width="2"/>
<path d="M1063.1 2228.4H1066.6M1467.0 2228.4H1463.5" stroke="#000" stroke-width="2"/>
<path d="M1063.1 2208.1H1066.6M1467.0 2208.1H1463.5" stroke="#000" stroke-width="2"/>
<path d="M1063.1 2190.4H1066.6M1467.0 2190.4H1463.5" stroke="#000" stroke-width="2"/>
<path d="M1063.1 2174.9H1066.6M1467.0 2174.9H1463.5" stroke="#000" stroke-width="2"/>
<path d="M1063.1 2148.4H1066.6M1467.0 2148.4H1463.5" stroke="#000" stroke-width="2"/>
<path d="M1063.1 2136.9H1066.6M1467.0 2136.9H1463.5" stroke="#000" stroke-width="2"/>
<path d="M1063.1 2126.3H1066.6M1467.0 2126.3H1463.5" stroke="#000" stroke-width="2"/>
<path d="M1063.1 2116.6H1066.6M1467.0 2116.6H1463.5" stroke="#000" stroke-width="2"/>
<path d="M1063.1 2098.9H1066.6M1467.0 2098.9H1463.5" stroke="#000" stroke-width="2"/>
<path d="M1063.1 2090.9H1066.6M1467.0 2090.9H1463.5" stroke="#000" stroke-width="2"/>
<path d="M1063.1 2083.4H1066.6M1467.0 2083.4H1463.5" stroke="#000" stroke-width="2"/>
<path d="M1063.1 2076.2H1066.6M1467.0 2076.2H1463.5" stroke="#000" stroke-width="2"/>
<path d="M1063.1 2063.0H1066.6M1467.0 2063.0H1463.5" stroke="#000" stroke-width="2"/>
<path d="M1063.1 2056.9H1066.6M1467.0 2056.9H1463.5" stroke="#000" stroke-width="2"/>
<path d="M1063.1 2051.0H1066.6M1467.0 2051.0H1463.5" stroke="#000" stroke-width="2"/>
<path d="M1063.1 2045.4H1066.6M1467.0 2045.4H1463.5" stroke="#000" stroke-width="2"/>
<path d="M1063.1 2034.8H1066.6M1467.0 2034.8H1463.5" stroke="#000" stroke-width="2"/>
<path d="M1063.1 2029.9H1066.6M1467.0 2029.9H1463.5" stroke="#000" stroke-width="2"/>
<path d="M1063.1 2025.1H1066.6M1467.0 2025.1H1463.5" stroke="#000" stroke-width="2"/>
<path d="M1063.1 2020.4H1066.6M1467.0 2020.4H1463.5" stroke="#000" stroke-width="2"/>
<polyline points="1063.1,2158.1 1197.7,2161.0 1332.4,2014.4 1467.0,2024.9" fill="none" stroke="#000080" stroke-width="2.1" stroke-linejoin="round"/>
<path d="M1057.5 2158.1H1068.7M1063.1 2152.5V2163.7M1059.1 2154.1L1067.1 2162.1M1059.1 2162.1L1067.1 2154.1" stroke="#000080" stroke-width="2.2"/>
<path d="M1192.1 2161.0H1203.3M1197.7 2155.4V2166.6M1193.7 2157.0L1201.8 2165.0M1193.7 2165.0L1201.8 2157.0" stroke="#000080" stroke-width="2.2"/>
<path d="M1326.8 2014.4H1338.0M1332.4 2008.8V2020.0M1328.3 2010.4L1336.4 2018.4M1328.3 2018.4L1336.4 2010.4" stroke="#000080" stroke-width="2.2"/>
<path d="M1461.4 2024.9H1472.6M1467.0 2019.3V2030.5M1463.0 2020.9L1471.0 2028.9M1463.0 2028.9L1471.0 2020.9" stroke="#000080" stroke-width="2.2"/>
<polyline points="1063.1,2314.9 1197.7,2307.8 1332.4,2284.6 1467.0,2255.4" fill="none" stroke="#0000FF" stroke-width="2.1" stroke-linejoin="round"/>
<path d="M1057.8 2314.9H1068.4M1063.1 2309.6V2320.2" stroke="#0000FF" stroke-width="2.2"/>
<path d="M1192.4 2307.8H1203.0M1197.7 2302.5V2313.1" stroke="#0000FF" stroke-width="2.2"/>
<path d="M1327.1 2284.6H1337.7M1332.4 2279.3V2289.9" stroke="#0000FF" stroke-width="2.2"/>
<path d="M1461.7 2255.4H1472.3M1467.0 2250.1V2260.7" stroke="#0000FF" stroke-width="2.2"/>
<polyline points="1063.1,2313.5 1197.7,2295.9 1332.4,2263.0 1467.0,2197.3" fill="none" stroke="#008080" stroke-width="2.1" stroke-linejoin="round"/>
<polygon points="1056.8,2313.5 1068.5,2307.2 1068.5,2319.8" fill="none" stroke="#008080" stroke-width="2.1" stroke-miterlimit="3"/>
<polygon points="1191.4,2295.9 1203.1,2289.6 1203.1,2302.2" fill="none" stroke="#008080" stroke-width="2.1" stroke-miterlimit="3"/>
<polygon points="1326.1,2263.0 1337.7,2256.7 1337.7,2269.3" fill="none" stroke="#008080" stroke-width="2.1" stroke-miterlimit="3"/>
<polygon points="1460.7,2197.3 1472.4,2191.0 1472.4,2203.6" fill="none" stroke="#008080" stroke-width="2.1" stroke-miterlimit="3"/>
<polyline points="1063.1,2314.9 1197.7,2308.4 1332.4,2295.0 1467.0,2271.0" fill="none" stroke="#0080FF" stroke-width="2.1" stroke-linejoin="round"/>
<polygon points="1069.4,2314.9 1057.7,2308.6 1057.7,2321.2" fill="none" stroke="#0080FF" stroke-width="2.1" stroke-miterlimit="3"/>
<polygon points="1204.0,2308.4 1192.4,2302.1 1192.4,2314.7" fill="none" stroke="#0080FF" stroke-width="2.1" stroke-miterlimit="3"/>
<polygon points="1338.7,2295.0 1327.0,2288.7 1327.0,2301.3" fill="none" stroke="#0080FF" stroke-width="2.1" stroke-miterlimit="3"/>
<polygon points="1473.3,2271.0 1461.6,2264.7 1461.6,2277.3" fill="none" stroke="#0080FF" stroke-width="2.1" stroke-miterlimit="3"/>
<polyline points="1063.1,2307.2 1197.7,2268.7 1332.4,2210.0 1467.0,2113.6" fill="none" stroke="#00FF80" stroke-width="2.1" stroke-linejoin="round"/>
<polygon points="1063.1,2300.9 1069.4,2312.6 1056.8,2312.6" fill="none" stroke="#00FF80" stroke-width="2.1" stroke-miterlimit="3"/>
<polygon points="1197.7,2262.4 1204.0,2274.1 1191.4,2274.1" fill="none" stroke="#00FF80" stroke-width="2.1" stroke-miterlimit="3"/>
<polygon points="1332.4,2203.7 1338.7,2215.4 1326.1,2215.4" fill="none" stroke="#00FF80" stroke-width="2.1" stroke-miterlimit="3"/>
<polygon points="1467.0,2107.3 1473.3,2119.0 1460.7,2119.0" fill="none" stroke="#00FF80" stroke-width="2.1" stroke-miterlimit="3"/>
<polyline points="1063.1,2314.9 1197.7,2309.2 1332.4,2296.5 1467.0,2275.2" fill="none" stroke="#00FFFF" stroke-width="2.1" stroke-linejoin="round"/>
<path d="M1057.8 2314.9H1068.4M1063.1 2309.6V2320.2" stroke="#00FFFF" stroke-width="2.2"/>
<path d="M1192.4 2309.2H1203.0M1197.7 2303.9V2314.5" stroke="#00FFFF" stroke-width="2.2"/>
<path d="M1327.1 2296.5H1337.7M1332.4 2291.2V2301.8" stroke="#00FFFF" stroke-width="2.2"/>
<path d="M1461.7 2275.2H1472.3M1467.0 2269.9V2280.5" stroke="#00FFFF" stroke-width="2.2"/>
<polyline points="1063.1,2314.9 1197.7,2309.2 1332.4,2290.2 1467.0,2272.4" fill="none" stroke="#800080" stroke-width="2.1" stroke-linejoin="round"/>
<circle cx="1063.1" cy="2314.9" r="5.0" fill="none" stroke="#800080" stroke-width="2.1"/>
<circle cx="1197.7" cy="2309.2" r="5.0" fill="none" stroke="#800080" stroke-width="2.1"/>
<circle cx="1332.4" cy="2290.2" r="5.0" fill="none" stroke="#800080" stroke-width="2.1"/>
<circle cx="1467.0" cy="2272.4" r="5.0" fill="none" stroke="#800080" stroke-width="2.1"/>
<polyline points="1063.1,2316.3 1197.7,2312.0 1332.4,2305.0 1467.0,2293.6" fill="none" stroke="#8000FF" stroke-width="2.1" stroke-linejoin="round"/>
<rect x="1059.0" y="2312.2" width="8.2" height="8.2" fill="none" stroke="#8000FF" stroke-width="2.3"/>
<rect x="1193.6" y="2307.9" width="8.2" height="8.2" fill="none" stroke="#8000FF" stroke-width="2.3"/>
<rect x="1328.3" y="2300.9" width="8.2" height="8.2" fill="none" stroke="#8000FF" stroke-width="2.3"/>
<rect x="1462.9" y="2289.5" width="8.2" height="8.2" fill="none" stroke="#8000FF" stroke-width="2.3"/>
<polyline points="1063.1,2314.9 1197.7,2309.2 1332.4,2295.0 1467.0,2278.9" fill="none" stroke="#FF0080" stroke-width="2.1" stroke-linejoin="round"/>
<polygon points="1063.1,2308.9 1068.3,2314.9 1063.1,2320.9 1057.9,2314.9" fill="none" stroke="#FF0080" stroke-width="2.1"/>
<polygon points="1197.7,2303.2 1202.9,2309.2 1197.7,2315.2 1192.5,2309.2" fill="none" stroke="#FF0080" stroke-width="2.1"/>
<polygon points="1332.4,2289.0 1337.6,2295.0 1332.4,2301.0 1327.2,2295.0" fill="none" stroke="#FF0080" stroke-width="2.1"/>
<polygon points="1467.0,2272.9 1472.2,2278.9 1467.0,2284.9 1461.8,2278.9" fill="none" stroke="#FF0080" stroke-width="2.1"/>
<polyline points="1063.1,2315.8 1197.7,2310.1 1332.4,2300.7 1467.0,2290.8" fill="none" stroke="#FF00FF" stroke-width="2.1" stroke-linejoin="round"/>
<polygon points="1063.1,2308.9 1064.6,2313.9 1069.2,2314.0 1065.6,2317.2 1066.8,2322.3 1063.1,2319.3 1059.4,2322.3 1060.6,2317.2 1057.0,2314.0 1061.6,2313.9" fill="#FF00FF" stroke="#FF00FF" stroke-width="1.2" stroke-linejoin="round"/>
<polygon points="1197.7,2303.2 1199.2,2308.2 1203.8,2308.3 1200.2,2311.5 1201.5,2316.6 1197.7,2313.6 1194.0,2316.6 1195.3,2311.5 1191.7,2308.3 1196.2,2308.2" fill="#FF00FF" stroke="#FF00FF" stroke-width="1.2" stroke-linejoin="round"/>
<polygon points="1332.4,2293.8 1333.9,2298.8 1338.4,2298.9 1334.8,2302.1 1336.1,2307.2 1332.4,2304.2 1328.6,2307.2 1329.9,2302.1 1326.3,2298.9 1330.9,2298.8" fill="#FF00FF" stroke="#FF00FF" stroke-width="1.2" stroke-linejoin="round"/>
<polygon points="1467.0,2283.9 1468.5,2288.9 1473.1,2289.0 1469.5,2292.2 1470.7,2297.3 1467.0,2294.3 1463.3,2297.3 1464.5,2292.2 1460.9,2289.0 1465.5,2288.9" fill="#FF00FF" stroke="#FF00FF" stroke-width="1.2" stroke-linejoin="round"/>
<polyline points="1063.1,2312.0 1197.7,2302.1 1332.4,2267.6 1467.0,2275.2" fill="none" stroke="#FF6666" stroke-width="2.1" stroke-linejoin="round"/>
<polygon points="1063.1,2306.0 1064.8,2309.1 1068.3,2309.0 1066.5,2312.0 1068.3,2315.0 1064.8,2314.9 1063.1,2318.0 1061.4,2314.9 1057.9,2315.0 1059.7,2312.0 1057.9,2309.0 1061.4,2309.1" fill="none" stroke="#FF6666" stroke-width="2.0" stroke-linejoin="round"/>
<polygon points="1197.7,2296.1 1199.4,2299.2 1202.9,2299.1 1201.1,2302.1 1202.9,2305.1 1199.4,2305.0 1197.7,2308.1 1196.0,2305.0 1192.5,2305.1 1194.3,2302.1 1192.5,2299.1 1196.0,2299.2" fill="none" stroke="#FF6666" stroke-width="2.0" stroke-linejoin="round"/>
<polygon points="1332.4,2261.6 1334.1,2264.7 1337.6,2264.6 1335.8,2267.6 1337.6,2270.6 1334.1,2270.5 1332.4,2273.6 1330.7,2270.5 1327.2,2270.6 1329.0,2267.6 1327.2,2264.6 1330.7,2264.7" fill="none" stroke="#FF6666" stroke-width="2.0" stroke-linejoin="round"/>
<polygon points="1467.0,2269.2 1468.7,2272.3 1472.2,2272.2 1470.4,2275.2 1472.2,2278.2 1468.7,2278.1 1467.0,2281.2 1465.3,2278.1 1461.8,2278.2 1463.6,2275.2 1461.8,2272.2 1465.3,2272.3" fill="none" stroke="#FF6666" stroke-width="2.0" stroke-linejoin="round"/>
<polyline points="1063.1,2316.3 1197.7,2310.7 1332.4,2300.7 1467.0,2299.3" fill="none" stroke="#FF66FF" stroke-width="2.1" stroke-linejoin="round"/>
<polygon points="1063.1,2322.6 1069.4,2310.9 1056.8,2310.9" fill="none" stroke="#FF66FF" stroke-width="2.1" stroke-miterlimit="3"/>
<polygon points="1197.7,2317.0 1204.0,2305.3 1191.4,2305.3" fill="none" stroke="#FF66FF" stroke-width="2.1" stroke-miterlimit="3"/>
<polygon points="1332.4,2307.0 1338.7,2295.3 1326.1,2295.3" fill="none" stroke="#FF66FF" stroke-width="2.1" stroke-miterlimit="3"/>
<polygon points="1467.0,2305.6 1473.3,2293.9 1460.7,2293.9" fill="none" stroke="#FF66FF" stroke-width="2.1" stroke-miterlimit="3"/>
<polyline points="1063.1,2313.5 1197.7,2297.9 1332.4,2252.5 1467.0,2180.8" fill="none" stroke="#000000" stroke-width="2.1" stroke-linejoin="round"/>




<polyline points="1063.1,2312.9 1197.7,2299.3 1332.4,2250.5 1467.0,2215.7" fill="none" stroke="#80FF00" stroke-width="2.1" stroke-linejoin="round"/>
<circle cx="1063.1" cy="2312.9" r="5.0" fill="none" stroke="#80FF00" stroke-width="2.1"/>
<circle cx="1197.7" cy="2299.3" r="5.0" fill="none" stroke="#80FF00" stroke-width="2.1"/>
<circle cx="1332.4" cy="2250.5" r="5.0" fill="none" stroke="#80FF00" stroke-width="2.1"/>
<circle cx="1467.0" cy="2215.7" r="5.0" fill="none" stroke="#80FF00" stroke-width="2.1"/>
<polyline points="1063.1,2316.3 1197.7,2311.2 1332.4,2306.4 1467.0,2296.5" fill="none" stroke="#FF0000" stroke-width="3.6" stroke-dasharray="14.5,14.5" stroke-linejoin="round"/>
<path d="M1057.7 2310.9L1068.5 2321.7M1057.7 2321.7L1068.5 2310.9" stroke="#FF0000" stroke-width="3.1"/>
<path d="M1192.3 2305.8L1203.1 2316.6M1192.3 2316.6L1203.1 2305.8" stroke="#FF0000" stroke-width="3.1"/>
<path d="M1327.0 2301.0L1337.8 2311.8M1327.0 2311.8L1337.8 2301.0" stroke="#FF0000" stroke-width="3.1"/>
<path d="M1461.6 2291.1L1472.4 2301.9M1461.6 2301.9L1472.4 2291.1" stroke="#FF0000" stroke-width="3.1"/>
<text x="1064.1" y="2009.8" class="t"><tspan font-size="27" dy="2.2">×</tspan><tspan dx="3.0" dy="-2.2">10</tspan><tspan font-size="18.2" dy="-12.0" dx="-1.6">4</tspan></text>
<text x="1263.8" y="2001.0" text-anchor="middle" class="ti">F23</text>
<rect x="1562.6" y="2014.6" width="404.1" height="301.8" fill="none" stroke="#000" stroke-width="2.0"/>
<path d="M1562.6 2316.4V2311.9M1562.6 2014.6V2019.1" stroke="#000" stroke-width="2"/>
<text x="1562.6" y="2344.1" text-anchor="middle" class="t">10</text>
<path d="M1697.3 2316.4V2311.9M1697.3 2014.6V2019.1" stroke="#000" stroke-width="2"/>
<text x="1697.3" y="2344.1" text-anchor="middle" class="t">30</text>
<path d="M1832.0 2316.4V2311.9M1832.0 2014.6V2019.1" stroke="#000" stroke-width="2"/>
<text x="1832.0" y="2344.1" text-anchor="middle" class="t">50</text>
<path d="M1966.7 2316.4V2311.9M1966.7 2014.6V2019.1" stroke="#000" stroke-width="2"/>
<text x="1966.7" y="2344.1" text-anchor="middle" class="t">100</text>
<path d="M1562.6 2013.5H1568.1M1966.7 2013.5H1961.2" stroke="#000" stroke-width="2"/>
<text x="1555.1" y="2026.1" text-anchor="end" class="t">10<tspan font-size="18.2" dy="-11.8">10</tspan></text>
<path d="M1562.6 2106.7H1568.1M1966.7 2106.7H1961.2" stroke="#000" stroke-width="2"/>
<text x="1555.1" y="2119.3" text-anchor="end" class="t">10<tspan font-size="18.2" dy="-11.8">8</tspan></text>
<path d="M1562.6 2199.9H1568.1M1966.7 2199.9H1961.2" stroke="#000" stroke-width="2"/>
<text x="1555.1" y="2212.5" text-anchor="end" class="t">10<tspan font-size="18.2" dy="-11.8">6</tspan></text>
<path d="M1562.6 2293.1H1568.1M1966.7 2293.1H1961.2" stroke="#000" stroke-width="2"/>
<text x="1555.1" y="2305.7" text-anchor="end" class="t">10<tspan font-size="18.2" dy="-11.8">4</tspan></text>
<path d="M1562.6 2311.6H1566.1M1966.7 2311.6H1963.2" stroke="#000" stroke-width="2"/>
<path d="M1562.6 2307.1H1566.1M1966.7 2307.1H1963.2" stroke="#000" stroke-width="2"/>
<path d="M1562.6 2303.4H1566.1M1966.7 2303.4H1963.2" stroke="#000" stroke-width="2"/>
<path d="M1562.6 2300.3H1566.1M1966.7 2300.3H1963.2" stroke="#000" stroke-width="2"/>
<path d="M1562.6 2297.6H1566.1M1966.7 2297.6H1963.2" stroke="#000" stroke-width="2"/>
<path d="M1562.6 2295.2H1566.1M1966.7 2295.2H1963.2" stroke="#000" stroke-width="2"/>
<path d="M1562.6 2279.1H1566.1M1966.7 2279.1H1963.2" stroke="#000" stroke-width="2"/>
<path d="M1562.6 2270.9H1566.1M1966.7 2270.9H1963.2" stroke="#000" stroke-width="2"/>
<path d="M1562.6 2265.0H1566.1M1966.7 2265.0H1963.2" stroke="#000" stroke-width="2"/>
<path d="M1562.6 2260.5H1566.1M1966.7 2260.5H1963.2" stroke="#000" stroke-width="2"/>
<path d="M1562.6 2256.8H1566.1M1966.7 2256.8H1963.2" stroke="#000" stroke-width="2"/>
<path d="M1562.6 2253.7H1566.1M1966.7 2253.7H1963.2" stroke="#000" stroke-width="2"/>
<path d="M1562.6 2251.0H1566.1M1966.7 2251.0H1963.2" stroke="#000" stroke-width="2"/>
<path d="M1562.6 2248.6H1566.1M1966.7 2248.6H1963.2" stroke="#000" stroke-width="2"/>
<path d="M1562.6 2246.5H1566.1M1966.7 2246.5H1963.2" stroke="#000" stroke-width="2"/>
<path d="M1562.6 2232.5H1566.1M1966.7 2232.5H1963.2" stroke="#000" stroke-width="2"/>
<path d="M1562.6 2224.3H1566.1M1966.7 2224.3H1963.2" stroke="#000" stroke-width="2"/>
<path d="M1562.6 2218.4H1566.1M1966.7 2218.4H1963.2" stroke="#000" stroke-width="2"/>
<path d="M1562.6 2213.9H1566.1M1966.7 2213.9H1963.2" stroke="#000" stroke-width="2"/>
<path d="M1562.6 2210.2H1566.1M1966.7 2210.2H1963.2" stroke="#000" stroke-width="2"/>
<path d="M1562.6 2207.1H1566.1M1966.7 2207.1H1963.2" stroke="#000" stroke-width="2"/>
<path d="M1562.6 2204.4H1566.1M1966.7 2204.4H1963.2" stroke="#000" stroke-width="2"/>
<path d="M1562.6 2202.0H1566.1M1966.7 2202.0H1963.2" stroke="#000" stroke-width="2"/>
<path d="M1562.6 2185.9H1566.1M1966.7 2185.9H1963.2" stroke="#000" stroke-width="2"/>
<path d="M1562.6 2177.7H1566.1M1966.7 2177.7H1963.2" stroke="#000" stroke-width="2"/>
<path d="M1562.6 2171.8H1566.1M1966.7 2171.8H1963.2" stroke="#000" stroke-width="2"/>
<path d="M1562.6 2167.3H1566.1M1966.7 2167.3H1963.2" stroke="#000" stroke-width="2"/>
<path d="M1562.6 2163.6H1566.1M1966.7 2163.6H1963.2" stroke="#000" stroke-width="2"/>
<path d="M1562.6 2160.5H1566.1M1966.7 2160.5H1963.2" stroke="#000" stroke-width="2"/>
<path d="M1562.6 2157.8H1566.1M1966.7 2157.8H1963.2" stroke="#000" stroke-width="2"/>
<path d="M1562.6 2155.4H1566.1M1966.7 2155.4H1963.2" stroke="#000" stroke-width="2"/>
<path d="M1562.6 2153.3H1566.1M1966.7 2153.3H1963.2" stroke="#000" stroke-width="2"/>
<path d="M1562.6 2139.3H1566.1M1966.7 2139.3H1963.2" stroke="#000" stroke-width="2"/>
<path d="M1562.6 2131.1H1566.1M1966.7 2131.1H1963.2" stroke="#000" stroke-width="2"/>
<path d="M1562.6 2125.2H1566.1M1966.7 2125.2H1963.2" stroke="#000" stroke-width="2"/>
<path d="M1562.6 2120.7H1566.1M1966.7 2120.7H1963.2" stroke="#000" stroke-width="2"/>
<path d="M1562.6 2117.0H1566.1M1966.7 2117.0H1963.2" stroke="#000" stroke-width="2"/>
<path d="M1562.6 2113.9H1566.1M1966.7 2113.9H1963.2" stroke="#000" stroke-width="2"/>
<path d="M1562.6 2111.2H1566.1M1966.7 2111.2H1963.2" stroke="#000" stroke-width="2"/>
<path d="M1562.6 2108.8H1566.1M1966.7 2108.8H1963.2" stroke="#000" stroke-width="2"/>
<path d="M1562.6 2092.7H1566.1M1966.7 2092.7H1963.2" stroke="#000" stroke-width="2"/>
<path d="M1562.6 2084.5H1566.1M1966.7 2084.5H1963.2" stroke="#000" stroke-width="2"/>
<path d="M1562.6 2078.6H1566.1M1966.7 2078.6H1963.2" stroke="#000" stroke-width="2"/>
<path d="M1562.6 2074.1H1566.1M1966.7 2074.1H1963.2" stroke="#000" stroke-width="2"/>
<path d="M1562.6 2070.4H1566.1M1966.7 2070.4H1963.2" stroke="#000" stroke-width="2"/>
<path d="M1562.6 2067.3H1566.1M1966.7 2067.3H1963.2" stroke="#000" stroke-width="2"/>
<path d="M1562.6 2064.6H1566.1M1966.7 2064.6H1963.2" stroke="#000" stroke-width="2"/>
<path d="M1562.6 2062.2H1566.1M1966.7 2062.2H1963.2" stroke="#000" stroke-width="2"/>
<path d="M1562.6 2060.1H1566.1M1966.7 2060.1H1963.2" stroke="#000" stroke-width="2"/>
<path d="M1562.6 2046.1H1566.1M1966.7 2046.1H1963.2" stroke="#000" stroke-width="2"/>
<path d="M1562.6 2037.9H1566.1M1966.7 2037.9H1963.2" stroke="#000" stroke-width="2"/>
<path d="M1562.6 2032.0H1566.1M1966.7 2032.0H1963.2" stroke="#000" stroke-width="2"/>
<path d="M1562.6 2027.5H1566.1M1966.7 2027.5H1963.2" stroke="#000" stroke-width="2"/>
<path d="M1562.6 2023.8H1566.1M1966.7 2023.8H1963.2" stroke="#000" stroke-width="2"/>
<path d="M1562.6 2020.7H1566.1M1966.7 2020.7H1963.2" stroke="#000" stroke-width="2"/>
<path d="M1562.6 2018.0H1566.1M1966.7 2018.0H1963.2" stroke="#000" stroke-width="2"/>
<polyline points="1562.6,2133.5 1697.3,2102.3 1832.0,2068.3 1966.7,2055.5" fill="none" stroke="#000080" stroke-width="2.1" stroke-linejoin="round"/>
<path d="M1557.0 2133.5H1568.2M1562.6 2127.9V2139.1M1558.6 2129.5L1566.6 2137.5M1558.6 2137.5L1566.6 2129.5" stroke="#000080" stroke-width="2.2"/>
<path d="M1691.7 2102.3H1702.9M1697.3 2096.7V2107.9M1693.3 2098.3L1701.3 2106.3M1693.3 2106.3L1701.3 2098.3" stroke="#000080" stroke-width="2.2"/>
<path d="M1826.4 2068.3H1837.6M1832.0 2062.7V2073.9M1828.0 2064.3L1836.0 2072.3M1828.0 2072.3L1836.0 2064.3" stroke="#000080" stroke-width="2.2"/>
<path d="M1961.1 2055.5H1972.3M1966.7 2049.9V2061.1M1962.7 2051.5L1970.7 2059.5M1962.7 2059.5L1970.7 2051.5" stroke="#000080" stroke-width="2.2"/>
<polyline points="1562.6,2315.8 1697.3,2309.2 1832.0,2303.6 1966.7,2288.0" fill="none" stroke="#0000FF" stroke-width="2.1" stroke-linejoin="round"/>
<path d="M1557.3 2315.8H1567.9M1562.6 2310.5V2321.1" stroke="#0000FF" stroke-width="2.2"/>
<path d="M1692.0 2309.2H1702.6M1697.3 2303.9V2314.5" stroke="#0000FF" stroke-width="2.2"/>
<path d="M1826.7 2303.6H1837.3M1832.0 2298.3V2308.9" stroke="#0000FF" stroke-width="2.2"/>
<path d="M1961.4 2288.0H1972.0M1966.7 2282.7V2293.3" stroke="#0000FF" stroke-width="2.2"/>
<polyline points="1562.6,2314.9 1697.3,2306.4 1832.0,2292.2 1966.7,2271.0" fill="none" stroke="#008080" stroke-width="2.1" stroke-linejoin="round"/>
<polygon points="1556.3,2314.9 1568.0,2308.6 1568.0,2321.2" fill="none" stroke="#008080" stroke-width="2.1" stroke-miterlimit="3"/>
<polygon points="1691.0,2306.4 1702.7,2300.1 1702.7,2312.7" fill="none" stroke="#008080" stroke-width="2.1" stroke-miterlimit="3"/>
<polygon points="1825.7,2292.2 1837.4,2285.9 1837.4,2298.5" fill="none" stroke="#008080" stroke-width="2.1" stroke-miterlimit="3"/>
<polygon points="1960.4,2271.0 1972.1,2264.7 1972.1,2277.3" fill="none" stroke="#008080" stroke-width="2.1" stroke-miterlimit="3"/>
<polyline points="1562.6,2315.8 1697.3,2309.2 1832.0,2305.6 1966.7,2292.2" fill="none" stroke="#0080FF" stroke-width="2.1" stroke-linejoin="round"/>
<polygon points="1568.9,2315.8 1557.2,2309.5 1557.2,2322.1" fill="none" stroke="#0080FF" stroke-width="2.1" stroke-miterlimit="3"/>
<polygon points="1703.6,2309.2 1691.9,2302.9 1691.9,2315.5" fill="none" stroke="#0080FF" stroke-width="2.1" stroke-miterlimit="3"/>
<polygon points="1838.3,2305.6 1826.6,2299.3 1826.6,2311.9" fill="none" stroke="#0080FF" stroke-width="2.1" stroke-miterlimit="3"/>
<polygon points="1973.0,2292.2 1961.3,2285.9 1961.3,2298.5" fill="none" stroke="#0080FF" stroke-width="2.1" stroke-miterlimit="3"/>
<polyline points="1562.6,2313.5 1697.3,2303.6 1832.0,2263.9 1966.7,2187.3" fill="none" stroke="#00FF80" stroke-width="2.1" stroke-linejoin="round"/>
<polygon points="1562.6,2307.2 1568.9,2318.9 1556.3,2318.9" fill="none" stroke="#00FF80" stroke-width="2.1" stroke-miterlimit="3"/>
<polygon points="1697.3,2297.3 1703.6,2309.0 1691.0,2309.0" fill="none" stroke="#00FF80" stroke-width="2.1" stroke-miterlimit="3"/>
<polygon points="1832.0,2257.6 1838.3,2269.3 1825.7,2269.3" fill="none" stroke="#00FF80" stroke-width="2.1" stroke-miterlimit="3"/>
<polygon points="1966.7,2181.0 1973.0,2192.7 1960.4,2192.7" fill="none" stroke="#00FF80" stroke-width="2.1" stroke-miterlimit="3"/>
<polyline points="1562.6,2315.8 1697.3,2308.4 1832.0,2305.0 1966.7,2290.8" fill="none" stroke="#00FFFF" stroke-width="2.1" stroke-linejoin="round"/>
<path d="M1557.3 2315.8H1567.9M1562.6 2310.5V2321.1" stroke="#00FFFF" stroke-width="2.2"/>
<path d="M1692.0 2308.4H1702.6M1697.3 2303.1V2313.7" stroke="#00FFFF" stroke-width="2.2"/>
<path d="M1826.7 2305.0H1837.3M1832.0 2299.7V2310.3" stroke="#00FFFF" stroke-width="2.2"/>
<path d="M1961.4 2290.8H1972.0M1966.7 2285.5V2296.1" stroke="#00FFFF" stroke-width="2.2"/>
<polyline points="1562.6,2316.3 1697.3,2310.1 1832.0,2306.4 1966.7,2293.6" fill="none" stroke="#800080" stroke-width="2.1" stroke-linejoin="round"/>
<circle cx="1562.6" cy="2316.3" r="5.0" fill="none" stroke="#800080" stroke-width="2.1"/>
<circle cx="1697.3" cy="2310.1" r="5.0" fill="none" stroke="#800080" stroke-width="2.1"/>
<circle cx="1832.0" cy="2306.4" r="5.0" fill="none" stroke="#800080" stroke-width="2.1"/>
<circle cx="1966.7" cy="2293.6" r="5.0" fill="none" stroke="#800080" stroke-width="2.1"/>
<polyline points="1562.6,2316.3 1697.3,2311.2 1832.0,2309.2 1966.7,2296.5" fill="none" stroke="#8000FF" stroke-width="2.1" stroke-linejoin="round"/>
<rect x="1558.5" y="2312.2" width="8.2" height="8.2" fill="none" stroke="#8000FF" stroke-width="2.3"/>
<rect x="1693.2" y="2307.1" width="8.2" height="8.2" fill="none" stroke="#8000FF" stroke-width="2.3"/>
<rect x="1827.9" y="2305.1" width="8.2" height="8.2" fill="none" stroke="#8000FF" stroke-width="2.3"/>
<rect x="1962.6" y="2292.4" width="8.2" height="8.2" fill="none" stroke="#8000FF" stroke-width="2.3"/>
<polyline points="1562.6,2315.8 1697.3,2307.8 1832.0,2303.6 1966.7,2283.7" fill="none" stroke="#FF0080" stroke-width="2.1" stroke-linejoin="round"/>
<polygon points="1562.6,2309.8 1567.8,2315.8 1562.6,2321.8 1557.4,2315.8" fill="none" stroke="#FF0080" stroke-width="2.1"/>
<polygon points="1697.3,2301.8 1702.5,2307.8 1697.3,2313.8 1692.1,2307.8" fill="none" stroke="#FF0080" stroke-width="2.1"/>
<polygon points="1832.0,2297.6 1837.2,2303.6 1832.0,2309.6 1826.8,2303.6" fill="none" stroke="#FF0080" stroke-width="2.1"/>
<polygon points="1966.7,2277.7 1971.9,2283.7 1966.7,2289.7 1961.5,2283.7" fill="none" stroke="#FF0080" stroke-width="2.1"/>
<polyline points="1562.6,2316.3 1697.3,2311.2 1832.0,2308.4 1966.7,2297.9" fill="none" stroke="#FF00FF" stroke-width="2.1" stroke-linejoin="round"/>
<polygon points="1562.6,2309.4 1564.1,2314.4 1568.7,2314.5 1565.1,2317.7 1566.3,2322.8 1562.6,2319.8 1558.9,2322.8 1560.1,2317.7 1556.5,2314.5 1561.1,2314.4" fill="#FF00FF" stroke="#FF00FF" stroke-width="1.2" stroke-linejoin="round"/>
<polygon points="1697.3,2304.3 1698.8,2309.3 1703.4,2309.4 1699.8,2312.6 1701.0,2317.7 1697.3,2314.7 1693.6,2317.7 1694.8,2312.6 1691.2,2309.4 1695.8,2309.3" fill="#FF00FF" stroke="#FF00FF" stroke-width="1.2" stroke-linejoin="round"/>
<polygon points="1832.0,2301.5 1833.5,2306.5 1838.1,2306.6 1834.5,2309.8 1835.7,2314.9 1832.0,2311.9 1828.3,2314.9 1829.5,2309.8 1825.9,2306.6 1830.5,2306.5" fill="#FF00FF" stroke="#FF00FF" stroke-width="1.2" stroke-linejoin="round"/>
<polygon points="1966.7,2291.0 1968.2,2296.0 1972.8,2296.1 1969.2,2299.3 1970.4,2304.4 1966.7,2301.4 1963.0,2304.4 1964.2,2299.3 1960.6,2296.1 1965.2,2296.0" fill="#FF00FF" stroke="#FF00FF" stroke-width="1.2" stroke-linejoin="round"/>
<polyline points="1562.6,2316.3 1697.3,2310.1 1832.0,2306.4 1966.7,2295.0" fill="none" stroke="#FF6666" stroke-width="2.1" stroke-linejoin="round"/>
<polygon points="1562.6,2310.3 1564.3,2313.4 1567.8,2313.3 1566.0,2316.3 1567.8,2319.3 1564.3,2319.2 1562.6,2322.3 1560.9,2319.2 1557.4,2319.3 1559.2,2316.3 1557.4,2313.3 1560.9,2313.4" fill="none" stroke="#FF6666" stroke-width="2.0" stroke-linejoin="round"/>
<polygon points="1697.3,2304.1 1699.0,2307.2 1702.5,2307.1 1700.7,2310.1 1702.5,2313.1 1699.0,2313.0 1697.3,2316.1 1695.6,2313.0 1692.1,2313.1 1693.9,2310.1 1692.1,2307.1 1695.6,2307.2" fill="none" stroke="#FF6666" stroke-width="2.0" stroke-linejoin="round"/>
<polygon points="1832.0,2300.4 1833.7,2303.5 1837.2,2303.4 1835.4,2306.4 1837.2,2309.4 1833.7,2309.3 1832.0,2312.4 1830.3,2309.3 1826.8,2309.4 1828.6,2306.4 1826.8,2303.4 1830.3,2303.5" fill="none" stroke="#FF6666" stroke-width="2.0" stroke-linejoin="round"/>
<polygon points="1966.7,2289.0 1968.4,2292.1 1971.9,2292.0 1970.1,2295.0 1971.9,2298.0 1968.4,2297.9 1966.7,2301.0 1965.0,2297.9 1961.5,2298.0 1963.3,2295.0 1961.5,2292.0 1965.0,2292.1" fill="none" stroke="#FF6666" stroke-width="2.0" stroke-linejoin="round"/>
<polyline points="1562.6,2316.3 1697.3,2311.2 1832.0,2309.2 1966.7,2299.3" fill="none" stroke="#FF66FF" stroke-width="2.1" stroke-linejoin="round"/>
<polygon points="1562.6,2322.6 1568.9,2310.9 1556.3,2310.9" fill="none" stroke="#FF66FF" stroke-width="2.1" stroke-miterlimit="3"/>
<polygon points="1697.3,2317.5 1703.6,2305.8 1691.0,2305.8" fill="none" stroke="#FF66FF" stroke-width="2.1" stroke-miterlimit="3"/>
<polygon points="1832.0,2315.5 1838.3,2303.8 1825.7,2303.8" fill="none" stroke="#FF66FF" stroke-width="2.1" stroke-miterlimit="3"/>
<polygon points="1966.7,2305.6 1973.0,2293.9 1960.4,2293.9" fill="none" stroke="#FF66FF" stroke-width="2.1" stroke-miterlimit="3"/>
<polyline points="1562.6,2314.9 1697.3,2306.4 1832.0,2294.2 1966.7,2268.1" fill="none" stroke="#000000" stroke-width="2.1" stroke-linejoin="round"/>




<polyline points="1562.6,2314.9 1697.3,2305.0 1832.0,2292.2 1966.7,2278.0" fill="none" stroke="#80FF00" stroke-width="2.1" stroke-linejoin="round"/>
<circle cx="1562.6" cy="2314.9" r="5.0" fill="none" stroke="#80FF00" stroke-width="2.1"/>
<circle cx="1697.3" cy="2305.0" r="5.0" fill="none" stroke="#80FF00" stroke-width="2.1"/>
<circle cx="1832.0" cy="2292.2" r="5.0" fill="none" stroke="#80FF00" stroke-width="2.1"/>
<circle cx="1966.7" cy="2278.0" r="5.0" fill="none" stroke="#80FF00" stroke-width="2.1"/>
<polyline points="1562.6,2316.3 1697.3,2314.0 1832.0,2311.2 1966.7,2299.9" fill="none" stroke="#FF0000" stroke-width="3.6" stroke-dasharray="14.5,14.5" stroke-linejoin="round"/>
<path d="M1557.2 2310.9L1568.0 2321.7M1557.2 2321.7L1568.0 2310.9" stroke="#FF0000" stroke-width="3.1"/>
<path d="M1691.9 2308.6L1702.7 2319.4M1691.9 2319.4L1702.7 2308.6" stroke="#FF0000" stroke-width="3.1"/>
<path d="M1826.6 2305.8L1837.4 2316.6M1826.6 2316.6L1837.4 2305.8" stroke="#FF0000" stroke-width="3.1"/>
<path d="M1961.3 2294.5L1972.1 2305.3M1961.3 2305.3L1972.1 2294.5" stroke="#FF0000" stroke-width="3.1"/>
<text x="1763.4" y="2001.0" text-anchor="middle" class="ti">F24</text>
</svg>
</body></html>
